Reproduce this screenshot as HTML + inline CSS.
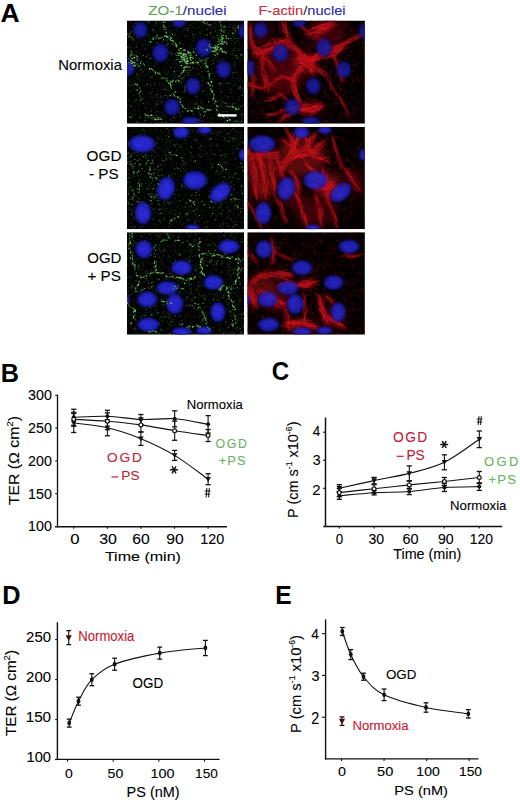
<!DOCTYPE html>
<html><head><meta charset="utf-8"><style>
html,body{margin:0;padding:0;background:#fff;}
svg{display:block;}
text{font-family:"Liberation Sans", sans-serif;}
</style></head><body>
<svg width="520" height="802" viewBox="0 0 520 802">
<rect width="520" height="802" fill="#fff"/>
<defs><radialGradient id="nucg0" cx="50%" cy="50%" r="50%"><stop offset="0" stop-color="#1c1ca8"/><stop offset="0.5" stop-color="#1a1a9e"/><stop offset="0.8" stop-color="#10107a"/><stop offset="1" stop-color="#0a0a50" stop-opacity="0"/></radialGradient><radialGradient id="nucg1" cx="50%" cy="50%" r="50%"><stop offset="0" stop-color="#2c2cdc"/><stop offset="0.5" stop-color="#2828d0"/><stop offset="0.8" stop-color="#1c1ca8"/><stop offset="1" stop-color="#0a0a50" stop-opacity="0"/></radialGradient><radialGradient id="nucg2" cx="50%" cy="50%" r="50%"><stop offset="0" stop-color="#2a2ad8"/><stop offset="0.5" stop-color="#2626cc"/><stop offset="0.8" stop-color="#1a1aa4"/><stop offset="1" stop-color="#0a0a50" stop-opacity="0"/></radialGradient><filter id="bl1" x="-20%" y="-20%" width="140%" height="140%"><feGaussianBlur stdDeviation="0.55"/></filter><filter id="bl2" x="-20%" y="-20%" width="140%" height="140%"><feGaussianBlur stdDeviation="0.9"/></filter><filter id="bl3" x="-50%" y="-50%" width="200%" height="200%"><feGaussianBlur stdDeviation="5"/></filter>
<clipPath id="cp00"><rect x="127" y="20.5" width="117.1" height="103.2"/></clipPath>
<clipPath id="cp01"><rect x="127" y="126.9" width="117.1" height="102.29999999999998"/></clipPath>
<clipPath id="cp02"><rect x="127" y="232.2" width="117.1" height="102.5"/></clipPath>
<clipPath id="cp10"><rect x="247.3" y="20.5" width="117.59999999999997" height="103.2"/></clipPath>
<clipPath id="cp11"><rect x="247.3" y="126.9" width="117.59999999999997" height="102.29999999999998"/></clipPath>
<clipPath id="cp12"><rect x="247.3" y="232.2" width="117.59999999999997" height="102.5"/></clipPath>
</defs>
<g clip-path="url(#cp00)">
<rect x="127" y="20.5" width="117.1" height="103.2" fill="#020402"/>
<g filter="url(#bl1)"><path d="M180.0 78.3h.2M136.7 46.7h.2M152.0 47.2h.2M225.2 29.1h.2M201.3 103.4h.2M237.9 72.1h.2M194.8 91.6h.2M230.0 92.2h.2M214.6 23.3h.2M211.2 46.4h.2M195.2 63.8h.2M221.8 84.9h.2M155.7 43.3h.2M212.7 82.2h.2M165.0 35.3h.2M193.6 37.5h.2M238.4 38.4h.2M154.6 66.0h.2M133.7 95.6h.2M230.3 54.1h.2M140.2 67.1h.2M165.3 55.0h.2M172.9 84.3h.2M133.0 27.1h.2M134.5 58.1h.2M221.0 105.9h.2M238.3 107.2h.2M211.0 110.3h.2M139.0 111.3h.2" fill="none" stroke="rgb(42,52,42)" stroke-width="1.2" stroke-opacity="1" stroke-linecap="round"/><path d="M181.5 72.9h.2M228.2 121.1h.2M135.6 29.8h.2M170.5 67.3h.2M188.1 118.2h.2M200.2 60.0h.2M185.4 72.1h.2M233.4 117.5h.2M209.1 99.1h.2M136.2 29.1h.2M129.8 90.4h.2M172.4 40.6h.2M150.1 57.6h.2M210.1 45.0h.2M198.7 73.5h.2M241.0 34.5h.2M213.4 59.9h.2M232.0 114.7h.2M153.0 97.6h.2M204.5 111.8h.2M233.3 21.2h.2M135.5 114.1h.2M152.6 37.1h.2M193.4 114.6h.2M167.6 112.5h.2M238.8 57.9h.2M148.6 21.9h.2M164.9 22.5h.2M156.2 103.6h.2M134.8 81.3h.2M210.7 64.3h.2M153.9 82.5h.2M200.5 66.6h.2M209.4 44.8h.2" fill="none" stroke="rgb(36,45,36)" stroke-width="1.2" stroke-opacity="1" stroke-linecap="round"/><path d="M149.2 103.5h.2M241.4 33.5h.2M147.9 21.6h.2M207.7 118.1h.2M235.1 48.3h.2M224.5 103.4h.2M198.8 113.9h.2M215.2 22.3h.2M219.2 62.1h.2M215.8 98.1h.2M137.7 77.9h.2M226.3 97.6h.2M220.6 32.9h.2M145.6 62.0h.2M233.3 103.5h.2M145.7 84.7h.2M159.1 44.0h.2M150.7 110.0h.2M221.0 99.8h.2M228.6 33.6h.2" fill="none" stroke="rgb(33,41,33)" stroke-width="1.2" stroke-opacity="1" stroke-linecap="round"/><path d="M200.8 102.3h.2M192.9 31.6h.2M128.8 62.8h.2M165.2 121.9h.2M152.5 123.5h.2M235.0 82.9h.2M221.2 47.2h.2M169.4 21.5h.2M233.5 24.3h.2M158.6 94.4h.2M169.1 91.4h.2M137.8 35.0h.2M181.2 93.1h.2M153.5 36.7h.2M167.1 87.7h.2M207.8 105.7h.2M198.7 51.0h.2M233.0 53.7h.2M219.5 35.2h.2M196.2 76.8h.2" fill="none" stroke="rgb(21,26,21)" stroke-width="1.2" stroke-opacity="1" stroke-linecap="round"/><path d="M179.3 35.1h.2M188.2 107.6h.2M207.9 27.3h.2M139.4 24.4h.2M200.0 31.1h.2M205.7 71.4h.2M200.4 117.7h.2M234.1 55.8h.2M243.3 48.0h.2M238.7 98.4h.2M210.5 46.7h.2M190.6 78.4h.2M219.8 33.3h.2M147.1 111.3h.2M167.7 39.4h.2M195.2 92.9h.2M160.5 97.8h.2M150.5 77.4h.2M130.8 56.8h.2M173.4 26.4h.2M227.4 118.0h.2M151.7 97.2h.2M177.7 44.2h.2" fill="none" stroke="rgb(35,43,35)" stroke-width="1.2" stroke-opacity="1" stroke-linecap="round"/><path d="M221.8 92.1h.2M228.6 64.8h.2M171.2 76.1h.2M235.5 30.3h.2M243.0 113.7h.2M185.0 83.6h.2M174.9 91.1h.2M232.1 97.7h.2M155.7 93.4h.2M229.9 24.6h.2M217.9 39.0h.2M218.5 65.9h.2M155.6 116.7h.2M232.9 53.6h.2M185.9 61.4h.2M164.6 70.4h.2M224.3 101.7h.2M152.3 120.7h.2M176.7 28.4h.2M190.3 63.8h.2M173.1 45.1h.2M167.4 42.8h.2M230.8 28.0h.2M228.4 110.3h.2M181.9 77.4h.2M135.4 71.8h.2" fill="none" stroke="rgb(19,23,19)" stroke-width="1.2" stroke-opacity="1" stroke-linecap="round"/><path d="M196.7 61.4h.2M137.8 34.8h.2M208.3 67.7h.2M132.5 85.4h.2M220.3 117.9h.2M167.8 29.0h.2M216.5 54.2h.2M228.8 103.3h.2M193.5 104.6h.2M233.3 55.4h.2M221.4 106.6h.2M158.2 111.6h.2M147.1 66.0h.2M242.7 24.0h.2M185.1 65.4h.2M242.5 35.4h.2M191.6 45.4h.2M224.7 75.7h.2M154.9 31.6h.2M130.6 90.9h.2" fill="none" stroke="rgb(32,40,32)" stroke-width="1.2" stroke-opacity="1" stroke-linecap="round"/><path d="M203.6 84.0h.2M134.0 102.8h.2M179.2 26.7h.2M238.2 49.1h.2M224.3 78.5h.2M200.5 56.4h.2M215.9 25.2h.2M155.7 24.9h.2M224.9 78.6h.2M198.0 36.7h.2M133.2 79.5h.2M190.6 74.7h.2M142.4 85.6h.2M215.8 58.0h.2M202.0 99.3h.2M191.0 78.7h.2M187.4 121.3h.2M235.8 72.1h.2M133.1 66.8h.2M161.8 104.6h.2M145.3 40.3h.2M224.5 108.8h.2M163.2 28.6h.2M224.6 95.3h.2M158.0 42.5h.2M185.5 101.0h.2M238.0 53.8h.2M145.2 28.0h.2" fill="none" stroke="rgb(23,28,23)" stroke-width="1.2" stroke-opacity="1" stroke-linecap="round"/><path d="M200.0 106.3h.2M153.9 50.3h.2M241.8 61.5h.2M197.1 28.2h.2M212.5 53.4h.2M168.2 91.2h.2M128.5 28.0h.2M187.3 52.5h.2M231.9 24.7h.2M242.9 33.1h.2M142.7 90.8h.2M187.0 22.1h.2M162.0 100.5h.2M219.3 29.2h.2M231.2 92.1h.2M175.8 115.1h.2M243.8 89.3h.2M148.7 77.0h.2M219.5 111.6h.2M205.2 68.3h.2M154.5 85.8h.2M209.8 42.8h.2M198.8 27.1h.2M213.4 111.1h.2M129.8 77.8h.2M179.7 52.7h.2M217.3 77.2h.2" fill="none" stroke="rgb(20,25,20)" stroke-width="1.2" stroke-opacity="1" stroke-linecap="round"/><path d="M134.0 40.1h.2M233.4 104.9h.2M204.3 66.1h.2M189.6 24.2h.2M235.2 33.2h.2M238.6 96.3h.2M159.6 45.2h.2M243.2 67.8h.2M243.0 88.4h.2M150.2 29.1h.2M160.8 113.1h.2M155.6 107.6h.2M182.7 31.4h.2M190.8 88.3h.2M154.6 71.0h.2M160.3 93.1h.2M144.5 40.4h.2M228.9 87.5h.2M242.6 64.9h.2M219.2 71.1h.2M150.3 63.2h.2M203.3 26.8h.2" fill="none" stroke="rgb(25,31,25)" stroke-width="1.2" stroke-opacity="1" stroke-linecap="round"/><path d="M197.2 100.8h.2M158.6 29.5h.2M209.4 102.4h.2M150.7 38.0h.2M225.6 85.0h.2M189.9 102.1h.2M197.2 72.5h.2M236.3 34.2h.2M211.6 27.8h.2M195.1 95.1h.2M183.7 57.0h.2M170.2 30.5h.2M152.6 88.3h.2M159.0 31.4h.2M173.2 55.4h.2M237.8 120.0h.2M177.8 100.1h.2M223.2 60.3h.2M192.2 41.6h.2M183.0 63.6h.2M155.6 51.4h.2M139.4 95.4h.2M203.1 26.5h.2M225.3 32.8h.2M134.0 60.1h.2M155.1 30.1h.2M195.6 68.9h.2M202.2 60.2h.2M185.9 62.1h.2M151.0 111.4h.2M132.4 26.1h.2M156.5 63.9h.2" fill="none" stroke="rgb(28,35,28)" stroke-width="1.2" stroke-opacity="1" stroke-linecap="round"/><path d="M178.6 107.4h.2M206.9 39.9h.2M132.6 31.8h.2M224.3 60.0h.2M191.4 87.9h.2M234.3 69.1h.2M226.6 120.4h.2M236.6 115.4h.2M240.4 32.4h.2M154.8 66.3h.2M233.1 77.3h.2M173.8 117.0h.2M160.0 22.8h.2M239.2 86.6h.2M220.8 60.2h.2M234.8 64.6h.2M210.5 122.3h.2M193.3 113.9h.2M141.4 27.9h.2M178.6 75.0h.2M183.0 92.1h.2M157.2 43.2h.2M165.1 38.8h.2M181.7 106.8h.2M132.0 115.4h.2M174.9 67.6h.2M141.5 30.3h.2" fill="none" stroke="rgb(34,42,34)" stroke-width="1.2" stroke-opacity="1" stroke-linecap="round"/><path d="M154.4 50.9h.2M226.1 60.4h.2M142.8 93.5h.2M209.1 119.9h.2M130.5 72.1h.2M234.8 46.9h.2M157.7 94.6h.2M128.1 47.3h.2M242.4 56.5h.2M144.1 116.9h.2M227.6 113.3h.2M234.3 80.9h.2M211.7 108.9h.2M188.1 122.2h.2M185.0 69.3h.2M141.1 54.6h.2M232.3 84.9h.2M218.1 74.7h.2M199.9 52.2h.2M128.5 83.5h.2" fill="none" stroke="rgb(18,22,18)" stroke-width="1.2" stroke-opacity="1" stroke-linecap="round"/><path d="M204.6 67.7h.2M176.3 42.5h.2M198.1 90.5h.2M150.2 105.5h.2M167.1 64.0h.2M141.4 73.2h.2M128.3 47.2h.2M189.1 70.4h.2M172.6 75.1h.2M186.6 66.1h.2M147.3 74.1h.2M141.1 91.8h.2M226.8 82.8h.2M199.7 74.7h.2M223.1 38.2h.2M208.0 57.9h.2M141.7 96.9h.2M158.4 48.5h.2M139.5 116.8h.2M199.2 105.9h.2M174.1 93.3h.2M211.8 72.7h.2M144.8 68.9h.2M220.4 73.3h.2M163.9 85.5h.2M195.0 24.8h.2" fill="none" stroke="rgb(26,32,26)" stroke-width="1.2" stroke-opacity="1" stroke-linecap="round"/><path d="M174.6 77.4h.2M142.9 71.7h.2M184.8 53.0h.2M180.3 23.1h.2M184.7 55.6h.2M129.7 85.8h.2M193.7 57.4h.2M214.2 100.8h.2M211.6 68.8h.2M167.2 97.4h.2M234.1 62.9h.2M148.1 62.0h.2M232.0 40.7h.2M176.8 92.3h.2M228.5 66.1h.2M196.1 92.5h.2" fill="none" stroke="rgb(44,55,44)" stroke-width="1.2" stroke-opacity="1" stroke-linecap="round"/><path d="M226.2 20.6h.2M162.6 111.8h.2M135.7 42.4h.2M165.3 89.2h.2M152.7 115.5h.2M140.2 69.1h.2M172.4 67.0h.2M218.3 22.9h.2M189.0 37.0h.2M228.2 75.6h.2M164.0 53.0h.2M207.2 22.3h.2M144.2 39.5h.2M176.9 57.1h.2M177.5 39.2h.2M187.3 71.9h.2M200.1 67.5h.2M185.8 87.9h.2M171.0 37.8h.2M186.2 22.5h.2M243.1 103.0h.2M205.1 47.0h.2M189.1 47.4h.2M243.9 93.4h.2M241.4 69.3h.2M150.7 85.8h.2M206.5 109.5h.2M179.9 59.4h.2M243.8 110.4h.2M187.2 21.6h.2M204.1 42.0h.2" fill="none" stroke="rgb(24,30,24)" stroke-width="1.2" stroke-opacity="1" stroke-linecap="round"/><path d="M235.6 25.9h.2M176.1 60.1h.2M198.5 106.2h.2M237.1 40.8h.2M234.1 111.3h.2M193.0 86.6h.2M200.3 114.4h.2M180.2 96.8h.2M162.0 42.8h.2M193.7 75.5h.2M132.9 40.7h.2M183.1 47.4h.2M202.0 66.6h.2M188.8 32.7h.2M173.0 107.5h.2M221.2 70.1h.2M163.1 114.9h.2M141.1 114.4h.2M224.1 111.3h.2M127.1 76.6h.2M220.8 33.4h.2M193.6 48.8h.2M194.5 44.0h.2M148.4 22.8h.2M222.2 27.7h.2M144.3 86.0h.2M140.7 39.3h.2M180.3 116.9h.2M241.3 122.9h.2" fill="none" stroke="rgb(30,37,30)" stroke-width="1.2" stroke-opacity="1" stroke-linecap="round"/><path d="M193.3 41.0h.2M140.2 101.0h.2M221.5 119.4h.2M232.5 74.0h.2M201.3 55.9h.2M154.2 118.0h.2M202.5 77.2h.2M141.6 66.2h.2M159.6 98.5h.2M178.6 81.9h.2M193.4 23.3h.2M242.6 117.5h.2M202.1 24.4h.2M148.2 44.8h.2M156.1 71.8h.2M152.3 91.6h.2M210.8 92.3h.2M201.3 58.4h.2M200.9 61.4h.2M143.6 80.0h.2M207.8 67.3h.2M166.0 80.8h.2M181.4 53.1h.2" fill="none" stroke="rgb(39,48,39)" stroke-width="1.2" stroke-opacity="1" stroke-linecap="round"/><path d="M149.3 96.0h.2M202.2 30.9h.2M160.0 75.3h.2M227.8 57.3h.2M214.1 104.6h.2M216.5 54.3h.2M170.1 60.8h.2M136.9 85.9h.2M176.4 63.9h.2M212.6 51.8h.2M152.9 25.6h.2M143.3 41.7h.2M150.4 68.8h.2M191.2 39.7h.2M155.2 112.4h.2M149.0 73.5h.2M151.0 78.7h.2M208.2 102.1h.2M230.1 65.1h.2" fill="none" stroke="rgb(22,27,22)" stroke-width="1.2" stroke-opacity="1" stroke-linecap="round"/><path d="M148.9 123.3h.2M172.9 63.9h.2M192.5 108.5h.2M170.1 35.3h.2M189.8 72.4h.2M164.1 40.3h.2M164.7 57.2h.2M189.0 108.3h.2M145.0 106.8h.2M163.3 114.5h.2M221.2 28.0h.2M154.6 94.5h.2M219.5 88.6h.2M219.3 105.7h.2M243.2 104.9h.2M165.1 83.3h.2M142.0 98.5h.2M166.5 121.8h.2M203.1 77.1h.2M206.5 24.7h.2M233.7 26.2h.2M140.6 117.6h.2M158.1 59.2h.2" fill="none" stroke="rgb(37,46,37)" stroke-width="1.2" stroke-opacity="1" stroke-linecap="round"/><path d="M201.5 22.1h.2M131.1 22.3h.2M162.3 30.9h.2M188.7 82.2h.2M218.8 85.0h.2M145.8 44.7h.2M157.2 104.1h.2M156.1 57.8h.2M231.5 110.7h.2M144.5 33.8h.2M232.7 77.1h.2M165.5 116.4h.2M222.5 61.5h.2M134.5 100.7h.2M210.7 48.2h.2M168.6 31.1h.2M141.3 100.5h.2M240.4 54.9h.2M185.4 87.2h.2M140.9 28.2h.2M162.7 41.8h.2M139.4 35.3h.2M167.1 73.9h.2M220.3 36.2h.2M147.9 54.9h.2" fill="none" stroke="rgb(29,36,29)" stroke-width="1.2" stroke-opacity="1" stroke-linecap="round"/><path d="M183.6 79.8h.2M135.7 23.7h.2M157.0 89.8h.2M220.9 93.2h.2M175.7 74.2h.2M172.2 120.6h.2M137.5 67.4h.2M217.4 30.0h.2M217.4 35.4h.2M127.2 105.3h.2M238.9 81.0h.2M140.3 100.2h.2M143.2 98.5h.2M231.1 68.3h.2M240.2 89.2h.2M187.5 72.7h.2M235.2 38.8h.2M225.2 66.9h.2M174.5 60.4h.2M161.9 89.7h.2M158.9 59.4h.2M127.4 77.0h.2M159.4 117.4h.2M199.2 112.1h.2M180.2 75.8h.2M175.2 34.1h.2" fill="none" stroke="rgb(45,56,45)" stroke-width="1.2" stroke-opacity="1" stroke-linecap="round"/><path d="M172.2 85.2h.2M232.4 121.7h.2M152.9 74.9h.2M228.9 83.4h.2M145.2 21.7h.2M147.2 36.8h.2M177.3 71.5h.2M183.3 72.4h.2M133.8 36.9h.2M176.5 80.6h.2M240.6 26.6h.2M174.1 114.5h.2M163.4 28.3h.2M171.0 76.2h.2M171.1 31.8h.2M194.4 67.3h.2M208.1 44.3h.2M130.6 113.2h.2M136.2 43.5h.2M154.9 35.6h.2M137.1 44.0h.2M152.1 68.8h.2M229.9 89.6h.2M142.9 72.8h.2M222.8 111.9h.2M235.3 71.6h.2M238.9 43.2h.2M140.8 33.2h.2" fill="none" stroke="rgb(27,33,27)" stroke-width="1.2" stroke-opacity="1" stroke-linecap="round"/><path d="M211.9 36.9h.2M139.8 75.8h.2M211.5 105.0h.2M209.5 41.2h.2M175.8 82.5h.2M193.1 81.6h.2M223.7 39.5h.2M155.8 37.2h.2M240.2 106.1h.2M232.6 36.2h.2M238.2 121.3h.2M205.1 49.1h.2M216.6 71.9h.2M182.3 71.1h.2M157.7 61.1h.2M199.7 50.6h.2M221.9 58.1h.2M140.0 39.8h.2M177.0 71.0h.2M232.6 27.9h.2M174.8 35.6h.2M238.5 28.6h.2M238.2 22.9h.2" fill="none" stroke="rgb(38,47,38)" stroke-width="1.2" stroke-opacity="1" stroke-linecap="round"/><path d="M230.3 82.8h.2M214.7 27.6h.2M201.9 123.0h.2M159.0 71.9h.2M211.0 92.9h.2M137.3 60.5h.2M131.8 41.2h.2M135.6 114.0h.2M138.4 104.7h.2M179.7 45.9h.2M197.3 69.0h.2M165.7 74.2h.2M161.7 84.1h.2M239.6 48.8h.2M239.1 100.9h.2M217.3 32.1h.2M171.3 25.6h.2M130.7 52.7h.2M200.5 84.6h.2M221.3 50.8h.2M240.6 78.3h.2M179.5 27.1h.2" fill="none" stroke="rgb(31,38,31)" stroke-width="1.2" stroke-opacity="1" stroke-linecap="round"/><path d="M239.7 45.1h.2M241.8 88.3h.2M183.3 44.3h.2M158.9 56.2h.2M145.6 108.1h.2M130.4 47.4h.2M197.4 21.9h.2M192.7 49.8h.2M169.9 32.6h.2M179.1 109.6h.2M150.7 109.1h.2M210.5 34.4h.2M131.1 82.1h.2M164.0 68.7h.2M217.0 56.7h.2M223.4 111.7h.2M220.3 61.0h.2M193.5 63.9h.2M242.8 25.5h.2M134.6 110.3h.2M171.3 104.8h.2M148.2 33.7h.2M238.8 50.7h.2" fill="none" stroke="rgb(40,50,40)" stroke-width="1.2" stroke-opacity="1" stroke-linecap="round"/><path d="M184.5 74.2h.2M135.8 76.9h.2M132.2 117.1h.2M212.3 60.6h.2M233.1 29.5h.2M195.7 34.6h.2M142.7 45.2h.2M129.7 84.0h.2M159.2 83.4h.2M217.0 66.4h.2M165.1 77.1h.2M136.6 51.9h.2M221.9 34.0h.2M205.2 90.2h.2M237.7 78.6h.2M234.9 84.8h.2M234.2 37.9h.2M230.0 123.6h.2M149.2 39.0h.2M201.3 122.0h.2M157.0 94.4h.2M201.9 80.3h.2M206.6 94.5h.2M199.7 74.1h.2M169.1 99.5h.2M209.7 47.4h.2M193.3 104.0h.2M167.4 61.5h.2M235.3 33.0h.2M213.4 52.8h.2M151.2 85.4h.2M243.5 91.9h.2M169.6 59.1h.2" fill="none" stroke="rgb(41,51,41)" stroke-width="1.2" stroke-opacity="1" stroke-linecap="round"/><path d="M229.0 63.6h.2M193.8 52.4h.2M158.2 100.9h.2M184.1 23.4h.2M147.2 55.1h.2M187.4 61.8h.2M180.7 115.5h.2M224.4 64.0h.2M243.5 86.3h.2M155.5 74.5h.2M234.0 65.7h.2M240.2 87.7h.2M220.1 100.4h.2M173.9 92.7h.2M180.2 62.1h.2M161.6 48.7h.2M160.3 46.4h.2M240.2 60.2h.2M139.2 22.5h.2M160.5 96.0h.2M170.7 52.4h.2M208.3 76.8h.2M166.4 34.9h.2M188.7 104.1h.2M180.1 42.1h.2" fill="none" stroke="rgb(43,53,43)" stroke-width="1.2" stroke-opacity="1" stroke-linecap="round"/><path d="M209.1 123.5h.3M155.9 63.2h.3M145.3 75.3h.3M137.5 79.6h.3M214.0 51.7h.3M215.7 103.9h.3M131.0 46.1h.3M241.1 114.6h.3M185.4 59.8h.3M176.8 36.9h.3M159.0 117.4h.3M221.1 47.5h.3M136.5 43.5h.3M237.6 121.4h.3M174.0 105.4h.3M198.7 27.0h.3M201.8 85.9h.3M201.0 68.2h.3M164.4 86.5h.3M168.3 26.5h.3M155.6 115.4h.3M181.7 91.8h.3M139.1 54.4h.3M188.2 70.8h.3M138.3 93.3h.3" fill="none" stroke="rgb(27,50,22)" stroke-width="1.0" stroke-opacity="1" stroke-linecap="round"/><path d="M244.1 88.2h.3M187.4 30.4h.3M156.7 104.2h.3M181.9 22.1h.3M169.9 106.4h.3M192.7 121.1h.3M192.4 67.9h.3M147.3 84.3h.3M210.5 32.8h.3M128.3 36.4h.3M240.1 86.9h.3M152.8 29.2h.3M171.8 53.8h.3M187.9 74.9h.3M225.4 42.2h.3M137.0 122.1h.3M143.2 55.6h.3M129.6 116.9h.3M151.8 76.9h.3M200.2 114.8h.3M207.3 35.0h.3M179.1 113.1h.3M135.4 32.5h.3M168.7 106.3h.3M164.9 22.0h.3M217.3 35.8h.3M241.8 54.4h.3M185.6 36.0h.3M166.0 36.1h.3M207.7 58.1h.3M211.1 50.5h.3M135.9 23.5h.3M159.5 73.1h.3M220.7 37.3h.3M204.3 115.4h.3M236.7 57.9h.3M202.0 48.4h.3M206.6 29.4h.3M236.9 121.2h.3M220.0 83.3h.3M130.7 32.0h.3M130.7 106.1h.3M197.8 107.9h.3M132.6 58.7h.3M135.2 28.1h.3M172.3 34.5h.3M205.5 44.5h.3M209.2 45.0h.3M190.3 79.1h.3M180.8 82.7h.3M240.8 55.2h.3M160.8 38.1h.3M173.9 71.9h.3M220.7 44.7h.3M140.8 69.6h.3M173.8 117.5h.3M163.4 39.7h.3M217.7 47.5h.3M199.9 33.4h.3M217.0 101.5h.3M199.5 119.8h.3" fill="none" stroke="rgb(82,150,67)" stroke-width="1.0" stroke-opacity="1" stroke-linecap="round"/><path d="M203.8 43.0h.3M136.8 37.7h.3M129.8 56.7h.3M219.4 51.6h.3M142.2 29.6h.3M232.2 104.1h.3M145.1 120.6h.3M192.6 34.7h.3M235.6 30.5h.3M224.9 26.9h.3M196.0 53.0h.3M222.9 101.9h.3M132.6 85.0h.3M213.3 63.7h.3M150.5 93.0h.3M186.9 70.2h.3M213.9 37.7h.3M146.2 56.6h.3M141.1 99.4h.3M156.2 22.6h.3M172.6 105.3h.3M227.1 83.4h.3M190.5 70.1h.3M167.8 44.5h.3M139.9 117.6h.3M229.1 26.8h.3M193.9 121.9h.3M188.0 28.5h.3M196.2 91.3h.3M166.0 45.1h.3M198.5 82.0h.3M163.4 27.3h.3M165.6 95.5h.3M178.7 25.1h.3M151.2 114.1h.3M242.2 95.4h.3M195.2 48.8h.3M161.5 102.3h.3M178.4 80.8h.3M129.8 64.3h.3M168.8 111.7h.3M198.7 64.8h.3M184.6 90.4h.3M167.6 78.2h.3M214.3 103.1h.3M171.4 20.7h.3M164.0 89.2h.3M241.6 115.1h.3M127.3 47.8h.3M233.7 50.5h.3" fill="none" stroke="rgb(68,125,56)" stroke-width="1.0" stroke-opacity="1" stroke-linecap="round"/><path d="M151.5 58.7h.3M193.0 27.5h.3M163.1 56.9h.3M242.9 81.3h.3M136.2 47.4h.3M162.1 96.8h.3M130.8 57.6h.3M128.0 62.5h.3M127.8 81.7h.3M133.2 30.1h.3M156.3 23.9h.3M179.4 65.6h.3M207.9 87.9h.3M165.0 34.9h.3M212.5 79.8h.3M234.9 103.3h.3M233.3 27.2h.3M172.3 32.6h.3M168.8 51.7h.3M218.8 43.0h.3M224.3 121.8h.3M231.1 89.4h.3M138.9 78.9h.3M168.5 72.0h.3M230.0 31.0h.3M157.0 43.1h.3M232.2 53.1h.3M170.5 119.4h.3M128.8 100.0h.3M147.6 36.0h.3M156.9 111.0h.3M136.2 99.3h.3M151.1 111.1h.3M237.7 40.4h.3M132.8 52.2h.3M235.2 72.5h.3M240.0 86.4h.3M184.2 24.5h.3M133.1 37.3h.3M156.4 97.2h.3M226.9 111.5h.3M145.5 118.3h.3M202.1 120.6h.3M190.1 25.7h.3M173.7 24.8h.3M184.4 70.3h.3M167.1 40.8h.3M155.9 95.8h.3M221.8 103.2h.3M134.6 89.4h.3M145.9 102.6h.3M154.0 84.3h.3M133.6 31.8h.3M182.4 97.3h.3" fill="none" stroke="rgb(41,75,33)" stroke-width="1.0" stroke-opacity="1" stroke-linecap="round"/><path d="M208.5 101.6h.3M174.4 71.4h.3M204.0 63.8h.3M184.3 88.0h.3M196.0 103.9h.3M170.4 95.8h.3M241.1 121.1h.3M130.5 117.5h.3M235.4 109.1h.3M137.1 74.1h.3M179.9 43.3h.3M236.1 55.8h.3M170.0 95.5h.3M234.9 121.2h.3M180.9 54.8h.3M181.8 78.4h.3M219.7 83.5h.3M210.3 24.5h.3M202.9 91.3h.3" fill="none" stroke="rgb(96,175,78)" stroke-width="1.0" stroke-opacity="1" stroke-linecap="round"/><path d="M182.5 111.7h.3M139.8 96.6h.3M217.8 60.7h.3M182.8 57.5h.3M166.1 32.6h.3M153.1 30.7h.3M169.8 82.2h.3M140.8 98.8h.3M176.8 109.3h.3M160.1 123.7h.3M135.8 101.1h.3M140.3 32.7h.3M235.0 42.3h.3M145.2 48.8h.3M130.7 65.1h.3M184.8 91.7h.3M221.0 91.1h.3M194.2 107.4h.3M184.3 85.8h.3M171.2 94.4h.3M241.3 114.4h.3M215.2 31.1h.3M168.2 37.0h.3M227.8 96.6h.3M146.7 123.3h.3M156.6 34.1h.3M201.8 52.1h.3M149.9 58.4h.3M204.8 35.0h.3M183.9 28.6h.3M192.7 34.4h.3M162.2 122.4h.3M241.2 106.5h.3M168.1 43.1h.3M166.3 90.1h.3M203.3 116.6h.3M242.9 58.8h.3M196.5 97.0h.3M143.0 103.4h.3M212.1 118.5h.3M148.4 22.1h.3M199.5 58.6h.3M163.7 77.8h.3M232.7 72.5h.3M207.8 66.5h.3M239.0 88.4h.3M157.4 50.2h.3M205.4 65.5h.3M201.8 71.3h.3M208.3 73.7h.3M160.8 116.8h.3" fill="none" stroke="rgb(55,100,45)" stroke-width="1.0" stroke-opacity="1" stroke-linecap="round"/></g>
<g filter="url(#bl2)"><ellipse cx="140.5" cy="30.0" rx="7.8" ry="8.8" fill="url(#nucg0)"/><ellipse cx="179.0" cy="23.0" rx="7.3" ry="4.7" fill="url(#nucg0)"/><ellipse cx="160.3" cy="53.0" rx="9.2" ry="10.2" fill="url(#nucg0)"/><ellipse cx="203.8" cy="47.5" rx="9.0" ry="10.2" fill="url(#nucg0)"/><ellipse cx="129.5" cy="68.0" rx="5.7" ry="8.8" fill="url(#nucg0)"/><ellipse cx="223.6" cy="69.5" rx="8.3" ry="9.4" fill="url(#nucg0)"/><ellipse cx="193.0" cy="86.0" rx="8.3" ry="9.4" fill="url(#nucg0)"/><ellipse cx="172.0" cy="107.0" rx="8.8" ry="9.4" fill="url(#nucg0)"/><ellipse cx="190.7" cy="121.0" rx="10.4" ry="4.7" fill="url(#nucg0)"/><ellipse cx="242.0" cy="31.0" rx="3.6" ry="8.3" fill="url(#nucg0)"/><path d="M140.7 33.9h.01M141.9 23.7h.01M139.9 30.4h.01M180.8 25.9h.01M178.4 26.2h.01M166.7 50.9h.01M210.3 46.9h.01M127.9 71.7h.01M192.1 84.0h.01M191.7 86.7h.01M172.0 110.0h.01M176.6 103.9h.01M175.2 102.0h.01M190.4 120.2h.01M240.3 30.2h.01" stroke="#2424b8" stroke-width="1.8" stroke-linecap="round" stroke-opacity="0.6"/><path d="M137.4 35.6h.01M177.2 22.0h.01M180.0 20.3h.01M203.5 54.5h.01M200.6 44.0h.01M129.9 63.0h.01M228.9 68.7h.01M223.5 64.0h.01M220.1 75.4h.01M187.3 83.0h.01M191.3 91.7h.01M194.9 82.1h.01M176.9 108.9h.01M174.0 104.4h.01M171.1 112.0h.01M169.7 112.2h.01M184.6 121.5h.01" stroke="#1c1ca8" stroke-width="1.8" stroke-linecap="round" stroke-opacity="0.6"/><path d="M134.7 28.9h.01M140.8 24.9h.01M143.0 28.0h.01M155.6 56.6h.01M158.6 54.3h.01M203.3 48.5h.01M202.1 53.9h.01M130.1 71.6h.01M225.7 65.7h.01M223.7 64.0h.01M226.8 68.3h.01M195.9 90.4h.01M195.1 89.2h.01M166.3 109.3h.01M172.5 110.4h.01M242.2 25.8h.01M243.6 31.6h.01M240.3 36.1h.01" stroke="#0c0c70" stroke-width="1.8" stroke-linecap="round" stroke-opacity="0.6"/><path d="M137.2 32.2h.01M167.1 51.8h.01M158.7 48.1h.01M165.3 52.8h.01M159.6 46.9h.01M198.5 44.4h.01M205.1 52.5h.01M205.2 46.1h.01M228.1 71.5h.01M217.5 67.5h.01M170.8 103.0h.01M192.5 117.7h.01M194.3 118.0h.01M192.3 124.3h.01" stroke="#101088" stroke-width="1.8" stroke-linecap="round" stroke-opacity="0.6"/><path d="M143.3 33.1h.01M159.0 47.9h.01M160.0 52.9h.01M161.4 54.3h.01M156.7 55.8h.01M166.5 50.9h.01M199.8 49.0h.01M202.3 45.9h.01M200.2 43.4h.01M201.6 42.5h.01M127.5 63.4h.01M127.0 66.4h.01M127.9 65.9h.01M128.2 74.3h.01M223.4 75.4h.01M226.1 74.4h.01M191.2 82.7h.01M188.5 87.3h.01M196.9 86.7h.01M171.8 103.3h.01M188.8 121.1h.01" stroke="#2828c0" stroke-width="1.8" stroke-linecap="round" stroke-opacity="0.6"/></g>
<g filter="url(#bl1)"><path d="M161.7 20.2l0.3 1.0M165.9 27.1l0.1 0.6M166.7 32.7l0.2 0.3M172.2 43.5l0.7 0.9M180.0 48.1l0.2 0.6M188.2 63.9l0.4 0.0M206.1 59.9l0.2 1.1M205.1 61.9l0.2 1.1M207.5 66.9l0.2 0.8M209.7 78.3l0.1 0.7M217.2 47.4l0.5 0.5M220.7 25.0l0.3 0.4M221.4 26.7l0.3 0.4M224.0 30.4l0.2 0.4M148.7 117.4l0.5 0.1M198.3 106.0l0.6 0.2M201.6 108.6l1.1 0.4M203.3 111.7l0.5 0.2M233.6 107.1l0.8 0.4M161.7 37.3l0.9 -0.2M185.0 69.3l-0.4 1.1M195.5 62.6l1.3 -0.4M202.5 60.0l0.3 -0.2M131.4 37.6l0.2 0.3M132.6 38.7l0.5 0.7M159.9 74.0l0.3 0.2" fill="none" stroke="rgb(82,150,67)" stroke-width="1.0" stroke-opacity="1" stroke-linecap="round"/><path d="M163.3 22.1l0.1 0.6M166.1 32.0l0.2 0.8M180.6 55.9l0.3 0.8M189.9 63.2l0.5 0.0M171.2 88.0l0.2 0.5M181.3 104.6l0.9 0.9M220.9 48.4l0.7 0.7M224.3 51.5l0.6 0.6M223.6 35.3l0.1 0.4M226.3 36.6l0.1 0.6M132.9 54.6l0.5 0.5M137.1 89.5l0.2 1.1M161.0 119.4l0.6 0.2M226.5 106.2l0.4 0.2M235.4 108.0l1.1 0.6M238.4 108.7l0.8 0.4M164.4 36.3l1.1 0.5M153.0 38.3l0.7 -0.4M183.6 70.0l-0.4 1.0M179.3 76.1l-0.4 0.6M176.2 81.0l-0.9 0.3M171.1 82.2l-0.9 0.0M152.0 69.8l1.1 0.7M155.1 73.0l0.7 0.4M166.8 80.6l0.9 0.6" fill="none" stroke="rgb(110,200,90)" stroke-width="1.0" stroke-opacity="1" stroke-linecap="round"/><path d="M163.3 24.8l0.1 0.4M176.2 46.1l0.6 0.8M184.0 60.5l0.8 0.8M191.0 62.9l1.2 0.0M168.4 82.7l0.4 0.9M175.1 91.6l0.3 0.6M174.4 95.4l0.6 0.9M179.9 98.6l0.5 0.8M182.4 106.1l0.9 0.9M208.1 71.1l0.1 0.6M213.7 94.2l0.3 1.0M216.4 105.3l0.2 0.9M136.8 84.2l0.8 1.1M159.8 118.8l0.8 0.2M158.8 38.5l1.2 -0.3M202.2 20.4l1.2 0.6M203.7 22.1l0.5 0.3M237.9 28.0l0.7 -0.7M181.7 72.9l-0.3 0.4M173.3 80.2l-0.5 0.2M200.9 61.1l0.4 -0.2M222.0 114.5l0.8 0.8" fill="none" stroke="rgb(82,150,67)" stroke-width="1.3" stroke-opacity="1" stroke-linecap="round"/><path d="M163.9 26.0l0.3 1.0M165.0 29.2l0.1 0.6M170.7 39.6l0.7 0.9M178.7 55.3l0.1 0.3M184.6 108.0l0.9 0.9M209.2 76.1l0.1 0.4M210.7 88.9l0.4 1.2M217.7 106.3l0.1 0.4M216.2 108.9l0.1 0.5M218.8 47.6l0.3 0.3M220.7 49.5l0.9 0.9M224.0 26.3l0.4 0.7M223.8 31.9l0.1 0.3M137.6 56.4l0.3 0.3M140.4 63.3l0.5 0.6M143.9 64.6l0.7 0.4M135.1 83.7l0.8 1.0M206.9 109.9l1.3 -0.2M208.6 110.1l1.2 -0.2M228.4 106.2l0.3 0.2M170.0 39.8l1.1 0.6M175.7 44.0l0.7 1.0M176.0 45.5l0.7 0.9M153.0 39.5l0.9 -0.4M237.8 26.1l0.6 -0.6M183.7 71.5l-0.6 0.9M219.0 113.2l0.5 0.5M223.7 117.4l0.5 0.3M151.5 68.5l0.5 0.3M154.8 71.9l0.7 0.4" fill="none" stroke="rgb(123,225,101)" stroke-width="1.0" stroke-opacity="1" stroke-linecap="round"/><path d="M168.7 35.9l0.6 0.7M178.5 97.0l0.5 0.8M205.9 58.5l0.1 0.3M206.4 63.4l0.2 0.9M209.9 73.1l0.2 1.2M212.2 85.6l0.3 1.3M220.1 24.0l0.3 0.5M135.2 54.7l0.7 0.7M137.3 59.5l0.7 0.8M143.2 63.1l0.8 0.9M139.8 87.5l0.2 1.3M153.7 117.2l0.7 0.2M194.7 108.1l0.9 0.4M202.8 108.1l1.3 0.5M225.4 103.2l0.7 0.3M167.8 37.6l0.8 0.4M172.3 40.4l0.5 0.7M155.9 38.1l0.9 -0.2M193.5 61.4l0.3 -0.1M227.2 117.7l0.7 0.5M160.9 77.6l0.9 0.6" fill="none" stroke="rgb(68,125,56)" stroke-width="1.0" stroke-opacity="1" stroke-linecap="round"/><path d="M170.7 37.6l0.6 0.7M206.9 66.4l0.1 0.7M211.2 81.3l0.2 1.0M212.0 90.9l0.4 1.3M222.2 51.2l0.9 0.9M154.8 119.2l1.2 0.3M197.8 108.3l0.9 0.4M232.6 106.8l0.3 0.2M166.2 36.3l1.2 0.6M184.2 67.2l-0.3 0.8M197.7 62.9l0.8 -0.3M223.0 116.2l0.4 0.4M227.2 120.5l0.5 0.3M229.5 119.7l0.6 0.4M149.3 68.8l0.6 0.4" fill="none" stroke="rgb(123,225,101)" stroke-width="1.3" stroke-opacity="1" stroke-linecap="round"/><path d="M172.7 40.5l0.9 1.1M176.2 44.8l0.3 0.4M178.8 49.5l0.3 0.7M186.2 63.3l1.0 0.0M192.7 63.0l0.9 0.0M170.3 84.6l0.6 1.3M177.3 96.7l0.6 0.9M180.1 101.6l0.5 0.8M210.0 84.7l0.2 1.2M225.2 52.0l1.0 1.0M221.1 29.9l0.7 1.1M157.7 119.2l1.0 0.2M150.1 42.2l1.0 -0.5M232.6 33.5l0.3 -0.3M172.7 81.6l-1.0 0.0" fill="none" stroke="rgb(96,175,78)" stroke-width="1.3" stroke-opacity="1" stroke-linecap="round"/><path d="M177.6 52.1l0.2 0.6M173.4 94.1l0.4 0.9M206.0 65.1l0.2 1.3M209.1 74.1l0.2 1.1M215.4 100.6l0.3 1.4M215.9 45.4l0.8 0.8M140.8 61.0l0.9 1.0M140.4 90.7l0.2 1.1M204.8 111.9l1.3 -0.2M228.9 106.8l0.5 0.3M230.9 106.4l0.6 0.3M175.0 42.8l0.5 0.6M204.8 23.4l1.1 0.5M207.3 22.7l0.5 0.3M235.2 29.1l0.2 -0.2M187.6 63.1l-0.4 1.0M130.1 36.5l0.4 0.6" fill="none" stroke="rgb(96,175,78)" stroke-width="1.0" stroke-opacity="1" stroke-linecap="round"/><path d="M180.1 52.0l0.5 1.3M170.6 86.1l0.5 1.0M212.9 99.3l0.1 0.5M131.4 51.7l0.4 0.4M136.2 55.7l0.8 0.9M144.7 114.2l1.2 0.3M200.6 107.1l1.2 0.5M156.8 36.2l0.8 -0.2M216.7 110.0l0.8 0.8M126.7 33.5l0.7 0.5M129.2 34.3l0.6 0.4M159.1 74.0l0.3 0.2M162.7 78.1l0.7 0.4M165.8 78.5l0.8 0.5" fill="none" stroke="rgb(68,125,56)" stroke-width="1.3" stroke-opacity="1" stroke-linecap="round"/><path d="M181.3 58.8l0.6 0.6M185.0 62.2l0.4 0.4M219.8 21.6l0.5 0.8M139.5 92.6l0.2 1.3M145.8 115.6l1.2 0.3M151.5 118.3l1.0 0.3M157.1 117.3l0.9 0.2M210.1 110.0l1.3 -0.2M201.1 20.7l0.4 0.2M208.3 24.8l1.1 0.5M204.1 60.0l0.6 -0.3" fill="none" stroke="rgb(55,100,45)" stroke-width="1.3" stroke-opacity="1" stroke-linecap="round"/><path d="M183.3 59.8l0.3 0.3M169.8 80.3l0.3 0.5M181.1 103.9l0.5 0.7M213.8 96.4l0.2 0.5M129.8 51.0l0.5 0.5M131.8 53.3l0.6 0.6M173.9 41.9l0.3 0.4M161.1 37.7l0.3 -0.1M233.3 32.9l0.4 -0.4M234.8 31.9l0.7 -0.7M184.2 76.8l-0.5 0.8M177.7 79.9l-1.2 0.4M199.1 60.7l1.0 -0.3" fill="none" stroke="rgb(55,100,45)" stroke-width="1.0" stroke-opacity="1" stroke-linecap="round"/><path d="M170.2 83.8l0.4 0.8M187.3 110.8l0.9 0.3M190.9 110.7l1.3 0.4M208.1 82.6l0.3 1.3M213.4 97.9l0.2 0.7M147.5 115.3l0.7 0.2M150.6 115.3l1.3 0.3M236.7 109.7l0.3 0.2M186.9 66.3l-0.3 0.8M179.2 80.8l-0.6 0.2M157.5 73.0l0.5 0.3" fill="none" stroke="rgb(110,200,90)" stroke-width="1.3" stroke-opacity="1" stroke-linecap="round"/><path d="M189.4 55.4h.6M188.4 53.3h.6M181.7 61.4h.6M184.8 50.4h.6M191.1 55.1h.6M184.0 60.0h.6M184.8 59.6h.6M183.6 53.2h.6M181.2 54.2h.6M183.0 50.4h.6M190.3 53.2h.6M184.7 58.3h.6M216.5 49.3h.6M214.9 45.9h.6M219.8 49.6h.6M213.0 47.9h.6M220.7 49.2h.6M214.6 50.9h.6M221.3 43.0h.6M221.0 42.3h.6M221.7 37.7h.6M131.3 61.3h.6M130.8 63.6h.6M136.8 60.3h.6M129.0 62.5h.6M134.6 65.4h.6M132.9 61.9h.6M133.0 62.7h.6" fill="none" stroke="rgb(82,150,67)" stroke-width="1.1" stroke-opacity="1" stroke-linecap="round"/><path d="M188.2 52.8h.6M186.7 58.1h.6M189.8 52.5h.6M178.8 53.8h.6M184.1 59.5h.6M183.6 53.7h.6M177.2 59.2h.6M190.3 57.0h.6M179.5 61.8h.6M189.7 57.8h.6M186.2 56.2h.6M217.5 46.6h.6M208.9 46.3h.6M209.4 44.8h.6M215.2 48.9h.6M220.0 43.5h.6M218.1 38.7h.6M221.5 35.6h.6M222.7 38.3h.6M225.7 35.7h.6M138.4 66.1h.6M133.3 65.9h.6M138.5 65.7h.6M136.7 58.0h.6" fill="none" stroke="rgb(96,175,78)" stroke-width="1.1" stroke-opacity="1" stroke-linecap="round"/><path d="M182.3 55.5h.6M187.3 61.1h.6M192.0 57.3h.6M185.2 56.4h.6M183.2 59.6h.6M187.9 51.0h.6M176.6 55.5h.6M189.3 55.3h.6M181.1 57.8h.6M175.4 54.3h.6M181.9 57.2h.6M183.5 54.8h.6M186.0 59.3h.6M217.4 49.3h.6M216.0 52.3h.6M216.2 46.0h.6M214.9 51.2h.6M221.4 48.8h.6M217.1 48.7h.6M215.9 48.2h.6M226.0 41.7h.6M218.8 41.2h.6M220.6 43.2h.6M217.7 41.7h.6M230.7 38.2h.6M221.5 39.9h.6M131.2 69.2h.6M131.8 62.9h.6M126.3 59.4h.6M128.5 58.7h.6M136.6 64.1h.6M130.8 60.7h.6M134.2 64.2h.6" fill="none" stroke="rgb(68,125,56)" stroke-width="1.1" stroke-opacity="1" stroke-linecap="round"/><path d="M185.0 54.3h.6M186.0 54.9h.6M183.1 54.1h.6M181.9 59.7h.6M183.5 58.1h.6M182.5 59.8h.6M183.4 55.2h.6M184.5 60.6h.6M180.8 52.9h.6M192.7 58.3h.6M190.5 57.3h.6M181.6 57.5h.6M181.5 56.6h.6M196.0 55.3h.6M184.3 49.8h.6M183.8 56.9h.6M213.0 47.3h.6M214.7 55.1h.6M216.8 50.1h.6M213.4 51.0h.6M211.7 51.3h.6M220.7 48.4h.6M223.1 44.0h.6M225.9 38.8h.6M222.1 43.9h.6M221.9 41.4h.6M228.2 38.6h.6M130.4 60.5h.6M131.7 63.1h.6" fill="none" stroke="rgb(110,200,90)" stroke-width="1.1" stroke-opacity="1" stroke-linecap="round"/><path d="M190.1 57.9h.6M193.3 52.0h.6M185.5 62.8h.6M187.7 51.7h.6M180.6 48.6h.6M187.0 58.1h.6M188.8 67.1h.6M178.4 53.5h.6M192.4 62.2h.6M183.4 54.6h.6M179.8 61.8h.6M188.2 53.2h.6M190.4 59.9h.6M181.3 65.5h.6M187.1 61.6h.6M186.1 61.5h.6M184.9 67.3h.6M214.4 48.1h.6M213.5 51.5h.6M210.6 47.7h.6M206.8 49.9h.6M215.3 47.5h.6M217.2 53.9h.6M215.6 49.8h.6M219.9 40.0h.6M222.3 37.3h.6M218.2 44.5h.6M223.9 41.9h.6M131.8 58.2h.6M130.6 55.1h.6M134.7 65.8h.6" fill="none" stroke="rgb(123,225,101)" stroke-width="1.1" stroke-opacity="1" stroke-linecap="round"/><path d="M187.4 60.8h.6M221.9 39.0h.6M226.4 43.8h.6M134.5 62.7h.6M134.1 57.6h.6" fill="none" stroke="rgb(137,250,112)" stroke-width="1.1" stroke-opacity="1" stroke-linecap="round"/></g>
</g>
<g clip-path="url(#cp10)">
<rect x="247.3" y="20.5" width="117.59999999999997" height="103.2" fill="#050000"/>
<g filter="url(#bl3)"><ellipse cx="281.1" cy="70.0" rx="24.8" ry="24.8" fill="rgb(170,14,26)" fill-opacity="0.39"/><ellipse cx="326.1" cy="34.0" rx="20.3" ry="13.5" fill="rgb(170,14,26)" fill-opacity="0.35"/><ellipse cx="305.9" cy="63.3" rx="11.3" ry="11.3" fill="rgb(170,14,26)" fill-opacity="0.49"/><ellipse cx="310.4" cy="108.3" rx="13.5" ry="6.8" fill="rgb(170,14,26)" fill-opacity="0.42"/><ellipse cx="260.8" cy="34.0" rx="11.3" ry="11.3" fill="rgb(170,14,26)" fill-opacity="0.28"/></g>
<g filter="url(#bl2)"><path d="M256.31,54.28 C258.94,53.16 266.82,49.40 272.07,47.53 C277.33,45.65 285.21,43.77 287.84,43.02" fill="none" stroke="rgb(220,24,36)" stroke-width="2.88" stroke-opacity="0.55" stroke-linecap="round"/><path d="M287.84,43.02 C289.72,44.52 296.10,48.84 299.10,52.03 C302.10,55.22 304.73,60.48 305.86,62.17" fill="none" stroke="rgb(220,24,36)" stroke-width="1.60" stroke-opacity="0.50" stroke-linecap="round"/><path d="M305.86,62.17 C308.49,60.85 317.12,56.35 321.62,54.28 C326.13,52.22 329.51,51.28 332.89,49.78 C336.26,48.28 340.39,46.03 341.89,45.27" fill="none" stroke="rgb(220,24,36)" stroke-width="2.08" stroke-opacity="0.55" stroke-linecap="round"/><path d="M305.86,62.17 C304.36,63.86 299.10,69.49 296.85,72.30 C294.60,75.12 293.10,77.93 292.35,79.06" fill="none" stroke="rgb(220,24,36)" stroke-width="1.76" stroke-opacity="0.50" stroke-linecap="round"/><path d="M305.86,62.17 C307.36,63.11 311.86,66.11 314.87,67.80 C317.87,69.49 322.38,71.55 323.88,72.30" fill="none" stroke="rgb(220,24,36)" stroke-width="1.28" stroke-opacity="0.39" stroke-linecap="round"/><path d="M314.87,31.76 C316.37,31.01 320.87,28.57 323.88,27.26 C326.88,25.94 331.38,24.44 332.89,23.88" fill="none" stroke="rgb(220,24,36)" stroke-width="2.72" stroke-opacity="0.55" stroke-linecap="round"/><path d="M283.34,22.75 C283.90,24.63 285.59,30.82 286.71,34.01 C287.84,37.20 289.53,40.58 290.09,41.90" fill="none" stroke="rgb(220,24,36)" stroke-width="1.60" stroke-opacity="0.44" stroke-linecap="round"/><path d="M249.55,27.26 C249.93,29.88 250.68,38.52 251.80,43.02 C252.93,47.53 255.56,52.41 256.31,54.28" fill="none" stroke="rgb(220,24,36)" stroke-width="1.28" stroke-opacity="0.39" stroke-linecap="round"/><path d="M260.81,54.28 C261.19,57.29 261.94,66.67 263.07,72.30 C264.19,77.93 266.82,85.44 267.57,88.07" fill="none" stroke="rgb(220,24,36)" stroke-width="1.20" stroke-opacity="0.33" stroke-linecap="round"/><path d="M292.35,79.06 C292.91,81.31 294.22,88.07 295.72,92.57 C297.22,97.08 300.42,103.83 301.35,106.09" fill="none" stroke="rgb(220,24,36)" stroke-width="1.60" stroke-opacity="0.44" stroke-linecap="round"/><path d="M299.10,107.21 C300.98,107.59 306.61,109.65 310.36,109.46 C314.12,109.28 319.75,106.65 321.62,106.09" fill="none" stroke="rgb(220,24,36)" stroke-width="2.72" stroke-opacity="0.55" stroke-linecap="round"/><path d="M276.58,79.06 C277.71,78.68 280.71,76.81 283.34,76.81 C285.96,76.81 290.84,78.68 292.35,79.06" fill="none" stroke="rgb(220,24,36)" stroke-width="1.20" stroke-opacity="0.39" stroke-linecap="round"/><path d="M247.30,83.56 C249.55,84.31 255.93,88.44 260.81,88.07 C265.69,87.69 273.95,82.44 276.58,81.31" fill="none" stroke="rgb(220,24,36)" stroke-width="1.20" stroke-opacity="0.33" stroke-linecap="round"/><path d="M332.89,49.78 C333.64,52.41 335.89,60.67 337.39,65.55 C338.89,70.42 341.14,76.81 341.89,79.06" fill="none" stroke="rgb(220,24,36)" stroke-width="1.20" stroke-opacity="0.33" stroke-linecap="round"/><path d="M323.88,72.30 C325.38,74.93 329.88,83.19 332.89,88.07 C335.89,92.95 339.27,97.08 341.89,101.58 C344.52,106.09 347.53,112.84 348.65,115.09" fill="none" stroke="rgb(220,24,36)" stroke-width="0.64" stroke-opacity="0.17" stroke-linecap="round"/><path d="M269.82,99.33 C271.70,98.58 278.08,94.45 281.08,94.82 C284.09,95.20 286.71,100.45 287.84,101.58" fill="none" stroke="rgb(220,24,36)" stroke-width="0.96" stroke-opacity="0.33" stroke-linecap="round"/><path d="M341.89,45.27 C343.77,44.15 349.40,40.39 353.16,38.52 C356.91,36.64 362.54,34.76 364.42,34.01" fill="none" stroke="rgb(220,24,36)" stroke-width="1.20" stroke-opacity="0.33" stroke-linecap="round"/><path d="M301.35,25.00 C302.86,26.51 308.11,32.89 310.36,34.01 C312.62,35.14 314.12,32.14 314.87,31.76" fill="none" stroke="rgb(220,24,36)" stroke-width="1.20" stroke-opacity="0.39" stroke-linecap="round"/><path d="M249.55,65.55 C250.30,67.80 253.68,74.18 254.06,79.06 C254.43,83.94 252.18,92.20 251.80,94.82" fill="none" stroke="rgb(220,24,36)" stroke-width="1.04" stroke-opacity="0.28" stroke-linecap="round"/><path d="M269.82,115.09 C272.07,114.34 278.46,111.90 283.34,110.59 C288.22,109.28 296.47,107.77 299.10,107.21" fill="none" stroke="rgb(220,24,36)" stroke-width="1.04" stroke-opacity="0.33" stroke-linecap="round"/><path d="M303.61,54.28 C304.36,55.60 306.61,59.16 308.11,62.17 C309.61,65.17 311.86,70.61 312.62,72.30" fill="none" stroke="rgb(220,24,36)" stroke-width="2.00" stroke-opacity="0.50" stroke-linecap="round"/><path d="M299.10,58.79 C300.30,59.35 303.68,61.98 306.31,62.17 C308.94,62.35 313.44,60.29 314.87,59.91" fill="none" stroke="rgb(220,24,36)" stroke-width="2.80" stroke-opacity="0.55" stroke-linecap="round"/><path d="M328.38,56.54 C329.88,55.79 334.76,53.53 337.39,52.03 C340.02,50.53 343.02,48.28 344.15,47.53" fill="none" stroke="rgb(220,24,36)" stroke-width="1.60" stroke-opacity="0.44" stroke-linecap="round"/><path d="M254.06,47.53 C255.18,48.28 258.56,49.78 260.81,52.03 C263.07,54.28 265.32,57.66 267.57,61.04 C269.82,64.42 273.20,70.42 274.33,72.30" fill="none" stroke="rgb(220,24,36)" stroke-width="1.12" stroke-opacity="0.33" stroke-linecap="round"/><path d="M319.37,38.52 C320.50,39.27 323.88,41.15 326.13,43.02 C328.38,44.90 331.76,48.65 332.89,49.78" fill="none" stroke="rgb(220,24,36)" stroke-width="1.12" stroke-opacity="0.33" stroke-linecap="round"/><path d="M281.08,119.60 C282.96,118.47 289.34,114.91 292.35,112.84 C295.35,110.78 297.98,108.15 299.10,107.21" fill="none" stroke="rgb(220,24,36)" stroke-width="1.20" stroke-opacity="0.33" stroke-linecap="round"/></g>
<g filter="url(#bl1)"><path d="M268.0 46.8l7.0 -2.4M258.4 54.3l5.9 -2.3M271.6 46.7l9.7 -4.6M258.2 53.5l5.2 -3.1M279.7 43.4l13.6 -2.7M266.7 50.4l8.0 -1.9M268.6 43.3l11.4 -6.2M257.7 55.5l8.0 -3.1M263.1 52.0l8.7 -5.2M258.7 56.6l10.9 -8.9M274.4 42.6l8.5 -3.4M268.3 46.8l11.9 -5.9M281.8 46.6l8.7 -4.2M285.5 39.4l10.9 9.5M285.2 40.5l7.6 5.3M281.9 40.2l10.7 7.0M293.2 47.1l8.9 7.1M298.2 51.2l9.3 11.3M289.3 43.3l5.2 8.9M309.3 63.5l9.4 -7.0M311.9 55.2l8.8 -4.4M321.6 49.6l8.5 -2.2M300.9 64.7l11.5 -6.5M318.0 55.3l4.8 -2.4M305.5 63.3l8.3 -5.5M313.6 61.0l8.8 -4.7M307.6 57.5l4.8 -2.0M323.6 56.6l10.1 -2.2M317.1 55.9l5.3 -1.7M325.5 54.1l12.0 -4.5M314.4 58.2l5.1 -3.3M297.6 70.8l-4.5 5.9M306.0 66.5l-7.7 9.9M297.6 72.3l-6.3 6.7M301.5 66.4l-6.8 5.7M306.6 58.1l-3.2 6.7M312.8 66.4l11.3 6.4M317.2 67.2l2.7 4.5M311.5 33.6l10.4 -1.0M326.1 21.0l8.7 -1.3M327.0 24.6l6.2 -3.7M326.7 26.4l7.3 -0.3M320.8 33.0l10.1 -7.2M320.1 27.4l10.7 -4.0M319.7 25.7l10.2 -3.7M319.9 32.2l4.6 -3.2M285.6 37.3l3.4 6.8M286.3 30.6l2.8 10.7M281.9 25.3l1.8 13.1M286.9 32.6l-0.2 14.4M282.3 22.8l3.4 13.0M278.9 24.9l2.2 6.6M285.1 26.0l1.8 5.3M282.3 29.9l1.9 5.9M283.9 25.9l3.7 14.5M250.5 34.4l0.4 9.0M249.0 38.3l1.1 5.7M250.9 39.5l4.4 10.3M249.0 24.2l-0.2 12.7M249.1 22.1l3.1 9.9M250.3 37.2l5.6 12.9M266.6 78.2l2.5 8.9M266.9 76.2l2.4 8.5M264.2 75.3l5.3 11.1M259.7 72.7l9.4 11.1M296.5 89.4l2.0 7.2M289.6 90.2l8.5 8.6M299.5 98.8l1.2 13.4M295.8 87.1l2.5 9.8M291.7 86.7l4.9 10.3M304.7 107.0l7.1 4.1M293.9 102.9l11.4 3.7M299.3 106.8l8.0 1.3M297.5 110.9l7.5 3.1M308.7 108.5l7.1 -0.0M283.9 77.2l11.2 0.6M277.9 77.1l13.8 5.1M274.8 80.3l7.0 -4.9M278.1 78.0l9.4 1.6M243.7 81.3l12.8 7.2M244.1 83.2l10.2 2.4M260.4 88.0l10.6 -2.5M253.2 85.6l7.6 2.0M269.3 84.8l7.8 -2.4M256.2 87.2l7.2 1.3M245.5 80.3l5.0 2.2M260.2 91.9l6.7 -5.1M271.8 85.0l4.6 -3.6M337.6 70.6l3.5 10.0M334.2 47.5l1.2 12.0M332.8 51.2l3.0 9.2M335.6 44.8l-2.2 13.3M334.7 60.0l5.2 13.3M331.3 46.6l3.0 6.4M338.4 71.8l6.5 12.5M337.7 71.2l7.5 11.8M340.0 72.6l2.9 11.0M329.1 75.2l2.6 14.6M324.4 71.7l3.5 5.6M330.5 84.6l4.6 7.0M336.6 94.1l4.7 6.6M268.3 98.1l6.1 -1.0M270.7 97.7l9.1 -2.1M271.4 99.6l7.9 -5.8M272.6 98.9l11.2 -6.4M268.9 100.9l7.6 -4.9M337.4 48.5l12.0 -5.4M343.4 44.9l4.6 -2.5M353.1 38.0l7.4 -2.4M338.0 48.4l11.7 -7.6M344.0 41.0l13.6 -5.0M338.9 44.5l10.8 -2.0M351.2 38.5l12.9 -4.9M340.7 45.6l9.5 -4.4M347.4 40.8l8.3 -2.1M306.1 31.3l12.1 -0.8M301.2 25.0l5.5 6.8M307.6 35.0l11.7 -7.6M253.6 83.8l-3.9 13.5M252.1 71.9l5.2 9.6M256.5 76.2l-3.3 10.2M255.3 89.7l-3.8 8.5M247.8 61.0l5.5 12.8M253.9 85.1l0.8 5.1M250.1 80.6l4.9 11.5M257.6 75.2l-5.5 12.3M250.6 69.8l0.9 5.5M292.5 108.2l5.1 -1.2M278.4 112.2l8.5 -1.0M289.4 109.5l13.8 -2.4M283.7 109.5l6.9 -0.4M276.7 110.8l7.1 0.2M280.1 111.4l6.9 0.0M302.8 60.1l7.8 12.0M304.0 51.0l3.4 4.2M307.1 57.3l5.9 12.4M308.2 64.2l10.9 -0.2M298.8 61.1l4.7 2.8M302.2 63.1l10.2 -3.3M297.5 61.0l8.3 6.4M322.4 58.4l13.5 -4.9M335.7 52.4l7.2 -6.0M331.8 52.2l8.9 -3.6M331.1 54.2l12.2 -8.6M331.1 58.9l10.8 -8.5M255.6 50.6l10.1 5.7M256.9 47.9l6.4 9.2M250.9 46.0l9.1 2.6M258.7 48.0l5.6 7.0M257.1 48.0l5.9 6.8M253.0 44.3l8.2 4.9M264.0 56.5l9.2 10.2M313.7 39.3l9.5 1.2M319.5 39.1l8.9 3.2M325.4 43.4l7.7 11.0M320.8 37.2l6.8 9.9M279.6 121.2l4.8 -4.1M287.2 113.9l5.7 -1.9M280.7 120.2l8.7 -7.7M292.3 114.1l5.9 -5.9M287.5 118.1l8.6 -8.2" fill="none" stroke="rgb(125,11,17)" stroke-width="0.5" stroke-opacity="0.6" stroke-linecap="round"/><path d="M278.0 49.5l14.6 -1.0M281.0 48.1l9.5 -2.5M279.6 42.8l14.2 0.4M264.6 46.0l5.3 -4.0M267.1 48.9l13.7 -4.5M250.8 57.6l10.6 -7.5M269.4 49.8l13.2 -6.9M274.8 46.5l7.8 -3.8M265.4 43.9l5.5 -1.0M273.8 41.6l7.2 -2.8M254.3 58.1l6.4 -1.9M278.4 49.0l8.4 -3.5M265.3 43.8l6.3 -4.3M295.7 48.5l5.5 10.5M296.2 47.0l5.8 10.0M299.0 53.2l2.6 5.8M285.2 38.6l6.7 10.4M286.3 43.6l7.8 9.5M300.7 49.5l2.3 11.1M292.1 47.9l7.3 3.4M283.6 42.7l11.4 6.9M291.8 44.6l7.2 7.7M315.1 57.1l11.7 -3.8M317.4 56.8l10.4 -5.4M318.3 53.6l5.5 -1.3M317.0 56.4l13.7 -3.7M333.6 49.3l6.6 -1.2M319.6 58.4l13.3 -6.7M329.5 51.1l4.8 -2.1M313.7 60.6l13.4 -3.7M304.3 64.4l11.7 -5.9M298.8 70.4l-3.8 4.0M300.5 65.9l-3.1 5.5M299.3 76.6l-4.8 6.0M296.4 77.4l-3.7 3.7M299.2 66.2l-6.7 4.9M318.4 68.8l10.0 4.3M323.7 31.8l9.5 -9.2M312.9 38.3l7.5 -5.9M311.3 26.0l9.2 -6.9M325.6 25.6l7.6 -4.0M324.0 29.9l4.8 -3.9M280.7 20.7l6.0 10.6M280.6 20.4l5.4 11.3M281.5 22.6l7.2 10.3M246.3 23.2l4.3 8.4M250.5 36.0l4.6 11.6M251.1 26.0l-0.8 8.6M251.4 22.9l-0.5 12.5M263.7 71.7l2.5 6.6M263.0 54.2l0.7 11.7M266.1 75.0l2.8 13.4M265.9 80.9l2.3 6.1M258.5 58.8l4.8 7.3M264.0 78.3l6.4 13.3M260.2 58.2l1.5 12.5M266.8 74.2l-1.3 11.5M297.3 100.6l3.2 6.2M297.1 101.0l5.6 9.1M296.3 79.2l-0.8 13.3M296.4 90.7l2.0 13.6M291.4 73.0l1.6 12.2M306.0 108.9l10.0 -1.8M309.1 115.9l7.8 -2.7M305.6 113.1l12.4 -5.1M304.7 106.9l9.8 2.5M309.2 111.6l9.4 -3.1M303.7 107.4l11.6 1.8M308.7 114.6l6.1 -0.7M295.3 107.0l9.4 1.6M302.1 100.5l10.4 5.5M277.0 76.8l6.8 1.7M278.0 78.6l7.9 -5.6M288.1 77.5l6.1 4.1M277.4 80.3l5.0 -2.2M253.6 87.6l10.2 0.8M266.9 84.0l9.2 -3.5M248.7 82.8l9.4 3.7M269.0 84.2l8.7 -5.4M264.6 87.0l11.3 -4.9M240.9 81.8l13.4 2.1M250.5 85.1l7.0 1.6M248.7 85.7l14.3 2.5M249.9 85.9l14.1 2.0M340.0 71.6l6.3 9.7M339.5 68.8l4.4 9.9M337.7 67.5l0.9 6.3M333.1 46.4l4.6 7.5M342.3 71.2l-2.2 9.7M337.8 65.8l2.3 9.2M339.1 68.2l2.8 9.7M331.0 84.1l3.6 5.8M345.4 107.0l1.3 9.9M277.2 95.0l5.2 -1.2M274.2 99.2l12.5 -6.6M252.8 69.5l0.5 6.9M252.6 72.3l3.2 7.0M250.9 73.8l1.8 7.6M250.4 71.6l1.7 8.3M252.7 79.3l-1.9 7.4M264.6 118.1l10.7 -5.6M266.5 115.1l12.1 -3.0M287.5 109.3l12.9 -4.0M284.5 107.0l14.8 0.5M280.5 113.1l10.3 -3.0M280.8 111.0l4.8 -2.5M307.0 60.3l3.4 7.7M302.3 54.2l8.7 8.4M306.3 64.9l7.9 12.5M308.5 63.1l3.4 7.3M304.7 56.6l4.5 3.2M298.8 57.8l8.0 2.2M302.4 58.9l7.4 2.2M303.1 62.9l6.3 -1.9M305.7 65.4l12.5 -7.0M300.1 55.7l11.2 4.8M298.4 58.7l11.1 6.3M296.6 62.1l10.3 3.5M298.9 58.3l11.6 4.1M329.6 55.0l11.6 -4.9M324.3 55.7l14.0 -4.7M266.1 60.0l8.4 10.5M261.0 53.0l3.7 7.7M252.2 48.9l4.8 3.2M256.5 50.9l10.1 8.7M326.9 41.9l6.4 6.4M329.4 45.6l6.3 6.0M325.3 40.1l2.7 4.8M324.5 41.6l10.2 7.9M282.0 116.7l7.7 -2.0" fill="none" stroke="rgb(150,13,21)" stroke-width="0.8" stroke-opacity="0.6" stroke-linecap="round"/><path d="M252.0 52.8l6.5 -2.1M261.5 46.4l7.8 -3.4M257.8 54.9l9.4 -8.1M255.0 54.0l7.4 -3.6M267.7 48.0l14.8 -1.9M257.7 53.3l8.5 -2.5M265.1 49.3l8.5 -0.7M282.1 50.9l11.9 -6.4M254.9 49.1l13.9 -4.7M273.9 42.3l12.5 0.0M267.4 53.8l5.0 -2.1M301.9 54.8l1.8 11.4M305.5 56.6l1.1 6.0M318.5 52.6l11.4 -5.2M333.8 52.2l7.5 -4.2M331.8 50.6l9.4 -4.9M334.8 46.1l7.2 -2.3M310.6 59.9l5.6 -7.0M328.3 51.4l5.2 -2.3M314.6 60.0l4.9 -1.8M307.8 66.8l6.4 -12.0M310.0 62.7l5.9 -5.2M302.5 65.2l10.7 -7.4M336.5 49.3l7.8 -5.0M317.3 59.9l6.2 -2.4M316.4 54.6l4.7 -2.8M301.3 69.3l-4.2 4.5M300.3 66.4l-2.9 4.3M302.6 58.0l7.3 10.9M311.7 67.8l10.3 5.4M317.4 68.9l6.4 6.5M326.1 28.4l10.3 -5.4M284.7 19.1l0.6 8.5M260.4 56.1l2.3 6.4M261.5 65.2l6.8 13.1M294.6 84.6l3.9 13.2M290.8 81.9l3.7 14.1M296.7 90.7l2.9 6.3M294.7 83.3l-0.1 8.0M295.9 87.7l1.4 7.0M308.5 113.2l11.3 -4.4M299.6 105.4l9.4 4.6M300.9 109.7l6.2 -0.1M317.7 107.2l5.8 -1.4M311.7 112.8l5.1 -3.2M295.2 111.7l7.7 2.2M311.8 111.7l9.0 -1.9M310.3 114.9l9.0 -3.6M316.0 103.2l5.0 -0.3M304.6 109.3l8.9 3.1M282.4 76.2l12.3 1.6M332.8 58.9l7.3 9.6M340.4 45.1l9.9 -3.7M300.8 25.2l5.1 7.6M289.3 110.0l6.2 -0.4M304.8 61.6l5.6 10.4M307.3 56.0l3.9 13.6M304.2 59.4l5.8 8.6M303.9 58.9l4.3 6.6M309.2 66.0l7.3 10.1M298.1 56.5l7.7 3.1M301.3 64.1l13.6 0.9M292.8 62.3l13.2 2.4M339.0 51.3l5.8 -7.0M324.3 58.9l9.8 -6.1M334.9 55.6l5.3 -6.6M258.8 47.3l8.3 11.5M288.8 116.1l4.6 -2.8" fill="none" stroke="rgb(225,20,31)" stroke-width="0.8" stroke-opacity="0.6" stroke-linecap="round"/><path d="M270.9 48.3l12.8 -2.6M268.4 48.9l9.1 -4.1M276.1 49.8l5.8 -0.8M271.7 47.4l13.5 0.4M273.5 53.0l10.8 -0.7M278.1 42.0l13.7 -3.6M266.1 58.1l8.2 -9.2M261.3 50.8l7.8 -3.1M267.0 45.0l7.8 -3.2M263.4 52.8l12.9 -5.7M256.5 56.4l4.5 -3.1M270.3 48.2l11.7 -2.8M282.8 46.1l9.5 -0.7M280.4 40.8l9.2 -0.2M269.8 49.2l8.8 -3.6M296.9 51.0l3.1 5.3M293.3 41.8l5.2 8.5M294.8 49.8l4.5 2.9M294.7 47.7l7.4 7.2M293.5 44.9l5.6 4.8M286.7 45.2l11.9 6.7M288.1 44.4l12.2 4.3M326.0 53.3l10.6 -4.3M303.9 63.9l7.8 -5.0M311.9 60.6l5.6 -3.2M318.1 59.0l6.6 -1.0M313.9 62.1l12.2 -8.0M312.3 60.2l12.3 -5.8M337.6 50.4l5.6 -2.9M320.3 53.2l5.3 -2.3M335.8 48.5l6.9 -3.8M305.2 63.0l9.0 -4.8M310.9 56.9l12.7 -4.0M305.2 67.8l-8.2 11.0M296.0 69.3l-4.8 4.0M308.1 61.8l-8.8 10.9M304.6 63.9l-7.8 6.8M302.7 69.2l-6.3 8.4M302.3 65.9l-8.4 12.2M306.7 61.0l13.9 5.4M310.1 64.3l9.6 6.8M301.8 60.5l9.1 1.8M321.2 23.8l12.0 -5.8M324.8 29.8l13.9 -5.7M318.1 31.4l12.1 -6.4M320.6 26.2l5.5 -0.6M312.5 32.9l5.0 -1.4M318.0 28.8l5.1 -2.9M319.3 33.3l12.4 -3.5M318.3 29.3l7.6 -2.0M320.0 28.1l6.0 -0.9M285.4 38.6l2.3 7.3M279.6 23.5l0.4 9.6M286.3 35.4l9.7 7.4M250.9 26.1l-1.0 10.6M250.8 44.8l2.6 11.6M247.4 39.6l9.0 11.1M254.4 44.0l4.9 7.1M249.1 29.5l1.2 10.5M266.1 78.3l1.3 5.0M298.4 98.7l8.0 11.7M295.8 84.3l1.2 7.3M293.4 81.6l0.1 7.6M289.1 76.0l2.0 11.6M294.2 76.2l0.9 8.9M293.9 83.2l0.7 6.3M311.6 103.5l11.4 -1.0M296.7 107.9l14.7 2.4M305.5 111.7l11.0 -0.2M302.5 109.1l5.0 1.9M302.9 109.8l14.1 -3.3M315.4 109.8l11.3 -3.5M304.1 104.6l5.8 0.7M279.8 75.7l11.3 2.2M276.3 81.1l6.7 -5.1M285.8 77.9l10.4 5.0M285.9 76.5l6.7 4.2M246.7 83.1l13.8 2.1M264.7 87.3l7.8 -3.2M269.0 84.3l7.6 -3.3M260.8 89.2l8.3 -3.5M279.4 93.9l3.7 7.4M280.1 93.9l10.1 8.6M352.4 41.6l8.7 -4.4M353.3 38.6l9.0 -4.0M334.8 46.9l12.6 -5.7M299.2 26.6l3.1 3.9M308.6 34.5l5.0 -2.5M305.7 32.1l5.9 4.2M302.2 25.3l7.7 7.9M284.7 108.9l10.8 -1.0M302.9 57.4l2.5 9.5M310.4 60.1l0.1 10.8M307.6 59.7l4.0 10.3M306.3 63.8l7.5 10.4M300.5 51.7l5.1 8.1M308.2 62.5l1.7 5.1M303.9 53.9l7.6 10.0M298.1 63.4l5.1 0.2M293.2 55.8l10.8 8.2M300.4 63.1l5.6 0.7M308.1 57.4l5.1 -0.9M331.0 56.6l7.9 -5.3M332.9 56.6l9.1 -8.8M337.6 54.5l5.4 -3.4M329.8 57.6l5.6 -3.3M260.5 51.6l5.2 12.7M269.8 60.6l4.8 9.5M252.8 46.1l11.5 7.9" fill="none" stroke="rgb(225,20,31)" stroke-width="0.5" stroke-opacity="0.6" stroke-linecap="round"/><path d="M278.3 39.2l7.4 -3.0M284.1 49.5l3.4 -4.6M269.6 50.8l8.7 -8.6M258.9 43.9l4.5 -3.0M254.6 52.9l8.1 -1.8M273.3 46.5l7.0 -2.2M261.5 50.8l4.5 -4.5M275.2 50.4l14.0 -2.2M265.8 45.7l11.9 -6.4M260.9 54.3l12.3 -6.1M257.1 49.5l8.3 -3.3M257.3 54.2l7.5 -3.4M255.7 57.2l11.4 -2.9M260.7 47.2l12.3 -3.4M277.9 43.6l4.8 -1.4M275.6 44.4l7.2 -3.3M265.1 50.4l7.2 -6.0M303.4 54.2l4.0 9.2M293.4 43.0l8.8 4.9M289.8 43.5l7.6 11.1M290.1 44.5l6.0 3.6M287.9 41.6l8.7 5.1M305.3 66.1l12.8 -7.6M305.9 64.2l4.6 -4.2M315.0 56.1l10.6 -4.2M317.4 51.6l13.1 0.7M306.6 62.9l5.4 -6.3M312.2 60.6l4.1 -4.8M324.6 50.3l5.1 -2.6M307.8 57.3l8.4 -2.9M299.2 74.2l-7.4 6.6M296.9 71.2l-6.9 7.5M297.3 71.4l-5.7 8.5M308.7 58.0l-4.1 9.7M298.7 74.7l-3.9 7.3M301.2 67.4l-5.6 4.2M305.0 60.4l-5.5 8.2M308.9 64.7l10.2 0.9M306.2 65.8l9.6 4.2M308.4 64.9l7.9 5.9M315.7 72.8l12.5 2.3M315.9 67.1l10.1 4.3M324.9 28.6l9.6 -8.1M325.5 23.2l5.2 0.3M312.9 32.4l11.6 -3.7M314.8 33.9l14.3 -3.0M312.5 28.6l6.7 -3.5M315.8 29.5l10.2 -7.4M326.7 25.2l9.5 -4.3M318.8 35.1l9.3 -8.4M327.9 22.2l7.0 1.4M287.2 32.7l0.5 6.7M289.2 27.6l2.4 14.4M283.5 24.0l5.8 13.5M286.1 19.9l-0.7 6.5M286.2 28.7l2.1 8.0M285.4 36.9l3.6 7.8M287.4 24.6l0.6 13.8M284.3 20.3l-1.9 13.9M252.0 41.3l1.3 7.2M247.1 42.0l7.8 7.0M249.8 24.5l1.3 11.6M250.9 33.7l0.2 10.3M249.3 24.6l2.7 9.2M250.4 25.7l1.6 6.9M263.0 75.1l2.8 6.3M264.8 63.2l-3.2 12.0M261.2 56.2l2.0 5.9M264.7 71.1l2.1 7.3M264.8 69.6l2.1 14.5M262.0 75.4l2.8 6.5M260.5 72.5l3.8 8.4M296.9 88.9l-1.1 13.6M291.8 82.7l0.2 8.5M292.8 71.4l4.1 14.0M293.6 79.8l3.0 12.6M291.8 88.3l1.2 5.9M295.4 95.4l3.6 6.8M291.9 76.6l4.0 10.8M304.9 98.1l12.8 3.0M306.9 110.3l9.5 -0.6M294.0 105.9l14.4 2.7M314.5 105.1l6.8 -0.8M305.4 110.9l10.1 -2.4M301.5 106.8l13.7 3.8M307.1 105.7l8.6 -0.6M307.4 107.6l8.3 -3.0M312.3 103.0l5.4 -0.9M275.1 79.2l8.3 -3.7M286.7 79.0l6.8 1.1M275.4 77.6l9.5 -1.6M271.5 82.0l12.5 -5.2M257.5 90.3l8.6 -9.9M255.7 88.7l10.0 -1.7M243.8 86.2l13.3 1.6M242.4 83.6l11.8 6.8M245.9 83.0l9.3 0.8M251.9 87.5l10.9 2.7M335.2 56.6l1.4 6.0M334.8 57.8l1.9 5.7M334.4 57.9l3.7 7.5M335.0 55.5l3.8 11.8M335.7 57.1l1.2 13.3M326.4 73.4l0.9 8.3M344.4 101.8l1.8 5.1M274.1 99.6l6.7 -6.0M280.3 94.1l10.9 10.1M279.3 91.8l4.5 5.2M349.6 39.3l7.1 -1.3M340.5 45.3l11.5 -9.0M352.7 37.6l11.5 -4.2M298.8 24.6l11.7 6.4M305.6 35.5l8.9 -4.2M305.0 35.1l12.4 -3.4M250.5 64.7l2.4 4.4M250.4 64.7l2.8 11.0M280.5 110.2l5.3 -1.1M285.8 108.9l8.5 -0.7M290.6 109.2l10.6 -4.6M280.5 111.1l5.7 -0.4M272.1 116.5l9.8 -4.6M278.7 113.8l10.0 -2.8M271.1 115.5l14.4 -1.6M301.0 54.1l7.1 8.7M309.4 58.6l1.7 7.4M304.3 56.0l7.5 7.7M310.6 65.0l5.8 9.5M304.1 57.8l1.4 5.4M296.3 54.6l13.3 2.6M303.3 65.9l13.6 -4.7M297.9 58.5l12.5 5.7M294.0 58.6l10.4 5.2M296.1 57.9l10.8 2.4M294.2 59.8l7.6 2.9M336.5 54.1l10.0 -6.7M331.1 57.5l7.6 -11.9M333.3 55.3l7.2 -4.2M323.6 60.4l13.4 -4.6M328.5 55.5l4.9 -1.3M331.4 57.7l9.1 -3.4M270.8 60.7l3.0 9.2M258.6 48.8l6.3 7.6M256.4 47.8l10.9 6.9M257.2 48.7l4.3 3.9M269.9 69.1l4.0 4.6M328.6 44.1l3.7 4.2M327.9 43.8l8.7 10.2M286.7 116.6l7.8 -5.6M293.9 115.2l4.8 -5.7M280.7 120.9l7.6 -2.9M293.9 113.4l6.7 -6.7M280.6 122.4l9.9 -2.6M284.0 118.0l5.9 -4.9M291.4 111.6l6.8 -5.4" fill="none" stroke="rgb(150,13,21)" stroke-width="0.5" stroke-opacity="0.6" stroke-linecap="round"/><path d="M269.2 47.9l9.9 -0.9M260.6 49.6l11.0 -1.2M278.6 43.4l6.6 -5.1M262.9 50.3l10.3 -4.0M254.8 56.8l12.7 -7.9M275.8 51.1l10.5 -4.2M269.9 51.1l14.2 -2.5M251.4 59.0l13.8 -5.4M262.6 53.9l11.4 -4.9M278.8 43.9l6.8 -4.1M265.2 54.8l8.7 -10.9M264.3 46.3l4.8 -2.0M268.5 52.0l5.2 -3.5M276.9 50.9l8.8 -2.0M271.5 48.2l10.2 -0.1M299.8 54.8l7.9 12.6M284.5 42.8l10.5 9.0M304.7 57.2l3.1 7.0M285.9 38.8l7.3 10.7M291.1 43.9l4.9 7.1M300.0 51.7l2.6 5.1M296.7 47.3l6.1 4.6M301.6 56.9l3.5 9.0M303.0 61.8l10.4 -3.8M318.8 56.8l6.5 -3.0M336.2 49.6l7.4 -2.9M332.2 47.4l10.8 -3.5M308.8 59.2l13.9 -5.7M312.2 56.7l6.8 -1.1M310.9 59.3l12.7 -4.5M317.2 54.6l7.5 -3.7M327.9 51.7l6.0 -3.0M329.6 52.9l5.9 -2.6M310.4 58.4l11.5 -2.2M319.3 53.5l13.1 -4.3M330.1 51.5l9.5 -4.7M312.0 61.1l9.6 -0.7M330.3 51.4l12.9 -5.7M308.0 63.7l-11.8 7.0M309.7 59.2l-8.9 7.6M309.3 58.7l-10.7 9.1M305.5 63.8l-2.6 4.9M307.8 64.5l5.3 4.9M315.6 34.3l9.7 -5.2M320.0 28.3l6.3 -6.0M320.9 34.0l7.4 -1.8M318.0 36.5l8.8 -6.3M322.6 33.0l9.3 -5.9M311.0 32.9l11.6 -7.9M318.4 28.7l5.0 -5.6M282.8 25.1l3.0 8.2M285.2 31.3l1.8 6.0M290.1 32.4l0.2 12.0M253.3 40.9l1.9 13.1M246.2 41.8l8.5 7.9M253.9 49.5l3.3 5.8M249.9 36.5l0.8 9.3M245.0 27.1l8.8 11.0M250.2 39.3l2.3 5.5M248.4 46.5l5.6 6.7M252.2 40.4l5.4 11.4M265.1 81.2l3.8 7.6M260.3 49.5l0.9 11.7M260.1 54.0l1.5 6.7M260.4 56.6l-0.2 5.7M263.1 81.0l4.7 6.8M262.3 56.0l0.5 6.4M258.8 67.6l7.6 9.6M263.2 59.7l0.9 12.8M263.4 76.3l2.8 5.9M264.4 81.3l5.0 11.8M293.6 80.2l1.0 10.1M294.6 90.5l3.1 12.8M295.5 89.4l5.0 11.2M300.7 100.0l2.9 7.0M300.4 104.0l7.1 1.1M300.4 105.4l10.9 0.7M298.0 108.0l12.3 0.9M304.6 115.6l12.8 -7.6M298.5 107.2l13.1 4.2M301.5 114.8l10.7 3.1M302.3 104.2l5.3 1.1M299.4 112.1l5.9 0.1M313.5 107.4l4.9 -3.7M312.2 107.2l5.6 -1.3M278.6 75.4l12.7 6.8M274.0 79.6l9.0 -2.2M275.1 80.3l8.3 -5.4M272.6 82.1l5.4 -2.2M246.2 87.2l5.2 3.1M262.9 87.0l9.8 -0.8M337.6 63.5l2.3 5.3M336.7 61.3l1.2 6.5M336.9 73.5l3.8 8.9M337.8 72.4l2.2 4.6M334.3 63.2l4.5 7.3M334.1 93.7l10.8 9.3M345.7 108.0l1.7 7.3M339.5 99.0l8.1 12.4M344.6 109.6l5.4 7.7M328.8 87.7l12.5 7.6M321.0 68.0l6.5 12.8M341.1 99.0l4.3 8.3M335.0 91.1l3.6 8.3M352.3 37.2l7.4 0.6M339.8 46.3l10.2 -4.1M338.3 48.8l10.0 -6.2M355.6 38.1l5.0 -1.8M309.2 37.9l8.8 -8.1M303.6 26.5l7.7 8.9M298.6 21.7l5.8 6.4M302.3 27.2l4.4 4.4M251.6 69.9l2.5 6.2M254.9 88.8l-5.4 7.8M251.6 72.4l2.5 12.0M249.2 69.3l5.9 8.0M247.2 63.0l6.7 10.8M291.9 110.1l12.3 -6.2M279.1 110.3l5.6 -1.4M275.8 114.0l13.6 -5.0M267.1 118.5l8.1 -5.1M302.7 51.7l3.8 6.4M306.2 62.1l3.0 7.2M304.5 53.2l7.0 11.2M308.8 58.2l1.8 6.6M311.7 66.2l-1.1 9.0M306.4 61.2l7.4 11.2M306.3 66.9l3.8 10.4M307.5 57.1l1.7 5.1M303.5 53.4l3.5 6.9M309.8 68.0l2.7 7.7M294.9 58.6l7.2 2.8M310.1 62.2l5.5 -2.7M297.5 57.3l9.7 10.4M307.0 59.6l8.0 -2.5M323.9 58.2l10.6 -4.5M326.8 58.3l5.3 -3.9M265.5 59.2l8.4 6.0M250.5 45.1l11.7 5.1M255.5 48.6l5.7 7.1M269.9 64.0l2.5 6.3M259.9 50.1l4.8 4.1M268.7 65.5l4.6 10.4M270.1 62.8l6.0 8.6M316.8 35.8l6.8 6.5M327.4 43.9l6.0 7.7M330.1 44.2l3.8 3.8M314.8 36.2l11.2 5.2M324.5 41.9l5.7 8.7M287.6 115.4l12.2 -8.6M284.1 118.7l5.6 -2.4M290.4 115.7l4.9 -4.5M293.9 111.2l5.7 -3.3M279.4 118.1l6.3 -3.8" fill="none" stroke="rgb(175,15,24)" stroke-width="0.5" stroke-opacity="0.6" stroke-linecap="round"/><path d="M274.6 42.0l8.1 -2.3M279.9 40.4l12.8 1.7M256.6 53.3l14.4 -4.0M262.3 54.8l5.3 -1.6M271.5 39.8l11.2 -1.8M265.7 52.7l8.5 -5.2M250.9 53.8l10.5 -0.1M279.9 41.5l6.1 -1.7M297.9 52.8l3.9 7.3M303.8 51.9l6.9 11.4M328.8 53.8l3.3 -4.2M333.9 55.2l9.0 -6.9M305.7 56.1l8.8 -3.4M303.9 62.7l8.4 -1.4M314.5 57.4l6.0 -4.1M337.4 50.4l7.6 -4.1M301.1 66.9l-3.3 4.1M307.4 60.0l-6.2 12.8M301.5 67.1l-4.6 3.4M295.5 73.1l-1.1 7.9M314.5 35.2l11.8 -7.2M310.2 34.6l9.7 -4.9M318.6 36.6l11.1 -8.5M300.3 109.7l6.9 1.4M316.3 110.0l5.5 -2.4M313.6 106.7l7.4 -0.5M308.1 108.4l9.8 -2.2M309.0 111.8l14.2 -3.8M304.9 105.6l5.7 2.3M307.7 56.6l3.3 5.1M306.0 59.4l5.0 11.9M306.4 60.4l7.6 12.6M298.9 55.0l9.8 3.3M298.6 57.8l7.8 3.7M304.5 58.1l10.1 -1.6M298.7 58.2l11.8 4.4M297.2 57.7l7.4 5.2M299.9 56.5l14.7 1.9M299.9 61.2l7.7 2.0" fill="none" stroke="rgb(250,22,35)" stroke-width="0.5" stroke-opacity="0.6" stroke-linecap="round"/><path d="M271.4 50.3l11.0 -1.4M272.2 47.9l8.2 -0.9M267.0 52.3l13.4 -5.8M276.1 49.9l11.8 -2.2M250.0 52.4l13.7 -4.0M271.5 48.0l11.4 -2.1M267.7 44.9l13.1 -1.8M258.2 55.5l12.6 -5.2M267.1 42.2l11.6 -5.8M259.2 55.6l7.5 -2.1M295.2 51.2l8.1 8.7M299.1 48.4l3.7 12.1M315.4 54.7l13.2 -4.2M306.8 58.6l8.8 -3.9M329.8 52.5l10.6 -5.8M334.7 44.5l10.2 -2.2M307.2 58.6l-8.3 10.5M300.5 67.5l-6.8 7.3M301.5 70.0l-7.6 10.6M306.3 61.9l8.3 5.9M319.3 68.8l6.3 3.5M300.6 62.2l11.6 6.1M305.4 66.6l13.0 -0.2M302.6 61.2l14.2 1.8M313.6 33.4l7.6 -2.1M315.7 37.1l4.7 -2.4M310.1 30.9l10.2 -6.0M324.0 31.5l10.6 -4.1M317.6 24.9l12.9 -0.6M327.7 26.7l5.1 -1.4M314.8 30.6l11.8 -1.4M312.3 27.7l13.0 -3.0M326.6 28.2l10.2 -2.8M289.5 31.8l3.3 7.6M286.4 19.2l-0.5 14.3M286.1 22.5l0.1 12.3M285.0 25.8l4.8 13.9M250.2 28.9l0.3 13.7M251.0 43.1l2.7 12.4M252.5 48.8l9.3 8.3M249.7 44.3l7.1 9.3M252.0 39.6l6.8 12.7M250.1 28.4l4.6 14.1M267.2 83.5l1.8 6.8M262.8 75.5l3.5 7.7M267.4 79.6l0.7 6.1M300.9 99.5l2.3 5.8M295.5 92.9l4.8 8.8M292.4 89.2l3.5 10.3M291.3 85.8l2.9 10.5M291.4 77.3l4.0 14.0M316.3 104.4l5.5 0.9M299.8 111.5l11.8 0.2M298.6 108.0l6.9 0.8M304.5 109.8l4.8 2.5M307.1 105.7l5.7 1.6M295.3 107.9l9.1 1.2M315.4 107.9l5.6 -4.0M293.3 105.1l14.2 1.8M248.5 85.3l12.9 2.4M265.5 84.9l5.1 -1.1M334.7 64.3l6.7 12.7M341.0 66.5l0.1 10.7M338.6 69.3l3.7 7.6M335.5 58.2l2.0 11.0M329.3 81.5l6.1 9.1M342.5 102.3l2.9 5.5M329.8 83.7l4.7 7.1M332.1 88.2l9.6 11.3M359.9 36.1l7.6 -2.3M347.5 43.2l5.3 -3.6M342.2 42.4l11.9 -4.8M351.5 41.9l6.6 -4.3M345.5 43.8l6.5 -1.6M346.7 42.7l3.9 -3.7M348.8 40.0l11.8 -6.4M344.2 45.0l7.4 -6.9M305.1 29.2l8.8 8.2M298.7 24.6l6.6 5.4M307.1 29.2l2.9 4.2M255.7 81.7l-3.1 9.8M253.2 73.3l4.7 8.5M250.1 68.0l3.2 8.7M250.9 76.5l1.2 10.9M266.6 114.6l13.4 2.7M290.2 110.1l8.1 -2.9M267.6 117.7l7.9 -7.8M264.6 114.7l14.4 -0.3M310.3 57.2l5.0 10.2M307.9 60.0l5.5 6.6M307.4 62.6l3.2 5.0M308.0 62.5l2.6 7.1M299.2 54.0l3.5 5.9M301.0 62.9l12.6 -2.6M301.5 65.6l11.9 -7.0M294.9 59.6l7.2 1.2M305.7 63.8l11.4 0.2M304.9 62.4l13.9 -2.0M339.6 52.3l8.9 -6.0M336.3 52.7l5.7 -7.1M326.1 59.1l9.8 -8.1M333.4 51.9l10.6 -6.7M336.1 52.5l7.4 -4.7M333.4 56.6l9.1 -7.4M325.7 58.4l11.8 -4.4M329.2 56.4l9.2 -4.9M253.4 45.3l8.2 5.0M269.3 58.1l0.6 10.5M262.0 53.1l5.0 10.2M268.6 61.6l3.3 7.3M253.5 48.2l6.6 1.3M327.3 44.8l5.8 3.4M314.5 38.3l13.1 2.6M314.8 38.2l10.0 6.7M289.1 114.8l5.6 -4.9M287.7 120.3l6.9 -10.9M287.9 114.7l8.7 -7.3" fill="none" stroke="rgb(200,18,28)" stroke-width="0.5" stroke-opacity="0.6" stroke-linecap="round"/><path d="M275.9 45.4l5.1 -3.6M272.0 49.7l10.0 0.7M269.5 49.2l11.4 -4.2M256.8 54.4l6.7 -2.8M280.7 46.6l8.1 -6.1M278.1 46.1l11.2 -5.5M278.4 49.3l10.9 -2.8M303.9 56.2l6.1 8.1M293.0 48.7l9.5 6.6M295.7 47.1l5.2 8.4M292.4 46.9l11.6 6.0M311.1 61.3l8.7 -1.4M322.4 56.8l8.9 -6.2M315.9 59.9l5.8 -4.2M317.6 53.0l7.3 -5.1M331.8 53.0l6.3 -7.2M321.3 56.8l9.8 -4.1M322.7 51.3l11.3 -4.3M297.0 71.5l-3.3 4.5M298.4 69.9l-5.3 8.2M307.0 59.0l-2.7 6.0M305.0 64.3l-11.3 9.5M295.9 74.9l-5.2 7.1M315.3 70.0l9.4 6.6M317.4 66.5l9.0 6.2M310.9 65.0l10.0 6.2M303.1 62.1l8.5 3.4M308.8 30.8l11.7 -3.2M316.3 32.8l9.4 -4.4M312.2 39.5l10.5 -9.8M310.1 28.7l13.2 -4.4M325.1 24.1l5.8 -2.1M283.4 25.3l0.9 5.7M286.1 27.5l1.3 8.6M253.5 46.7l3.8 7.3M249.1 34.4l6.5 12.8M250.1 39.9l5.1 12.0M254.3 47.8l2.9 4.8M262.2 64.1l-0.4 6.6M263.7 78.9l1.4 13.7M263.9 75.5l2.1 5.2M294.7 85.4l3.0 13.9M298.7 102.3l2.2 6.5M291.2 89.8l7.0 8.6M297.9 97.6l3.4 4.8M292.8 79.1l5.2 11.5M297.9 94.3l0.9 14.8M312.5 106.0l13.5 -1.0M297.1 109.3l7.5 -0.0M305.2 103.9l6.1 0.3M271.1 78.8l10.8 0.2M285.7 77.5l7.1 2.3M280.3 76.3l11.6 4.1M265.2 85.9l5.9 -2.4M242.9 81.5l9.3 2.3M331.3 54.7l3.1 5.2M335.2 50.1l-0.4 8.8M337.3 65.1l3.3 6.4M329.8 75.4l0.6 14.6M263.3 100.5l13.8 -0.4M267.3 98.7l7.6 -3.2M265.5 102.2l9.4 -3.8M338.4 45.7l10.8 -6.3M335.6 46.0l11.1 -4.0M349.5 41.1l8.2 -2.8M299.7 24.3l4.2 3.5M305.3 34.6l11.7 -2.7M308.7 32.3l10.8 0.4M255.2 79.1l-3.0 8.4M246.6 64.6l5.4 12.9M252.8 88.2l1.5 11.6M267.0 115.1l5.5 -0.4M280.3 109.6l7.7 0.2M266.8 114.3l5.1 -1.0M304.7 55.2l4.8 5.8M306.4 63.0l3.6 9.3M309.3 61.1l3.0 10.9M305.4 65.6l11.2 -5.7M293.5 54.3l12.7 5.7M297.1 53.0l11.8 5.8M293.7 58.7l14.7 2.8M299.8 63.4l8.2 2.6M306.9 61.2l10.1 -7.1M297.7 56.0l8.9 3.1M296.4 58.7l5.0 1.3M338.1 50.9l9.0 -7.6M328.6 56.7l5.5 -2.0M258.6 50.8l6.0 3.8M267.7 58.5l8.2 11.8M254.8 47.9l7.6 3.8M260.2 54.5l4.9 5.2M260.2 53.3l5.8 6.9M265.6 58.2l5.2 5.0M321.0 38.5l8.1 8.7M321.2 39.2l3.8 5.6M286.3 114.8l6.4 -1.7M280.0 121.6l6.0 -9.5M283.2 115.7l13.9 -5.1M282.6 115.1l13.9 -2.1" fill="none" stroke="rgb(200,18,28)" stroke-width="0.8" stroke-opacity="0.6" stroke-linecap="round"/><path d="M255.3 59.6l12.5 -6.6M280.2 49.3l12.0 -1.9M271.8 50.4l8.2 -1.3M253.9 52.3l9.0 -1.5M262.7 48.6l11.8 -2.8M303.3 57.6l5.6 6.3M289.0 40.1l6.8 7.6M289.0 49.1l8.0 4.7M301.6 56.0l7.1 8.5M296.5 51.1l7.0 7.9M285.3 41.8l5.1 2.3M297.3 48.9l3.3 8.8M294.0 45.8l6.3 4.1M334.2 49.0l12.9 -3.6M326.6 55.9l12.0 -2.9M318.3 55.1l5.5 -4.3M314.0 58.5l12.7 -4.5M328.6 51.4l6.2 -3.8M308.1 54.7l9.5 1.2M303.4 66.5l6.3 -5.8M303.8 64.1l6.7 -3.4M307.0 66.3l-6.5 7.6M314.0 70.4l12.3 5.3M318.0 23.4l13.5 -5.8M325.6 24.4l9.0 -4.0M283.3 22.5l3.6 12.7M287.1 31.1l1.5 14.2M282.5 22.0l4.2 9.6M251.6 23.1l-0.1 10.0M260.0 50.7l1.8 11.2M262.2 61.4l0.2 9.8M261.3 68.6l3.0 9.7M260.9 68.4l4.1 9.9M261.1 54.9l-1.2 11.0M261.0 55.4l3.1 9.5M260.8 59.0l1.9 6.6M263.5 75.4l3.4 13.8M267.2 81.4l2.0 8.8M299.0 95.5l2.8 10.6M294.6 91.9l5.5 13.5M293.9 93.4l5.4 13.5M299.1 96.4l1.3 4.9M295.7 92.1l2.3 11.4M265.3 87.7l4.6 -3.5M252.7 86.1l10.6 1.6M250.3 85.2l5.2 2.0M260.4 88.2l6.7 -2.0M258.0 87.6l12.4 -3.6M252.5 84.1l7.5 2.9M336.3 59.8l1.0 5.4M340.9 70.6l1.6 12.7M331.6 48.2l6.1 8.6M334.5 52.9l1.4 7.3M333.6 51.8l7.0 10.6M333.2 90.0l9.3 11.4M327.0 80.0l4.6 6.2M345.8 106.3l2.7 5.5M325.6 75.0l5.6 8.0M342.6 101.5l3.8 11.1M282.6 95.9l4.6 8.2M279.6 92.8l5.8 4.4M281.7 91.6l3.4 7.9M273.9 98.7l5.6 -2.3M280.7 92.6l9.7 10.6M268.8 100.1l7.3 -4.7M339.2 46.6l7.9 -2.5M355.3 40.2l10.8 -3.7M350.5 34.9l11.1 -0.1M306.5 33.4l12.7 -2.2M307.2 31.5l5.8 -0.4M255.1 78.8l-1.9 7.0M251.0 91.1l0.3 5.2M253.1 85.2l-2.2 10.7M287.8 109.9l13.0 -2.4M283.1 112.3l10.7 -3.2M287.9 108.3l14.3 -1.4M303.2 61.9l5.8 9.0M301.1 59.3l5.5 5.9M309.8 57.1l6.4 -0.2M296.3 58.9l7.0 2.2M331.8 49.2l13.7 -5.3M324.4 57.2l8.5 -0.5M331.9 52.7l14.2 -3.9M252.4 48.0l13.9 5.2M267.5 61.4l3.9 6.4M325.5 39.1l3.8 11.3" fill="none" stroke="rgb(125,11,17)" stroke-width="0.8" stroke-opacity="0.6" stroke-linecap="round"/><path d="M274.1 47.6l8.2 -2.2M264.3 46.6l7.1 -2.6M261.8 54.0l14.5 -1.5M261.8 52.6l8.1 -3.4M277.1 52.7l8.7 -4.5M253.5 53.6l7.0 -5.6M287.2 40.5l10.7 6.5M332.5 48.4l10.0 -5.7M323.9 51.1l7.7 -1.4M329.1 47.9l11.3 -2.3M325.2 55.1l7.2 -4.2M331.7 49.7l7.2 -3.9M321.2 53.0l9.6 -2.6M306.7 61.2l-3.6 5.8M299.3 65.3l-3.9 9.2M302.3 64.2l-5.8 6.7M304.7 64.0l-9.4 11.0M298.2 70.0l-4.1 8.6M300.0 68.6l-3.6 9.0M316.8 68.9l3.9 4.5M315.0 67.1l12.2 8.2M302.4 60.3l8.4 5.5M305.3 60.7l5.3 4.3M302.9 61.4l7.9 6.3M306.7 59.5l5.6 5.7M305.4 62.7l9.1 5.8M312.1 27.9l7.5 -1.7M326.3 26.1l5.3 -1.1M325.1 22.9l7.9 0.0M321.2 28.4l9.3 -3.7M319.0 26.7l10.2 -4.0M313.0 32.9l12.1 -8.2M280.5 27.5l7.5 10.0M282.6 24.4l3.8 9.4M288.3 28.2l-0.5 6.4M263.5 78.8l2.6 7.4M268.2 79.7l-0.3 14.2M262.1 56.9l-0.2 10.7M292.3 75.8l8.2 11.1M299.0 93.8l-0.3 10.9M294.7 89.9l3.6 13.7M291.9 74.0l1.7 12.1M294.3 89.7l2.8 12.6M295.3 94.0l4.2 7.1M294.5 92.8l4.6 12.4M295.1 93.7l4.3 7.7M305.6 111.9l12.5 -2.6M299.0 105.8l9.5 -1.0M296.2 103.8l12.0 8.3M295.5 108.5l8.2 2.6M254.6 86.2l8.1 3.7M245.6 84.8l10.7 1.5M271.6 86.2l7.0 -1.5M254.7 82.6l7.3 6.7M335.1 44.5l-1.6 13.9M339.3 73.6l4.0 7.1M339.5 75.5l1.9 6.0M341.2 97.4l1.3 10.7M339.1 95.5l5.6 12.1M277.4 91.9l9.1 6.9M271.7 98.7l7.6 -3.0M267.3 101.2l9.9 -2.7M284.7 96.8l3.9 6.0M340.7 46.0l12.3 -4.5M307.4 38.1l9.2 -6.2M253.5 77.8l-2.1 12.8M251.4 68.8l2.0 13.1M290.8 109.9l7.2 -1.2M271.6 115.2l10.0 -4.8M289.7 107.8l8.5 -0.9M312.7 68.3l3.5 4.1M305.6 59.0l1.6 7.7M305.0 58.7l1.7 4.9M307.7 67.6l6.2 8.9M302.5 58.5l4.4 3.3M329.3 57.2l10.6 -8.1M328.6 54.7l8.6 -5.3M257.3 48.2l7.4 7.4M256.8 47.8l5.1 1.8M325.0 42.8l9.7 8.0M324.3 42.5l4.4 3.1M281.6 117.3l9.4 -1.7M276.9 121.7l12.1 -6.0M282.7 119.3l6.5 -3.0M279.0 126.7l7.4 -12.7M290.7 112.9l6.8 -9.6" fill="none" stroke="rgb(175,15,24)" stroke-width="0.8" stroke-opacity="0.6" stroke-linecap="round"/><path d="M272.7 44.5l12.8 -4.6M267.7 49.9l5.5 -2.3M261.3 51.9l4.5 -2.7M313.3 56.2l5.4 -2.9M311.8 61.3l9.5 -11.3M311.2 60.3l5.9 -4.7M328.4 53.0l10.8 -2.9M317.3 53.5l4.6 -2.0M318.2 57.4l7.5 -4.6M321.0 28.8l8.8 -1.4M317.0 26.4l7.0 -2.9M312.3 28.4l13.5 -3.7M291.8 107.5l13.5 5.0M311.7 107.8l5.0 -1.3M298.5 108.8l6.3 3.0M302.7 110.1l9.0 -1.5M310.3 108.0l7.3 -2.9M312.1 107.6l5.9 -2.0M301.8 57.2l6.2 6.6M299.1 62.0l5.9 2.4" fill="none" stroke="rgb(250,22,35)" stroke-width="0.8" stroke-opacity="0.6" stroke-linecap="round"/><path d="M302.7 60.1l10.9 8.9M254.7 25.7l-1.1 12.6M251.4 40.8l0.8 11.0M270.6 79.1l-5.7 13.5M269.1 83.6l6.9 -3.0M336.2 68.7l-0.5 7.6M329.9 80.9l2.0 7.3M337.8 96.4l8.5 10.2M344.4 105.1l4.4 8.6M330.5 80.7l2.9 11.1M331.7 82.2l4.9 12.4M321.3 68.4l6.7 6.9M322.5 68.4l3.5 7.4M328.5 84.4l7.7 10.4M339.9 99.3l2.2 5.5M325.4 74.8l2.8 5.6M346.0 46.3l11.7 -8.2M341.3 43.4l12.6 -4.6M310.6 32.2l5.9 -1.6M255.4 75.7l-3.0 8.8M264.9 60.7l3.3 4.4M265.5 55.6l2.2 4.6M269.9 63.0l7.7 12.2M281.8 119.6l12.2 -4.8" fill="none" stroke="rgb(100,9,14)" stroke-width="0.8" stroke-opacity="0.6" stroke-linecap="round"/><path d="M252.2 44.1l7.6 11.9M247.9 41.1l3.2 5.6M259.0 54.1l-0.2 8.9M263.9 67.6l1.3 8.5M270.9 78.4l13.0 -0.0M265.5 83.6l9.8 -2.5M244.5 84.9l9.5 4.9M338.1 65.9l1.7 6.8M332.5 47.0l1.6 5.3M332.1 56.2l6.5 13.4M336.5 87.7l1.0 14.8M324.8 73.0l5.9 12.7M269.0 98.1l12.1 -4.3M345.9 39.5l13.3 -5.0M357.6 39.5l5.3 -4.5M301.4 25.0l4.2 4.7M253.7 87.7l-2.6 12.3M247.3 65.3l6.9 12.6M248.2 66.3l4.5 12.9M252.2 70.3l3.1 13.5M256.3 78.1l-2.4 8.7M280.2 110.2l9.7 -2.6M273.4 113.9l6.6 -1.4M267.4 61.7l8.2 10.5M325.6 40.4l5.1 10.4" fill="none" stroke="rgb(100,9,14)" stroke-width="0.5" stroke-opacity="0.6" stroke-linecap="round"/><path d="M295.9 71.4l2.5 0.8M304.6 101.0l1.8 1.6M322.1 57.3l0.5 2.9M356.8 100.0l0.2 1.3M278.9 38.6l1.3 1.2M266.3 120.3l1.0 1.6M250.4 78.7l-1.7 1.9M262.0 68.1l-1.4 0.7M252.9 61.2l0.7 2.9M339.2 60.9l0.2 2.2M358.9 79.9l-1.7 0.1M313.7 30.8l2.0 1.1M344.0 94.2l-0.9 2.2M300.2 120.9l1.2 0.3M335.9 108.8l0.2 1.0M329.8 49.3l-1.5 1.7M282.4 31.1l1.0 1.9M348.2 55.4l2.5 0.8M298.7 66.4l2.1 0.6M362.0 51.5l0.5 0.8M254.0 121.0l-0.2 1.5M361.0 22.9l2.2 0.3M257.5 26.9l1.4 2.1M326.9 120.1l-1.0 1.4M253.0 33.1l-0.7 2.4M349.1 29.3l0.7 0.7M283.2 55.1l-0.6 1.2M277.9 87.4l-1.7 0.2M273.1 40.2l1.9 0.3M343.1 104.9l1.0 0.0M336.5 93.9l-1.7 0.8M253.1 67.6l2.0 1.3M315.0 99.2l2.1 1.1M262.7 110.2l0.6 2.3M266.2 83.4l1.1 2.7M273.2 30.0l1.0 0.8M340.5 36.3l-1.1 1.7M301.9 28.8l-1.6 1.7M261.0 73.4l0.5 2.6M338.0 85.5l-0.9 0.9M296.8 64.2l-2.5 1.4M319.2 47.0l-0.6 1.0M321.5 108.5l1.2 0.5M258.8 60.8l0.3 1.0M288.0 89.9l0.2 2.8M335.9 62.2l-0.9 0.0M267.1 89.2l-0.9 0.2M304.5 72.2l-0.7 2.9M352.0 122.1l1.1 0.4M362.7 31.2l1.5 0.7M274.3 25.7l1.5 0.6M346.0 25.6l1.5 1.2M352.5 122.1l-0.6 0.6M351.6 77.6l1.8 1.0M257.9 66.1l-2.5 1.1M358.8 62.4l-0.6 2.1M271.5 23.3l-1.2 1.8M321.1 103.0l0.8 0.7M324.5 66.3l-1.9 2.0M362.1 41.2l0.6 2.7M354.0 30.1l-3.0 0.3M317.0 82.9l-1.5 1.1M351.5 121.9l1.3 0.7M278.5 121.1l1.1 2.2M339.1 102.6l2.5 0.6M308.5 48.8l1.5 2.6M354.4 63.9l-1.3 2.3M341.9 115.6l-1.2 1.0M313.1 57.6l-0.4 0.8M297.4 75.9l1.0 0.2M277.1 54.1l0.8 0.5M326.2 95.9l-0.6 1.9M256.1 57.2l1.9 0.9M257.9 117.3l-1.3 1.7M280.2 63.6l0.5 2.4M329.7 27.1l-0.3 1.1M261.3 83.7l2.3 1.3M362.1 47.4l1.7 0.3M353.8 70.8l-2.3 0.1M301.4 99.6l1.2 0.2M338.9 61.0l2.1 1.1" fill="none" stroke="rgb(150,13,21)" stroke-width="0.7" stroke-opacity="0.7" stroke-linecap="round"/><path d="M250.1 120.8l-1.6 2.5M267.8 51.0l2.0 0.1M253.0 36.9l2.7 0.1M287.7 34.8l0.4 1.9M260.0 59.8l-0.7 0.7M358.1 120.4l-0.6 1.5M350.6 110.1l-0.5 1.5M304.9 92.5l-0.9 2.4M260.1 54.3l1.5 2.3M254.3 78.9l-1.4 1.0M341.2 88.1l2.3 0.3M281.8 65.9l0.1 2.7M291.5 76.2l-1.3 0.9M334.6 90.1l1.3 0.8M261.2 111.8l0.2 1.3M279.8 62.3l-1.6 0.0M351.0 121.5l1.0 2.2M324.3 55.8l-2.0 0.1M284.1 76.8l0.1 1.6M333.9 115.8l0.6 0.6M318.7 23.5l-1.1 1.0M325.9 89.6l-1.2 2.0M283.5 39.0l-0.7 0.8M296.1 46.1l2.9 0.4M333.8 82.9l0.6 0.9M361.4 77.3l0.9 0.2M303.0 30.0l0.9 2.2M292.4 24.7l1.8 0.4M304.3 51.3l1.1 0.9M359.0 101.4l0.1 2.4M250.4 46.6l-1.6 2.1M318.5 22.7l1.8 1.3M270.8 59.5l1.5 2.3M266.8 112.6l0.7 2.1M278.7 96.4l-1.4 0.8M262.2 22.2l2.6 0.6M276.7 72.5l0.8 0.5M270.8 108.4l-0.1 1.2M343.5 71.4l-0.8 2.4M299.4 33.1l1.4 0.3M354.1 40.5l-1.5 1.3M278.3 83.2l-1.8 1.0M284.6 42.3l2.4 0.2M262.4 71.6l-2.1 0.6M358.3 80.8l2.7 0.5M319.3 105.6l-1.8 0.3M303.4 95.1l0.8 1.1M329.4 74.8l-1.3 0.6M323.0 100.2l-0.2 1.2M251.4 111.7l1.1 0.6M262.7 95.7l-1.7 1.3M336.2 83.7l0.6 1.0M304.3 36.0l2.3 1.0M300.2 110.7l0.1 1.0M343.5 115.8l1.9 1.2M363.1 113.3l1.1 1.3M319.5 41.5l-0.9 0.2M361.5 54.5l0.9 2.4M314.8 33.5l-2.3 0.4M321.8 58.3l-2.3 0.0M259.6 21.0l1.3 0.1M293.1 120.2l0.7 0.4M305.7 45.5l-0.3 1.9M352.6 91.0l2.0 0.5M246.7 32.4l1.6 0.3M291.5 82.3l-0.1 2.4M286.8 25.3l2.2 1.3M346.8 115.8l-1.1 0.5M329.7 47.8l0.2 2.3M355.5 58.2l1.4 1.6M346.2 40.5l2.1 1.3M339.2 48.5l-1.2 1.2M302.4 22.9l0.4 1.2M248.6 88.2l-0.4 1.0M265.1 35.8l-0.3 1.8M282.7 111.4l-1.1 1.6M352.2 49.2l-2.0 1.8M249.2 56.1l0.4 0.8M350.8 100.7l-0.9 2.2M329.3 115.9l2.2 0.2M273.2 106.1l-2.3 0.5M331.5 88.3l0.9 0.5M269.1 104.5l-2.1 1.6M324.1 72.6l1.7 0.5M309.1 82.7l1.6 0.8M348.5 43.6l0.1 2.7M341.5 88.7l1.3 2.0M324.4 88.0l1.0 1.1M264.3 20.0l-0.9 1.1M267.0 96.5l-1.9 0.1M304.7 30.4l-0.3 1.0M289.4 43.9l0.5 2.6M293.7 41.5l0.8 0.1M296.4 75.2l0.2 1.0M255.4 48.3l-0.6 2.2M269.0 89.8l1.2 0.8M358.4 42.7l2.0 0.2M332.0 44.5l-0.5 0.9M260.0 92.9l-2.6 0.6M250.3 41.1l-0.9 1.0M268.0 43.8l-2.1 0.6M363.6 80.6l-1.6 0.4M352.4 38.4l2.0 2.1M341.8 81.3l2.8 0.4M250.6 24.7l-0.9 2.4M284.5 59.2l1.4 0.5M305.0 101.2l-2.3 0.0M345.2 77.2l0.4 2.3M267.6 38.5l1.5 0.9M330.7 90.4l1.5 1.1M350.9 52.0l-1.3 1.5M300.7 47.3l0.4 1.3M291.2 26.7l-1.6 0.1M274.0 26.7l-1.4 0.7M323.8 51.1l-0.0 1.2M330.2 46.5l1.9 0.6M269.0 57.5l0.9 1.8M355.9 88.9l-0.7 0.8M260.4 103.3l2.0 0.5M345.5 112.9l1.8 2.3M337.5 51.9l-0.8 0.7M348.6 92.6l-2.3 1.2M311.3 86.0l0.1 2.2M333.1 121.6l0.3 0.8M271.8 28.8l-0.3 1.4M328.6 48.3l-2.4 1.5M294.6 37.3l-0.1 1.2M274.1 32.3l0.8 0.5M288.0 35.0l1.1 0.9M318.9 71.2l-2.5 0.6M338.3 23.6l-1.2 1.2M277.7 61.2l0.8 1.5M292.3 25.1l-0.5 0.6M273.3 112.5l-0.5 2.7M306.6 28.0l0.8 1.1M345.8 44.3l1.1 0.2M250.9 77.1l2.6 0.7M311.4 34.9l0.9 1.8M275.7 107.1l0.9 1.4M250.5 56.2l1.5 1.9M281.6 68.0l-0.9 1.2M267.9 106.0l0.1 1.4M260.4 26.5l0.4 2.7M311.9 37.9l-0.3 1.0M250.9 95.1l-1.0 1.3M281.5 61.8l2.6 0.0M275.2 103.1l-1.3 0.6M285.6 81.1l1.6 0.6M345.5 109.2l-0.9 0.6M325.1 65.8l2.5 0.5M332.4 105.5l-1.7 0.9M306.9 113.1l0.4 2.7M264.6 108.1l-0.9 1.6M296.3 70.1l0.8 1.1M272.6 45.0l-2.1 1.5M330.7 114.7l-0.7 1.4M349.6 27.7l2.2 1.4M285.7 118.2l-1.6 2.2M310.3 67.8l-0.9 1.6M300.1 81.3l0.0 1.2M339.7 117.7l0.9 1.2M281.6 52.0l1.3 1.8M336.4 66.7l-1.0 0.1M251.0 24.7l-1.7 1.3M299.7 19.7l-1.3 2.1" fill="none" stroke="rgb(75,6,10)" stroke-width="0.7" stroke-opacity="0.7" stroke-linecap="round"/><path d="M299.1 28.1l0.9 0.3M299.7 63.5l1.1 2.6M321.3 56.9l0.5 2.0M303.4 92.9l0.3 2.0M289.8 64.1l0.8 2.3M345.2 37.2l0.9 0.7M334.4 101.9l0.6 1.0M351.0 33.4l-1.0 0.2M332.7 68.0l-0.6 1.0M270.6 34.8l0.9 0.8M255.8 63.3l-1.5 1.1M353.8 37.3l-0.5 0.6M310.4 20.5l1.1 0.0M356.4 64.7l-2.1 0.2M345.0 98.7l0.4 1.1M280.3 120.0l1.1 0.0M342.5 114.7l-1.2 1.7M262.1 85.5l-1.1 0.3M340.6 87.9l-0.1 1.7M323.9 92.6l2.2 1.3M350.3 36.9l-0.0 1.3M260.1 44.3l0.8 0.6M256.7 41.7l0.8 0.4M326.8 92.7l-0.5 2.5M362.2 94.4l1.3 2.1M281.3 118.7l1.3 0.5M334.4 44.2l-1.0 0.7M259.2 26.4l-2.0 1.2M342.9 101.0l1.4 1.5M315.8 23.8l-1.3 2.6M296.0 58.1l-2.3 1.0M328.2 20.4l-1.8 1.4M268.3 25.5l-0.9 0.1M302.7 106.1l0.9 1.5M294.5 45.3l-2.2 1.6M353.9 36.5l-2.0 0.6M344.4 34.4l0.7 0.4M262.6 115.3l1.3 0.8M278.2 117.2l0.8 2.7M328.1 42.5l-1.6 0.7M281.3 57.8l0.6 1.1M307.0 29.5l1.4 2.3M318.4 122.3l-1.8 1.6M296.0 55.7l2.3 1.3M253.5 115.1l-2.2 0.3M270.9 67.4l1.4 2.2M304.3 57.9l2.6 0.7M315.9 93.4l1.3 0.7M286.6 40.3l1.3 0.8M260.7 64.8l2.8 0.2M272.0 47.9l-1.5 1.2M257.1 111.5l0.3 2.9M268.6 47.5l1.5 0.1M338.3 60.3l-2.1 1.4M359.1 43.9l-1.8 0.8M330.3 65.0l-0.9 1.1M294.4 88.7l-0.9 2.4M289.1 91.6l-0.6 0.9M351.3 78.8l0.3 0.9M318.8 92.0l-2.1 0.6M351.1 84.2l-2.2 1.3M363.1 86.1l1.1 2.2M324.3 121.7l0.2 1.7M357.4 115.9l1.1 0.4M334.1 103.3l1.3 0.8M334.7 44.5l-0.1 1.6M310.7 52.6l0.7 1.5M347.4 103.9l-0.8 0.1M319.6 78.7l1.1 1.3M352.8 106.5l-0.6 2.8M315.2 40.8l1.1 1.6M278.4 25.3l1.2 2.0M343.1 103.7l-0.6 1.0M341.9 63.5l-1.3 0.8M284.6 42.9l1.8 1.0M365.4 82.4l-2.3 0.2M346.3 48.0l1.0 0.6M341.0 40.5l2.6 0.3M345.6 104.6l-0.5 2.7M279.0 112.8l-1.6 1.3M294.3 51.6l2.7 0.6M301.5 33.6l1.8 1.3M335.0 60.6l0.6 1.2M293.4 51.4l1.3 0.4M297.5 93.3l-1.3 0.6M332.7 62.1l-1.4 1.3M328.4 61.3l-1.5 0.7M270.1 105.5l3.0 0.2M273.7 62.6l-1.2 0.1M298.6 121.8l0.7 2.1M303.0 111.9l0.3 0.9M317.4 50.0l-1.3 2.5M305.2 29.3l0.1 1.2M290.1 116.1l0.6 0.9M274.0 47.8l-0.2 2.7M347.7 67.3l-1.9 2.3M276.7 98.3l-0.9 2.4M355.8 43.6l-0.9 2.0M286.8 98.2l2.2 0.1M321.6 38.6l2.3 0.2M291.5 55.3l0.0 1.5M293.9 84.1l1.2 2.3M332.2 112.2l-1.5 0.9M341.4 122.6l2.8 0.3M315.0 104.4l2.6 0.9M331.2 106.7l0.4 1.5M344.3 70.0l0.9 2.5M351.7 96.6l2.2 1.0M262.5 40.1l-0.1 1.3M342.6 113.6l2.2 0.4M352.6 31.4l1.1 1.5M289.1 21.5l0.5 2.0M259.3 100.3l-0.5 2.2M262.8 117.9l0.5 1.1M314.2 119.0l-1.1 1.4M344.3 51.6l-0.3 2.1M343.4 54.0l-2.5 1.4M339.7 113.6l0.7 1.6M284.1 102.4l-1.5 1.3M331.8 26.3l3.0 0.4M311.8 89.3l-1.8 1.8M284.3 27.4l0.4 1.9M277.1 121.8l0.4 0.7M303.3 40.5l-2.1 0.7M270.4 86.2l0.6 1.4M358.1 77.5l-2.1 0.2M271.6 120.2l0.1 2.4M290.8 70.3l-0.7 2.1M259.6 91.5l0.9 0.9M310.1 90.6l-1.2 0.0M318.0 89.1l0.7 1.9M256.9 101.9l2.6 0.3M257.9 65.6l-1.2 2.2M328.4 120.8l-1.1 1.6M291.8 96.0l1.2 2.3M268.4 120.0l0.8 0.2M317.7 77.2l1.0 0.2M338.8 24.4l-0.8 1.1M264.4 91.4l0.9 1.5M310.9 107.1l1.6 0.6M298.8 115.9l0.6 0.8M300.4 112.9l2.5 1.3M348.5 83.3l-1.5 0.2M308.5 70.8l1.7 1.6M355.5 59.9l-0.1 1.4M249.1 104.4l-0.6 1.0M264.8 47.4l-1.4 1.8M259.9 60.1l-1.0 1.7M264.5 51.0l-1.2 1.1M336.2 76.3l-0.5 2.8M271.7 120.2l-2.4 0.2M303.0 64.0l-2.0 1.0M324.8 57.1l0.3 1.9M354.7 120.5l-1.1 2.5M346.2 35.7l1.3 2.0M296.6 72.2l2.6 1.2M321.2 38.8l-0.3 0.8M296.2 94.5l0.7 0.9M337.7 36.3l0.5 0.6M353.2 27.0l-0.9 1.3M343.0 27.2l0.0 2.0M330.1 26.0l0.9 2.7" fill="none" stroke="rgb(100,9,14)" stroke-width="0.7" stroke-opacity="0.7" stroke-linecap="round"/><path d="M262.4 28.5l-0.4 2.0M358.1 74.7l-1.0 1.4M349.2 112.8l-0.2 3.0M249.2 20.8l-1.0 2.8M362.7 75.7l-1.6 0.9M348.1 116.2l2.7 0.1M318.9 24.8l2.6 0.7M284.3 52.8l-1.1 0.6M268.6 89.7l0.2 1.3M297.8 54.3l-0.8 1.1M251.2 113.2l1.8 1.1M310.5 44.0l-0.6 2.3M281.7 83.6l-2.0 0.1M261.8 86.1l0.9 2.2M261.8 113.7l1.0 0.2M322.7 70.8l-2.9 0.3M317.7 105.5l2.9 0.2M361.4 77.9l-0.6 0.8M349.4 20.7l-2.1 2.0M341.2 61.0l-2.6 0.6M261.9 108.5l1.4 0.3M313.0 85.7l-0.1 1.5M301.8 42.1l1.9 0.6M322.5 58.6l2.7 1.2M351.3 51.2l1.7 2.3M313.0 46.0l0.7 1.7M349.8 118.9l1.8 1.1M324.0 114.7l0.9 1.7M250.4 108.8l-0.5 0.8M341.5 69.9l1.9 1.8M320.2 50.6l1.4 0.7M310.0 110.0l-2.0 1.1M322.8 119.7l0.5 2.9M275.9 43.2l-1.0 0.4M256.7 49.3l-0.1 0.9M267.6 97.0l2.3 0.8M285.6 44.3l1.2 0.9M337.4 103.0l-0.7 0.5M319.7 38.7l0.5 2.0M355.8 31.0l1.4 0.7M325.0 54.2l2.0 0.8M352.2 112.8l0.7 2.0M335.5 103.1l1.9 0.3M274.0 38.2l1.8 0.2M327.1 65.4l-2.0 2.2M282.5 24.9l-1.8 1.9M326.7 72.4l0.2 1.0M346.0 23.8l2.5 1.3M258.1 23.0l1.3 2.4M252.4 119.0l1.0 0.8M293.1 123.2l1.4 0.7M365.6 37.3l-1.5 0.4M253.4 27.1l-2.1 0.3M302.4 42.5l-1.3 0.8M335.0 21.0l-1.5 2.4M274.8 23.0l1.6 1.5M360.2 108.7l-0.8 0.5M261.4 108.0l-0.1 1.0M343.3 66.3l-1.1 2.5M264.3 32.8l0.2 2.7M357.0 34.3l-1.9 0.7M258.5 84.3l-1.6 0.8M357.5 95.8l0.9 0.1M251.5 73.3l-1.7 0.1M322.7 73.7l-0.3 1.4M255.8 59.6l-0.7 1.0M360.4 35.7l-1.3 0.6M345.8 80.1l-1.1 0.3M345.8 59.5l1.0 1.1M360.2 43.0l-0.5 0.9M352.8 111.6l1.1 1.0M307.2 94.1l-1.2 1.9M345.1 25.7l0.2 1.9M329.2 52.5l1.4 1.4M356.5 107.7l-2.5 1.3M317.5 60.3l-2.6 1.4M255.9 40.1l-1.7 2.4M340.3 88.4l0.2 2.8M313.2 85.8l0.6 2.3M256.5 83.3l-1.2 0.4M341.3 101.7l1.1 0.3M251.0 27.4l0.3 2.0M263.2 58.3l-1.8 1.1M327.5 79.7l1.3 1.1M279.6 51.4l0.6 1.2M337.8 85.3l1.0 0.9M304.9 102.8l2.0 1.1M249.1 83.5l0.0 2.9M334.4 58.1l-1.4 2.4M264.9 45.2l0.4 2.4M341.1 25.1l0.7 0.6M320.5 117.7l-1.6 0.0M281.4 110.3l0.5 1.0M345.2 58.2l-1.0 0.0M248.4 48.4l-0.9 0.4M327.1 31.4l2.6 0.8M264.5 59.5l-0.8 1.5M260.9 53.1l0.0 2.3M291.9 87.9l0.3 2.4M281.7 77.2l0.7 1.8M278.5 21.8l2.0 0.5M261.1 40.9l-1.0 1.5M314.8 121.5l2.3 1.9M331.3 104.3l-1.2 0.6M310.0 119.1l1.2 2.5M347.4 67.0l1.2 0.5M332.5 70.4l-1.9 2.3M363.2 49.3l-2.2 1.2M288.0 84.6l-1.9 0.4M348.9 46.8l-1.1 1.7M310.2 63.5l-1.9 2.1M339.2 120.8l0.6 2.8M315.5 85.9l-0.7 2.3M333.4 97.3l-2.2 1.4M280.6 81.3l-0.8 1.8M352.9 80.7l-0.7 2.5M268.6 64.8l-1.0 0.0M347.0 40.6l0.4 2.4M275.3 113.2l-0.3 0.9M338.8 37.7l-1.3 0.8M281.3 60.1l2.5 0.4M305.5 83.3l-1.6 0.4M338.3 59.1l-0.7 1.4M286.0 93.6l-2.3 0.7M323.8 93.5l0.7 0.7M335.7 22.5l-1.3 1.7M309.7 117.0l-1.9 1.0M332.3 117.2l-0.0 0.8M358.8 119.7l0.8 0.6M318.6 38.7l-0.1 1.6M248.8 44.3l1.6 2.1M269.9 88.6l1.6 0.2M272.1 29.7l1.1 2.6M279.7 62.2l0.2 1.6M273.7 112.4l0.6 1.6M311.2 100.7l-1.1 0.9M285.2 72.5l2.2 1.2M313.3 118.5l0.9 0.6M273.3 107.6l1.5 0.7M274.7 42.6l0.0 2.1M344.3 91.2l2.8 0.2M274.5 115.0l1.1 0.9M311.3 29.2l1.8 2.0M276.5 51.5l-0.3 1.7M340.7 20.3l1.6 2.0M282.8 121.6l-1.7 0.7M344.2 35.1l-0.5 0.8M300.3 48.1l1.0 2.5M250.7 110.5l2.6 1.3M364.2 38.4l0.7 2.0M327.4 120.0l-0.6 2.0M344.3 23.3l0.8 2.2M269.8 64.0l1.8 0.4M260.4 102.4l-0.8 1.0M255.1 48.1l2.1 0.9M338.3 86.0l1.6 0.2M266.0 101.6l-0.3 1.3M303.6 65.3l0.0 2.3M326.6 26.4l1.4 2.2M285.3 50.4l-0.7 0.6M335.4 98.0l0.2 1.1M280.8 44.7l-2.0 0.4M259.5 114.4l-0.8 0.4M262.0 97.0l-0.6 1.8M253.4 110.9l1.3 1.9M349.2 57.8l1.5 1.5M343.5 98.1l-0.0 0.9M306.2 47.7l-0.2 1.2M257.6 107.6l1.9 1.1M293.8 44.5l0.6 1.9M355.4 112.0l1.2 0.4M308.0 93.7l-1.3 0.4M285.9 50.7l-0.3 0.8M252.1 103.2l-2.6 0.7M322.1 83.8l1.5 1.1" fill="none" stroke="rgb(125,11,17)" stroke-width="0.7" stroke-opacity="0.7" stroke-linecap="round"/><path d="M314.0 115.4l0.1 1.2M274.7 108.2l-2.5 1.6M339.8 39.5l0.9 2.0M333.3 37.5l-1.7 0.7M309.1 76.0l1.4 1.2M330.9 30.9l0.6 1.4M278.7 28.1l-2.9 0.1M261.2 40.5l0.4 1.4M364.6 49.9l-1.2 0.8M268.4 53.1l-0.8 1.7M330.1 117.6l2.3 1.7M355.9 27.8l-0.1 2.0M327.4 62.6l-2.1 0.4M301.3 103.6l0.1 2.1M315.5 24.5l2.9 0.7M353.1 80.7l-0.1 1.9M330.2 61.4l-0.6 1.9M271.2 115.3l1.2 0.3M351.0 71.2l1.1 0.1M348.2 119.7l0.9 2.8M274.5 54.1l-0.9 0.9M320.5 74.8l-1.6 1.3M339.2 111.4l-0.7 2.3M351.9 122.1l1.1 1.4M314.3 55.0l-1.4 0.5M330.2 43.7l-1.0 1.0M333.4 53.9l0.3 0.7M266.8 42.3l0.5 0.7M349.1 46.4l-1.0 0.1M314.0 22.1l-2.3 0.9M347.1 96.8l-2.3 1.2M254.7 72.9l-1.2 2.6M314.1 101.0l-0.6 1.3M347.4 100.1l0.1 2.4M290.0 121.6l0.4 1.1M271.7 105.6l-0.9 0.5M255.8 92.5l-1.8 0.8M344.8 52.7l-1.2 1.8M333.1 23.7l-1.8 1.8M360.3 115.7l2.5 1.0M297.3 26.0l-1.9 1.0M303.8 72.3l-2.0 0.3M282.7 111.7l0.4 0.9M306.0 80.3l0.2 0.9M291.5 61.6l1.7 1.1M287.1 113.0l-0.8 1.8M267.0 86.9l-0.3 1.0M342.4 79.3l2.4 0.1M359.3 49.4l1.6 0.4M313.2 29.9l1.8 1.6M267.1 36.7l-0.2 1.0M295.6 24.9l-1.1 0.1M356.1 54.9l1.4 0.6M330.5 44.5l-1.0 2.1M331.6 43.1l2.7 1.1M264.8 73.1l1.6 1.8M247.4 50.2l2.9 0.2M358.1 108.9l-1.2 0.4M267.4 32.2l-0.3 0.8M261.6 22.5l-0.4 1.5M249.5 105.1l-2.2 0.3M284.0 64.2l-2.0 0.2M361.0 110.5l0.5 1.9M302.9 20.9l-1.3 1.6M348.6 20.8l-1.8 1.4M348.8 33.1l0.0 1.4M254.7 71.5l-0.4 2.9" fill="none" stroke="rgb(50,4,7)" stroke-width="0.7" stroke-opacity="0.7" stroke-linecap="round"/></g>
<g filter="url(#bl2)" opacity="0.88"><ellipse cx="260.8" cy="30.0" rx="7.8" ry="8.8" fill="url(#nucg0)"/><ellipse cx="299.3" cy="23.0" rx="7.3" ry="4.7" fill="url(#nucg0)"/><ellipse cx="280.6" cy="53.0" rx="9.2" ry="10.2" fill="url(#nucg0)"/><ellipse cx="324.1" cy="47.5" rx="9.0" ry="10.2" fill="url(#nucg0)"/><ellipse cx="249.8" cy="68.0" rx="5.7" ry="8.8" fill="url(#nucg0)"/><ellipse cx="343.9" cy="69.5" rx="8.3" ry="9.4" fill="url(#nucg0)"/><ellipse cx="313.3" cy="86.0" rx="8.3" ry="9.4" fill="url(#nucg0)"/><ellipse cx="292.3" cy="107.0" rx="8.8" ry="9.4" fill="url(#nucg0)"/><ellipse cx="311.0" cy="121.0" rx="10.4" ry="4.7" fill="url(#nucg0)"/><ellipse cx="362.3" cy="31.0" rx="3.6" ry="8.3" fill="url(#nucg0)"/><path d="M260.2 30.8h.01M299.0 24.0h.01M276.9 50.7h.01M282.1 57.7h.01M324.7 42.7h.01M252.2 70.9h.01M345.2 67.1h.01M315.1 89.6h.01M312.0 85.5h.01M296.3 104.5h.01M316.9 120.6h.01M362.9 37.1h.01" stroke="#0c0c70" stroke-width="1.8" stroke-linecap="round" stroke-opacity="0.6"/><path d="M261.8 24.5h.01M256.5 33.7h.01M254.9 29.7h.01M264.5 27.9h.01M264.2 26.1h.01M265.3 33.6h.01M262.0 27.7h.01M302.3 21.9h.01M297.3 22.0h.01M282.6 51.4h.01M324.8 43.9h.01M323.5 41.8h.01M323.0 44.1h.01M251.6 67.7h.01M246.7 71.5h.01M348.5 65.6h.01M308.2 89.0h.01M312.8 92.2h.01M311.3 91.9h.01M315.0 88.3h.01M317.2 84.0h.01M290.6 111.1h.01M311.3 122.4h.01M314.1 120.9h.01M309.3 118.4h.01" stroke="#101088" stroke-width="1.8" stroke-linecap="round" stroke-opacity="0.6"/><path d="M263.0 30.2h.01M279.0 56.8h.01M287.0 50.2h.01M279.0 54.3h.01M275.2 50.8h.01M283.4 56.7h.01M278.5 60.5h.01M318.0 45.7h.01M323.4 50.3h.01M251.7 64.0h.01M347.8 73.8h.01M346.2 74.3h.01M317.9 87.1h.01M295.7 103.6h.01M290.4 110.5h.01M317.7 122.0h.01M362.8 33.2h.01M362.2 36.3h.01M364.3 33.6h.01" stroke="#2828c0" stroke-width="1.8" stroke-linecap="round" stroke-opacity="0.6"/><path d="M300.6 25.9h.01M276.7 51.8h.01M276.8 56.7h.01M324.1 44.3h.01M249.0 72.4h.01M340.2 66.2h.01M339.0 70.8h.01M349.4 66.0h.01M312.9 80.7h.01M288.8 105.9h.01M288.7 108.1h.01M286.5 110.3h.01" stroke="#1c1ca8" stroke-width="1.8" stroke-linecap="round" stroke-opacity="0.6"/><path d="M277.9 53.1h.01M321.8 46.9h.01M322.4 48.7h.01M317.8 49.6h.01M320.3 51.4h.01M329.6 52.1h.01M250.0 63.4h.01M252.1 62.7h.01M345.9 64.8h.01M343.8 70.9h.01M346.3 67.9h.01M315.6 84.9h.01M288.3 108.7h.01M293.9 108.9h.01M294.9 101.3h.01M289.0 104.0h.01M313.9 123.2h.01" stroke="#2424b8" stroke-width="1.8" stroke-linecap="round" stroke-opacity="0.6"/></g>
</g>
<g clip-path="url(#cp01)">
<rect x="127" y="126.9" width="117.1" height="102.29999999999998" fill="#020402"/>
<g filter="url(#bl1)"><path d="M180.5 170.9h.2M180.3 170.2h.2M152.5 188.9h.2M241.9 226.8h.2M200.5 180.0h.2M242.3 166.4h.2M241.0 162.9h.2M152.3 145.6h.2M179.4 195.8h.2M161.0 168.3h.2M158.5 209.2h.2M193.3 131.0h.2M139.5 187.0h.2M195.6 220.6h.2M233.7 146.0h.2M219.3 186.1h.2M187.5 221.8h.2M143.4 157.0h.2M168.5 131.2h.2M153.3 175.7h.2M189.9 219.5h.2M134.0 196.6h.2" fill="none" stroke="rgb(41,51,41)" stroke-width="1.2" stroke-opacity="1" stroke-linecap="round"/><path d="M162.8 227.7h.2M144.7 133.6h.2M222.1 136.5h.2M134.1 200.6h.2M127.3 138.6h.2M163.3 213.3h.2M238.9 199.6h.2M145.1 171.6h.2M206.5 178.5h.2M173.0 176.9h.2M137.3 160.6h.2M197.4 216.5h.2M202.9 210.3h.2M210.6 142.8h.2M209.6 191.4h.2M241.0 142.5h.2M128.8 207.3h.2M207.3 182.8h.2M188.5 184.5h.2M138.9 200.1h.2M161.5 165.4h.2M128.8 208.9h.2M152.9 208.8h.2M206.1 137.7h.2M227.2 226.0h.2M128.9 190.3h.2M198.6 189.9h.2M243.3 222.6h.2M205.3 227.3h.2M144.6 197.4h.2M183.8 171.7h.2M169.4 146.6h.2M184.3 162.0h.2" fill="none" stroke="rgb(37,46,37)" stroke-width="1.2" stroke-opacity="1" stroke-linecap="round"/><path d="M233.7 201.0h.2M166.6 159.7h.2M177.1 213.5h.2M177.6 206.8h.2M131.5 222.7h.2M160.1 195.3h.2M133.3 136.4h.2M151.7 148.9h.2M132.0 164.2h.2M231.7 202.2h.2M222.2 227.0h.2M140.3 134.8h.2M244.1 190.4h.2M206.9 153.4h.2M234.5 130.6h.2M223.0 170.9h.2M141.8 183.9h.2M231.2 186.8h.2M238.6 167.6h.2M206.4 227.2h.2M207.7 221.9h.2M230.5 219.2h.2M132.3 142.8h.2M129.1 210.1h.2" fill="none" stroke="rgb(43,53,43)" stroke-width="1.2" stroke-opacity="1" stroke-linecap="round"/><path d="M237.4 168.2h.2M153.4 142.3h.2M181.1 136.3h.2M138.5 198.8h.2M197.8 206.5h.2M238.8 144.1h.2M222.9 169.7h.2M182.7 207.8h.2M170.3 146.8h.2M220.0 131.4h.2M240.5 189.4h.2M187.5 186.9h.2M208.2 204.0h.2M230.5 190.2h.2M233.3 140.2h.2M151.4 159.9h.2M217.0 219.5h.2M161.1 170.0h.2" fill="none" stroke="rgb(24,30,24)" stroke-width="1.2" stroke-opacity="1" stroke-linecap="round"/><path d="M178.8 219.6h.2M153.3 151.3h.2M170.8 224.8h.2M229.8 137.8h.2M174.9 229.1h.2M159.4 147.7h.2M142.8 188.5h.2M233.4 214.4h.2M230.5 186.5h.2M158.7 176.1h.2M144.6 170.1h.2M138.1 141.4h.2M156.5 191.1h.2M192.7 202.0h.2M131.8 190.5h.2M174.5 168.7h.2M199.6 147.4h.2M137.0 145.0h.2M213.6 155.1h.2M208.6 129.3h.2M219.4 132.5h.2M233.6 177.5h.2M157.3 128.8h.2M231.3 182.7h.2M151.0 155.6h.2M234.6 152.9h.2M226.6 154.3h.2M216.0 204.1h.2M138.5 136.2h.2M235.9 157.6h.2M160.0 213.6h.2M193.3 156.4h.2M223.4 222.6h.2M239.7 199.0h.2M180.8 212.7h.2M184.5 207.4h.2M179.6 147.7h.2M243.9 189.4h.2M190.5 158.7h.2M152.5 174.1h.2" fill="none" stroke="rgb(32,40,32)" stroke-width="1.2" stroke-opacity="1" stroke-linecap="round"/><path d="M213.7 130.0h.2M229.3 201.2h.2M235.2 204.6h.2M140.3 206.8h.2M224.0 224.5h.2M198.7 186.8h.2M226.9 188.8h.2M235.9 135.4h.2M188.1 150.8h.2M221.1 142.0h.2M136.7 155.0h.2M156.6 128.7h.2M161.5 137.0h.2M216.1 198.4h.2M166.8 145.6h.2M206.3 206.7h.2M179.8 169.6h.2M152.0 205.3h.2M162.5 160.3h.2M225.9 172.0h.2M204.2 196.9h.2M201.4 164.4h.2" fill="none" stroke="rgb(20,25,20)" stroke-width="1.2" stroke-opacity="1" stroke-linecap="round"/><path d="M229.2 142.7h.2M155.6 145.9h.2M230.0 140.6h.2M201.7 211.4h.2M184.9 137.2h.2M151.3 151.8h.2M175.6 153.6h.2M154.9 129.4h.2M177.4 183.3h.2M225.5 161.9h.2M127.1 212.3h.2M214.5 143.3h.2M217.0 210.5h.2M214.7 166.5h.2M142.5 205.2h.2M211.3 148.9h.2M143.3 205.9h.2M170.9 202.0h.2M154.7 153.6h.2M154.7 171.0h.2M231.6 211.9h.2" fill="none" stroke="rgb(19,23,19)" stroke-width="1.2" stroke-opacity="1" stroke-linecap="round"/><path d="M158.3 204.8h.2M225.0 155.5h.2M129.3 205.2h.2M196.1 127.2h.2M215.2 154.7h.2M150.3 204.9h.2M188.4 132.0h.2M176.0 189.9h.2M190.4 180.5h.2M215.1 203.1h.2M233.3 221.9h.2M189.3 185.7h.2M162.0 158.0h.2M189.8 152.0h.2M164.4 219.9h.2M197.1 140.7h.2M218.2 208.2h.2M144.9 140.3h.2M152.5 194.7h.2M189.4 136.7h.2M207.6 183.6h.2M131.7 132.0h.2M175.9 135.1h.2M171.4 140.7h.2M216.5 215.8h.2M179.4 183.0h.2M161.8 169.7h.2M204.5 182.0h.2M141.0 212.1h.2M235.6 205.6h.2M210.0 216.3h.2M144.3 135.6h.2M127.8 218.2h.2M179.8 128.3h.2" fill="none" stroke="rgb(40,50,40)" stroke-width="1.2" stroke-opacity="1" stroke-linecap="round"/><path d="M135.5 129.9h.2M171.0 209.0h.2M185.2 207.2h.2M192.6 132.2h.2M198.5 211.8h.2M140.5 175.1h.2M134.4 145.1h.2M215.8 173.0h.2M219.7 150.7h.2M175.4 215.2h.2M228.5 226.2h.2M146.1 153.3h.2M200.4 214.3h.2M178.9 180.8h.2M225.7 165.5h.2M222.5 158.6h.2M164.2 203.9h.2M135.4 218.5h.2M170.5 161.5h.2M172.8 173.4h.2M147.6 160.2h.2M158.4 149.0h.2M237.6 138.7h.2M163.1 218.2h.2M240.7 212.8h.2M197.5 203.1h.2M140.8 146.8h.2" fill="none" stroke="rgb(26,32,26)" stroke-width="1.2" stroke-opacity="1" stroke-linecap="round"/><path d="M132.9 210.3h.2M197.9 201.4h.2M202.0 169.1h.2M170.3 157.4h.2M197.5 156.8h.2M141.6 131.5h.2M186.2 148.3h.2M190.2 211.2h.2M177.7 216.1h.2M214.6 202.9h.2M177.0 179.4h.2M156.5 146.9h.2M191.4 189.5h.2M173.1 129.3h.2M166.9 148.7h.2M151.4 156.5h.2M160.0 187.6h.2M168.3 181.3h.2M165.0 153.1h.2M220.5 202.7h.2M228.7 225.5h.2M234.6 136.1h.2M184.3 163.5h.2M229.9 137.1h.2M161.0 180.1h.2M137.4 214.5h.2M237.6 203.4h.2M160.4 164.0h.2" fill="none" stroke="rgb(34,42,34)" stroke-width="1.2" stroke-opacity="1" stroke-linecap="round"/><path d="M198.8 221.2h.2M220.8 164.7h.2M176.7 222.0h.2M162.4 160.9h.2M181.4 132.2h.2M168.6 202.5h.2M154.8 224.2h.2M130.7 228.9h.2M203.7 154.9h.2M178.8 136.4h.2M237.1 179.0h.2M221.2 204.9h.2M153.5 208.9h.2M218.2 213.2h.2M163.8 201.3h.2M148.6 194.6h.2M186.7 163.4h.2M219.0 193.6h.2M213.9 145.5h.2M207.5 221.0h.2M234.8 206.9h.2M176.8 167.4h.2M170.4 182.0h.2M195.1 214.8h.2M158.9 203.5h.2M236.9 148.4h.2M223.6 182.0h.2M200.0 148.7h.2" fill="none" stroke="rgb(38,47,38)" stroke-width="1.2" stroke-opacity="1" stroke-linecap="round"/><path d="M240.2 137.6h.2M185.4 206.3h.2M173.3 188.6h.2M222.6 170.0h.2M230.9 131.5h.2M164.9 160.9h.2M163.2 212.9h.2M171.4 201.0h.2M168.8 226.9h.2M204.3 222.2h.2M164.4 150.8h.2M137.6 155.1h.2M184.4 165.6h.2M182.1 185.4h.2M176.7 149.9h.2M242.9 208.3h.2M187.0 136.4h.2M219.7 162.4h.2M217.0 198.5h.2M229.9 228.7h.2M164.5 203.6h.2M210.1 145.9h.2M158.6 209.0h.2M150.5 187.2h.2M228.2 217.3h.2M227.8 140.5h.2M232.7 153.7h.2M176.8 143.8h.2M194.4 223.6h.2M219.8 189.8h.2M160.3 221.2h.2M137.5 152.7h.2M195.6 177.6h.2M223.0 176.8h.2" fill="none" stroke="rgb(45,56,45)" stroke-width="1.2" stroke-opacity="1" stroke-linecap="round"/><path d="M153.8 218.1h.2M229.5 214.1h.2M168.6 141.3h.2M225.4 179.1h.2M169.4 142.8h.2M226.8 206.4h.2M240.8 135.5h.2M172.4 166.3h.2M166.9 155.4h.2M203.8 183.6h.2M185.0 170.7h.2M203.6 182.1h.2M219.3 174.4h.2M218.9 199.6h.2M162.2 205.6h.2M172.3 202.8h.2M228.7 226.0h.2M210.8 150.7h.2M203.0 174.1h.2M240.0 141.6h.2M166.0 135.7h.2M162.2 190.5h.2M154.9 130.1h.2M193.5 182.8h.2M187.2 215.4h.2M133.2 217.9h.2M186.9 130.1h.2" fill="none" stroke="rgb(35,43,35)" stroke-width="1.2" stroke-opacity="1" stroke-linecap="round"/><path d="M162.4 140.5h.2M227.3 138.1h.2M196.9 217.1h.2M148.1 216.5h.2M169.2 133.8h.2M189.6 210.1h.2M140.0 187.3h.2M241.1 132.9h.2M150.8 207.7h.2M201.1 218.4h.2M165.0 145.5h.2M132.2 209.4h.2M158.7 178.8h.2M235.5 148.8h.2M156.1 152.5h.2M197.8 173.3h.2M165.5 155.8h.2M164.2 164.3h.2M197.8 187.6h.2M135.5 146.1h.2M150.1 131.7h.2M131.5 189.1h.2" fill="none" stroke="rgb(29,36,29)" stroke-width="1.2" stroke-opacity="1" stroke-linecap="round"/><path d="M129.5 197.8h.2M143.1 148.7h.2M168.2 150.3h.2M178.8 144.4h.2M173.2 183.4h.2M158.1 155.4h.2M203.7 149.9h.2M158.9 222.2h.2M161.6 149.9h.2M160.8 223.1h.2M216.1 187.4h.2M233.7 189.8h.2M227.6 163.7h.2M169.3 189.6h.2M154.7 209.5h.2M163.4 188.4h.2M158.9 175.7h.2M239.5 155.1h.2M152.7 219.0h.2M228.8 173.9h.2M238.8 214.9h.2M215.9 139.5h.2M227.9 163.3h.2M228.3 210.9h.2M179.8 222.6h.2M198.4 184.7h.2" fill="none" stroke="rgb(36,45,36)" stroke-width="1.2" stroke-opacity="1" stroke-linecap="round"/><path d="M220.2 174.8h.2M140.7 138.6h.2M130.5 154.8h.2M240.8 229.0h.2M157.3 147.9h.2M160.7 130.3h.2M212.5 164.3h.2M171.5 178.3h.2M149.4 182.1h.2M137.7 128.3h.2M135.0 211.6h.2M236.4 225.0h.2M197.0 178.0h.2M206.9 135.7h.2M227.5 213.0h.2M153.0 140.9h.2M188.7 178.2h.2M235.3 200.8h.2M132.1 227.0h.2M200.3 227.8h.2M183.1 199.6h.2M231.9 175.8h.2" fill="none" stroke="rgb(30,37,30)" stroke-width="1.2" stroke-opacity="1" stroke-linecap="round"/><path d="M161.5 160.1h.2M203.5 135.5h.2M138.6 167.0h.2M212.0 153.4h.2M230.6 181.3h.2M237.9 179.3h.2M220.8 172.4h.2M211.3 133.2h.2M149.5 194.8h.2M241.7 151.5h.2M143.9 130.5h.2M210.7 159.2h.2M128.1 155.1h.2M186.4 169.1h.2M148.5 146.1h.2M132.6 190.2h.2M154.1 184.8h.2M184.0 222.8h.2M142.0 210.4h.2M170.2 219.5h.2M171.7 211.2h.2" fill="none" stroke="rgb(44,55,44)" stroke-width="1.2" stroke-opacity="1" stroke-linecap="round"/><path d="M220.7 203.5h.2M212.6 133.6h.2M243.2 149.3h.2M199.0 183.9h.2M149.3 203.0h.2M170.6 144.0h.2M220.4 214.4h.2M213.4 210.4h.2M225.1 201.4h.2M218.3 127.4h.2M199.7 148.7h.2M163.1 207.7h.2M197.1 143.5h.2M190.7 183.8h.2M189.1 207.2h.2M136.3 196.7h.2M171.5 175.0h.2M221.7 213.2h.2M159.9 165.0h.2M131.0 226.9h.2M157.6 166.5h.2M224.2 140.4h.2" fill="none" stroke="rgb(33,41,33)" stroke-width="1.2" stroke-opacity="1" stroke-linecap="round"/><path d="M147.3 137.8h.2M150.5 185.7h.2M159.7 137.5h.2M131.7 211.9h.2M191.5 160.4h.2M224.1 137.0h.2M146.3 180.2h.2M240.6 222.5h.2M149.5 147.7h.2M244.0 135.0h.2M150.2 207.1h.2M223.2 224.9h.2M227.5 207.3h.2M164.1 218.7h.2M241.5 185.6h.2M182.3 190.4h.2M159.5 211.3h.2M233.5 224.9h.2M209.7 201.5h.2M173.4 214.2h.2M150.6 128.7h.2M186.2 209.6h.2M202.5 228.5h.2M215.0 186.6h.2M164.4 126.9h.2M215.2 180.9h.2M167.0 198.4h.2M145.4 176.7h.2M188.6 202.5h.2M237.8 192.9h.2M141.8 147.7h.2M235.7 131.4h.2M182.0 178.7h.2" fill="none" stroke="rgb(25,31,25)" stroke-width="1.2" stroke-opacity="1" stroke-linecap="round"/><path d="M156.8 210.5h.2M190.8 180.9h.2M243.0 204.8h.2M199.6 205.4h.2M173.3 203.0h.2M219.8 135.8h.2M179.5 136.0h.2M192.9 225.9h.2M144.0 221.0h.2M205.2 146.9h.2M183.5 132.0h.2M183.4 161.4h.2M132.5 134.9h.2M196.1 190.0h.2M191.3 130.8h.2M197.2 201.7h.2M206.9 172.1h.2M190.9 153.7h.2M199.5 184.3h.2M200.7 153.6h.2" fill="none" stroke="rgb(21,26,21)" stroke-width="1.2" stroke-opacity="1" stroke-linecap="round"/><path d="M131.1 164.0h.2M138.6 143.0h.2M223.1 209.5h.2M231.6 200.5h.2M187.8 199.0h.2M227.9 202.1h.2M220.9 150.4h.2M151.8 204.9h.2M231.4 195.2h.2M161.5 173.8h.2M183.9 197.5h.2M162.2 196.6h.2M160.2 131.8h.2M198.2 202.2h.2M180.1 176.7h.2M181.3 132.3h.2M193.6 138.9h.2M148.7 155.4h.2M159.5 138.8h.2M171.8 151.2h.2M220.8 131.7h.2M156.9 225.0h.2" fill="none" stroke="rgb(27,33,27)" stroke-width="1.2" stroke-opacity="1" stroke-linecap="round"/><path d="M153.7 183.1h.2M165.9 147.6h.2M177.3 213.6h.2M210.6 208.4h.2M189.9 206.7h.2M168.1 172.9h.2M217.2 174.9h.2M242.1 190.1h.2M142.9 179.4h.2M157.7 133.4h.2M222.3 201.4h.2M171.0 194.2h.2M176.6 163.1h.2M216.0 225.7h.2M136.4 162.0h.2M208.1 137.8h.2M137.5 185.4h.2M239.0 152.4h.2M161.6 168.8h.2M219.2 202.5h.2M238.3 182.6h.2M238.5 215.3h.2M152.2 226.3h.2M137.8 142.1h.2M145.1 136.8h.2M240.1 157.8h.2" fill="none" stroke="rgb(23,28,23)" stroke-width="1.2" stroke-opacity="1" stroke-linecap="round"/><path d="M209.0 207.8h.2M211.2 168.6h.2M182.4 161.2h.2M195.8 214.1h.2M177.3 139.2h.2M175.2 146.7h.2M134.6 141.1h.2M181.3 166.8h.2M215.1 173.8h.2M238.7 208.9h.2M150.3 174.2h.2M226.3 207.9h.2M233.3 221.5h.2M175.7 211.3h.2M145.4 183.7h.2M131.4 214.5h.2M216.5 135.6h.2M186.2 162.5h.2M128.3 174.3h.2M211.6 187.9h.2M229.6 141.6h.2M163.0 133.0h.2M219.8 207.0h.2M145.2 158.6h.2" fill="none" stroke="rgb(31,38,31)" stroke-width="1.2" stroke-opacity="1" stroke-linecap="round"/><path d="M129.9 163.4h.2M138.8 192.4h.2M181.3 133.7h.2M238.5 132.1h.2M165.7 210.8h.2M201.1 201.9h.2M210.7 195.5h.2M175.4 198.4h.2M179.2 130.9h.2M175.4 137.1h.2M129.5 156.5h.2M239.0 178.7h.2M188.4 220.1h.2M184.3 187.4h.2M185.1 154.2h.2M242.5 193.9h.2M186.5 215.8h.2M218.9 186.8h.2M186.8 219.9h.2M198.0 163.5h.2M219.2 182.9h.2M192.2 172.7h.2M187.4 132.7h.2" fill="none" stroke="rgb(42,52,42)" stroke-width="1.2" stroke-opacity="1" stroke-linecap="round"/><path d="M209.5 199.6h.2M165.5 219.1h.2M164.4 173.7h.2M169.8 182.1h.2M201.4 141.2h.2M227.7 159.3h.2M231.6 202.9h.2M191.4 189.0h.2M157.8 139.7h.2M196.4 213.8h.2M185.7 212.1h.2M216.7 189.0h.2M191.2 163.2h.2M197.7 197.7h.2M191.0 194.7h.2M159.6 203.0h.2M192.1 168.5h.2M132.3 189.5h.2M193.4 198.4h.2M183.0 153.8h.2M143.0 162.0h.2M140.7 160.7h.2M150.7 138.0h.2" fill="none" stroke="rgb(18,22,18)" stroke-width="1.2" stroke-opacity="1" stroke-linecap="round"/><path d="M229.0 178.0h.2M241.0 158.0h.2M185.8 143.3h.2M176.2 201.7h.2M229.5 176.4h.2M167.1 139.2h.2M227.8 218.0h.2M218.6 144.0h.2M229.6 189.3h.2M139.7 227.6h.2M232.1 150.1h.2M176.2 163.5h.2M146.2 208.6h.2M153.5 185.1h.2M216.7 145.3h.2M169.0 157.9h.2" fill="none" stroke="rgb(39,48,39)" stroke-width="1.2" stroke-opacity="1" stroke-linecap="round"/><path d="M192.4 178.8h.2M193.6 161.9h.2M187.5 175.1h.2M211.3 215.2h.2M201.3 133.5h.2M183.9 132.0h.2M214.9 153.3h.2M135.3 176.1h.2M222.0 165.6h.2M181.7 150.0h.2M165.7 159.8h.2M148.8 163.2h.2M224.8 164.1h.2M227.6 208.0h.2M207.8 139.6h.2M214.8 184.0h.2M238.8 152.3h.2M161.4 193.6h.2M219.4 177.8h.2M220.7 205.7h.2M188.2 215.1h.2" fill="none" stroke="rgb(28,35,28)" stroke-width="1.2" stroke-opacity="1" stroke-linecap="round"/><path d="M155.6 142.5h.2M148.0 155.7h.2M190.8 188.7h.2M156.7 200.2h.2M209.2 167.3h.2M188.9 210.3h.2M176.0 141.0h.2M206.4 186.2h.2M188.2 204.8h.2M204.8 211.4h.2M182.3 209.4h.2M202.6 173.3h.2M185.4 139.1h.2M210.2 161.9h.2M178.7 204.6h.2M233.5 141.5h.2M142.3 186.4h.2M204.7 223.4h.2M228.4 189.9h.2M226.1 218.2h.2M152.5 213.9h.2" fill="none" stroke="rgb(22,27,22)" stroke-width="1.2" stroke-opacity="1" stroke-linecap="round"/><path d="M229.6 210.4h.3M166.8 128.4h.3M221.2 213.4h.3M182.5 160.9h.3M133.5 189.5h.3M168.8 175.3h.3M206.5 227.0h.3M172.4 155.2h.3M219.2 200.9h.3M195.5 195.0h.3M202.1 201.4h.3M127.8 158.2h.3M233.1 128.8h.3M191.8 195.6h.3M136.2 218.1h.3M140.1 208.2h.3M216.1 171.3h.3M209.3 127.0h.3M174.7 145.4h.3M199.1 195.0h.3M131.1 214.9h.3M243.1 170.3h.3M179.9 200.7h.3M161.0 209.2h.3M180.5 146.9h.3M147.0 188.5h.3M230.6 199.6h.3M196.5 209.3h.3M179.3 136.4h.3M159.0 220.2h.3M241.6 167.4h.3M150.0 140.3h.3M168.7 136.7h.3M153.6 150.5h.3M192.5 188.3h.3M237.6 148.5h.3M179.5 213.9h.3M173.5 130.5h.3M209.0 196.4h.3M132.1 197.0h.5M138.6 202.7h.5M133.8 194.5h.5M152.1 161.8h.5M150.3 200.4h.5M131.1 154.7h.5M150.8 163.5h.5M127.5 163.2h.5M128.4 203.9h.5M157.7 200.7h.5M140.9 164.1h.5M155.1 169.0h.5M156.4 194.8h.5M146.5 162.3h.5M133.8 172.3h.5M157.7 166.9h.5M154.5 177.7h.5M127.6 201.8h.5M132.3 197.8h.5" fill="none" stroke="rgb(68,125,56)" stroke-width="1.0" stroke-opacity="1" stroke-linecap="round"/><path d="M193.0 217.3h.3M229.0 176.8h.3M151.6 145.2h.3M138.8 164.3h.3M133.1 139.5h.3M211.4 228.5h.3M164.3 208.4h.3M201.9 175.7h.3M226.2 223.0h.3M221.3 182.9h.3M156.1 212.9h.3M199.6 167.5h.3M191.9 210.9h.3M192.3 170.7h.3M203.7 132.7h.3M152.1 188.8h.3M128.5 191.9h.3M207.8 178.8h.3M227.6 154.4h.3M236.6 145.5h.3M133.2 128.1h.3M243.4 136.0h.3M139.8 179.4h.5M138.9 180.5h.5" fill="none" stroke="rgb(27,50,22)" stroke-width="1.0" stroke-opacity="1" stroke-linecap="round"/><path d="M240.5 211.6h.3M133.0 176.1h.3M157.0 138.0h.3M181.7 224.4h.3M233.5 185.0h.3M233.7 189.3h.3M213.6 207.6h.3M163.4 160.8h.3M198.8 155.1h.3M194.9 221.9h.3M242.9 200.1h.3M174.4 194.5h.3M222.9 181.8h.3M175.0 214.0h.3M200.5 156.7h.3M132.2 213.4h.3M169.3 223.4h.3M235.7 197.9h.3M168.5 137.2h.3M228.0 141.3h.3M139.0 198.1h.3M221.5 166.5h.3M241.5 187.0h.3M174.4 168.7h.3M142.5 129.7h.3M133.7 227.8h.3M157.0 143.1h.3M145.7 164.7h.3M157.3 189.8h.3M243.0 171.3h.3M159.4 209.7h.3M185.1 140.0h.3M197.5 132.8h.3M131.1 161.1h.3M241.1 208.5h.3M173.7 144.4h.3M198.3 190.4h.3M183.1 164.6h.3M191.5 156.1h.3M161.8 175.5h.3M191.3 206.1h.3M164.5 200.9h.3M225.2 157.0h.3M224.2 176.6h.3M159.7 180.2h.3M139.7 208.2h.3M141.5 185.2h.3M139.9 135.6h.3M231.1 186.6h.3M171.0 158.9h.3M169.5 213.0h.3M201.5 178.6h.3M141.8 226.5h.3M134.9 226.5h.3M174.8 174.1h.3M224.5 138.7h.3M158.3 200.7h.5M152.7 196.9h.5M134.4 195.7h.5M131.8 190.0h.5M145.9 157.7h.5M127.9 189.0h.5M156.7 197.5h.5M153.5 198.5h.5M153.0 163.4h.5M152.3 180.3h.5M146.1 163.5h.5M133.4 193.2h.5M153.2 173.3h.5M148.4 174.1h.5M158.0 166.0h.5M138.1 202.1h.5M128.5 178.0h.5M156.4 178.9h.5M139.2 165.2h.5M129.8 186.9h.5M158.7 204.2h.5M158.2 175.6h.5M139.5 159.2h.5" fill="none" stroke="rgb(55,100,45)" stroke-width="1.0" stroke-opacity="1" stroke-linecap="round"/><path d="M220.2 165.7h.3M146.7 216.5h.3M199.1 215.6h.3M137.6 160.7h.3M196.1 192.4h.3M141.8 201.9h.3M242.8 142.8h.3M241.0 163.6h.3M212.6 202.5h.3M168.7 176.7h.3M127.6 161.9h.3M182.0 186.0h.3M233.0 226.8h.3M227.8 133.7h.3M177.3 131.6h.3M234.7 138.9h.3M241.4 185.8h.3M132.6 168.1h.3M171.6 219.7h.3M217.5 132.9h.3M150.1 200.8h.3M178.0 168.5h.3M221.0 190.7h.3M186.2 203.1h.3M166.4 158.2h.3M191.0 146.9h.3M231.1 199.7h.3M194.3 181.0h.3M137.8 211.2h.3M151.5 193.9h.3M235.9 224.9h.3M212.1 167.2h.3M156.0 195.1h.3M214.9 219.9h.3M237.0 199.6h.3M195.1 161.2h.3M167.6 202.2h.3M160.1 213.5h.3M128.3 145.2h.3M169.3 203.3h.3M242.1 193.3h.3M225.5 162.2h.3M225.3 198.7h.3M194.0 183.0h.3M150.6 170.0h.3M149.2 173.8h.3M232.3 138.3h.3M195.2 139.8h.3M152.3 160.1h.5M136.8 201.5h.5M141.9 168.7h.5M153.0 188.7h.5M130.5 164.5h.5M155.7 177.6h.5M130.6 156.7h.5M142.9 156.6h.5M127.3 182.4h.5M150.5 196.3h.5M137.3 188.5h.5M134.7 159.3h.5M127.7 153.1h.5M132.0 204.4h.5M139.5 164.1h.5M151.3 200.8h.5M146.1 204.5h.5M154.4 196.9h.5M156.4 179.1h.5" fill="none" stroke="rgb(82,150,67)" stroke-width="1.0" stroke-opacity="1" stroke-linecap="round"/><path d="M164.8 155.0h.3M169.0 184.5h.3M221.9 209.9h.3M214.0 132.9h.3M151.4 183.2h.3M133.3 219.8h.3M235.2 159.1h.3M170.0 220.3h.3M148.2 185.6h.3M183.1 168.4h.3M243.5 217.3h.3M181.3 184.9h.3M153.4 169.7h.3M223.3 223.9h.3M226.0 195.2h.3M148.6 126.9h.3M129.2 156.5h.3M176.3 130.7h.3M217.3 170.5h.3M230.1 196.8h.3M137.8 175.9h.3M197.0 199.2h.3M219.9 226.4h.3M224.4 153.8h.3M220.2 207.1h.3M235.3 221.6h.3M171.0 192.5h.3M222.1 228.4h.3M216.7 145.8h.3M218.5 207.6h.3M132.1 146.6h.3M219.8 225.5h.3M178.6 194.5h.3M138.0 155.7h.3M190.9 152.6h.3M187.7 176.7h.3M153.1 219.5h.3M214.5 200.0h.3M157.0 172.7h.3M237.6 208.3h.3M130.4 209.5h.3M231.1 219.7h.3M232.4 177.4h.3M161.4 193.2h.3M141.5 133.5h.3M165.9 142.4h.3M210.6 164.1h.3M240.0 155.2h.3M208.8 197.5h.3M234.5 209.0h.3M243.6 204.1h.3M190.0 130.0h.3M161.6 139.4h.3M151.7 196.3h.3M166.8 208.3h.3M179.2 217.9h.3M187.0 182.3h.3M149.2 194.1h.3M128.7 169.7h.3M148.3 189.3h.3M176.5 135.3h.3M222.7 154.5h.3M196.8 131.1h.3M151.8 203.3h.5M131.5 187.2h.5M159.1 198.4h.5M132.5 153.1h.5M147.9 194.2h.5M129.0 177.9h.5M158.2 170.1h.5M146.2 155.1h.5M139.4 184.7h.5M141.1 154.6h.5M134.1 166.2h.5M129.9 199.6h.5M138.6 201.3h.5M156.2 189.3h.5M128.7 202.7h.5M132.5 191.6h.5M154.1 173.3h.5M128.4 152.8h.5M154.3 156.4h.5M140.9 202.7h.5M131.1 199.1h.5M159.8 187.3h.5M129.5 182.5h.5M141.6 183.4h.5M148.1 160.6h.5M134.7 152.8h.5M133.2 164.3h.5M158.3 191.9h.5" fill="none" stroke="rgb(41,75,33)" stroke-width="1.0" stroke-opacity="1" stroke-linecap="round"/><path d="M201.0 145.8h.3M159.0 187.0h.3M221.0 155.7h.3M194.1 201.4h.3M235.1 173.6h.3M209.7 207.3h.3M212.5 213.4h.3M160.7 194.8h.3M128.7 142.9h.3M187.0 173.1h.3M136.6 211.7h.3M195.3 160.9h.3M132.1 166.0h.5M133.5 173.2h.5M151.1 174.5h.5M148.2 160.3h.5M151.0 197.3h.5M148.3 172.8h.5M128.2 193.9h.5M133.2 171.7h.5M143.3 204.8h.5" fill="none" stroke="rgb(96,175,78)" stroke-width="1.0" stroke-opacity="1" stroke-linecap="round"/></g>
<g filter="url(#bl2)"><ellipse cx="141.9" cy="143.9" rx="14.9" ry="9.7" fill="url(#nucg1)"/><ellipse cx="181.2" cy="132.4" rx="8.8" ry="6.6" fill="url(#nucg1)"/><ellipse cx="204.7" cy="129.8" rx="7.7" ry="4.4" fill="url(#nucg1)"/><ellipse cx="165.9" cy="188.5" rx="9.7" ry="13.2" fill="url(#nucg1)" transform="rotate(15 165.9 188.5)"/><ellipse cx="195.0" cy="180.3" rx="13.4" ry="10.3" fill="url(#nucg1)"/><ellipse cx="220.3" cy="192.5" rx="13.2" ry="8.8" fill="url(#nucg1)" transform="rotate(-40 220.3 192.5)"/><ellipse cx="143.1" cy="213.0" rx="9.0" ry="12.5" fill="url(#nucg1)"/><ellipse cx="242.3" cy="154.8" rx="3.3" ry="6.6" fill="url(#nucg1)"/><ellipse cx="192.6" cy="227.5" rx="7.7" ry="3.3" fill="url(#nucg1)"/><path d="M138.9 149.4h.01M152.4 142.7h.01M131.6 144.0h.01M161.2 182.2h.01M161.2 187.6h.01M163.1 184.4h.01M186.4 182.6h.01M196.7 176.3h.01M220.3 189.2h.01M211.1 191.7h.01M211.9 192.7h.01M214.8 196.3h.01M224.4 188.1h.01M145.5 219.9h.01M194.2 225.7h.01" stroke="#101088" stroke-width="1.8" stroke-linecap="round" stroke-opacity="0.6"/><path d="M139.1 140.5h.01M132.0 144.5h.01M144.5 142.3h.01M143.2 147.0h.01M134.1 147.4h.01M145.6 145.6h.01M132.4 145.9h.01M182.2 135.5h.01M202.1 128.1h.01M171.5 183.2h.01M166.5 190.8h.01M167.0 179.9h.01M196.9 185.0h.01M199.0 173.6h.01M192.8 174.2h.01M192.8 175.4h.01M201.1 181.2h.01M196.4 175.0h.01M200.2 181.1h.01M196.5 186.5h.01M216.7 188.2h.01M146.9 209.9h.01M148.2 207.5h.01M143.2 211.2h.01M144.0 207.6h.01M241.7 158.6h.01M192.1 228.4h.01" stroke="#0c0c70" stroke-width="1.8" stroke-linecap="round" stroke-opacity="0.6"/><path d="M142.4 147.8h.01M149.5 147.5h.01M180.3 131.2h.01M179.0 133.9h.01M186.1 131.9h.01M202.0 131.5h.01M161.8 195.4h.01M163.3 188.9h.01M190.5 179.3h.01M195.8 182.1h.01M223.0 197.4h.01M221.1 192.4h.01M142.1 217.6h.01M145.3 207.1h.01M138.4 218.4h.01" stroke="#1c1ca8" stroke-width="1.8" stroke-linecap="round" stroke-opacity="0.6"/><path d="M145.4 139.9h.01M146.2 140.6h.01M180.9 135.5h.01M205.3 127.8h.01M162.1 181.0h.01M171.8 183.7h.01M196.9 178.7h.01M200.2 179.6h.01M221.5 191.7h.01M223.6 194.8h.01M214.4 190.1h.01M141.9 216.6h.01M144.1 221.4h.01M139.1 214.6h.01M141.3 212.2h.01M195.5 229.3h.01" stroke="#2424b8" stroke-width="1.8" stroke-linecap="round" stroke-opacity="0.6"/><path d="M138.5 143.5h.01M145.1 139.0h.01M136.5 140.9h.01M180.4 129.2h.01M179.5 129.4h.01M203.0 132.0h.01M162.6 180.2h.01M160.9 193.5h.01M167.9 197.5h.01M167.5 179.4h.01M172.5 190.3h.01M194.4 180.1h.01M189.9 185.3h.01M194.4 182.6h.01M212.4 194.5h.01M228.9 191.1h.01M221.0 191.6h.01M143.0 207.0h.01M138.5 215.4h.01M242.0 159.0h.01" stroke="#2828c0" stroke-width="1.8" stroke-linecap="round" stroke-opacity="0.6"/></g>
<g filter="url(#bl1)"><path d="M170.8 221.1l0.3 -0.1M139.2 189.3l-0.1 0.3M189.8 200.1l1.0 1.0" fill="none" stroke="rgb(123,225,101)" stroke-width="1.3" stroke-opacity="1" stroke-linecap="round"/><path d="M171.3 220.4l1.0 -0.4M133.3 198.5l-0.4 0.9M151.9 177.5l0.4 1.3M170.0 154.3l0.4 0.1" fill="none" stroke="rgb(68,125,56)" stroke-width="1.0" stroke-opacity="1" stroke-linecap="round"/><path d="M174.1 218.7l1.0 -0.4M139.5 185.3l-0.2 1.4M221.5 166.9l0.7 0.6M222.7 168.1l0.4 0.3M194.5 204.1l0.3 0.9" fill="none" stroke="rgb(110,200,90)" stroke-width="1.0" stroke-opacity="1" stroke-linecap="round"/><path d="M177.5 217.0l1.0 -0.4M210.7 201.6l0.9 -0.4M138.7 170.9l0.3 0.8M218.1 164.4l0.9 0.2M176.1 155.4l1.1 0.4" fill="none" stroke="rgb(123,225,101)" stroke-width="1.0" stroke-opacity="1" stroke-linecap="round"/><path d="M185.6 214.0l0.5 -0.3M186.0 214.0l0.9 -0.5M139.8 184.0l-0.1 0.6" fill="none" stroke="rgb(55,100,45)" stroke-width="1.3" stroke-opacity="1" stroke-linecap="round"/><path d="M188.0 213.4l0.5 -0.3M134.8 163.0l0.7 0.7M138.5 182.9l-0.1 0.6M139.2 191.7l-0.6 1.1M150.1 166.5l0.1 0.4M150.0 167.9l0.2 0.8M181.1 157.8l1.1 0.4M233.3 198.2l0.1 0.3" fill="none" stroke="rgb(82,150,67)" stroke-width="1.0" stroke-opacity="1" stroke-linecap="round"/><path d="M193.7 210.9l0.4 -0.2M158.0 183.5l0.4 0.9M130.1 161.6l0.3 0.3M137.0 172.4l0.3 0.8M149.6 169.4l0.2 1.0M150.2 176.3l0.4 1.2M231.7 194.4l0.2 0.4" fill="none" stroke="rgb(96,175,78)" stroke-width="1.0" stroke-opacity="1" stroke-linecap="round"/><path d="M204.1 204.8l0.6 -0.2M210.1 139.0l0.9 -0.3M193.2 202.0l0.4 1.3M237.5 206.0l0.5 1.3" fill="none" stroke="rgb(82,150,67)" stroke-width="1.3" stroke-opacity="1" stroke-linecap="round"/><path d="M145.0 155.1l0.6 1.1M174.5 154.5l0.7 0.3M235.0 204.5l0.3 0.7" fill="none" stroke="rgb(55,100,45)" stroke-width="1.0" stroke-opacity="1" stroke-linecap="round"/><path d="M225.9 169.3l0.4 0.3" fill="none" stroke="rgb(110,200,90)" stroke-width="1.3" stroke-opacity="1" stroke-linecap="round"/><path d="M169.3 152.4l0.8 0.2M234.9 198.8l0.2 0.5" fill="none" stroke="rgb(96,175,78)" stroke-width="1.3" stroke-opacity="1" stroke-linecap="round"/></g>
</g>
<g clip-path="url(#cp11)">
<rect x="247.3" y="126.9" width="117.59999999999997" height="102.29999999999998" fill="#050000"/>
<g filter="url(#bl3)"><ellipse cx="263.1" cy="174.2" rx="15.8" ry="27.0" fill="rgb(170,14,26)" fill-opacity="0.52"/><ellipse cx="301.4" cy="156.2" rx="24.8" ry="20.3" fill="rgb(170,14,26)" fill-opacity="0.52"/><ellipse cx="328.4" cy="185.5" rx="13.5" ry="13.5" fill="rgb(170,14,26)" fill-opacity="0.59"/><ellipse cx="314.9" cy="212.5" rx="20.3" ry="13.5" fill="rgb(170,14,26)" fill-opacity="0.35"/><ellipse cx="353.2" cy="181.0" rx="9.0" ry="13.5" fill="rgb(170,14,26)" fill-opacity="0.35"/><ellipse cx="292.3" cy="194.5" rx="11.3" ry="13.5" fill="rgb(170,14,26)" fill-opacity="0.35"/></g>
<g filter="url(#bl2)"><path d="M281.08,171.95 C282.96,168.19 289.34,155.43 292.35,149.42 C295.35,143.42 297.98,138.16 299.10,135.91" fill="none" stroke="rgb(220,24,36)" stroke-width="1.60" stroke-opacity="0.50" stroke-linecap="round"/><path d="M287.84,160.68 C290.84,158.43 301.35,151.67 305.86,147.17 C310.36,142.67 313.37,135.91 314.87,133.66" fill="none" stroke="rgb(220,24,36)" stroke-width="1.44" stroke-opacity="0.50" stroke-linecap="round"/><path d="M296.85,156.18 C299.85,155.43 310.36,154.30 314.87,151.67 C319.37,149.05 322.38,142.29 323.88,140.41" fill="none" stroke="rgb(220,24,36)" stroke-width="1.60" stroke-opacity="0.50" stroke-linecap="round"/><path d="M303.61,149.42 C305.48,150.55 311.11,154.30 314.87,156.18 C318.62,158.06 324.25,159.93 326.13,160.68" fill="none" stroke="rgb(220,24,36)" stroke-width="1.28" stroke-opacity="0.44" stroke-linecap="round"/><path d="M283.34,140.41 C284.84,141.54 289.34,144.54 292.35,147.17 C295.35,149.80 299.85,154.68 301.35,156.18" fill="none" stroke="rgb(220,24,36)" stroke-width="1.20" stroke-opacity="0.44" stroke-linecap="round"/><path d="M276.58,153.93 C277.33,156.93 279.58,167.44 281.08,171.95 C282.59,176.45 284.84,179.45 285.59,180.95" fill="none" stroke="rgb(220,24,36)" stroke-width="1.20" stroke-opacity="0.39" stroke-linecap="round"/><path d="M249.55,151.67 C250.30,155.05 252.93,164.81 254.06,171.95 C255.18,179.08 255.93,190.71 256.31,194.47" fill="none" stroke="rgb(220,24,36)" stroke-width="1.60" stroke-opacity="0.44" stroke-linecap="round"/><path d="M258.56,151.67 C259.31,155.05 261.94,164.81 263.07,171.95 C264.19,179.08 264.94,190.71 265.32,194.47" fill="none" stroke="rgb(220,24,36)" stroke-width="1.44" stroke-opacity="0.44" stroke-linecap="round"/><path d="M269.82,156.18 C270.20,158.81 271.32,166.31 272.07,171.95 C272.83,177.58 273.95,186.96 274.33,189.96" fill="none" stroke="rgb(220,24,36)" stroke-width="1.20" stroke-opacity="0.39" stroke-linecap="round"/><path d="M251.80,156.18 C254.06,155.80 261.56,153.93 265.32,153.93 C269.07,153.93 272.83,155.80 274.33,156.18" fill="none" stroke="rgb(220,24,36)" stroke-width="2.00" stroke-opacity="0.50" stroke-linecap="round"/><path d="M321.62,178.70 C323.13,179.83 328.01,182.83 330.63,185.46 C333.26,188.09 336.26,192.97 337.39,194.47" fill="none" stroke="rgb(220,24,36)" stroke-width="2.40" stroke-opacity="0.55" stroke-linecap="round"/><path d="M314.87,185.46 C316.37,185.83 320.87,187.34 323.88,187.71 C326.88,188.09 331.38,187.71 332.89,187.71" fill="none" stroke="rgb(220,24,36)" stroke-width="2.00" stroke-opacity="0.55" stroke-linecap="round"/><path d="M323.88,171.95 C324.25,173.82 325.38,178.70 326.13,183.21 C326.88,187.71 328.01,196.34 328.38,198.97" fill="none" stroke="rgb(220,24,36)" stroke-width="1.60" stroke-opacity="0.50" stroke-linecap="round"/><path d="M346.40,171.95 C347.53,173.45 350.90,177.95 353.16,180.95 C355.41,183.96 358.79,188.46 359.91,189.96" fill="none" stroke="rgb(220,24,36)" stroke-width="1.28" stroke-opacity="0.44" stroke-linecap="round"/><path d="M296.85,194.47 C297.60,196.72 299.85,202.73 301.35,207.98 C302.86,213.24 305.11,223.00 305.86,226.00" fill="none" stroke="rgb(220,24,36)" stroke-width="1.20" stroke-opacity="0.39" stroke-linecap="round"/><path d="M314.87,194.47 C315.62,196.72 318.25,202.73 319.37,207.98 C320.50,213.24 321.25,223.00 321.62,226.00" fill="none" stroke="rgb(220,24,36)" stroke-width="1.20" stroke-opacity="0.39" stroke-linecap="round"/><path d="M328.38,201.22 C329.13,203.10 331.38,208.36 332.89,212.49 C334.39,216.61 336.64,223.75 337.39,226.00" fill="none" stroke="rgb(220,24,36)" stroke-width="1.04" stroke-opacity="0.33" stroke-linecap="round"/><path d="M292.35,171.95 C293.10,173.82 295.72,179.45 296.85,183.21 C297.98,186.96 298.73,192.59 299.10,194.47" fill="none" stroke="rgb(220,24,36)" stroke-width="1.20" stroke-opacity="0.39" stroke-linecap="round"/><path d="M332.89,140.41 C333.64,142.67 335.89,149.42 337.39,153.93 C338.89,158.43 341.14,165.19 341.89,167.44" fill="none" stroke="rgb(220,24,36)" stroke-width="0.96" stroke-opacity="0.28" stroke-linecap="round"/><path d="M308.11,165.19 C309.24,166.31 312.62,169.69 314.87,171.95 C317.12,174.20 320.50,177.58 321.62,178.70" fill="none" stroke="rgb(220,24,36)" stroke-width="1.44" stroke-opacity="0.44" stroke-linecap="round"/><path d="M247.30,201.22 C248.43,203.10 251.80,208.36 254.06,212.49 C256.31,216.61 259.69,223.75 260.81,226.00" fill="none" stroke="rgb(220,24,36)" stroke-width="0.96" stroke-opacity="0.28" stroke-linecap="round"/><path d="M274.33,194.47 C275.45,196.34 279.21,201.22 281.08,205.73 C282.96,210.23 284.84,218.87 285.59,221.49" fill="none" stroke="rgb(220,24,36)" stroke-width="1.04" stroke-opacity="0.33" stroke-linecap="round"/><path d="M287.84,131.40 C288.59,132.91 291.22,137.41 292.35,140.41 C293.47,143.42 294.22,147.92 294.60,149.42" fill="none" stroke="rgb(220,24,36)" stroke-width="1.20" stroke-opacity="0.39" stroke-linecap="round"/><path d="M303.61,133.66 C304.36,135.16 306.98,139.66 308.11,142.67 C309.24,145.67 309.99,150.17 310.36,151.67" fill="none" stroke="rgb(220,24,36)" stroke-width="1.20" stroke-opacity="0.39" stroke-linecap="round"/></g>
<g filter="url(#bl1)"><path d="M293.7 151.8l1.4 -4.9M297.5 140.8l3.9 -5.0M277.9 174.2l7.3 -13.0M280.1 173.8l2.9 -14.6M280.6 168.0l6.8 -7.1M281.7 167.6l8.5 -11.1M283.3 163.1l4.9 -7.0M281.4 169.0l6.0 -6.5M297.1 142.9l4.3 -9.3M296.9 143.9l6.7 -12.7M306.2 146.3l4.0 -9.7M288.4 158.5l5.7 -3.6M292.0 156.2l7.0 -4.7M298.7 153.2l12.8 -7.3M311.2 142.6l2.0 -6.9M290.0 162.7l6.0 -10.6M300.2 153.0l5.9 -5.2M306.6 145.4l5.9 -8.5M307.1 144.8l7.7 -8.0M310.0 142.7l8.7 -11.6M315.5 153.7l3.9 -5.2M300.1 156.7l13.9 -4.7M308.4 152.3l6.7 6.3M311.7 153.3l8.0 7.0M319.5 157.7l6.9 0.0M301.6 150.9l8.4 1.7M311.9 158.0l12.9 6.2M294.3 150.6l3.7 3.6M284.7 144.9l8.2 3.7M293.8 147.6l3.9 4.4M285.8 142.2l5.9 5.9M283.5 138.3l4.9 4.1M291.8 148.5l4.3 3.3M294.7 149.1l4.0 5.5M276.9 158.4l-0.2 12.3M280.0 172.4l3.2 5.3M282.7 174.1l6.2 9.0M280.5 169.6l2.2 6.4M278.3 163.2l2.3 9.8M277.7 152.5l2.3 12.5M278.9 170.0l5.8 5.5M278.0 152.4l2.2 12.4M282.9 175.3l4.8 4.8M256.0 182.0l1.6 14.4M257.8 185.3l1.0 5.5M250.9 164.6l4.9 8.7M254.3 186.0l2.1 8.8M252.1 178.5l1.3 5.8M248.3 167.7l6.2 13.1M254.1 183.6l4.6 9.3M248.4 146.4l4.4 12.3M248.8 150.0l0.9 14.2M256.0 188.4l-0.3 6.0M254.5 179.2l3.4 9.8M254.7 181.1l-1.0 10.7M251.7 165.5l9.3 9.9M252.5 177.1l3.6 14.4M260.8 158.5l2.2 6.2M264.6 179.0l1.2 8.2M265.1 183.0l-0.1 10.6M263.2 186.1l2.9 6.5M274.1 181.2l-2.0 13.7M269.9 170.6l3.1 7.0M271.2 164.1l-1.2 7.6M274.9 182.5l-0.5 8.8M252.2 155.6l5.1 -1.9M264.9 156.5l9.6 2.5M270.6 152.8l6.4 2.4M265.4 155.7l7.1 1.1M262.2 151.0l8.8 3.9M245.6 160.2l12.9 -4.9M249.5 157.0l10.9 -2.6M316.1 175.8l11.4 8.6M322.4 178.8l5.0 4.6M329.4 184.1l6.1 12.8M317.8 175.0l12.2 1.4M321.9 182.9l6.8 2.1M326.5 177.4l9.8 7.2M327.6 186.2l10.5 10.7M320.4 177.8l10.7 7.7M322.1 176.6l7.9 9.4M326.4 181.5l9.1 10.0M329.7 175.1l7.0 6.8M309.9 182.4l11.0 1.9M327.1 184.6l7.5 -0.1M320.6 189.8l14.6 -2.0M309.9 181.0l13.8 1.6M312.4 184.8l5.1 0.7M316.6 184.5l12.9 4.9M326.2 193.5l4.2 6.6M321.3 169.1l2.7 10.5M324.2 177.8l1.6 7.0M326.2 189.6l2.1 6.2M325.9 188.3l1.0 9.1M322.5 167.2l3.9 13.4M325.1 180.9l1.9 11.0M328.0 188.6l-2.1 12.7M349.2 182.5l10.1 10.5M347.5 175.5l8.9 10.1M355.6 184.1l7.4 10.0M352.5 177.5l5.1 6.6M300.6 206.6l1.2 7.1M304.9 218.1l-0.1 10.0M301.9 212.8l2.5 8.5M297.7 199.1l3.6 12.5M304.7 217.4l5.1 12.3M298.7 204.4l2.4 7.9M321.9 217.8l0.3 8.3M318.7 207.3l-0.4 9.6M317.1 194.6l1.2 12.9M316.6 196.6l1.4 7.0M323.2 218.9l-2.1 12.1M334.9 215.7l2.8 6.3M332.7 213.3l2.7 10.4M333.8 213.8l2.7 4.5M331.6 209.0l1.5 7.3M335.7 221.3l1.6 5.6M329.3 202.4l3.3 10.8M290.7 169.5l7.1 12.2M294.9 175.3l-0.0 10.8M292.3 170.1l2.4 9.2M295.6 177.5l0.6 7.9M333.3 146.5l4.7 11.7M338.6 154.8l2.9 7.2M339.4 159.2l3.7 10.5M338.8 156.9l1.2 10.0M335.2 145.1l1.6 5.7M308.1 159.1l4.9 13.2M310.6 168.3l5.7 4.3M306.6 163.4l8.9 6.9M315.3 173.4l8.3 9.0M305.5 161.6l5.9 9.6M309.7 168.1l8.8 9.2M312.1 164.4l2.6 6.1M315.1 174.9l11.5 6.2M249.4 205.4l6.1 9.0M249.0 202.0l3.9 5.8M248.3 204.3l9.1 10.6M256.8 218.8l4.5 13.9M255.0 218.1l4.7 5.7M259.8 222.3l2.8 4.9M273.0 200.6l9.3 7.3M274.8 198.3l2.7 4.3M281.7 206.1l0.4 7.4M280.3 208.3l5.8 12.8M284.7 212.5l1.9 7.3M272.6 193.4l3.4 4.4M275.9 200.5l4.6 11.4M289.1 134.9l3.4 8.1M286.9 133.9l10.5 8.7M291.6 139.2l2.3 8.7M289.7 132.5l5.5 9.0M288.1 130.7l2.5 4.4M293.8 135.1l-0.7 12.1M309.6 145.6l0.6 8.2M304.6 134.2l5.7 10.9M309.2 138.3l1.5 9.9" fill="none" stroke="rgb(150,13,21)" stroke-width="0.5" stroke-opacity="0.6" stroke-linecap="round"/><path d="M279.7 166.0l6.1 -6.7M291.5 151.3l9.3 -11.1M296.2 142.0l5.4 -8.0M282.0 169.4l5.8 -6.9M288.2 160.7l3.1 -7.1M287.8 155.3l5.7 -11.1M287.8 154.0l4.1 -9.4M288.7 151.3l5.2 -11.5M284.9 163.4l11.1 -5.2M305.2 147.8l4.4 -6.4M306.4 141.9l8.6 -9.9M304.2 146.1l8.5 -9.0M292.5 155.4l8.3 -0.4M313.5 148.4l10.4 -8.4M319.9 146.0l7.5 -8.9M293.4 158.0l7.2 -2.4M317.9 158.6l6.8 1.5M304.7 155.1l10.0 3.7M307.6 152.9l12.2 6.5M286.5 142.6l8.0 7.2M294.9 146.6l4.0 7.1M285.2 139.4l8.7 9.4M280.5 169.8l3.2 7.8M277.9 164.5l3.0 5.0M278.9 169.2l4.4 7.7M276.6 162.0l4.6 8.1M248.0 150.6l3.7 10.5M255.2 167.5l-1.7 10.8M255.2 170.1l1.6 13.6M253.1 157.2l4.2 12.0M252.4 160.6l2.4 10.2M254.3 164.9l-4.5 10.8M256.1 168.9l-0.8 5.7M251.9 167.3l3.5 5.1M254.4 177.8l2.5 10.7M258.1 154.6l1.8 8.8M265.7 187.0l-0.3 12.9M274.4 167.4l-2.5 8.7M270.5 172.2l4.7 11.4M272.6 173.1l1.0 9.6M268.5 165.5l3.6 11.3M268.0 157.0l9.9 0.7M252.6 157.2l4.7 -2.9M261.2 151.5l5.2 -0.6M258.0 154.0l12.0 -3.4M246.4 160.3l12.1 -0.9M333.9 188.0l4.9 4.3M325.9 176.4l10.2 10.3M323.4 178.8l6.1 4.0M320.3 178.1l10.9 7.3M326.5 184.0l5.4 5.0M322.7 188.7l6.3 0.6M309.3 185.7l12.3 3.3M327.1 191.0l1.6 9.7M321.5 170.8l5.0 10.9M322.1 169.6l3.0 9.0M327.7 170.2l-3.6 13.3M326.3 181.8l0.6 7.0M322.0 166.9l2.1 10.4M324.8 173.9l4.4 9.8M325.2 177.9l0.2 13.0M353.2 186.6l4.7 5.6M349.7 178.2l5.7 6.6M355.9 180.4l4.2 4.1M296.3 201.3l5.2 8.6M314.5 194.2l4.0 8.0M320.9 213.0l0.7 7.7M332.8 219.9l4.1 7.4M327.9 200.7l4.1 6.2M290.9 171.6l2.5 5.1M291.6 172.1l8.5 12.1M294.6 181.8l1.1 5.7M293.9 179.2l6.6 10.0M337.6 153.0l1.9 5.3M332.3 139.0l5.1 10.1M305.2 165.5l10.4 9.6M304.3 162.1l5.4 8.4M308.9 167.6l8.4 6.1M312.9 176.4l9.7 6.3M307.1 167.6l13.3 4.9M251.4 210.2l8.1 12.1M253.6 210.1l2.3 10.9M277.3 200.2l2.6 4.6M290.5 132.9l-0.3 10.2M284.6 127.3l7.8 12.1M284.6 127.9l5.7 11.9M286.7 127.2l2.6 8.2M309.7 142.6l1.9 13.8M307.7 140.3l2.2 6.6M305.3 138.6l3.9 10.8M305.3 138.0l3.4 8.2" fill="none" stroke="rgb(175,15,24)" stroke-width="0.8" stroke-opacity="0.6" stroke-linecap="round"/><path d="M285.8 158.3l5.3 -8.1M291.4 152.4l5.8 -12.9M307.4 150.9l3.5 -12.8M306.8 149.7l4.0 -13.3M310.3 154.4l5.8 -1.7M302.9 158.2l5.2 -2.8M293.9 157.4l13.9 -4.0M256.9 156.4l8.8 -2.3M267.2 155.0l6.1 0.4M336.4 186.6l4.2 3.8M314.8 184.8l12.0 4.8M311.8 186.2l11.9 1.0M319.5 186.0l4.7 2.1M309.6 185.8l14.1 1.8" fill="none" stroke="rgb(250,22,35)" stroke-width="0.8" stroke-opacity="0.6" stroke-linecap="round"/><path d="M280.5 167.5l4.3 -9.9M291.7 157.0l2.5 -10.1M290.3 146.0l10.8 -10.1M294.6 142.4l3.2 -9.2M282.6 170.8l6.0 -11.2M281.0 169.2l5.0 -10.1M290.3 157.5l3.4 -5.3M278.0 175.3l5.3 -9.5M287.8 159.0l8.6 -5.6M284.3 162.9l8.9 -5.6M286.0 163.3l9.8 -7.3M307.2 155.7l11.9 -5.1M291.7 155.3l11.6 -1.0M303.6 155.8l13.3 -3.0M301.3 154.3l8.8 -1.9M306.9 152.0l14.6 2.0M310.0 154.1l6.2 -2.5M315.2 147.8l3.6 -4.6M312.3 155.5l6.1 -12.0M297.0 155.1l9.7 -0.4M310.5 149.2l6.4 10.0M318.8 158.1l12.1 6.1M307.8 152.9l7.7 5.7M319.1 157.4l10.4 5.1M320.9 157.3l8.2 1.3M317.4 156.9l6.5 2.6M294.7 150.8l8.3 6.9M292.8 153.1l11.6 5.7M277.2 158.6l3.0 12.9M253.7 185.6l3.1 13.9M248.4 150.1l3.9 13.4M253.0 160.8l3.7 11.3M247.4 146.0l6.3 13.0M267.9 182.7l-3.0 12.9M257.6 157.6l8.8 12.2M264.1 169.8l4.4 14.0M257.1 148.5l2.5 10.8M258.6 157.4l3.2 13.4M259.8 154.0l5.2 12.8M273.1 174.8l0.3 8.3M273.6 182.0l0.9 5.8M272.6 173.3l3.1 8.9M261.5 147.0l10.4 3.0M269.2 155.6l5.5 3.5M265.4 155.7l11.8 -0.0M329.0 189.7l4.9 5.7M319.5 179.0l14.3 3.1M331.6 188.3l8.0 4.9M333.0 185.3l7.3 11.8M326.2 185.6l5.5 12.5M322.1 174.3l7.4 7.8M329.5 183.5l8.4 9.5M317.3 188.6l13.2 3.0M314.0 187.5l6.6 2.0M321.8 191.2l7.4 12.0M327.9 182.3l-2.4 12.4M325.5 194.4l4.0 7.2M327.8 174.1l-0.4 11.2M350.3 175.4l5.4 8.6M342.9 166.8l9.1 11.3M352.2 181.2l8.0 10.2M346.2 172.7l6.2 6.9M345.6 172.9l5.1 3.3M295.4 194.5l6.3 7.4M306.2 213.9l-0.2 7.1M300.8 207.7l2.6 6.5M305.0 216.1l2.9 13.2M320.1 210.1l0.9 9.6M320.0 208.6l-1.9 8.9M295.3 177.1l5.2 11.9M289.3 170.2l1.1 5.4M306.6 161.9l4.4 8.2M285.1 216.3l2.5 5.6M291.4 142.7l4.1 7.6M294.2 140.8l1.2 10.8M290.7 134.6l3.1 7.1M309.4 147.0l-1.2 5.9" fill="none" stroke="rgb(225,20,31)" stroke-width="0.8" stroke-opacity="0.6" stroke-linecap="round"/><path d="M276.9 175.4l9.3 -11.0M291.3 145.4l9.1 -8.6M291.2 149.7l4.3 -6.4M282.5 162.5l6.1 -5.9M304.4 151.9l3.1 -9.4M312.0 141.4l3.6 -4.8M292.2 155.2l9.0 -10.0M289.6 163.5l4.8 -8.3M312.2 154.6l7.6 -11.9M315.7 153.6l7.2 -7.5M298.9 156.2l10.0 -3.0M319.4 146.8l3.5 -6.6M321.1 147.6l3.4 -5.5M315.4 150.2l5.9 -7.2M300.2 157.0l8.4 -1.2M301.5 148.6l8.1 2.9M306.2 154.2l12.3 4.6M284.2 142.7l7.8 3.2M294.0 147.0l7.1 8.0M298.8 151.7l3.3 4.7M295.2 151.9l7.2 4.7M279.4 165.4l3.6 8.7M276.1 150.1l6.0 12.9M278.7 159.7l1.0 6.2M277.7 151.1l0.5 7.1M274.4 154.8l3.7 7.0M278.7 168.9l2.2 9.6M254.9 172.7l1.9 10.5M251.8 167.1l2.4 14.1M255.2 186.2l2.9 12.4M254.3 175.1l-0.8 6.2M256.8 185.9l-0.2 10.8M257.7 166.3l-0.6 10.6M258.8 152.4l1.6 13.1M263.5 183.2l4.1 14.2M260.8 158.2l1.3 4.9M261.8 185.6l4.8 13.9M263.0 187.8l0.7 5.4M261.7 174.2l1.3 8.1M263.8 167.2l-1.9 11.6M262.9 164.7l1.7 7.9M271.3 160.6l-0.1 12.1M271.3 158.0l1.3 6.5M273.9 166.5l-1.3 8.5M248.4 160.0l12.3 -0.5M264.8 154.8l10.0 4.8M248.4 157.8l6.9 -2.7M337.6 184.5l6.3 12.4M329.1 186.6l6.1 5.7M330.3 182.8l10.3 10.8M316.9 175.4l12.6 5.8M328.5 186.6l4.6 5.1M330.3 188.4l5.0 6.2M312.9 183.8l8.2 3.7M312.3 185.5l6.9 1.8M314.8 188.0l9.3 1.4M326.7 188.0l1.1 7.3M320.7 173.3l1.9 8.9M327.7 187.8l1.3 5.2M347.1 172.3l6.5 6.1M297.8 190.2l2.5 13.6M299.2 201.9l2.9 6.2M292.7 188.6l8.0 11.8M302.7 211.0l4.8 13.3M297.8 203.6l3.9 9.5M304.8 217.0l2.0 7.4M320.7 208.1l1.1 5.5M316.8 205.5l1.3 9.5M318.2 217.0l2.6 4.4M322.4 218.8l-3.7 6.5M330.1 211.0l7.5 10.8M296.6 181.9l-2.3 13.8M290.7 168.5l7.2 9.6M298.9 185.4l1.4 7.3M336.6 149.8l0.9 6.4M333.3 146.5l3.8 7.7M310.5 166.5l9.7 9.9M258.5 217.9l2.9 12.6M284.0 215.0l1.3 9.2M281.9 202.9l-0.2 5.2M274.7 198.6l6.2 4.1" fill="none" stroke="rgb(150,13,21)" stroke-width="0.8" stroke-opacity="0.6" stroke-linecap="round"/><path d="M283.8 173.0l4.8 -12.7M294.5 146.2l7.4 -10.3M292.6 152.0l6.7 -8.4M294.1 149.7l1.7 -6.9M292.3 149.9l3.1 -4.0M303.0 150.3l7.8 -4.9M289.1 158.8l5.4 -6.3M312.1 141.2l3.3 -6.8M296.9 154.5l6.9 -5.4M293.2 157.8l9.3 -3.8M295.4 156.5l13.0 -3.1M306.9 153.1l6.2 0.4M294.2 158.7l5.9 -2.8M311.8 150.8l4.7 -4.8M310.1 155.1l8.5 4.5M297.8 149.9l13.7 3.4M310.8 150.7l4.6 5.1M287.3 143.9l10.4 9.1M292.5 146.1l9.9 6.9M274.8 152.4l4.1 7.2M279.9 157.3l-3.4 11.5M280.8 167.3l3.7 6.4M251.1 157.2l2.4 6.9M254.5 183.8l1.1 7.1M248.4 149.8l4.4 13.9M252.5 176.2l2.7 12.2M248.9 149.7l2.6 7.8M256.0 169.7l2.1 12.1M263.2 154.8l-1.6 9.1M257.0 161.0l7.3 12.3M263.1 182.1l6.4 12.1M263.9 181.2l-2.4 12.6M265.8 181.0l-1.0 14.5M269.2 162.5l0.7 6.7M272.7 183.9l2.7 8.1M273.8 173.0l0.2 11.6M273.0 180.1l2.1 9.6M275.1 180.1l-1.3 9.5M255.0 153.9l11.7 -2.7M269.1 152.6l10.3 -0.7M255.2 152.8l7.5 3.0M268.2 152.5l5.9 -1.0M248.6 153.5l12.1 1.0M326.8 180.8l8.7 8.6M328.5 187.7l4.1 3.2M334.6 181.9l4.5 10.6M312.1 179.2l10.6 9.2M318.5 184.9l6.7 4.6M322.4 184.8l12.9 2.8M313.4 188.7l11.7 1.5M326.7 190.8l0.7 6.0M327.1 184.1l-0.5 8.7M328.0 189.4l0.1 6.3M327.5 176.1l-1.7 14.2M346.6 168.0l10.0 10.3M300.4 207.2l5.7 11.3M303.2 216.2l3.8 9.4M295.6 191.5l5.1 11.6M292.4 190.6l6.4 10.8M302.5 205.6l-1.4 13.1M320.3 207.1l-0.1 11.7M319.8 214.0l0.8 6.1M322.7 210.2l-2.0 13.3M328.6 201.0l2.3 5.9M325.0 200.5l7.9 9.7M334.5 211.7l2.2 8.3M294.2 175.5l6.1 8.6M297.3 183.1l0.5 6.3M294.0 179.7l4.3 9.4M332.4 138.1l4.1 7.8M310.2 169.7l9.3 7.6M304.9 163.6l10.7 7.9M314.4 171.0l6.5 5.2M317.2 172.7l4.6 7.2M248.5 202.1l1.9 5.1M244.5 199.4l4.6 6.6M250.5 207.6l5.9 12.6M251.2 210.1l8.6 10.2M280.8 203.5l2.6 8.2M281.1 200.9l2.2 6.1M280.1 211.7l8.9 9.6M293.6 134.5l-1.3 13.6M292.7 141.9l0.9 5.2M292.2 140.9l2.5 7.1M291.9 136.4l0.3 10.2M303.7 136.4l2.4 4.5M309.7 145.1l-1.5 9.6" fill="none" stroke="rgb(200,18,28)" stroke-width="0.8" stroke-opacity="0.6" stroke-linecap="round"/><path d="M284.6 171.7l-1.6 -14.8M284.6 164.8l4.9 -6.7M296.0 141.6l1.7 -11.4M285.5 162.7l2.4 -5.2M287.6 166.3l5.0 -9.0M286.0 164.3l3.2 -5.3M295.9 140.6l3.4 -4.1M288.4 156.7l5.9 -6.6M291.2 148.3l6.7 -9.1M284.4 166.8l4.7 -11.0M287.7 166.4l1.9 -8.4M291.4 150.5l5.3 -7.1M278.9 175.1l4.2 -6.4M290.7 156.6l7.7 -4.7M295.0 152.1l10.5 -7.6M310.9 139.2l3.4 -4.3M292.2 156.2l9.8 -7.4M292.7 155.9l12.9 -4.7M304.8 150.8l2.6 -11.9M296.3 152.2l7.5 -5.2M293.7 157.0l11.1 -10.0M311.8 140.7l5.0 -9.8M304.4 154.7l9.3 -1.4M305.8 154.3l14.1 -4.8M316.1 154.1l6.3 -5.7M311.7 155.3l6.5 -9.8M319.7 156.2l7.0 1.9M300.3 147.1l6.6 4.6M303.3 151.5l14.0 4.9M315.7 156.5l7.1 4.8M314.3 153.9l11.9 5.0M316.2 156.7l4.5 2.9M302.1 147.1l8.6 7.2M280.2 161.5l2.7 14.2M274.6 148.6l0.4 11.5M275.8 150.6l3.1 10.5M281.4 169.0l3.2 3.9M279.7 173.6l8.0 12.0M276.2 160.6l4.3 11.2M278.2 166.1l2.6 6.0M256.4 172.4l0.6 8.9M252.3 186.0l2.1 5.1M252.6 181.6l1.1 14.0M253.9 158.1l0.0 6.5M253.1 168.5l3.4 12.9M250.8 155.2l0.1 5.2M255.3 161.8l-0.9 11.4M258.9 151.4l-1.3 5.0M259.5 169.5l4.0 11.5M264.6 185.3l2.6 5.8M263.3 174.9l2.5 12.4M265.0 190.4l0.2 6.2M265.3 187.7l1.7 9.2M259.5 152.7l1.2 7.9M260.3 158.9l2.1 7.8M256.3 145.0l7.8 12.6M262.9 175.8l0.5 10.9M259.7 164.2l2.6 7.9M271.6 184.1l0.1 6.3M271.5 177.9l-1.2 8.6M268.8 161.5l2.6 8.6M271.1 162.1l-0.2 9.2M274.2 168.0l-0.6 9.5M268.1 151.9l3.0 8.7M273.3 180.0l0.9 7.8M271.3 174.9l2.2 14.3M271.8 156.6l-0.5 11.6M271.3 151.9l-2.9 8.6M247.1 155.3l8.8 -1.1M250.5 153.4l6.1 0.6M248.3 159.9l12.1 -2.8M334.4 189.6l8.9 5.0M324.5 180.9l3.4 3.8M323.4 191.6l7.0 0.5M319.4 188.0l14.9 0.9M322.8 165.9l5.3 13.5M327.3 191.0l0.0 5.5M327.0 192.4l0.8 9.1M325.6 188.7l4.9 12.1M324.0 166.7l-1.8 10.9M325.0 174.6l3.9 10.5M323.4 169.6l2.0 10.9M325.9 193.4l1.8 5.1M346.5 172.9l4.9 9.6M354.3 182.7l3.7 7.5M342.4 170.2l8.9 10.5M353.9 183.4l10.1 7.0M345.8 168.5l4.8 6.7M347.3 167.8l7.4 11.6M344.5 169.2l8.3 9.7M306.1 214.1l1.2 14.9M297.7 200.1l2.1 6.7M320.2 213.9l2.6 8.0M321.7 209.0l-0.8 7.7M318.8 207.7l1.2 6.7M316.8 209.1l4.6 14.1M316.5 211.5l1.4 9.8M315.0 192.1l-0.2 11.2M320.0 202.0l-0.1 11.9M320.9 219.4l-1.0 9.4M321.4 216.8l3.5 13.9M320.7 204.9l-0.8 14.1M312.6 189.8l6.7 12.8M337.1 214.0l-1.4 13.9M328.3 200.2l2.8 11.8M326.5 199.5l-0.4 5.2M335.2 216.4l0.9 11.9M332.3 208.0l4.2 5.5M330.5 198.2l0.1 10.9M297.0 180.3l2.1 13.8M296.3 175.9l-0.2 6.3M300.8 180.4l-1.8 8.8M295.5 182.7l4.0 11.5M338.5 159.2l3.3 13.4M340.9 157.5l3.0 8.9M335.7 147.9l0.8 6.5M340.3 161.8l2.6 5.0M307.9 166.6l7.9 7.9M307.8 162.6l4.6 4.3M313.4 171.9l5.4 3.8M254.4 215.9l4.7 8.5M256.3 214.1l3.6 12.9M247.0 199.2l7.5 7.0M254.5 213.5l2.2 5.4M280.3 199.6l1.0 14.5M281.7 204.0l-0.5 9.6M283.7 214.8l0.6 5.8M272.2 189.4l5.8 11.5M290.9 142.0l2.0 11.9M306.0 143.2l2.4 14.3M304.8 137.9l8.0 11.2M305.5 137.1l6.3 8.3" fill="none" stroke="rgb(125,11,17)" stroke-width="0.5" stroke-opacity="0.6" stroke-linecap="round"/><path d="M287.2 159.8l5.7 -9.5M285.3 158.8l5.3 -9.7M293.7 146.7l3.2 -5.1M295.4 144.8l3.0 -8.9M297.1 143.1l2.9 -8.1M284.4 167.5l8.1 -6.3M278.7 169.2l4.3 -8.3M293.6 143.1l5.6 -8.1M305.7 147.8l1.9 -5.0M293.0 159.2l6.3 -5.6M293.7 155.1l12.0 -5.0M311.8 142.5l1.5 -6.2M304.0 151.1l6.6 -10.7M289.0 159.2l9.2 -5.7M302.4 151.4l7.9 -10.2M294.2 159.9l6.4 -10.6M305.8 149.7l2.4 -8.4M311.5 151.8l3.7 -5.2M294.2 158.1l12.3 -1.4M299.3 152.1l5.4 -1.6M293.6 154.6l9.8 -0.5M311.9 154.1l7.8 -8.8M315.9 151.6l7.7 -5.2M293.5 159.1l7.7 -2.1M302.3 149.5l6.9 4.4M309.5 150.0l9.3 10.9M300.5 151.3l11.7 2.7M296.5 152.5l5.8 5.2M285.2 141.1l8.1 6.7M279.0 172.5l3.8 8.2M280.9 169.8l1.4 6.0M280.3 160.0l1.1 7.0M255.8 172.8l0.2 12.5M250.9 156.1l2.8 6.9M250.7 157.0l2.9 7.3M248.4 152.6l-1.6 13.9M248.2 157.2l4.0 12.1M254.1 180.7l5.7 6.7M250.0 153.1l1.7 5.0M261.1 172.6l5.3 8.9M262.4 189.8l1.0 5.8M260.3 158.9l2.9 11.9M260.9 158.5l1.5 8.3M256.9 154.7l3.3 10.9M260.4 166.3l1.5 13.7M259.0 149.7l-1.5 12.6M264.4 172.4l-1.7 9.3M258.9 153.2l2.3 13.4M261.5 166.8l1.4 8.6M258.3 156.4l4.2 11.0M265.0 180.5l0.7 5.1M265.0 174.5l-0.9 5.0M260.6 172.8l4.7 10.7M257.5 155.2l0.3 6.2M269.7 169.6l-0.2 7.3M271.4 173.5l3.0 10.9M267.9 156.0l0.1 5.3M257.4 156.3l11.6 -4.0M267.8 151.5l10.2 3.7M256.6 158.9l11.8 -4.9M250.9 162.7l9.7 -4.0M249.3 156.7l7.2 -0.3M268.3 152.6l9.5 0.6M257.0 154.2l9.9 -2.2M267.7 154.6l11.3 2.3M324.0 181.4l5.7 4.5M331.0 188.1l11.9 8.2M319.7 178.8l6.8 6.0M322.2 181.0l5.3 3.8M330.8 183.5l5.4 12.4M319.1 177.4l8.1 5.5M328.9 190.4l11.1 9.9M314.6 185.7l9.9 5.0M320.5 185.6l12.7 3.7M308.7 189.0l12.0 3.2M315.2 182.1l10.5 4.7M326.4 188.9l11.0 -2.1M320.6 186.6l10.6 3.9M325.5 183.0l8.8 4.9M317.5 185.4l14.8 1.3M326.0 172.0l1.6 5.2M324.4 184.0l5.7 13.0M326.0 178.0l-0.3 12.6M324.2 169.2l-2.1 5.7M324.7 172.5l0.8 11.1M349.5 168.7l2.2 5.3M351.8 178.3l3.8 4.5M355.4 183.6l9.6 9.7M295.0 194.3l5.0 12.8M303.1 216.4l3.8 11.0M297.1 191.3l1.2 10.0M301.5 203.6l-0.2 8.7M294.6 192.4l4.6 8.4M293.8 190.1l7.5 12.5M303.5 218.9l3.3 8.1M301.6 208.7l-0.1 9.0M317.3 208.2l2.8 12.0M316.0 198.5l3.2 5.1M319.3 213.9l0.5 12.4M314.2 195.2l3.8 8.5M319.2 210.2l0.7 11.8M319.1 214.0l3.6 11.9M326.2 194.5l9.7 11.2M335.8 216.0l-0.0 8.2M323.9 197.1l8.4 10.6M293.6 174.3l5.6 11.6M297.9 176.8l1.9 9.0M295.7 174.8l2.4 12.4M332.4 136.2l4.0 9.5M338.1 150.4l-0.6 8.9M339.3 162.6l1.3 6.8M333.0 134.7l-0.2 13.6M333.7 144.2l4.8 9.6M336.2 149.2l2.8 9.4M337.6 159.5l3.7 4.6M335.8 147.8l5.3 9.4M332.3 139.0l2.0 11.1M308.3 168.6l8.1 2.7M314.8 175.0l11.5 6.5M317.2 174.6l4.7 3.4M313.7 169.1l7.3 6.6M308.0 163.7l3.9 5.4M255.0 211.6l3.5 5.9M244.6 197.1l3.3 9.4M252.2 210.3l5.0 10.4M249.1 204.0l6.6 9.6M259.5 222.1l3.0 5.4M282.1 202.9l0.7 7.1M284.1 217.2l3.2 6.4M282.6 206.3l0.7 10.7M272.6 192.3l6.1 12.2M279.0 199.4l4.4 5.4M279.9 207.7l3.4 6.3M286.9 129.4l7.1 10.5M293.0 141.0l2.9 10.6M292.4 137.2l2.6 5.7M288.2 138.5l5.5 11.0M284.5 128.9l6.5 9.6M303.8 138.2l4.3 6.5M304.5 137.4l4.8 13.3M303.8 132.6l2.6 5.1M307.9 145.4l5.9 8.0M302.0 138.8l8.2 5.2M302.2 131.0l2.7 7.7M307.5 146.8l0.6 6.8M301.0 132.0l3.6 6.3" fill="none" stroke="rgb(175,15,24)" stroke-width="0.5" stroke-opacity="0.6" stroke-linecap="round"/><path d="M285.2 169.2l4.7 -12.9M281.5 170.3l8.1 -12.6M293.7 148.6l1.8 -7.4M280.1 169.2l5.5 -10.8M286.9 163.9l2.4 -6.1M291.2 151.0l5.6 -12.8M282.6 171.4l5.3 -12.7M293.8 147.2l5.0 -14.1M289.2 158.3l6.6 -10.8M291.9 145.8l7.4 -7.6M290.5 154.0l2.8 -11.7M309.0 143.1l5.1 -3.7M312.1 139.9l2.9 -4.5M303.8 153.1l6.0 -13.1M311.4 137.8l4.4 -5.2M294.2 153.5l8.1 -5.8M312.1 143.8l3.4 -7.0M298.6 149.9l7.4 -4.8M292.8 159.0l9.5 -11.6M295.2 153.7l4.7 -4.6M310.1 153.0l5.1 -3.1M299.9 156.0l6.4 -0.9M309.9 152.0l10.9 -7.8M313.0 151.8l5.4 -4.1M321.5 148.0l4.6 -4.7M295.2 158.8l5.6 -4.2M309.9 155.3l4.9 -1.3M296.8 154.5l8.9 -4.0M314.5 148.6l7.8 -6.7M309.4 157.0l8.3 -4.7M291.5 157.0l11.3 0.9M307.8 154.8l7.2 0.1M301.1 148.4l10.9 7.8M318.0 159.5l14.3 1.7M319.1 158.6l10.2 3.0M315.2 155.4l5.2 2.9M291.6 151.1l6.3 5.3M282.2 140.4l9.0 4.8M286.7 144.4l8.8 2.1M282.3 140.8l10.9 8.2M293.1 146.4l4.8 4.1M282.7 173.4l1.7 10.4M254.6 168.1l-3.4 6.0M258.5 179.5l1.0 12.9M251.4 160.2l4.7 12.9M251.9 158.1l1.2 13.4M249.8 161.3l1.9 5.8M251.2 165.5l2.9 9.4M247.8 146.6l3.0 10.2M253.6 183.9l2.6 9.1M255.9 176.1l5.0 11.5M258.8 153.5l0.3 9.0M263.3 173.7l1.6 6.7M256.7 147.2l2.5 13.4M261.8 169.2l2.0 5.5M259.8 160.2l1.1 7.8M259.3 166.1l4.4 10.3M270.4 174.2l5.1 13.6M271.2 176.3l-0.1 9.9M274.2 167.4l-1.2 12.7M271.5 166.7l0.8 8.4M271.9 170.6l-0.0 6.8M269.1 156.3l0.9 12.8M271.8 171.2l-0.1 9.6M267.6 154.0l4.1 13.1M272.8 178.4l2.0 4.9M268.7 171.9l5.2 8.5M272.4 159.0l2.1 12.7M252.1 159.3l12.0 -7.7M266.0 150.7l6.2 2.0M259.1 154.4l11.4 3.1M248.5 159.8l7.4 -2.3M260.2 156.9l10.2 2.8M252.2 154.6l7.0 -1.6M262.4 152.8l12.1 2.7M256.0 158.6l9.3 -1.3M255.6 151.8l8.4 2.6M324.7 182.1l5.5 4.9M328.7 185.6l4.4 9.6M327.8 179.9l9.3 10.8M322.1 175.6l4.2 2.9M321.7 175.1l5.4 6.6M323.3 182.4l8.2 4.6M332.7 186.4l4.2 4.6M315.0 179.9l9.3 6.3M323.4 179.3l4.9 4.6M327.2 182.6l6.8 8.4M325.5 183.9l12.8 1.9M316.6 184.8l13.2 3.2M308.8 181.0l12.3 8.5M325.5 186.1l10.8 -0.1M310.5 179.7l12.6 4.5M328.4 188.5l-0.2 5.9M327.8 189.9l-0.1 9.7M323.7 181.6l2.2 14.4M327.6 181.2l-2.3 10.4M326.2 190.7l3.1 8.2M325.8 182.5l0.8 5.7M326.7 191.6l2.2 6.4M321.6 167.7l3.0 12.9M330.8 188.1l-3.0 8.6M356.9 183.7l4.6 11.0M345.2 169.9l4.4 2.5M343.2 167.9l9.5 10.8M344.6 171.5l4.7 2.6M348.3 174.0l4.4 7.8M298.9 199.3l1.3 5.7M298.6 197.2l-0.2 8.6M294.4 190.6l2.6 8.6M296.3 194.5l3.2 5.7M304.0 212.3l-0.2 9.2M298.9 198.4l0.7 9.7M293.3 194.0l10.0 10.6M296.8 197.3l5.4 11.8M316.4 204.0l3.1 6.7M317.0 191.8l1.1 12.1M319.5 209.3l5.1 8.8M320.0 217.9l1.0 12.4M321.8 203.2l0.8 12.8M316.9 197.6l1.3 4.9M319.8 206.7l-0.3 12.7M335.8 215.7l1.9 12.4M334.4 219.3l2.3 8.1M331.5 207.7l4.6 8.9M329.1 202.8l5.3 11.6M297.3 186.3l2.0 14.6M292.0 172.1l5.3 6.6M294.4 179.8l1.7 5.9M335.1 156.1l6.9 12.1M332.5 139.4l3.2 12.0M340.5 163.4l1.5 6.2M333.2 138.4l2.4 11.7M335.3 151.1l3.3 10.4M310.9 168.6l4.1 4.6M304.2 161.6l9.6 8.5M304.1 159.9l7.9 10.7M257.0 210.4l1.9 11.5M256.2 218.5l6.7 11.9M247.7 202.4l3.2 4.7M245.5 198.9l3.0 7.5M252.2 207.0l5.1 5.6M251.8 206.0l3.3 4.3M258.7 221.4l4.0 7.0M276.1 198.2l5.8 8.1M279.5 211.3l4.1 9.8M277.8 201.0l2.3 4.9M283.4 210.0l2.5 12.9M291.7 141.8l3.3 9.4M292.5 145.1l2.6 4.7M286.5 133.8l6.7 11.1M310.8 142.8l-0.7 9.2M307.5 138.4l3.1 12.3M307.5 135.8l0.8 13.8" fill="none" stroke="rgb(200,18,28)" stroke-width="0.5" stroke-opacity="0.6" stroke-linecap="round"/><path d="M292.1 151.8l1.7 -8.6M303.0 149.3l7.3 -8.2M298.2 152.4l4.4 -4.6M298.3 150.8l6.7 -4.8M303.7 150.5l5.7 -10.7M292.5 161.2l6.8 -10.3M306.6 141.0l7.5 -8.6M292.8 157.5l14.6 -2.2M261.7 154.8l6.1 2.5M252.0 153.8l9.6 0.2M256.3 155.5l12.0 -0.2M320.5 173.9l6.0 4.4M320.7 179.3l7.0 5.7M331.0 181.1l3.3 5.7M320.1 175.6l10.0 7.2M325.7 182.0l10.1 9.3M331.1 193.1l6.6 4.6M311.8 185.8l6.4 -1.9M314.0 190.2l5.4 1.2M321.6 189.7l10.5 -2.1M309.8 183.5l10.4 2.6M311.2 183.9l14.0 1.9M328.1 177.5l-2.2 11.1M326.2 185.6l0.5 8.0" fill="none" stroke="rgb(250,22,35)" stroke-width="0.5" stroke-opacity="0.6" stroke-linecap="round"/><path d="M292.5 148.7l7.7 -12.5M275.2 171.2l8.2 -11.5M285.8 165.6l0.6 -7.1M285.9 150.6l2.1 -5.4M286.3 161.3l2.9 -5.9M290.4 153.8l1.1 -7.9M280.1 169.0l6.3 -7.8M296.3 144.7l0.3 -13.5M286.5 158.4l9.2 -10.1M311.0 142.0l8.3 -11.5M286.8 159.1l7.6 -6.5M292.8 160.0l8.4 -5.0M300.6 151.5l8.4 -4.5M286.8 164.4l10.8 -9.5M303.2 146.9l10.1 -10.9M293.3 156.4l7.1 -0.5M310.1 156.4l9.8 -9.3M298.8 152.2l8.8 -0.9M295.5 156.1l10.7 -2.2M316.2 153.9l7.5 -9.6M310.6 153.2l9.0 -10.6M307.2 151.8l6.4 -1.6M307.7 150.8l4.7 -2.6M319.7 158.7l5.1 1.8M315.3 154.5l7.1 5.1M317.9 154.3l11.3 4.1M282.0 138.1l6.8 6.0M288.9 145.0l5.9 5.4M293.1 144.2l7.4 12.1M279.7 137.1l8.9 7.8M298.9 153.4l3.1 4.3M293.4 144.3l5.8 12.9M280.0 163.5l2.2 14.7M275.9 154.1l1.1 10.4M284.0 175.1l3.0 5.0M279.4 172.5l8.0 10.0M254.5 163.3l2.8 12.3M249.9 145.9l-2.2 14.0M250.9 155.5l3.0 12.3M251.6 151.0l2.7 14.6M257.0 189.2l0.3 8.3M252.6 187.7l-2.2 12.3M249.8 146.7l3.7 11.0M248.3 161.0l3.4 13.1M249.6 162.7l0.2 7.7M254.7 186.2l-0.5 6.6M249.5 156.1l2.2 5.6M253.7 167.6l0.9 10.8M255.4 187.0l0.4 10.9M253.9 173.8l0.5 6.5M261.8 176.5l5.6 11.3M258.9 160.6l2.3 4.9M259.9 146.7l-0.2 13.6M263.1 173.3l-2.5 14.0M264.6 175.5l-0.8 13.3M262.1 162.1l3.1 8.8M264.8 186.7l-1.2 5.3M258.5 161.1l4.2 12.2M260.9 161.8l2.8 12.1M257.3 153.6l5.1 10.4M267.9 184.3l-2.5 13.9M260.7 162.6l-1.1 7.2M262.7 176.2l0.4 6.1M272.6 180.8l-1.0 6.6M269.2 163.4l1.0 11.3M273.1 178.6l2.6 8.4M269.7 154.7l-0.8 5.2M273.9 182.1l1.3 13.6M269.6 158.2l6.2 0.4M265.2 151.3l7.5 2.1M268.6 153.9l10.9 -1.5M245.2 158.3l13.8 -0.5M263.2 151.9l13.2 2.4M253.1 154.6l14.0 -0.2M322.6 177.8l3.7 4.3M329.7 178.9l9.5 9.8M327.8 188.4l5.1 7.3M336.2 188.7l5.7 6.6M325.3 180.4l8.7 9.4M321.4 176.6l4.9 5.0M330.3 183.0l7.1 7.7M317.6 180.1l4.8 4.9M317.6 186.2l6.5 1.5M314.7 188.0l14.3 -1.5M326.7 186.9l6.3 -1.1M323.7 170.8l4.2 7.8M324.1 175.1l0.3 6.3M322.6 170.7l3.2 13.0M353.9 184.4l4.4 4.0M346.6 167.8l2.5 6.2M350.8 180.4l4.3 4.0M343.9 166.6l5.9 10.0M307.9 215.7l0.2 6.8M306.0 218.2l3.0 10.6M304.5 215.3l0.4 7.1M304.6 213.9l1.3 5.3M301.9 203.7l1.3 5.6M313.8 195.9l4.4 9.2M331.2 205.8l3.0 13.5M290.3 169.4l4.4 9.4M293.0 178.9l4.4 7.7M297.1 183.2l0.3 12.7M294.7 177.7l2.5 5.2M308.4 166.8l5.3 2.8M276.5 201.3l7.3 11.6M291.3 141.5l3.7 10.2M304.9 142.1l7.2 7.4M304.0 133.4l3.5 7.5" fill="none" stroke="rgb(225,20,31)" stroke-width="0.5" stroke-opacity="0.6" stroke-linecap="round"/><path d="M278.3 174.1l5.6 -8.8M284.2 167.7l3.1 -9.4M285.0 167.7l6.3 -9.1M285.7 164.5l2.5 -6.3M305.1 147.8l8.4 -8.9M300.5 150.5l8.0 -3.3M289.7 160.4l3.1 -4.0M297.2 153.4l8.7 -7.0M296.0 155.2l7.1 -9.1M320.2 146.9l9.8 -8.2M292.5 155.8l12.1 -2.9M308.7 147.6l11.4 -5.8M314.2 154.7l6.8 -7.1M311.8 157.2l10.3 4.1M301.7 149.9l9.8 4.7M296.5 147.9l13.2 4.8M304.1 152.3l12.5 3.1M316.3 151.2l10.4 9.8M290.8 147.3l8.6 6.2M277.3 139.5l12.1 5.1M280.5 138.0l8.3 8.2M285.5 142.0l4.7 1.9M275.9 152.3l3.1 7.0M281.1 173.8l5.6 11.5M276.7 153.0l3.9 11.5M253.9 185.3l1.4 12.5M252.9 182.9l7.4 12.8M248.0 155.8l3.6 10.7M251.9 149.9l-0.2 6.9M248.5 163.8l3.4 11.6M247.5 153.9l7.7 11.8M250.7 154.8l1.7 7.8M254.5 169.3l0.9 13.3M253.2 167.5l0.1 9.0M248.6 155.3l3.8 9.4M266.2 183.0l1.1 14.3M259.8 148.4l-0.9 6.1M262.2 178.0l1.1 6.6M255.3 147.8l-0.3 9.2M263.3 168.0l1.0 5.3M265.6 174.8l1.3 12.3M263.2 167.3l3.9 13.1M262.7 163.7l2.3 14.1M272.0 171.6l0.2 15.0M270.2 169.4l6.3 12.9M264.1 155.0l11.9 2.8M269.6 155.8l7.2 1.0M258.9 155.4l12.0 0.2M326.2 181.2l7.3 7.3M322.4 176.3l4.2 4.0M308.9 186.3l13.3 1.4M320.2 192.2l9.3 -1.5M354.1 187.4l2.7 4.2M344.0 169.1l5.6 5.1M302.6 216.8l4.2 6.3M303.0 215.3l0.3 10.0M316.7 199.8l1.2 4.9M316.7 193.5l2.4 6.3M311.8 196.2l5.4 5.3M315.4 200.0l8.4 11.4M333.1 212.7l2.6 7.0M333.5 211.3l-0.5 8.5M327.6 199.5l2.5 7.4M291.7 170.2l1.5 7.7M296.1 187.6l6.3 9.3M291.6 165.3l3.4 12.6M292.9 172.0l3.8 13.1M340.3 156.9l2.2 8.6M340.7 159.5l0.4 5.8M333.0 133.8l0.1 13.0M314.2 168.5l10.0 10.3M249.5 205.6l3.6 5.4M247.9 203.4l2.3 7.8M281.4 202.0l-0.4 7.4M279.4 212.1l7.8 11.5M284.2 207.4l1.4 11.5M285.1 128.9l5.9 9.2M293.0 141.4l1.1 8.0M307.6 142.1l1.6 5.2M302.8 136.2l4.1 9.4M305.4 134.5l4.5 12.4" fill="none" stroke="rgb(125,11,17)" stroke-width="0.8" stroke-opacity="0.6" stroke-linecap="round"/><path d="M278.8 171.6l6.3 6.5M249.2 150.7l3.9 7.5M271.7 166.9l0.2 5.9M298.6 191.9l-0.2 10.4M300.9 206.3l4.8 10.8M315.4 201.7l1.8 6.1M318.7 207.8l3.4 10.2M328.4 204.8l4.2 13.0M329.5 203.4l4.4 8.3M332.6 219.1l9.2 11.8M334.2 207.1l-1.3 14.7M292.3 176.2l7.5 12.5M339.2 159.3l4.5 8.0M334.1 138.9l4.5 13.6M282.6 211.2l4.5 10.4M283.6 211.7l2.3 9.5M273.9 194.2l3.4 6.0" fill="none" stroke="rgb(100,9,14)" stroke-width="0.5" stroke-opacity="0.6" stroke-linecap="round"/><path d="M278.6 156.7l2.6 7.7M348.4 176.7l7.1 5.0M313.6 187.8l5.6 12.3M318.3 201.1l4.2 11.0M331.5 205.3l3.2 12.1M328.6 202.0l2.8 8.0M336.2 151.2l2.7 7.4M303.1 160.7l11.2 7.8M252.9 208.5l7.7 12.0M258.6 219.4l2.9 4.9M252.3 207.1l4.1 12.7M270.7 189.1l7.8 12.8M281.4 205.9l3.1 13.5M280.4 203.0l2.0 5.2" fill="none" stroke="rgb(100,9,14)" stroke-width="0.8" stroke-opacity="0.6" stroke-linecap="round"/><path d="M299.7 144.2l1.0 0.1M264.2 155.7l-1.2 1.3M276.6 138.9l-1.2 1.6M303.3 200.7l-1.2 0.0M267.2 155.9l0.2 2.7M341.5 137.6l1.5 1.5M321.1 128.6l2.2 0.7M302.5 200.0l-0.7 0.5M334.6 194.2l-1.1 2.0M288.3 166.7l0.0 0.9M278.7 193.3l-0.1 1.1M253.9 158.9l1.9 0.7M338.7 181.0l0.9 1.8M307.1 184.6l-1.7 0.1M269.6 219.7l-1.0 0.8M282.7 164.5l1.4 1.4M295.6 171.8l1.7 1.4M364.2 193.3l-2.2 1.1M335.9 200.6l0.8 0.8M295.7 220.5l-0.1 2.2M320.2 191.4l-0.8 1.5M300.0 208.0l-0.5 2.2M247.6 176.0l1.2 1.5M337.7 161.0l-0.6 0.6M343.0 140.0l-2.8 0.7M269.9 215.8l-0.4 0.7M290.0 192.8l-2.0 0.9M323.9 139.1l-0.9 2.0M355.0 210.1l1.8 0.6M348.8 215.0l1.8 0.0M326.3 159.9l-1.3 0.6M296.9 193.7l1.6 0.5M346.9 218.4l-1.5 0.1M249.1 133.3l-0.5 1.2M320.5 175.5l-0.0 1.0M300.8 205.1l-0.4 1.3M340.8 212.6l-1.0 0.7M321.7 140.0l-1.1 0.6M337.2 209.5l0.8 0.1M321.2 195.0l1.2 0.3M343.4 180.9l-1.7 0.2M347.2 221.0l-0.8 0.3M353.0 171.6l0.1 0.9M315.3 157.9l1.0 1.4M348.9 142.2l0.4 2.5M345.1 195.5l1.1 1.0M280.2 214.9l0.3 2.4M300.8 224.1l0.6 1.7M272.5 193.8l1.5 0.0M347.3 150.8l-0.1 1.7M305.1 169.0l-0.3 2.0M343.2 195.1l-0.4 2.0M261.2 206.4l-1.1 2.1M347.3 211.4l1.2 1.1M259.4 209.0l1.5 1.8M282.8 210.8l1.6 1.1M329.9 147.1l2.7 0.2M361.8 198.5l1.3 1.8M265.2 192.7l-0.9 0.2M354.7 218.4l1.2 0.4M273.5 223.0l-2.2 0.1M304.7 159.6l1.0 0.5M293.6 202.6l-1.1 1.1M306.7 132.9l-1.0 2.1M358.9 159.5l0.8 2.5M316.7 138.2l-1.0 1.8M307.6 206.7l-0.4 2.8M251.2 162.2l0.1 0.9M326.7 218.1l0.3 0.9M306.7 204.3l-1.8 0.1M305.9 179.6l1.9 2.3M334.8 224.1l0.3 1.9M271.3 151.7l-1.0 0.5M268.2 134.2l-1.6 0.5M361.4 151.1l0.3 0.8M349.8 147.5l0.9 0.5M350.7 211.5l2.3 1.4M337.1 219.1l2.0 1.4M290.4 212.5l-0.3 2.6M362.6 166.4l1.8 0.4M252.9 163.6l-1.2 1.0M304.7 181.4l0.6 0.8M295.7 207.0l0.7 2.2M247.9 134.9l2.4 1.1M266.8 222.3l1.7 0.0M294.9 209.1l-0.9 0.2M273.3 184.3l-0.8 2.7M265.4 226.3l2.1 0.2M266.5 226.2l-0.2 2.8M297.9 193.3l-0.9 2.7M295.2 210.6l1.5 0.3M299.8 203.0l-0.2 2.9M296.9 126.5l0.4 2.7M270.9 195.7l-0.5 1.0M357.7 200.9l0.0 0.8M326.7 164.2l-0.5 1.0M250.5 129.3l1.7 2.1M284.6 175.7l0.9 1.6M269.8 223.1l0.1 2.1M282.0 171.3l-0.2 1.0M263.2 169.8l2.0 0.1M251.4 149.9l-0.7 1.4M330.2 140.9l1.4 2.2M260.2 177.1l0.7 1.6M352.1 190.7l-0.9 1.3M252.0 200.5l-1.9 1.1M279.4 182.5l2.5 1.0M291.9 226.1l-0.2 0.9M269.4 210.0l-0.3 0.8M289.3 180.4l0.6 0.9M254.8 179.1l-1.1 1.9M321.9 160.5l2.8 0.5M278.1 205.0l0.6 1.9M346.0 217.2l0.6 1.3M356.1 183.7l-2.3 0.4M302.5 220.2l-0.8 1.7M328.4 163.3l-0.0 1.1M295.7 195.9l-0.8 2.1M337.0 154.4l-0.7 2.8M317.1 169.2l2.4 0.7M294.6 160.9l0.9 0.6M309.7 185.5l-2.0 1.4M308.6 197.9l0.4 2.5M351.6 211.6l-0.8 2.6M319.2 218.0l1.1 1.0M259.1 203.8l2.7 0.4M297.2 202.8l1.9 1.4M328.7 126.5l0.8 2.4M324.8 166.4l0.7 1.3M303.0 152.4l-1.4 0.7M262.4 197.7l0.8 1.7M286.8 189.8l-0.5 1.2M254.3 174.9l-1.2 1.1M319.7 217.5l-1.4 1.3M357.2 154.3l-1.9 0.6M320.3 225.9l-1.3 1.5M272.4 222.0l-0.6 1.2M326.7 192.2l-0.3 1.7M335.2 200.7l2.4 0.2M253.6 181.2l-1.3 0.1M355.5 153.5l1.3 0.4M272.6 194.8l-0.5 1.5M310.4 156.0l-0.3 2.6M257.1 204.5l1.7 2.1M253.8 161.5l1.9 0.4" fill="none" stroke="rgb(75,6,10)" stroke-width="0.7" stroke-opacity="0.7" stroke-linecap="round"/><path d="M302.0 208.8l-1.7 0.4M311.4 147.5l-2.2 0.8M304.4 201.8l1.5 0.9M264.6 217.9l0.8 0.3M305.4 146.8l-2.6 0.9M254.9 202.0l2.4 0.1M335.8 214.1l-1.6 1.3M291.1 202.8l-1.0 0.1M354.0 155.6l1.8 0.2M352.8 153.0l-0.8 0.3M307.4 197.5l-0.3 2.1M356.3 186.7l-0.6 1.8M324.6 155.2l0.2 0.9M269.4 161.0l-0.5 0.8M262.9 151.1l-0.5 1.1M347.4 177.5l1.2 2.5M342.9 192.4l-0.7 1.1M282.1 158.4l-0.4 2.5M295.2 136.4l0.1 2.8M313.3 196.6l1.3 1.6M263.5 159.9l1.0 1.6M303.7 155.8l0.1 1.7M264.3 194.7l-0.4 1.8M364.4 131.1l-0.9 0.4M276.6 140.7l2.1 1.1M363.4 160.0l1.1 2.0M280.6 224.9l1.6 0.0M312.9 216.4l-1.2 1.1M316.4 150.5l1.8 1.4M358.8 156.0l0.8 1.6M253.8 154.5l-1.7 2.3M282.6 186.5l-1.2 0.7M300.1 159.3l0.2 2.1M283.0 171.6l2.9 0.1M345.6 214.1l-0.9 2.0M290.2 148.6l-1.8 0.8M271.0 171.1l1.1 0.2M308.8 133.3l1.4 2.0M314.5 146.9l-1.4 1.9M351.1 130.8l-1.5 2.2M277.4 126.9l-0.2 2.1M288.0 188.0l1.7 2.1M356.6 202.6l1.3 1.3M269.0 227.6l2.2 1.0M357.4 184.5l0.6 1.0M345.9 141.8l1.3 1.2M286.3 151.9l1.4 1.6M311.2 144.3l-1.1 0.3M356.4 127.0l-0.5 0.9M330.2 211.9l0.5 2.1M308.9 182.9l1.3 0.1M328.1 203.9l-0.7 2.0M265.2 217.5l-0.0 2.7M248.7 173.8l-2.4 0.4M281.4 202.9l0.7 0.4M267.5 199.2l0.9 1.8M272.1 169.6l0.9 1.6M345.1 188.4l-0.0 1.1M269.9 203.2l-0.6 0.7M255.1 180.8l0.8 0.9M343.6 141.1l-0.8 1.4M344.9 206.4l1.9 2.2M291.4 182.4l0.1 2.0M333.9 170.7l1.3 0.2M253.1 183.1l-2.2 0.5M294.1 195.5l-0.4 2.0M349.6 210.7l1.8 1.2M303.3 199.8l2.8 0.6M257.9 142.6l-1.6 1.3M356.2 206.9l-1.4 2.0M299.7 197.9l-0.8 1.2M320.2 171.2l-0.3 2.4M253.5 177.5l-1.2 1.9M341.5 158.7l-0.8 0.8M319.5 159.4l2.1 0.9M352.5 226.7l2.6 0.4M322.8 200.3l2.8 0.6M268.9 142.3l-0.0 0.9M281.2 140.9l-1.3 2.1M326.5 150.8l2.5 1.2M270.7 155.3l1.6 0.3M341.3 211.0l-2.4 1.7M363.0 194.4l-0.4 2.6M265.8 186.4l-1.8 0.8M273.3 166.2l-1.8 1.3M355.0 154.1l0.1 2.5M359.7 188.0l-2.2 1.4M358.6 134.6l1.8 2.4M295.8 203.4l-0.7 0.7M345.0 208.6l-2.9 0.6M346.4 130.5l0.9 0.1M284.7 150.5l-0.9 1.3M326.2 143.0l0.4 2.9M327.2 204.9l-0.1 1.2M351.2 205.5l1.4 0.0M359.4 147.7l2.2 0.1M322.8 175.2l-1.9 0.9M345.3 222.0l-2.4 1.3M317.8 147.6l0.3 1.4M258.5 184.9l-1.1 1.8M249.4 164.2l-0.4 2.4M267.3 204.1l-1.0 2.0M319.5 136.6l-2.5 0.7M321.5 139.4l-1.3 0.1M276.3 199.3l0.2 1.6M338.4 203.4l2.6 1.3M346.9 149.4l-1.8 1.1M277.1 163.5l0.5 2.5M361.1 187.0l-1.6 2.5M345.6 174.1l0.9 0.7M332.3 149.5l2.3 1.4M349.7 228.4l0.9 0.2M306.5 155.1l-1.5 1.8M339.1 159.7l1.4 1.7M285.2 178.3l-1.1 0.9M295.6 137.4l2.3 0.1M286.4 187.9l0.1 0.8M280.8 201.3l-0.6 2.2M254.0 170.9l1.2 0.2M310.1 176.2l-2.7 0.3M319.0 200.6l-0.7 0.4M314.3 212.7l0.3 1.0M350.1 199.1l-1.5 0.8M285.0 130.1l0.9 0.7M326.1 174.1l-2.6 0.5M310.6 138.2l2.0 1.0M258.7 169.6l-2.6 0.3" fill="none" stroke="rgb(100,9,14)" stroke-width="0.7" stroke-opacity="0.7" stroke-linecap="round"/><path d="M288.5 133.2l2.5 0.7M312.5 139.0l-1.7 1.3M250.5 212.0l-1.8 1.3M326.6 126.0l-0.3 1.9M285.0 219.6l1.0 2.1M301.3 200.6l1.9 0.8M331.7 159.1l0.8 2.6M289.0 194.2l0.1 1.6M266.9 168.2l1.1 1.3M262.8 182.1l-0.5 1.0M268.6 132.0l1.2 1.2M315.1 167.5l-2.1 0.8M344.2 202.3l1.8 1.1M339.9 224.2l-0.2 1.6M309.6 158.2l-0.4 1.1M319.6 170.9l-1.8 0.8M316.2 191.2l0.5 2.3M263.2 223.7l2.0 1.4M320.0 135.4l1.5 2.5M346.8 146.7l0.9 2.4M351.0 171.7l1.2 1.4M265.4 192.9l-1.1 1.4M248.3 199.0l0.1 1.9M276.2 128.2l1.7 1.5M275.6 228.9l-0.8 0.4M298.1 142.7l2.9 0.2M269.0 147.8l-2.0 0.1M333.0 189.3l-1.9 2.1M277.1 133.4l2.5 0.3M325.1 160.2l-2.2 1.2M309.6 174.8l-0.9 1.0M262.0 141.7l0.8 0.7M307.3 141.4l0.2 1.6M350.8 215.1l0.7 1.4M348.8 130.8l2.1 0.6M336.5 181.8l-1.1 1.3M345.1 206.3l0.5 2.5M319.9 183.7l0.7 0.9M268.1 143.7l-0.7 0.5M319.8 213.3l-1.1 2.4M249.7 210.5l-0.6 0.7M347.2 174.5l2.6 0.8M251.7 160.9l-1.4 1.9M304.6 222.1l1.6 0.6M342.0 160.9l1.2 0.1M290.3 155.6l-1.2 1.3M253.3 134.2l-0.8 0.2M359.3 171.9l0.7 0.4M290.0 212.1l1.1 1.7M266.4 130.6l-0.3 2.0M321.9 220.5l-2.1 0.2M331.3 191.7l1.2 1.2M325.2 205.8l1.3 0.5M327.7 148.6l0.9 2.3M288.1 140.6l-1.2 2.4M310.9 155.0l-0.7 1.2M273.6 128.6l0.9 1.4M362.6 175.7l-0.0 2.1M339.1 205.1l0.1 2.0M250.2 218.3l-2.5 1.2M250.5 212.8l-2.1 1.2M252.1 190.6l0.8 2.5M333.9 151.1l-0.3 1.9M363.6 181.6l2.4 1.7M291.8 216.6l1.4 1.8M280.0 129.3l1.1 2.1M332.1 223.5l-1.2 1.3M259.7 208.3l1.9 1.3M280.1 205.5l-1.2 0.5M285.8 197.1l-1.1 2.0M322.0 181.8l0.7 0.5M353.3 152.0l-1.2 0.6M274.3 200.1l0.6 0.9M298.1 227.8l-2.0 1.7M264.4 184.3l-0.3 1.9M294.0 161.4l-0.4 1.0M323.5 212.7l1.5 2.0M315.3 193.9l1.9 2.1M291.3 195.6l1.7 2.4M350.4 168.0l1.4 1.0M351.3 190.5l-1.5 0.9M291.8 181.8l-0.6 1.0M256.7 212.1l-1.4 0.6M279.0 159.5l1.4 0.4" fill="none" stroke="rgb(50,4,7)" stroke-width="0.7" stroke-opacity="0.7" stroke-linecap="round"/><path d="M320.7 181.2l1.3 0.6M335.9 148.6l2.1 1.5M342.6 137.8l1.0 0.5M334.4 137.0l2.0 2.2M328.0 201.7l0.1 1.4M321.8 132.0l2.0 1.0M335.5 161.9l0.5 2.5M301.2 144.8l-1.0 0.3M350.6 207.4l0.8 0.7M328.5 134.5l2.2 2.0M255.3 159.0l1.5 2.5M341.9 195.5l-0.9 1.9M258.9 197.8l1.2 0.5M326.5 134.0l0.8 1.3M346.2 159.8l2.0 0.6M327.2 205.1l2.4 0.2M277.1 184.9l1.9 1.1M307.3 143.4l-0.3 1.9M351.6 162.6l1.6 2.2M306.0 142.0l2.3 0.7M285.7 157.7l-0.3 2.5M343.1 162.8l0.9 2.8M336.5 176.5l-0.2 1.6M325.1 149.5l-0.9 0.8M363.1 181.1l-1.2 0.6M330.0 194.3l-0.8 2.9M272.0 201.7l-0.8 2.3M309.7 182.8l-0.2 1.8M331.2 136.2l0.5 1.0M325.3 134.2l0.4 1.3M283.9 182.3l-0.9 1.7M358.7 130.1l-1.5 0.9M274.7 218.2l-1.4 2.5M334.4 197.8l0.1 1.6M290.9 171.5l-2.7 0.7M361.2 142.2l0.4 1.7M262.3 155.0l-0.0 0.8M284.2 151.0l-1.7 0.6M328.3 137.7l-1.6 1.6M358.2 147.6l1.4 2.5M358.6 183.3l2.0 1.2M285.0 221.8l-0.3 1.5M309.3 175.0l-0.5 1.4M345.2 159.7l0.8 1.9M299.5 146.7l-0.1 1.0M321.5 194.4l-1.3 1.0M297.0 130.8l0.9 0.2M346.0 158.5l2.2 1.4M308.3 141.0l-0.4 1.3M330.6 132.2l1.5 1.9M305.9 220.4l-1.6 0.1M342.4 183.5l1.5 0.4M307.1 192.9l-0.1 1.3M306.5 177.6l1.9 0.5M365.2 201.7l-1.9 1.4M326.0 185.3l1.5 1.3M268.7 184.7l-2.1 2.1M267.7 213.5l-0.6 2.2M306.9 179.4l-0.8 2.0M263.6 208.9l2.1 0.3M300.9 186.1l1.3 1.7M272.7 131.8l-1.2 0.8M279.6 176.0l-0.2 2.9M329.7 155.6l-2.4 0.4M341.7 127.1l0.4 1.6M256.9 225.6l1.7 0.8" fill="none" stroke="rgb(150,13,21)" stroke-width="0.7" stroke-opacity="0.7" stroke-linecap="round"/><path d="M267.3 170.3l1.9 0.8M333.1 226.8l-1.1 0.3M331.2 197.2l-1.1 2.3M266.5 166.0l0.6 2.0M318.9 188.9l0.4 1.3M317.9 199.5l-1.0 1.8M345.3 137.0l-0.8 0.5M280.5 228.0l1.4 0.3M364.1 168.9l-0.7 0.7M279.7 205.1l1.5 1.8M336.5 158.9l0.4 2.2M354.2 176.0l0.2 0.9M331.7 171.4l1.0 1.2M328.9 156.4l1.7 2.3M311.6 139.1l-1.3 0.3M260.9 151.0l0.9 1.5M342.4 202.1l-1.1 0.6M261.3 148.4l-1.7 1.6M265.8 186.7l0.6 1.3M296.0 216.0l1.6 1.3M261.8 199.4l-0.7 1.9M332.1 151.9l0.7 2.2M296.2 200.4l0.7 0.7M308.1 126.7l-2.1 0.8M253.5 154.6l-0.4 1.9M252.4 204.0l2.1 0.3M344.5 172.7l0.9 1.3M322.9 220.6l-1.5 0.9M307.2 152.6l0.7 1.0M261.9 146.5l-2.3 1.2M305.9 167.9l-0.4 1.3M321.8 211.4l-2.1 0.6M250.4 181.7l1.5 0.5M255.2 179.9l-0.9 2.3M350.3 184.3l-0.6 1.7M362.0 143.6l-1.8 1.2M292.3 132.4l1.0 1.4M362.4 205.5l-0.3 2.0M277.7 175.8l-2.7 0.2M336.2 171.1l0.4 2.3M284.2 127.1l1.6 0.1M294.0 155.2l-0.8 1.4M364.9 202.5l-0.2 1.8M296.4 223.3l-1.6 1.1M361.2 215.5l-0.9 0.6M357.4 171.5l-1.8 2.3M302.0 177.8l-1.6 1.0M329.6 205.6l2.5 0.0M296.8 158.0l-2.4 1.6M285.8 158.6l1.3 0.6M305.5 223.3l0.4 0.8M323.7 225.2l-2.1 1.5M280.8 192.0l0.4 1.1M285.3 163.2l-0.5 2.2M265.6 209.9l0.6 2.5M344.3 166.9l1.9 2.4M259.4 134.6l-0.1 1.0M266.2 158.2l2.4 1.0M318.4 160.2l2.8 0.9M291.8 156.3l-0.8 1.5M353.0 196.4l2.1 0.7M286.9 138.7l-2.8 0.4M358.8 146.1l0.0 1.8M273.2 149.4l0.4 0.8M353.9 141.7l-1.5 1.5M301.7 219.5l1.1 2.1M305.0 128.2l-1.5 0.3M263.8 157.8l-0.9 0.2M292.6 170.6l-0.4 1.0M290.3 205.9l0.0 0.9M352.5 199.3l-2.4 1.1M273.5 157.4l-1.5 1.3M364.1 185.1l-2.2 1.4M334.4 189.2l-1.7 0.7M274.8 192.2l-0.8 1.9M364.3 218.0l-0.7 1.2M338.6 206.3l-1.8 0.0M345.1 191.2l-0.6 1.7M285.0 208.4l-1.1 1.3M255.7 162.6l1.7 1.4M352.0 202.6l-1.0 1.1M334.5 204.1l0.4 1.6M265.0 182.0l0.9 0.8M329.7 221.9l0.4 1.4M307.7 197.1l0.8 1.0M342.2 167.4l1.8 0.4M268.4 194.4l-0.5 0.7M330.5 168.5l-1.9 0.0M335.5 136.1l1.4 0.9M253.4 167.3l-1.0 1.6M343.2 184.3l-0.5 0.7M309.3 183.4l2.0 2.1M272.2 136.3l-0.2 1.0M313.9 187.0l-1.4 0.2M254.9 211.4l1.8 1.4M273.4 212.4l-0.7 0.8M353.4 228.5l-2.3 0.8M335.7 136.8l3.0 0.1M251.2 126.9l-1.4 1.3M321.6 214.4l-0.8 0.4M323.3 214.6l0.6 2.7M319.2 143.7l-1.4 0.9M286.3 196.3l2.0 1.7M247.4 157.9l0.9 0.5M277.1 168.2l2.6 0.2M311.9 219.0l0.5 3.0M310.9 217.2l-2.7 1.0M253.4 167.7l0.2 0.8M271.1 153.2l0.5 1.1M275.1 170.9l-1.2 1.1M259.0 198.3l-2.0 1.1M261.0 188.6l1.3 2.3M318.7 226.4l-2.8 0.9M265.4 178.5l0.6 0.9M354.4 179.3l2.5 1.2M291.6 143.2l1.3 1.7M341.0 208.8l-2.8 0.9M346.7 184.2l-2.6 1.5M266.7 204.8l0.1 2.1M343.5 184.1l-1.6 0.8M313.7 169.1l0.6 1.7M331.2 218.6l0.2 2.5M352.5 166.2l0.4 1.4M315.5 207.0l-0.5 1.4M281.2 219.8l2.6 0.2M347.8 214.6l-0.4 2.7M290.0 206.0l1.3 0.4M328.3 194.6l0.5 0.7" fill="none" stroke="rgb(125,11,17)" stroke-width="0.7" stroke-opacity="0.7" stroke-linecap="round"/></g>
<g filter="url(#bl2)" opacity="0.88"><ellipse cx="262.2" cy="143.9" rx="14.9" ry="9.7" fill="url(#nucg1)"/><ellipse cx="301.5" cy="132.4" rx="8.8" ry="6.6" fill="url(#nucg1)"/><ellipse cx="325.0" cy="129.8" rx="7.7" ry="4.4" fill="url(#nucg1)"/><ellipse cx="286.2" cy="188.5" rx="9.7" ry="13.2" fill="url(#nucg1)" transform="rotate(15 286.2 188.5)"/><ellipse cx="315.3" cy="180.3" rx="13.4" ry="10.3" fill="url(#nucg1)"/><ellipse cx="340.6" cy="192.5" rx="13.2" ry="8.8" fill="url(#nucg1)" transform="rotate(-40 340.6 192.5)"/><ellipse cx="263.4" cy="213.0" rx="9.0" ry="12.5" fill="url(#nucg1)"/><ellipse cx="362.6" cy="154.8" rx="3.3" ry="6.6" fill="url(#nucg1)"/><ellipse cx="312.9" cy="227.5" rx="7.7" ry="3.3" fill="url(#nucg1)"/><path d="M256.8 144.9h.01M265.2 138.1h.01M256.4 143.1h.01M261.3 140.3h.01M323.3 131.5h.01M309.5 185.5h.01M321.0 182.0h.01M340.6 192.1h.01M341.6 188.8h.01M269.7 212.5h.01M268.0 210.9h.01M265.2 220.1h.01M264.6 208.3h.01M316.0 226.3h.01M315.9 227.5h.01" stroke="#2424b8" stroke-width="1.8" stroke-linecap="round" stroke-opacity="0.6"/><path d="M265.5 142.6h.01M258.8 146.1h.01M259.2 146.3h.01M327.7 128.4h.01M288.0 195.7h.01M318.6 183.1h.01M321.4 185.1h.01M309.5 182.0h.01M315.8 180.0h.01M307.3 181.2h.01M315.0 181.4h.01M349.1 195.3h.01M265.0 208.4h.01M266.4 215.5h.01M259.8 215.5h.01" stroke="#101088" stroke-width="1.8" stroke-linecap="round" stroke-opacity="0.6"/><path d="M265.1 143.7h.01M295.8 130.9h.01M320.5 130.3h.01M286.6 190.8h.01M284.5 182.4h.01M281.6 187.4h.01M287.4 196.9h.01M285.9 188.2h.01M281.0 183.3h.01M283.2 197.2h.01M344.4 195.9h.01M336.6 190.2h.01M262.7 216.3h.01M268.5 213.7h.01M260.9 215.6h.01M360.4 153.8h.01" stroke="#2828c0" stroke-width="1.8" stroke-linecap="round" stroke-opacity="0.6"/><path d="M261.6 148.0h.01M261.9 140.6h.01M268.5 147.2h.01M263.5 147.2h.01M255.8 146.8h.01M304.0 128.7h.01M295.3 131.3h.01M304.2 131.6h.01M287.6 196.4h.01M307.8 183.0h.01M319.1 186.3h.01M323.7 176.8h.01M318.2 183.6h.01M336.0 191.5h.01M335.2 197.7h.01M339.2 186.5h.01M344.8 192.5h.01M331.7 193.7h.01M265.5 218.3h.01M266.8 217.8h.01M262.4 209.0h.01M310.1 226.1h.01" stroke="#1c1ca8" stroke-width="1.8" stroke-linecap="round" stroke-opacity="0.6"/><path d="M260.4 150.5h.01M263.6 143.0h.01M257.2 145.5h.01M255.3 143.4h.01M295.6 132.9h.01M298.4 131.3h.01M305.6 132.0h.01M325.9 127.2h.01M289.4 192.7h.01M280.9 189.2h.01M291.5 188.7h.01M283.5 186.3h.01M282.9 185.7h.01M290.2 185.9h.01M312.9 180.4h.01M306.1 181.1h.01M321.9 180.6h.01M318.4 173.3h.01M319.1 184.4h.01M336.5 193.5h.01M340.7 186.2h.01M337.2 191.8h.01M340.3 188.7h.01M261.4 209.1h.01M364.4 153.2h.01" stroke="#0c0c70" stroke-width="1.8" stroke-linecap="round" stroke-opacity="0.6"/></g>
</g>
<g clip-path="url(#cp02)">
<rect x="127" y="232.2" width="117.1" height="102.5" fill="#020402"/>
<g filter="url(#bl1)"><path d="M173.6 272.6h.2M229.4 254.4h.2M172.0 238.2h.2M228.7 266.2h.2M180.4 288.8h.2M187.6 247.0h.2M156.6 286.5h.2M226.4 329.4h.2M230.5 315.8h.2M199.2 314.3h.2M239.6 300.2h.2M216.3 247.1h.2M208.3 294.1h.2M164.7 303.0h.2M161.9 316.5h.2M238.5 315.7h.2M154.3 244.8h.2M166.8 238.4h.2M151.2 307.4h.2M137.0 314.9h.2M129.8 276.5h.2M142.2 318.9h.2M214.9 332.9h.2M224.8 240.0h.2M127.1 308.1h.2M171.6 332.1h.2M151.6 269.7h.2M130.3 294.4h.2" fill="none" stroke="rgb(18,22,18)" stroke-width="1.2" stroke-opacity="1" stroke-linecap="round"/><path d="M146.1 242.7h.2M146.2 250.9h.2M233.5 303.2h.2M233.7 302.7h.2M141.8 269.7h.2M197.1 279.1h.2M203.7 264.0h.2M233.0 328.2h.2M211.2 331.4h.2M136.2 322.9h.2M130.1 247.4h.2M170.4 251.1h.2M225.6 324.7h.2M143.2 295.7h.2M149.0 257.6h.2M157.9 315.5h.2M170.0 326.3h.2M127.8 265.2h.2M155.1 233.8h.2M191.4 287.9h.2M228.3 279.1h.2M212.5 261.5h.2M145.0 318.1h.2M215.7 287.5h.2M236.3 282.2h.2M165.9 275.6h.2" fill="none" stroke="rgb(29,36,29)" stroke-width="1.2" stroke-opacity="1" stroke-linecap="round"/><path d="M146.6 326.9h.2M168.4 278.0h.2M204.4 323.8h.2M139.5 283.5h.2M192.9 279.3h.2M175.9 311.9h.2M231.1 319.4h.2M221.3 308.3h.2M241.9 239.4h.2M220.2 326.4h.2M225.8 251.7h.2M168.1 268.9h.2M212.1 332.1h.2M212.3 306.2h.2M180.4 245.3h.2M196.3 289.3h.2M160.3 252.2h.2M198.6 275.2h.2M168.6 305.6h.2M166.4 312.7h.2M211.3 260.5h.2M162.4 305.1h.2M237.2 271.0h.2" fill="none" stroke="rgb(35,43,35)" stroke-width="1.2" stroke-opacity="1" stroke-linecap="round"/><path d="M239.8 246.0h.2M197.5 327.0h.2M175.1 331.9h.2M144.4 253.2h.2M240.5 331.5h.2M201.9 315.3h.2M235.8 265.9h.2M172.9 302.1h.2M164.1 304.2h.2M147.4 256.8h.2M203.2 326.9h.2M182.5 326.3h.2M196.4 309.5h.2M137.8 288.9h.2M159.9 243.6h.2M157.6 237.4h.2M129.3 295.3h.2M229.5 299.2h.2M144.3 282.3h.2M221.0 275.9h.2M206.5 249.6h.2M205.7 312.4h.2M205.8 297.7h.2M223.1 235.6h.2" fill="none" stroke="rgb(32,40,32)" stroke-width="1.2" stroke-opacity="1" stroke-linecap="round"/><path d="M221.9 280.5h.2M242.9 287.4h.2M148.2 294.4h.2M152.6 273.8h.2M174.0 281.8h.2M158.7 280.9h.2M210.3 280.0h.2M192.3 237.0h.2M140.9 235.7h.2M227.1 266.9h.2M182.5 236.1h.2M217.9 236.1h.2M163.8 279.4h.2M162.2 257.5h.2M139.9 255.5h.2M159.4 257.4h.2M195.8 273.6h.2M203.0 266.5h.2M147.5 330.2h.2M210.0 299.5h.2M155.9 286.1h.2M221.5 324.3h.2M241.2 234.8h.2M189.1 299.7h.2M200.2 282.3h.2M153.9 249.8h.2" fill="none" stroke="rgb(23,28,23)" stroke-width="1.2" stroke-opacity="1" stroke-linecap="round"/><path d="M138.6 280.6h.2M133.6 328.4h.2M242.9 280.0h.2M223.4 232.4h.2M167.8 258.8h.2M150.2 306.9h.2M177.9 296.1h.2M197.8 255.7h.2M193.5 294.4h.2M223.9 262.3h.2M238.2 328.7h.2M205.9 333.0h.2M136.1 309.0h.2M195.2 251.0h.2M177.6 282.3h.2M222.2 332.0h.2M172.1 300.3h.2M209.9 321.5h.2M220.1 295.0h.2M220.3 319.4h.2M132.1 288.2h.2M230.1 285.5h.2M217.9 239.2h.2M131.8 319.0h.2M243.5 271.4h.2M228.6 268.1h.2M229.4 256.7h.2M134.1 331.8h.2" fill="none" stroke="rgb(20,25,20)" stroke-width="1.2" stroke-opacity="1" stroke-linecap="round"/><path d="M212.5 312.2h.2M145.2 257.5h.2M190.8 305.4h.2M173.2 279.1h.2M188.6 246.4h.2M187.2 306.1h.2M175.7 252.3h.2M159.5 234.0h.2M206.4 317.2h.2M147.1 287.1h.2M144.3 298.2h.2M159.6 318.3h.2M142.2 321.0h.2M159.7 256.5h.2M189.8 236.4h.2M211.4 237.2h.2M195.8 257.4h.2M141.3 275.2h.2M148.0 325.8h.2M175.7 241.9h.2M138.3 239.7h.2M164.8 295.2h.2M188.8 245.9h.2" fill="none" stroke="rgb(21,26,21)" stroke-width="1.2" stroke-opacity="1" stroke-linecap="round"/><path d="M175.5 250.9h.2M128.8 321.7h.2M193.8 265.0h.2M138.0 292.4h.2M155.0 305.5h.2M158.9 236.6h.2M127.3 259.3h.2M149.6 233.2h.2M162.9 259.0h.2M136.2 320.3h.2M219.8 320.7h.2M127.0 296.1h.2M189.3 293.8h.2M206.5 264.9h.2M234.7 238.3h.2M131.1 312.0h.2M157.9 268.9h.2M213.8 281.6h.2M152.7 282.3h.2M206.2 306.9h.2M186.0 299.3h.2M149.9 304.6h.2M213.5 264.4h.2M191.4 283.8h.2M144.6 297.7h.2M151.0 311.9h.2" fill="none" stroke="rgb(39,48,39)" stroke-width="1.2" stroke-opacity="1" stroke-linecap="round"/><path d="M163.4 282.1h.2M204.5 260.4h.2M129.8 260.5h.2M157.8 278.9h.2M242.7 333.0h.2M202.9 285.1h.2M178.2 236.7h.2M178.8 237.4h.2M179.1 244.0h.2M194.6 242.8h.2M182.3 324.9h.2M147.6 270.9h.2M151.2 332.0h.2M242.6 318.0h.2M151.5 270.7h.2M140.2 258.3h.2M235.1 288.4h.2M157.7 235.3h.2M242.8 324.7h.2M168.8 304.1h.2M215.7 294.3h.2M127.0 277.2h.2M169.3 312.7h.2M151.8 282.9h.2M227.3 238.6h.2M200.8 232.4h.2M165.8 316.9h.2M199.4 317.2h.2M190.9 306.2h.2" fill="none" stroke="rgb(38,47,38)" stroke-width="1.2" stroke-opacity="1" stroke-linecap="round"/><path d="M180.9 320.1h.2M161.9 274.9h.2M174.5 243.5h.2M229.5 254.7h.2M144.1 234.7h.2M172.2 243.4h.2M222.9 251.4h.2M210.2 252.1h.2M226.7 243.8h.2M168.7 310.2h.2M155.1 330.0h.2M215.6 321.8h.2M219.7 256.0h.2M174.8 245.9h.2M186.7 314.6h.2M177.6 309.2h.2M196.9 269.0h.2M146.2 237.6h.2M228.4 260.9h.2M204.3 307.6h.2M202.4 316.3h.2M204.6 265.3h.2M174.8 322.7h.2M173.3 309.9h.2M184.4 280.2h.2M212.1 274.9h.2M200.2 264.0h.2M237.5 266.8h.2M205.3 274.9h.2M160.0 306.4h.2" fill="none" stroke="rgb(25,31,25)" stroke-width="1.2" stroke-opacity="1" stroke-linecap="round"/><path d="M184.9 317.6h.2M190.8 292.2h.2M151.0 239.1h.2M237.6 241.7h.2M138.9 269.7h.2M170.3 257.1h.2M155.7 309.8h.2M242.1 288.0h.2M233.3 314.4h.2M235.3 236.8h.2M135.2 280.8h.2M129.8 277.2h.2M168.6 324.4h.2M147.8 326.3h.2M200.7 233.1h.2M238.2 297.0h.2M154.6 306.0h.2M158.4 257.4h.2M147.0 259.6h.2M182.0 242.5h.2M141.7 296.2h.2M165.2 289.0h.2M209.8 277.1h.2M237.4 327.6h.2M168.6 288.8h.2M215.9 269.8h.2" fill="none" stroke="rgb(40,50,40)" stroke-width="1.2" stroke-opacity="1" stroke-linecap="round"/><path d="M180.4 290.3h.2M183.8 250.5h.2M140.2 254.1h.2M145.3 275.1h.2M139.5 275.7h.2M160.0 237.9h.2M136.0 332.4h.2M142.9 250.7h.2M186.4 316.3h.2M149.0 298.9h.2M215.0 262.7h.2M240.9 284.5h.2M154.4 326.5h.2M133.4 261.6h.2M193.1 274.7h.2M203.2 260.9h.2M208.2 245.3h.2M146.9 275.1h.2M229.0 302.9h.2M227.1 287.8h.2" fill="none" stroke="rgb(30,37,30)" stroke-width="1.2" stroke-opacity="1" stroke-linecap="round"/><path d="M231.4 315.7h.2M218.6 304.4h.2M144.8 255.1h.2M156.2 268.2h.2M175.6 273.6h.2M182.2 312.0h.2M198.5 297.3h.2M140.5 308.5h.2M209.9 294.4h.2M189.0 317.0h.2M169.7 303.4h.2M238.0 288.0h.2M230.3 270.4h.2M217.0 295.2h.2M205.9 293.8h.2M168.5 295.4h.2M177.5 236.7h.2M239.1 284.4h.2M198.8 329.0h.2M143.7 305.1h.2M158.0 238.0h.2M241.2 322.1h.2M142.5 327.8h.2M235.6 273.6h.2M194.5 274.7h.2" fill="none" stroke="rgb(24,30,24)" stroke-width="1.2" stroke-opacity="1" stroke-linecap="round"/><path d="M155.8 294.8h.2M231.0 277.8h.2M134.8 310.0h.2M191.4 293.1h.2M197.9 328.1h.2M216.8 333.9h.2M168.1 314.0h.2M173.6 235.9h.2M243.7 332.0h.2M167.1 321.8h.2M132.3 251.6h.2M178.4 280.6h.2M221.6 264.1h.2M208.6 244.3h.2M199.2 241.5h.2M139.9 301.3h.2M243.0 288.1h.2M234.1 314.0h.2M195.0 240.6h.2M198.1 304.0h.2M182.6 300.0h.2M214.9 318.8h.2M171.2 311.3h.2M163.8 305.1h.2M226.6 303.1h.2M139.4 281.8h.2M189.1 283.6h.2M137.6 243.5h.2M227.9 273.3h.2M128.9 307.0h.2M204.5 299.6h.2M136.4 302.8h.2M217.0 246.3h.2M239.5 281.6h.2M220.5 258.0h.2M145.6 271.3h.2" fill="none" stroke="rgb(44,55,44)" stroke-width="1.2" stroke-opacity="1" stroke-linecap="round"/><path d="M131.5 314.3h.2M136.7 280.3h.2M230.3 252.2h.2M236.4 260.3h.2M174.2 319.6h.2M163.4 251.0h.2M206.4 239.7h.2M180.5 315.6h.2M210.4 291.8h.2M219.4 329.1h.2M194.7 268.9h.2M170.5 238.3h.2M194.9 234.0h.2M212.2 313.4h.2M129.4 283.1h.2M228.4 308.2h.2M227.6 258.2h.2M199.8 277.5h.2M236.8 295.3h.2M217.3 292.7h.2M152.2 263.5h.2M136.0 289.1h.2M162.1 240.0h.2M211.9 273.5h.2" fill="none" stroke="rgb(34,42,34)" stroke-width="1.2" stroke-opacity="1" stroke-linecap="round"/><path d="M142.2 306.8h.2M134.3 256.0h.2M164.6 316.4h.2M134.3 248.9h.2M196.6 309.3h.2M165.3 292.5h.2M195.9 326.1h.2M195.2 270.9h.2M235.3 281.6h.2M149.8 299.1h.2M211.1 312.1h.2M220.8 313.3h.2M194.3 317.2h.2M214.7 305.9h.2M128.2 290.9h.2M158.1 249.0h.2M170.6 322.6h.2M133.5 269.2h.2M153.1 281.8h.2M201.3 281.5h.2M169.7 234.8h.2M175.5 270.7h.2M200.1 285.2h.2" fill="none" stroke="rgb(36,45,36)" stroke-width="1.2" stroke-opacity="1" stroke-linecap="round"/><path d="M130.0 248.2h.2M189.1 258.4h.2M159.3 333.2h.2M193.7 332.0h.2M169.9 321.6h.2M198.1 281.7h.2M225.6 333.1h.2M135.2 315.0h.2M230.0 267.2h.2M194.0 308.4h.2M133.5 291.8h.2M230.4 332.0h.2M160.3 316.6h.2M180.0 287.0h.2M138.5 324.2h.2M173.4 254.8h.2M189.3 285.1h.2M212.5 327.3h.2M203.8 297.9h.2M204.9 252.1h.2M141.5 236.7h.2M219.5 297.5h.2M172.0 318.9h.2M239.6 284.3h.2M180.1 276.6h.2M192.4 256.5h.2M231.5 249.2h.2M202.7 261.5h.2M133.4 245.9h.2M162.6 313.3h.2M230.4 314.8h.2" fill="none" stroke="rgb(45,56,45)" stroke-width="1.2" stroke-opacity="1" stroke-linecap="round"/><path d="M130.8 250.1h.2M161.6 232.7h.2M219.3 309.8h.2M197.6 332.0h.2M190.0 256.3h.2M179.5 316.3h.2M240.4 262.8h.2M224.0 251.5h.2M233.1 306.9h.2M161.5 269.6h.2M237.2 291.2h.2M188.0 271.3h.2M186.9 327.3h.2M162.4 264.1h.2M145.6 312.7h.2M169.1 294.9h.2M236.3 329.0h.2M150.8 296.3h.2M222.4 322.0h.2M230.1 312.4h.2M207.4 252.0h.2M160.3 261.1h.2M198.8 307.3h.2" fill="none" stroke="rgb(42,52,42)" stroke-width="1.2" stroke-opacity="1" stroke-linecap="round"/><path d="M208.1 282.9h.2M241.8 263.2h.2M129.9 265.1h.2M159.7 274.4h.2M193.2 239.7h.2M243.6 258.1h.2M151.5 244.7h.2M181.3 334.6h.2M178.8 303.6h.2M237.8 315.6h.2M210.2 328.4h.2M150.1 320.8h.2M240.7 307.7h.2M165.3 290.6h.2M131.2 323.9h.2M211.9 299.2h.2M157.2 301.9h.2M202.9 309.8h.2M220.3 291.0h.2M132.0 275.3h.2M200.1 267.2h.2M146.1 322.3h.2" fill="none" stroke="rgb(19,23,19)" stroke-width="1.2" stroke-opacity="1" stroke-linecap="round"/><path d="M215.6 294.8h.2M190.0 330.5h.2M219.4 287.5h.2M145.1 308.4h.2M180.1 254.3h.2M170.1 246.8h.2M127.9 292.5h.2M143.4 265.0h.2M190.8 290.3h.2M132.8 240.7h.2M218.0 323.9h.2M240.2 242.0h.2M242.5 295.0h.2M165.7 302.4h.2M143.1 264.1h.2M210.0 235.1h.2M242.8 267.3h.2M222.2 263.7h.2M158.8 244.8h.2M219.4 305.6h.2M132.3 319.2h.2M160.4 234.4h.2M149.3 317.3h.2M179.6 264.5h.2" fill="none" stroke="rgb(37,46,37)" stroke-width="1.2" stroke-opacity="1" stroke-linecap="round"/><path d="M131.8 238.1h.2M209.1 329.1h.2M219.3 237.4h.2M130.6 248.3h.2M233.0 303.4h.2M169.0 273.5h.2M142.6 332.8h.2M233.3 270.1h.2M233.3 312.5h.2M191.9 302.7h.2M223.7 329.5h.2M150.1 316.0h.2M167.5 246.3h.2M149.8 234.1h.2M200.1 263.5h.2M130.1 242.3h.2M193.2 294.4h.2M133.5 298.0h.2M128.1 294.1h.2M156.8 254.9h.2M128.9 256.0h.2M177.3 292.7h.2M235.1 301.3h.2M169.4 265.5h.2M219.6 281.0h.2M177.3 237.0h.2M199.9 315.9h.2" fill="none" stroke="rgb(26,32,26)" stroke-width="1.2" stroke-opacity="1" stroke-linecap="round"/><path d="M233.9 320.0h.2M236.7 233.8h.2M187.7 323.4h.2M211.0 331.2h.2M240.0 247.6h.2M190.4 309.8h.2M236.2 317.2h.2M137.2 328.4h.2M214.2 310.2h.2M218.3 309.4h.2M234.6 289.6h.2M228.2 328.5h.2M154.9 235.3h.2M142.9 259.9h.2M233.0 263.7h.2M215.4 316.5h.2M173.4 251.9h.2M140.2 261.3h.2M233.1 260.5h.2M127.4 329.0h.2M183.9 271.1h.2M170.1 316.3h.2M205.4 286.6h.2M159.0 250.5h.2M164.8 321.6h.2" fill="none" stroke="rgb(22,27,22)" stroke-width="1.2" stroke-opacity="1" stroke-linecap="round"/><path d="M222.2 284.7h.2M142.1 250.5h.2M147.5 263.3h.2M155.0 333.4h.2M194.4 275.3h.2M136.4 279.1h.2M156.9 246.9h.2M207.2 257.5h.2M168.7 271.6h.2M205.9 281.7h.2M210.5 279.8h.2M137.3 295.9h.2M196.5 262.6h.2M165.4 278.8h.2M169.6 309.9h.2M190.2 272.9h.2M169.8 297.5h.2M190.0 331.0h.2M163.9 233.4h.2M181.6 334.6h.2M232.9 250.9h.2M234.2 320.3h.2M225.5 282.6h.2M207.6 285.8h.2" fill="none" stroke="rgb(28,35,28)" stroke-width="1.2" stroke-opacity="1" stroke-linecap="round"/><path d="M136.4 273.1h.2M160.6 330.4h.2M157.6 290.8h.2M172.1 236.2h.2M220.0 331.1h.2M144.3 330.6h.2M210.4 307.6h.2M201.9 286.3h.2M181.8 310.9h.2M222.5 317.9h.2M187.6 268.5h.2M136.1 289.7h.2M157.8 322.5h.2M158.2 313.2h.2M171.4 286.0h.2M160.3 284.5h.2M176.1 299.2h.2M142.2 262.7h.2M182.1 275.4h.2M156.0 245.2h.2M238.9 289.0h.2M220.7 318.8h.2" fill="none" stroke="rgb(41,51,41)" stroke-width="1.2" stroke-opacity="1" stroke-linecap="round"/><path d="M145.8 310.6h.2M151.1 288.5h.2M218.2 259.9h.2M188.4 261.8h.2M149.6 255.8h.2M150.1 233.0h.2M213.0 306.0h.2M158.1 301.9h.2M139.8 308.6h.2M234.9 334.3h.2M169.9 300.7h.2M159.3 245.6h.2M180.5 329.4h.2M166.1 294.2h.2M187.2 272.5h.2M136.1 328.3h.2M154.7 313.5h.2M148.2 245.6h.2M196.5 297.4h.2M136.7 243.4h.2M234.9 309.1h.2M230.8 333.2h.2M127.5 264.2h.2M134.6 327.8h.2M134.0 261.7h.2M159.2 247.8h.2M196.5 265.7h.2" fill="none" stroke="rgb(31,38,31)" stroke-width="1.2" stroke-opacity="1" stroke-linecap="round"/><path d="M212.5 294.1h.2M194.6 235.5h.2M188.2 247.0h.2M233.7 239.3h.2M179.7 235.6h.2M131.7 295.0h.2M213.9 326.5h.2M237.8 318.6h.2M186.0 291.8h.2M156.0 239.5h.2M169.0 300.2h.2M189.2 235.7h.2M159.2 268.2h.2M242.4 268.6h.2M164.8 251.7h.2M171.6 325.5h.2M215.7 265.3h.2M149.2 242.3h.2M217.7 306.1h.2" fill="none" stroke="rgb(33,41,33)" stroke-width="1.2" stroke-opacity="1" stroke-linecap="round"/><path d="M210.5 274.1h.2M204.9 295.9h.2M162.3 250.8h.2M146.5 295.8h.2M202.2 296.4h.2M190.3 254.6h.2M240.5 283.2h.2M216.5 264.6h.2M179.2 292.5h.2M240.2 264.8h.2M191.5 331.7h.2M162.4 262.5h.2" fill="none" stroke="rgb(43,53,43)" stroke-width="1.2" stroke-opacity="1" stroke-linecap="round"/><path d="M157.5 296.7h.2M176.6 240.8h.2M152.2 272.4h.2M136.1 259.2h.2M205.8 295.5h.2M137.6 332.5h.2M197.2 232.3h.2M202.0 332.8h.2M196.8 291.1h.2M147.0 309.6h.2M199.3 333.7h.2M168.8 268.9h.2M151.9 305.3h.2M201.1 242.7h.2M220.6 330.3h.2M167.7 333.1h.2M142.9 307.9h.2M222.4 260.9h.2M157.1 309.8h.2M236.7 304.1h.2M169.9 325.8h.2M221.6 248.0h.2M167.7 305.9h.2M167.6 280.1h.2M241.4 259.6h.2M133.7 257.4h.2M137.8 260.1h.2" fill="none" stroke="rgb(27,33,27)" stroke-width="1.2" stroke-opacity="1" stroke-linecap="round"/><path d="M164.4 249.7h.3M147.9 324.9h.3M173.9 287.0h.3M146.8 298.2h.3M233.5 273.1h.3M159.0 279.3h.3M220.0 246.5h.3M186.3 232.8h.3M220.5 248.0h.3M132.8 253.3h.3M192.3 327.3h.3M230.2 311.7h.3M196.7 334.3h.3M174.9 316.0h.3M213.5 299.9h.3M161.0 291.8h.3M184.4 272.2h.3M243.6 313.1h.3M190.0 305.0h.3M179.0 253.9h.3M171.2 290.7h.3M154.2 266.9h.3M217.1 261.0h.3M151.9 314.9h.3M240.0 328.4h.3M194.6 297.3h.3M172.2 321.3h.3M231.2 324.2h.3M231.4 286.2h.3M165.4 334.4h.3M142.1 243.2h.3M241.6 314.4h.3M192.3 305.7h.3M201.5 330.4h.3M228.2 327.0h.3M154.8 334.5h.3M241.2 270.3h.3M187.2 297.2h.3M188.9 260.9h.3M127.8 232.6h.3M167.9 235.5h.3M189.6 261.2h.3M134.6 329.1h.3M140.7 316.8h.3M237.1 287.4h.3M191.9 300.2h.3M234.7 316.7h.3M151.2 315.0h.3M161.8 291.8h.3M169.6 333.6h.3M215.2 250.6h.3M148.8 283.7h.3M209.7 261.4h.3M198.3 286.2h.3M206.0 318.9h.3M146.3 278.6h.3M197.7 308.7h.3M211.0 260.2h.3M197.5 326.2h.3M201.1 271.9h.3M131.0 233.9h.3" fill="none" stroke="rgb(82,150,67)" stroke-width="1.0" stroke-opacity="1" stroke-linecap="round"/><path d="M210.2 245.4h.3M228.4 265.0h.3M174.2 241.4h.3M224.2 235.9h.3M153.4 272.2h.3M150.0 234.0h.3M155.1 298.6h.3M163.4 317.6h.3M145.6 315.3h.3M131.5 285.5h.3M130.5 287.8h.3M186.1 258.7h.3M140.5 301.9h.3M195.2 255.8h.3M182.4 274.6h.3M202.5 295.4h.3M229.1 243.0h.3M178.2 330.1h.3M196.6 233.7h.3M188.0 305.7h.3M228.7 251.2h.3M154.0 256.9h.3M186.4 305.3h.3M238.4 254.9h.3M228.9 270.4h.3M203.6 315.6h.3M172.6 296.8h.3M145.3 296.2h.3M171.9 271.1h.3M227.8 304.6h.3M205.1 299.9h.3M155.0 298.3h.3M232.5 326.4h.3M160.8 329.1h.3M131.3 277.1h.3M141.4 236.6h.3M156.9 323.8h.3M147.6 281.0h.3M221.5 272.3h.3M237.2 320.8h.3M235.1 307.9h.3M133.1 243.1h.3M230.1 275.1h.3M182.2 281.2h.3M231.8 233.7h.3M152.1 248.9h.3M185.1 332.5h.3M198.8 239.3h.3M220.7 290.5h.3M129.7 302.2h.3M210.9 232.9h.3M179.9 292.8h.3M206.6 253.6h.3M190.4 249.9h.3M199.1 294.4h.3M178.2 301.3h.3M213.3 283.8h.3M227.8 286.0h.3M223.6 295.6h.3M174.5 288.5h.3M128.4 244.4h.3" fill="none" stroke="rgb(55,100,45)" stroke-width="1.0" stroke-opacity="1" stroke-linecap="round"/><path d="M208.5 251.3h.3M174.7 266.4h.3M183.5 288.9h.3M173.1 263.6h.3M181.5 278.9h.3M207.0 265.7h.3M233.8 333.8h.3M132.4 257.8h.3M170.3 290.5h.3M188.3 328.7h.3M203.0 303.4h.3M242.7 259.8h.3M133.7 262.8h.3M138.7 265.6h.3M241.1 269.0h.3M159.8 292.9h.3" fill="none" stroke="rgb(96,175,78)" stroke-width="1.0" stroke-opacity="1" stroke-linecap="round"/><path d="M138.2 267.7h.3M158.9 322.8h.3M232.2 309.6h.3M195.5 270.3h.3M187.2 241.0h.3M218.6 288.9h.3M201.3 321.9h.3M182.1 288.6h.3M157.6 312.5h.3M170.7 303.1h.3M227.7 292.7h.3M234.0 269.6h.3M216.4 263.1h.3M199.7 238.5h.3M170.0 273.6h.3M193.8 307.2h.3M209.5 262.3h.3M215.5 245.3h.3M143.9 315.5h.3M144.9 240.7h.3M234.2 293.1h.3M174.8 261.5h.3M161.5 321.0h.3M172.6 275.0h.3M207.3 282.7h.3M155.3 306.2h.3M144.2 326.2h.3M151.2 255.5h.3M179.9 255.4h.3M243.9 318.7h.3M165.9 286.0h.3M223.5 333.2h.3M150.4 308.1h.3M187.4 272.0h.3M176.7 269.1h.3M186.3 270.2h.3M223.0 311.7h.3M240.0 299.7h.3M202.9 263.8h.3M243.2 326.6h.3M227.0 286.9h.3M161.5 299.3h.3M241.8 241.6h.3M213.1 243.9h.3M174.2 300.9h.3M169.1 318.0h.3M224.3 285.2h.3M132.5 287.1h.3M147.4 244.4h.3M222.8 297.4h.3M225.8 321.6h.3M241.1 332.9h.3M170.3 315.0h.3M156.4 291.1h.3M218.1 300.0h.3M134.2 265.8h.3M224.9 241.8h.3M151.5 282.8h.3M165.6 289.0h.3" fill="none" stroke="rgb(68,125,56)" stroke-width="1.0" stroke-opacity="1" stroke-linecap="round"/><path d="M134.1 281.8h.3M208.1 313.2h.3M166.7 316.7h.3M188.8 234.7h.3M215.9 296.3h.3M152.3 331.8h.3M191.4 277.6h.3M240.3 333.5h.3M195.8 239.0h.3M138.2 254.6h.3M178.1 266.6h.3M218.4 315.3h.3M151.1 300.6h.3M237.9 247.7h.3M226.6 252.6h.3M166.2 278.3h.3M220.7 304.9h.3M200.2 328.0h.3M134.8 261.6h.3M209.7 321.7h.3M235.8 327.3h.3M194.8 333.7h.3M212.8 297.5h.3M234.0 300.3h.3M147.3 295.5h.3M135.5 328.0h.3M200.1 305.2h.3M158.6 287.1h.3M214.4 302.7h.3M166.2 305.3h.3M198.7 308.3h.3M174.6 302.9h.3M141.7 313.3h.3M185.1 328.3h.3M198.7 268.5h.3M137.4 325.1h.3M170.4 300.8h.3M202.2 333.8h.3M180.7 322.9h.3M179.8 334.4h.3M234.8 305.7h.3" fill="none" stroke="rgb(27,50,22)" stroke-width="1.0" stroke-opacity="1" stroke-linecap="round"/><path d="M214.1 299.1h.3M206.8 245.1h.3M218.1 313.0h.3M208.0 234.3h.3M130.1 327.8h.3M240.3 271.8h.3M189.8 243.3h.3M201.4 334.0h.3M231.7 243.0h.3M202.9 329.1h.3M157.7 234.3h.3M163.3 330.6h.3M190.4 324.0h.3M203.4 329.3h.3M196.2 289.3h.3M170.0 308.8h.3M210.6 302.7h.3M225.2 334.3h.3M156.5 254.6h.3M220.2 251.6h.3M229.6 310.6h.3M206.1 315.8h.3M147.7 244.4h.3M168.4 256.0h.3M191.3 251.7h.3M155.3 272.8h.3M238.2 246.3h.3M181.2 320.6h.3M179.0 284.1h.3M202.0 312.8h.3M235.9 269.5h.3M167.7 328.3h.3M148.9 329.6h.3M168.2 317.0h.3M221.3 289.0h.3M220.8 245.6h.3M190.3 288.7h.3M139.4 275.4h.3M145.2 328.4h.3M173.5 290.1h.3M172.6 297.9h.3M146.6 309.4h.3M175.2 259.8h.3M229.6 298.7h.3M230.7 235.8h.3M155.0 289.0h.3M135.0 242.3h.3M164.1 311.8h.3M226.2 310.1h.3M133.5 240.4h.3M152.0 294.7h.3M130.4 315.4h.3M162.9 254.8h.3M140.8 299.2h.3M196.0 267.0h.3M159.6 249.8h.3M238.8 301.9h.3M169.2 273.2h.3M141.1 319.7h.3M152.5 290.1h.3M239.2 278.8h.3M164.1 267.0h.3" fill="none" stroke="rgb(41,75,33)" stroke-width="1.0" stroke-opacity="1" stroke-linecap="round"/></g>
<g filter="url(#bl2)"><ellipse cx="143.9" cy="249.3" rx="9.4" ry="9.9" fill="url(#nucg2)"/><ellipse cx="181.7" cy="267.8" rx="11.6" ry="8.2" fill="url(#nucg2)"/><ellipse cx="228.8" cy="246.6" rx="11.6" ry="7.7" fill="url(#nucg2)"/><ellipse cx="213.3" cy="282.5" rx="11.0" ry="8.2" fill="url(#nucg2)"/><ellipse cx="167.4" cy="288.0" rx="12.1" ry="7.5" fill="url(#nucg2)"/><ellipse cx="147.3" cy="299.4" rx="11.0" ry="8.8" fill="url(#nucg2)"/><ellipse cx="174.8" cy="304.0" rx="9.4" ry="11.3" fill="url(#nucg2)"/><ellipse cx="217.9" cy="312.1" rx="8.2" ry="11.0" fill="url(#nucg2)"/><ellipse cx="148.4" cy="324.7" rx="12.1" ry="7.7" fill="url(#nucg2)"/><ellipse cx="181.7" cy="331.5" rx="11.0" ry="4.4" fill="url(#nucg2)"/><ellipse cx="204.1" cy="330.5" rx="8.8" ry="4.4" fill="url(#nucg2)"/><ellipse cx="127.5" cy="299.4" rx="2.2" ry="5.5" fill="url(#nucg2)"/><path d="M138.1 249.1h.01M148.3 248.1h.01M141.7 245.6h.01M148.3 244.1h.01M175.8 266.0h.01M224.1 243.7h.01M213.4 279.0h.01M213.6 279.5h.01M164.4 289.3h.01M167.1 287.4h.01M170.6 283.8h.01M165.2 285.5h.01M146.6 294.5h.01M140.4 298.1h.01M149.1 300.9h.01M146.8 301.0h.01M142.9 296.5h.01M175.7 302.8h.01M178.8 307.2h.01M216.0 316.2h.01M218.0 318.4h.01M221.3 315.1h.01M216.9 316.6h.01M219.8 308.4h.01M221.9 317.0h.01M148.5 326.3h.01" stroke="#1c1ca8" stroke-width="1.8" stroke-linecap="round" stroke-opacity="0.6"/><path d="M144.4 252.3h.01M146.3 252.7h.01M177.7 270.2h.01M231.8 249.0h.01M231.9 251.4h.01M209.4 283.2h.01M210.8 287.4h.01M168.0 291.8h.01M141.7 296.9h.01M179.4 304.7h.01M178.7 310.3h.01M216.3 312.0h.01M221.2 314.7h.01M150.5 321.5h.01M188.3 331.4h.01M176.7 332.7h.01M201.7 332.0h.01M207.2 328.7h.01M203.7 332.4h.01" stroke="#101088" stroke-width="1.8" stroke-linecap="round" stroke-opacity="0.6"/><path d="M143.4 246.5h.01M147.9 246.1h.01M140.6 254.1h.01M175.0 271.0h.01M182.1 265.7h.01M180.9 269.5h.01M230.0 241.6h.01M216.6 286.7h.01M213.7 283.7h.01M206.0 281.1h.01M169.2 290.3h.01M169.9 283.4h.01M167.5 285.7h.01M153.1 297.0h.01M154.1 298.5h.01M178.8 298.9h.01M177.0 306.9h.01M176.9 303.3h.01M174.5 298.4h.01M218.4 304.9h.01M146.8 327.6h.01M153.7 326.1h.01M143.6 326.2h.01M185.6 330.5h.01M128.6 297.9h.01" stroke="#0c0c70" stroke-width="1.8" stroke-linecap="round" stroke-opacity="0.6"/><path d="M141.9 244.0h.01M147.6 254.5h.01M176.8 271.3h.01M179.1 268.9h.01M228.0 250.0h.01M235.0 243.0h.01M232.6 244.1h.01M220.9 247.4h.01M208.8 287.0h.01M216.7 284.0h.01M220.4 281.0h.01M154.5 301.3h.01M144.3 299.5h.01M173.3 309.4h.01M178.4 300.6h.01M219.4 319.4h.01M220.6 311.0h.01M153.7 327.5h.01M146.3 322.8h.01M145.2 323.6h.01M184.3 328.6h.01" stroke="#2424b8" stroke-width="1.8" stroke-linecap="round" stroke-opacity="0.6"/><path d="M181.5 266.7h.01M181.2 269.9h.01M186.9 267.6h.01M182.4 262.0h.01M225.7 248.3h.01M223.7 247.5h.01M236.2 244.5h.01M218.0 286.7h.01M168.7 288.6h.01M164.6 287.9h.01M171.5 289.9h.01M145.4 304.5h.01M147.2 298.9h.01M179.0 299.7h.01M175.5 304.5h.01M178.3 305.2h.01M144.7 329.4h.01M151.3 320.7h.01M145.4 323.0h.01M180.2 331.8h.01M181.4 334.5h.01M207.1 329.2h.01" stroke="#2828c0" stroke-width="1.8" stroke-linecap="round" stroke-opacity="0.6"/></g>
<g filter="url(#bl1)"><path d="M131.1 231.8l-0.1 0.7M129.9 235.1l-0.1 0.7M135.8 287.4l-0.1 0.6M135.3 288.5l-0.1 0.8M198.9 243.8l0.7 -0.4M166.9 233.4l0.2 0.6M168.6 236.8l0.4 1.3M201.0 261.3l0.2 1.2M210.0 253.6l0.8 0.0M225.0 254.2l0.8 0.1M238.6 266.7l-0.1 0.4M239.0 272.1l-0.1 0.9M194.1 278.6l-0.7 0.5M177.6 288.1l-1.3 0.3M174.4 288.9l-1.3 0.3M172.8 277.0l0.7 0.1M185.7 280.2l1.1 0.1M199.9 307.5l0.7 0.5M235.2 315.5l-0.2 1.2M235.7 318.3l-0.2 1.1M232.9 323.3l-0.1 0.6M186.7 327.0l1.0 0.4M129.2 305.8l0.6 0.5M135.5 291.5l1.2 -0.2M144.1 288.6l0.8 -0.2" fill="none" stroke="rgb(82,150,67)" stroke-width="1.0" stroke-opacity="1" stroke-linecap="round"/><path d="M132.3 233.3l-0.1 0.6M130.5 257.7l0.3 0.9M134.7 266.3l0.2 0.7M139.2 281.5l-0.1 0.4M161.3 241.4l0.7 -0.1M163.5 240.1l1.1 -0.2M199.3 256.3l0.1 0.7M203.6 253.6l1.3 0.0M213.2 253.9l0.4 0.0M182.6 278.9l1.2 0.1M194.7 303.2l0.8 0.6M198.2 304.1l0.3 0.2M202.9 312.5l0.3 1.0M235.7 322.3l-0.1 0.7M182.3 323.9l0.3 0.1M199.2 327.0l1.3 -0.3M134.5 309.6l0.4 0.3M144.2 276.9l-1.2 0.4M155.0 331.3l1.0 0.2" fill="none" stroke="rgb(82,150,67)" stroke-width="1.3" stroke-opacity="1" stroke-linecap="round"/><path d="M132.2 236.0l-0.1 1.2M192.0 246.4l1.0 0.3M201.4 271.0l0.2 1.3M204.2 274.5l0.2 1.2M217.0 254.5l1.3 0.2M221.3 257.2l0.5 0.1M239.1 258.7l-0.2 1.2M240.3 260.9l-0.1 0.4M238.2 262.6l-0.1 1.2M175.5 286.4l-0.8 0.2M166.8 276.7l0.4 0.1M226.4 287.7l0.5 1.3M231.5 300.7l0.4 1.0M151.3 286.9l0.3 -0.1M227.2 288.2l-0.8 -0.2M223.4 285.7l-0.5 0.3M141.1 277.2l-0.6 0.0" fill="none" stroke="rgb(123,225,101)" stroke-width="1.0" stroke-opacity="1" stroke-linecap="round"/><path d="M129.6 238.0l-0.1 0.7M132.1 262.8l0.3 0.8M154.2 247.1l0.1 0.8M154.8 260.9l-0.1 0.7M156.1 264.8l-0.2 1.1M175.3 240.3l0.9 0.3M200.9 266.0l0.1 0.9M200.2 272.7l0.1 0.4M211.7 256.0l1.1 0.0M231.6 256.8l1.1 0.2M237.4 257.8l1.0 0.2M238.0 273.4l-0.2 1.3M236.1 280.0l-0.1 0.4M190.3 278.0l-0.8 0.7M171.6 276.7l1.0 0.1M161.2 301.2l1.1 0.4M166.6 301.5l0.5 0.2M166.9 303.6l1.1 0.4M202.1 311.3l0.2 0.6M231.1 299.4l0.3 0.6M188.6 326.4l1.3 0.5M132.9 308.2l0.7 0.6M141.8 290.0l1.2 -0.2M152.3 272.9l-0.4 0.1" fill="none" stroke="rgb(68,125,56)" stroke-width="1.3" stroke-opacity="1" stroke-linecap="round"/><path d="M129.9 240.1l-0.2 1.2M129.2 243.4l-0.2 1.3M134.9 268.5l0.3 1.0M137.1 285.6l-0.1 0.7M154.2 253.3l0.1 0.6M168.3 238.0l1.0 -0.2M193.6 245.5l0.9 -0.6M167.6 231.4l0.4 1.1M199.6 247.1l0.1 0.4M223.0 257.1l1.2 0.2M237.3 278.4l-0.3 0.7M159.4 272.3l0.8 0.2M228.5 298.6l0.2 0.6M181.1 324.4l1.0 0.4M196.2 325.2l0.8 -0.2M152.1 286.3l0.8 -0.2M229.9 287.5l-0.9 -0.2M218.8 289.3l-0.7 0.5M154.1 272.4l-0.6 0.2M206.7 321.7l0.4 0.5" fill="none" stroke="rgb(68,125,56)" stroke-width="1.0" stroke-opacity="1" stroke-linecap="round"/><path d="M130.5 242.1l-0.2 1.2M156.1 269.6l-0.2 1.2M201.9 267.2l0.1 0.7M213.8 255.5l1.2 0.2M229.3 258.3l1.2 0.2M235.5 259.2l1.2 0.2M239.0 268.0l-0.1 0.8M195.3 276.9l-0.7 0.6M157.4 272.7l1.2 0.4M176.6 277.2l0.6 0.1M170.6 303.0l0.8 0.3M228.2 291.6l0.4 1.1M233.8 306.7l0.3 0.6M234.9 309.4l0.2 0.4M192.7 326.6l0.6 -0.1M135.5 310.2l-0.4 1.3M231.2 289.2l-0.4 -0.1M221.3 287.7l-1.1 0.8M146.6 275.9l-0.3 0.1" fill="none" stroke="rgb(110,200,90)" stroke-width="1.3" stroke-opacity="1" stroke-linecap="round"/><path d="M128.9 246.4l-0.1 0.6M136.2 272.3l0.2 0.6M155.3 244.8l0.1 1.0M155.5 256.3l0.0 0.4M156.5 261.9l-0.1 0.9M196.8 244.1l1.0 -0.7M207.1 255.0l1.2 0.0M189.7 280.4l-1.0 0.8M188.4 281.5l-0.3 0.3M188.9 278.2l0.5 0.1M203.0 309.8l0.1 0.4M234.3 307.1l0.3 0.9M140.3 291.2l0.9 -0.2M232.9 288.2l-1.0 -0.2M150.4 274.9l-1.1 0.4M147.9 273.5l-0.7 0.2M150.4 331.8l1.3 0.3" fill="none" stroke="rgb(55,100,45)" stroke-width="1.0" stroke-opacity="1" stroke-linecap="round"/><path d="M129.1 248.7l-0.0 0.3M135.0 264.7l0.1 0.4M137.2 275.4l0.3 0.9M199.2 254.7l0.2 1.1M202.3 268.7l0.1 0.6M201.6 254.0l1.1 0.0M222.1 255.9l0.3 0.1M237.9 269.5l-0.1 1.0M185.1 283.1l-0.6 0.4M165.9 275.8l0.7 0.2M204.6 317.3l0.4 1.3M127.1 303.0l0.5 0.4M131.4 322.5l-0.4 1.3M222.3 286.2l-0.4 0.3M220.7 289.5l-1.0 0.7M150.8 273.1l-0.5 0.2M209.3 328.9l0.4 0.6" fill="none" stroke="rgb(96,175,78)" stroke-width="1.3" stroke-opacity="1" stroke-linecap="round"/><path d="M130.6 251.2l0.3 0.8M132.4 259.2l0.3 1.0M141.2 277.3l-0.1 0.9M198.3 245.7l0.1 1.0M198.8 249.4l0.2 1.1M219.0 255.2l1.4 0.2M191.9 277.9l-0.7 0.6M182.4 288.6l-1.1 0.2M178.3 286.0l-0.5 0.1M156.1 272.7l1.0 0.3M160.7 273.3l1.3 0.4M162.3 272.6l1.3 0.4M169.5 276.7l0.8 0.2M177.9 277.6l0.8 0.1M180.8 277.4l0.6 0.1M204.1 314.5l0.2 0.7M205.5 319.6l0.4 1.2M229.9 293.3l0.2 0.4M189.0 326.4l0.9 -0.2M207.3 326.7l0.8 1.0M152.0 330.7l1.2 0.2" fill="none" stroke="rgb(96,175,78)" stroke-width="1.0" stroke-opacity="1" stroke-linecap="round"/><path d="M130.4 252.6l0.2 0.6M132.1 255.4l0.2 0.6M132.8 263.9l0.3 1.0M136.2 275.0l0.2 0.6M155.5 250.0l0.1 0.4M154.7 262.4l-0.2 1.2M155.4 266.0l-0.2 1.3M178.7 240.4l0.5 0.2M189.6 244.4l1.3 0.3M202.3 257.9l0.2 1.1M226.3 257.6l0.7 0.1M237.6 275.1l-0.1 0.4M236.0 283.3l-0.4 0.9M198.3 307.1l0.6 0.5M229.0 296.8l0.2 0.4M232.8 301.7l0.3 0.7M232.6 320.6l-0.0 0.3M197.6 325.9l0.9 -0.2M130.8 307.3l0.2 0.2M134.1 315.1l-0.2 0.8M205.8 323.2l0.8 1.1M148.5 331.8l1.2 0.2M155.7 331.9l0.7 0.1" fill="none" stroke="rgb(110,200,90)" stroke-width="1.0" stroke-opacity="1" stroke-linecap="round"/><path d="M138.4 284.2l-0.2 1.2M178.0 240.1l0.7 0.2M199.9 242.1l0.4 -0.3M201.0 259.4l0.1 0.6M200.5 261.8l0.1 0.5M200.3 264.4l0.1 0.5M202.7 273.1l0.2 1.3M227.8 257.4l0.4 0.1M239.1 277.2l-0.3 0.8M235.9 280.8l-0.5 1.3M179.3 278.0l0.8 0.1M190.3 278.8l1.4 0.2M163.3 301.3l0.8 0.3M228.4 295.3l0.3 0.8M232.5 305.3l0.2 0.5M233.1 324.9l-0.1 0.6M134.1 311.1l-0.2 0.9M133.7 316.8l-0.2 0.9" fill="none" stroke="rgb(123,225,101)" stroke-width="1.3" stroke-opacity="1" stroke-linecap="round"/><path d="M162.4 240.6l0.4 -0.1M166.1 240.4l1.2 -0.2M182.5 242.3l0.7 0.2M190.3 244.8l1.2 0.3M233.7 283.7l-0.2 0.4M175.0 278.1l0.6 0.1M187.3 279.1l0.5 0.1M202.7 319.3l0.3 1.0M226.0 289.6l0.3 0.8M179.4 324.5l0.3 0.1M128.5 304.7l0.3 0.2M135.3 319.0l-0.3 0.9M148.6 288.0l0.3 -0.1" fill="none" stroke="rgb(55,100,45)" stroke-width="1.3" stroke-opacity="1" stroke-linecap="round"/></g>
</g>
<g clip-path="url(#cp12)">
<rect x="247.3" y="232.2" width="117.59999999999997" height="102.5" fill="#050000"/>
<g filter="url(#bl3)"><ellipse cx="260.8" cy="290.8" rx="15.8" ry="13.5" fill="rgb(170,14,26)" fill-opacity="0.49"/><ellipse cx="278.8" cy="299.8" rx="13.5" ry="11.3" fill="rgb(170,14,26)" fill-opacity="0.42"/><ellipse cx="305.9" cy="284.0" rx="9.0" ry="5.6" fill="rgb(170,14,26)" fill-opacity="0.42"/><ellipse cx="301.4" cy="326.8" rx="15.8" ry="7.9" fill="rgb(170,14,26)" fill-opacity="0.49"/><ellipse cx="332.9" cy="317.8" rx="11.3" ry="11.3" fill="rgb(170,14,26)" fill-opacity="0.42"/><ellipse cx="276.6" cy="275.0" rx="18.0" ry="5.6" fill="rgb(170,14,26)" fill-opacity="0.28"/></g>
<g filter="url(#bl2)"><path d="M251.80,284.00 C253.31,282.69 256.68,277.81 260.81,276.12 C264.94,274.43 271.32,273.87 276.58,273.87 C281.83,273.87 289.72,275.74 292.35,276.12" fill="none" stroke="rgb(220,24,36)" stroke-width="1.76" stroke-opacity="0.50" stroke-linecap="round"/><path d="M272.07,241.21 C272.45,243.09 274.33,248.72 274.33,252.47 C274.33,256.22 272.45,261.85 272.07,263.73" fill="none" stroke="rgb(220,24,36)" stroke-width="1.20" stroke-opacity="0.39" stroke-linecap="round"/><path d="M247.30,250.22 C248.05,251.34 250.30,255.10 251.80,256.97 C253.31,258.85 255.56,260.73 256.31,261.48" fill="none" stroke="rgb(220,24,36)" stroke-width="0.96" stroke-opacity="0.33" stroke-linecap="round"/><path d="M299.10,285.13 C300.60,284.94 305.48,284.56 308.11,284.00 C310.74,283.44 313.74,282.12 314.87,281.75" fill="none" stroke="rgb(220,24,36)" stroke-width="2.00" stroke-opacity="0.55" stroke-linecap="round"/><path d="M319.37,297.52 C319.75,299.39 320.50,304.65 321.62,308.78 C322.75,312.91 325.38,320.04 326.13,322.29" fill="none" stroke="rgb(220,24,36)" stroke-width="1.60" stroke-opacity="0.50" stroke-linecap="round"/><path d="M323.88,299.77 C324.63,299.39 326.88,297.14 328.38,297.52 C329.88,297.89 332.13,301.27 332.89,302.02" fill="none" stroke="rgb(220,24,36)" stroke-width="1.20" stroke-opacity="0.39" stroke-linecap="round"/><path d="M287.84,324.54 C290.09,324.17 296.85,321.91 301.35,322.29 C305.86,322.67 312.62,326.04 314.87,326.79" fill="none" stroke="rgb(220,24,36)" stroke-width="2.00" stroke-opacity="0.55" stroke-linecap="round"/><path d="M265.32,295.26 C266.82,296.01 271.32,298.27 274.33,299.77 C277.33,301.27 281.83,303.52 283.34,304.27" fill="none" stroke="rgb(220,24,36)" stroke-width="2.00" stroke-opacity="0.55" stroke-linecap="round"/><path d="M260.81,290.76 C262.32,291.88 267.19,294.89 269.82,297.52 C272.45,300.14 275.45,305.02 276.58,306.52" fill="none" stroke="rgb(220,24,36)" stroke-width="1.60" stroke-opacity="0.50" stroke-linecap="round"/><path d="M281.08,284.00 C282.59,283.63 287.09,281.56 290.09,281.75 C293.10,281.94 297.60,284.56 299.10,285.13" fill="none" stroke="rgb(220,24,36)" stroke-width="1.20" stroke-opacity="0.39" stroke-linecap="round"/><path d="M328.38,317.79 C329.88,318.54 334.76,320.79 337.39,322.29 C340.02,323.79 343.02,326.04 344.15,326.79" fill="none" stroke="rgb(220,24,36)" stroke-width="1.60" stroke-opacity="0.50" stroke-linecap="round"/><path d="M278.83,254.72 C280.33,255.10 285.59,255.85 287.84,256.97 C290.09,258.10 291.59,260.73 292.35,261.48" fill="none" stroke="rgb(220,24,36)" stroke-width="0.80" stroke-opacity="0.22" stroke-linecap="round"/><path d="M346.40,254.72 C347.53,255.10 350.90,256.97 353.16,256.97 C355.41,256.97 358.79,255.10 359.91,254.72" fill="none" stroke="rgb(220,24,36)" stroke-width="1.04" stroke-opacity="0.28" stroke-linecap="round"/><path d="M247.30,288.51 C248.05,289.63 250.68,292.64 251.80,295.26 C252.93,297.89 253.68,302.77 254.06,304.27" fill="none" stroke="rgb(220,24,36)" stroke-width="2.00" stroke-opacity="0.50" stroke-linecap="round"/><path d="M285.59,306.52 C285.96,308.40 287.47,314.41 287.84,317.79 C288.22,321.16 287.84,325.29 287.84,326.79" fill="none" stroke="rgb(220,24,36)" stroke-width="1.12" stroke-opacity="0.33" stroke-linecap="round"/><path d="M303.61,297.52 C303.98,299.39 305.86,305.02 305.86,308.78 C305.86,312.53 303.98,318.16 303.61,320.04" fill="none" stroke="rgb(220,24,36)" stroke-width="0.96" stroke-opacity="0.28" stroke-linecap="round"/></g>
<g filter="url(#bl1)"><path d="M252.6 283.1l6.5 -5.5M276.6 271.3l13.3 1.2M269.6 275.7l9.8 -2.2M260.5 275.3l11.4 1.3M256.2 277.3l13.8 -1.1M274.0 271.5l11.9 2.5M253.5 280.0l9.3 -7.2M269.6 277.3l5.9 -2.9M275.5 269.9l13.5 3.9M257.8 277.0l10.7 0.8M268.0 271.3l5.6 -0.5M279.0 275.9l5.2 1.0M251.5 287.6l5.4 -5.0M253.7 280.3l6.9 -6.7M286.8 274.9l6.9 1.5M277.1 250.1l-3.5 9.4M277.4 247.1l-5.0 11.1M274.1 238.2l-3.0 12.3M250.7 253.5l8.5 9.6M245.1 248.5l4.8 8.0M251.9 258.0l4.1 5.6M297.0 285.9l14.7 1.5M307.6 286.5l7.4 -5.2M301.1 281.0l14.0 -0.3M298.3 283.4l5.5 1.7M306.8 281.8l11.7 -7.0M323.5 312.3l3.9 9.8M321.4 294.9l-0.6 13.0M322.5 303.9l-0.4 11.4M322.4 302.3l-0.4 10.7M321.8 301.7l0.9 9.5M327.9 297.1l4.4 6.5M326.6 292.3l7.0 6.9M329.1 298.0l3.8 5.7M301.6 324.9l14.4 1.8M303.0 322.4l12.0 5.3M305.7 325.1l10.9 6.5M303.0 323.9l14.0 3.0M287.8 329.9l11.7 -4.8M309.4 321.9l10.0 6.4M264.3 290.4l9.1 9.4M277.2 299.6l7.6 5.2M276.5 302.1l7.9 2.4M267.0 297.5l11.7 6.0M268.0 302.9l5.8 2.8M268.7 297.9l9.2 3.6M262.2 294.2l9.0 5.4M273.9 305.7l5.6 1.0M270.7 298.7l3.6 3.8M266.7 296.2l8.8 5.8M264.7 292.2l7.4 4.2M277.6 286.7l12.8 -7.3M287.8 281.4l8.3 3.0M293.8 284.3l7.0 -1.1M329.1 315.3l4.9 1.3M334.7 322.1l12.8 7.6M279.1 252.2l7.9 5.4M275.6 254.2l10.1 3.2M276.0 252.5l9.5 5.9M287.9 258.0l4.3 2.5M344.7 253.4l11.8 3.1M348.5 257.5l11.3 -1.3M340.7 255.4l14.9 1.0M244.7 286.5l11.2 7.4M248.2 297.6l7.5 10.1M247.2 282.9l5.1 12.8M243.9 285.6l8.3 4.8M250.5 295.9l2.5 5.0M284.1 312.9l0.8 8.9M288.3 314.9l-2.5 11.8M288.7 320.4l-1.5 10.7M285.8 321.7l3.5 6.1M289.3 313.1l-1.3 13.3" fill="none" stroke="rgb(200,18,28)" stroke-width="0.5" stroke-opacity="0.6" stroke-linecap="round"/><path d="M257.3 276.4l12.9 -4.1M248.1 286.1l6.9 -4.8M251.5 281.8l9.6 -8.4M246.7 286.7l11.2 -7.7M281.6 273.0l9.5 -0.3M301.7 287.9l9.6 -1.3M322.3 302.7l1.2 5.2M281.7 324.8l12.0 -2.5M287.7 323.6l6.3 -0.5M263.8 296.6l9.8 2.0M269.8 299.8l12.9 5.8M269.2 296.7l9.7 10.7M257.5 286.7l8.6 8.7M332.7 319.0l4.7 2.3" fill="none" stroke="rgb(250,22,35)" stroke-width="0.5" stroke-opacity="0.6" stroke-linecap="round"/><path d="M283.2 274.1l5.9 1.3M261.8 273.8l5.8 -1.0M264.7 277.3l7.2 -3.3M247.1 283.1l6.0 -5.4M280.9 276.1l12.1 1.2M257.3 276.3l11.2 -0.7M279.8 271.6l10.7 4.9M274.6 277.0l9.5 0.4M272.7 254.0l0.8 7.1M273.9 251.0l-2.0 13.0M249.6 256.3l6.6 5.2M248.7 254.3l4.4 7.2M250.7 255.5l8.3 5.7M246.7 245.2l7.0 11.1M251.1 254.1l4.1 3.2M303.2 281.0l7.2 0.9M298.0 283.0l11.6 -2.0M296.7 285.5l6.8 -2.0M293.6 283.8l14.5 -2.0M320.6 306.8l7.7 12.9M318.8 294.4l3.9 14.1M322.0 315.0l4.5 13.7M318.2 302.2l2.5 7.6M320.2 307.4l-0.4 5.9M318.6 295.0l-0.4 5.4M320.4 300.9l10.9 -3.3M322.0 294.1l11.4 8.1M325.1 292.3l5.7 11.4M292.3 325.1l12.0 -3.7M297.5 323.6l12.3 3.0M303.6 325.6l11.3 4.1M307.4 322.6l12.0 4.6M293.8 325.1l11.6 -1.2M285.3 322.6l10.4 -2.2M272.6 301.7l13.3 3.6M263.6 294.5l11.5 3.4M267.9 297.9l11.0 3.3M264.0 289.9l9.5 11.4M256.0 287.8l10.2 8.3M263.2 294.4l6.9 1.0M284.8 278.6l10.4 6.6M290.2 281.8l12.0 4.1M328.2 316.5l4.8 2.6M325.9 315.5l6.8 5.5M325.7 317.1l10.8 3.9M329.3 319.8l13.2 6.1M353.1 257.9l11.9 -5.4M345.0 252.8l11.7 2.8M348.6 257.4l10.7 -2.1M253.9 294.9l1.9 7.7M252.9 298.2l1.6 10.3M244.5 288.6l6.6 8.9M305.5 314.0l-0.5 6.3M305.5 294.9l-2.1 13.4M305.3 311.9l-1.7 8.2M303.4 314.8l2.8 6.6" fill="none" stroke="rgb(175,15,24)" stroke-width="0.8" stroke-opacity="0.6" stroke-linecap="round"/><path d="M266.7 277.4l11.3 -5.7M277.6 272.6l6.4 3.5M248.3 288.9l8.4 -8.1M260.8 274.2l14.5 0.7M265.3 274.9l13.7 -3.2M248.2 287.6l5.4 -9.3M275.9 274.4l5.3 0.9M257.2 282.0l6.5 -6.1M273.3 239.0l-1.0 12.7M274.1 248.7l3.0 5.0M269.6 237.4l3.7 10.0M251.3 255.6l7.5 11.3M247.7 251.3l1.8 5.9M297.7 287.6l13.2 -3.9M305.1 288.1l12.3 -2.3M300.2 283.3l9.5 -0.6M302.9 285.6l8.7 0.2M323.3 315.0l0.4 5.7M323.0 298.5l1.5 9.1M326.4 296.0l8.0 11.0M326.6 295.5l9.6 10.1M300.1 323.8l13.1 4.0M286.0 324.3l9.6 -1.7M303.4 322.9l9.1 4.4M264.9 292.5l4.1 3.5M271.9 298.4l8.7 9.0M265.1 294.3l6.0 4.2M260.9 291.3l8.5 7.9M261.2 290.3l9.7 4.1M273.1 296.1l5.3 6.8M271.8 300.3l9.3 10.1M269.9 294.7l5.8 6.3M269.7 300.5l6.3 4.8M291.9 283.9l12.9 0.4M331.8 317.8l5.0 3.2M327.2 314.8l7.9 4.0M338.8 321.3l6.7 6.1M344.0 254.3l4.1 2.9M341.0 257.0l12.0 -1.5M344.9 254.4l6.5 2.8M249.4 287.6l3.1 4.3M251.9 290.9l0.3 12.8M242.0 290.9l11.6 6.8M292.0 319.3l-1.7 11.1M283.8 308.7l7.0 9.9M287.0 320.1l1.5 7.3M284.8 305.9l2.1 14.0M305.3 298.0l-1.5 13.5M307.5 309.8l-3.1 12.9M303.2 299.0l2.2 9.4" fill="none" stroke="rgb(150,13,21)" stroke-width="0.8" stroke-opacity="0.6" stroke-linecap="round"/><path d="M275.4 274.2l11.4 -4.3M254.3 282.7l7.3 -9.7M249.7 282.2l4.1 -3.0M271.6 272.2l12.1 3.9M277.8 273.4l14.7 0.8M284.9 273.3l6.5 3.6M254.7 274.6l13.4 -4.1M263.1 273.8l14.6 3.3M276.4 274.0l6.6 0.7M278.7 272.5l10.9 2.2M256.9 275.9l10.3 3.0M282.5 275.6l7.0 -0.4M306.2 280.9l6.9 -3.5M292.1 286.5l14.4 1.0M295.4 286.8l11.6 -2.3M319.1 302.1l3.8 11.5M320.7 297.4l-0.2 6.2M323.3 306.9l3.6 7.9M319.7 309.3l6.4 11.1M325.7 296.6l9.3 3.9M292.7 325.1l7.6 -0.3M295.6 318.7l13.3 1.9M292.7 320.4l12.7 2.5M308.7 324.9l8.2 3.5M291.0 322.3l11.8 -2.3M292.1 325.6l8.0 -5.5M302.4 321.6l8.1 2.7M293.2 324.7l8.4 -1.7M272.4 295.1l7.8 6.0M268.8 295.3l5.5 2.2M264.8 292.1l6.5 4.4M257.7 290.9l11.7 6.1M263.9 293.2l5.8 2.9M262.2 293.5l5.5 4.0M289.2 282.4l13.6 3.5M292.8 280.4l5.3 4.6M278.6 284.3l10.4 -4.1M279.1 284.2l6.2 -0.2M277.0 285.9l10.5 -3.0M327.7 318.7l13.7 5.0M337.9 321.4l9.7 7.7M282.5 253.8l10.9 9.2M243.8 286.3l7.2 9.1M244.1 298.5l6.9 6.2M249.1 289.8l3.5 4.9M251.9 292.6l2.8 13.0M289.1 320.5l-0.8 8.5M303.5 301.3l0.7 5.1M303.7 293.3l1.6 8.0M303.8 312.0l2.2 14.4M306.6 308.8l-3.0 14.5M304.1 299.7l-1.5 6.4M301.6 303.1l2.8 10.4M304.1 295.8l1.3 9.5" fill="none" stroke="rgb(200,18,28)" stroke-width="0.8" stroke-opacity="0.6" stroke-linecap="round"/><path d="M254.4 282.5l9.8 -6.4M280.9 271.8l8.9 2.1M250.6 286.3l3.9 -9.5M259.3 279.5l14.3 -3.3M277.6 246.5l-7.8 11.7M272.6 246.7l1.3 9.8M272.5 241.6l-1.3 7.8M272.1 257.4l-2.5 7.9M305.3 284.0l5.2 -1.1M295.7 285.8l13.0 -0.2M306.4 283.6l12.8 -3.0M311.9 284.4l5.4 -0.4M320.2 294.2l0.6 6.2M318.6 308.4l6.8 11.2M324.2 313.9l5.7 11.9M316.1 298.1l3.2 10.2M285.8 324.1l14.4 -1.1M283.8 328.5l10.9 -4.4M288.1 329.8l11.5 -2.9M292.8 323.3l8.7 -0.7M310.5 325.3l4.9 1.3M282.1 326.6l12.4 0.7M284.3 322.7l8.0 -3.4M307.4 323.0l10.2 2.8M300.1 320.9l9.1 2.4M309.1 325.9l5.5 0.6M268.1 293.5l13.5 5.9M274.1 297.3l8.8 6.4M264.7 292.7l6.9 2.7M277.9 301.9l10.1 1.9M278.3 303.0l6.2 1.1M264.1 293.3l7.4 2.8M262.4 297.3l6.1 0.1M279.0 301.0l7.4 4.5M264.7 294.2l11.6 8.5M270.6 304.1l4.7 5.1M257.3 291.0l7.1 6.2M265.8 297.8l7.9 7.1M267.4 297.4l8.5 7.8M269.7 301.6l8.9 8.3M262.0 298.1l4.5 3.5M257.3 293.5l10.5 3.5M289.5 284.2l7.9 1.6M277.2 285.9l8.3 -1.3M278.2 284.5l10.0 -0.7M325.1 317.5l10.0 7.3M337.1 317.5l6.3 8.5M337.7 323.6l7.5 7.2M327.3 317.8l10.8 9.7M251.7 294.4l3.3 9.4M251.2 287.6l3.7 8.9M244.2 288.9l7.3 8.2M243.3 287.4l9.8 10.8M249.1 286.7l7.0 3.8M251.1 297.8l1.3 5.6M249.1 293.4l3.5 12.8" fill="none" stroke="rgb(225,20,31)" stroke-width="0.5" stroke-opacity="0.6" stroke-linecap="round"/><path d="M276.2 273.9l11.4 0.9M276.9 271.3l8.5 1.9M258.0 275.4l5.0 -2.3M255.2 283.3l6.5 -6.5M284.4 276.0l7.6 -1.5M279.2 277.0l8.3 3.3M259.3 276.1l11.4 -1.4M251.3 285.2l7.3 -8.4M284.4 272.7l7.8 3.2M281.9 271.7l13.2 2.1M251.1 287.4l6.6 -10.8M257.9 276.0l14.2 -1.4M253.9 283.8l5.6 -4.8M250.1 285.3l5.4 -6.9M266.4 272.5l13.7 1.5M272.9 273.3l11.3 3.1M271.3 276.2l12.0 0.2M249.1 285.8l10.2 -8.1M273.2 254.7l-4.6 13.4M272.0 237.7l0.1 7.0M270.2 239.7l2.0 7.6M273.5 246.1l-1.4 9.1M272.5 246.0l2.4 4.7M272.3 250.8l3.3 13.8M275.8 251.1l-2.7 9.2M270.7 237.3l1.7 14.4M246.9 248.6l3.0 4.2M300.0 280.6l11.4 0.1M301.1 281.5l5.1 -1.1M303.1 289.2l5.3 0.4M302.0 282.7l12.6 -3.1M298.6 284.6l12.4 -4.9M302.3 286.9l11.9 -4.7M306.3 284.4l13.6 -3.2M322.5 301.2l-0.3 6.3M319.9 304.4l6.7 7.6M321.9 296.8l2.7 6.2M320.0 309.0l3.8 10.1M324.0 315.7l3.1 9.2M318.7 297.4l4.0 10.3M318.5 294.1l1.9 6.9M326.5 302.0l4.8 -2.3M286.3 324.2l11.3 -1.5M297.1 322.9l6.6 -0.3M304.2 322.6l3.8 3.3M288.4 325.3l5.3 -1.0M278.3 297.9l9.9 4.2M276.2 304.4l6.3 2.3M275.3 301.6l6.1 2.7M264.1 294.1l11.4 6.9M269.4 300.2l5.2 4.0M264.3 298.5l7.7 4.6M259.7 289.1l8.5 5.1M264.6 295.3l5.1 8.3M259.6 288.4l8.6 6.7M291.5 279.8l8.1 5.5M290.1 281.1l10.8 3.0M286.9 281.7l11.4 5.0M288.9 282.5l8.1 1.2M286.5 278.5l7.8 4.9M325.6 313.6l13.3 6.2M340.6 324.8l3.7 5.5M322.6 314.6l11.8 6.0M329.8 319.8l8.8 8.9M276.0 252.6l6.2 1.7M279.6 257.6l13.8 0.5M274.2 253.4l9.4 2.1M344.6 251.4l9.8 7.5M347.3 256.4l5.1 1.5M253.0 294.2l1.1 13.9M249.8 291.0l1.8 5.1M246.2 288.0l10.9 9.8M247.1 291.5l4.7 5.9M248.0 286.0l3.8 11.3M288.8 315.8l0.9 12.0M286.9 307.3l-0.6 10.8M284.1 300.7l2.9 13.7M288.1 321.2l2.7 9.3M285.0 310.2l0.9 11.9M281.7 305.8l6.0 12.4M282.7 304.0l3.0 14.2M305.5 302.1l1.9 8.9M302.6 296.6l4.8 11.9" fill="none" stroke="rgb(150,13,21)" stroke-width="0.5" stroke-opacity="0.6" stroke-linecap="round"/><path d="M258.2 277.0l7.5 -0.6M260.4 274.8l9.2 0.9M284.2 272.2l6.4 2.2M253.9 280.8l4.9 -3.1M246.8 286.5l11.6 -6.4M248.9 286.1l10.7 -8.6M273.7 271.5l6.4 1.1M262.3 274.2l11.3 -0.9M270.0 277.5l7.4 -2.8M275.0 246.5l-6.2 13.1M274.6 248.2l0.1 6.4M270.9 241.7l4.1 7.2M306.0 287.1l13.0 -5.4M304.4 284.2l8.7 -3.0M297.1 284.3l10.1 1.1M307.4 283.7l7.0 -1.7M295.6 286.0l11.0 -2.7M309.8 283.9l9.7 0.7M321.8 317.8l3.2 4.3M322.2 308.2l6.5 11.4M323.5 306.2l5.0 10.9M327.0 314.8l1.7 9.6M321.4 313.6l2.7 11.2M325.6 293.6l5.8 7.7M324.6 302.9l4.1 -4.2M306.4 324.0l6.6 4.2M299.4 323.8l6.8 1.0M306.4 322.9l8.9 6.1M297.4 322.4l11.8 1.0M291.1 322.9l5.9 0.6M292.7 323.0l6.6 -1.7M302.6 322.3l7.7 1.3M306.9 325.2l12.3 1.2M305.9 323.1l12.4 5.1M292.0 324.1l6.6 0.1M297.9 321.4l6.2 4.1M286.1 327.4l8.6 -0.4M297.0 321.8l10.6 1.9M275.3 301.0l6.9 2.5M272.8 300.3l12.8 6.4M278.0 300.1l7.9 4.7M264.9 294.4l8.0 1.1M263.5 293.2l9.0 6.7M268.8 292.0l8.8 8.6M266.0 296.3l6.4 5.9M263.5 292.2l8.7 9.1M285.1 281.7l8.9 2.8M279.3 283.0l5.2 0.2M282.0 285.2l8.5 -3.8M328.6 317.4l4.5 4.3M328.6 318.5l8.1 4.0M279.4 256.1l6.5 0.4M350.8 256.6l10.3 -1.8M253.6 295.2l2.5 11.5M243.4 287.8l7.5 11.4M252.0 295.4l3.0 13.7M251.6 298.6l2.3 9.8M287.2 311.9l-0.8 11.8M286.1 306.9l1.0 9.5M287.8 311.5l1.3 10.2M285.6 308.3l4.1 10.5M288.6 316.4l0.8 10.8M302.4 291.7l1.2 14.1" fill="none" stroke="rgb(175,15,24)" stroke-width="0.5" stroke-opacity="0.6" stroke-linecap="round"/><path d="M263.4 274.1l9.0 -1.6M250.9 283.2l6.9 -5.7M268.0 276.0l6.8 -2.4M264.4 273.3l9.3 0.9M249.8 285.4l6.6 -3.1M256.5 283.6l6.0 -8.2M268.7 242.3l5.4 6.5M272.9 260.0l-2.0 5.3M248.5 250.9l4.4 6.4M303.9 283.6l11.0 -4.7M321.3 303.6l2.2 12.0M325.3 296.4l9.4 5.1M319.5 300.3l9.7 -3.7M327.6 296.9l8.9 8.8M305.5 323.5l8.9 3.5M306.8 322.5l12.3 7.3M299.9 319.7l12.8 7.4M293.7 322.5l6.9 -0.1M289.2 325.6l11.9 -4.1M265.0 295.8l10.8 5.7M273.1 298.4l10.3 5.2M266.6 297.0l11.9 3.7M264.7 293.2l6.4 7.1M266.8 297.2l8.1 5.4M274.1 299.6l8.0 9.0M264.4 291.3l6.1 5.1M274.3 299.5l3.7 7.1M264.3 299.2l6.1 5.6M285.7 278.7l9.3 4.7M282.3 285.3l7.3 -5.9M335.9 320.0l7.5 4.9M334.1 316.1l7.3 6.4M328.9 317.1l7.7 1.9M329.1 320.5l14.0 4.4M283.2 254.3l11.2 6.5M355.0 258.0l8.7 -3.8M253.4 289.7l2.6 11.8M254.0 299.3l1.7 5.4M251.3 298.0l1.8 9.3M250.1 293.1l-0.2 7.3M287.7 308.4l0.4 8.1M285.2 300.6l2.9 13.6M304.0 296.1l2.7 12.9M302.1 293.9l0.6 14.1M303.7 295.8l2.3 13.5" fill="none" stroke="rgb(125,11,17)" stroke-width="0.5" stroke-opacity="0.6" stroke-linecap="round"/><path d="M252.5 279.5l6.0 -5.7M276.2 276.5l12.3 3.8M307.0 284.7l10.2 -3.3M321.1 308.7l4.7 7.5M320.9 311.3l7.0 12.4M315.3 292.5l6.2 12.5M289.5 324.0l4.9 -1.2M306.8 323.1l12.2 6.6M287.0 323.1l5.1 -1.7M298.3 323.4l12.9 3.1M297.0 326.1l5.7 1.3M266.0 296.8l6.6 3.7M263.3 293.9l8.9 2.0M270.4 295.6l13.2 6.8M323.3 314.6l10.8 5.0M333.6 319.3l7.7 5.8M252.4 287.9l3.8 13.5M246.9 290.6l2.6 6.8" fill="none" stroke="rgb(250,22,35)" stroke-width="0.8" stroke-opacity="0.6" stroke-linecap="round"/><path d="M269.1 272.8l6.1 0.2M245.4 285.9l10.3 -6.6M283.6 277.1l6.3 0.8M272.5 272.6l12.1 5.2M264.6 275.4l11.3 -1.3M283.8 274.3l8.8 1.7M271.5 236.0l1.3 12.5M272.8 255.4l0.3 8.5M275.2 241.2l2.4 11.0M271.1 242.5l1.7 8.2M249.0 256.3l7.0 6.0M251.8 257.0l6.5 8.5M298.1 281.9l9.2 -1.4M319.3 304.3l3.5 9.3M318.6 301.0l2.8 5.7M322.5 304.1l-0.7 7.0M316.9 294.0l4.0 7.2M320.0 307.3l2.9 5.3M318.3 297.6l5.2 11.9M318.8 304.6l4.4 6.5M318.8 294.3l0.9 10.8M322.6 317.0l4.7 7.1M330.0 299.6l4.4 3.2M298.5 319.9l9.7 5.5M285.8 323.7l5.6 -1.7M270.5 298.3l7.6 3.4M273.9 300.8l10.3 5.8M278.0 301.4l8.2 1.7M270.1 300.6l11.7 -3.7M261.8 289.6l7.6 10.0M262.3 294.0l7.9 6.3M255.6 293.0l12.6 6.2M262.5 293.8l12.5 6.8M285.9 277.4l10.6 8.5M336.1 319.9l6.2 6.6M335.4 325.5l9.1 4.2M328.0 318.6l7.9 2.1M333.4 318.8l6.3 9.6M337.4 323.6l3.7 6.5M280.2 255.6l13.1 2.8M275.5 251.6l10.6 7.4M350.3 258.6l7.9 -2.8M344.3 254.9l5.3 2.7M347.7 256.5l9.5 -3.1M245.3 287.5l6.6 7.6M285.1 305.3l-0.3 11.3M285.7 301.4l-0.8 10.3M287.1 320.5l2.6 10.5M307.2 308.2l-2.2 7.6M305.6 305.5l0.6 6.5M306.1 312.3l-2.9 7.4M304.4 307.8l1.2 10.1" fill="none" stroke="rgb(125,11,17)" stroke-width="0.8" stroke-opacity="0.6" stroke-linecap="round"/><path d="M275.8 258.4l-2.1 5.3M273.1 245.6l-1.0 13.0M272.5 245.0l2.3 8.9M297.4 284.1l13.1 -1.4M298.5 285.2l9.5 1.5M303.2 285.8l5.9 -2.6M302.0 286.1l8.6 -1.0M320.1 299.9l2.7 9.4M321.4 302.7l4.8 10.8M320.5 297.8l-1.6 14.3M322.0 306.4l3.7 7.6M320.6 305.2l2.1 7.1M289.6 323.2l10.8 -0.7M308.2 324.1l4.8 5.1M283.5 323.1l10.1 -1.8M307.0 318.2l8.4 6.8M281.0 326.6l13.8 -3.9M301.8 322.6l4.9 1.4M274.4 302.3l8.0 5.7M272.8 300.2l12.1 3.4M270.6 296.8l10.5 4.6M263.1 296.7l13.9 5.3M272.8 297.1l2.2 4.8M264.7 290.3l8.3 10.4M262.6 291.0l3.7 3.6M260.7 290.7l4.2 4.8M275.3 286.5l11.6 -4.9M291.8 285.8l12.3 -1.1M328.6 317.9l8.3 4.9M323.6 318.1l7.1 4.2M336.9 321.7l6.5 3.9M332.8 321.8l7.3 3.7M247.7 294.4l7.8 10.3M251.5 296.1l7.4 11.5M243.9 287.6l6.7 9.1M256.3 295.9l1.1 13.2M249.2 290.9l2.1 11.6M247.0 290.8l1.4 7.0" fill="none" stroke="rgb(225,20,31)" stroke-width="0.8" stroke-opacity="0.6" stroke-linecap="round"/><path d="M275.4 246.5l-0.1 7.3M249.8 254.7l7.5 10.0M324.3 295.6l12.2 5.9M284.9 253.4l5.4 7.6M283.8 304.8l2.7 7.9M285.7 313.4l2.5 8.7M306.0 301.3l-4.2 14.1" fill="none" stroke="rgb(100,9,14)" stroke-width="0.5" stroke-opacity="0.6" stroke-linecap="round"/><path d="M274.4 251.8l-0.3 7.7M248.0 254.9l8.8 8.9M253.1 256.1l3.8 7.5M289.1 281.7l5.9 1.5M279.5 253.1l8.6 5.9M275.0 253.5l11.4 4.6M349.7 259.8l11.1 -6.1M345.4 256.0l5.7 -1.2M300.9 298.4l2.8 7.2M306.2 312.2l-3.9 5.3" fill="none" stroke="rgb(100,9,14)" stroke-width="0.8" stroke-opacity="0.6" stroke-linecap="round"/><path d="M248.5 329.2l-1.6 0.3M278.8 253.4l-1.2 0.8M261.0 257.3l0.3 1.5M336.2 281.6l1.5 2.2M347.0 256.4l0.2 1.6M311.8 239.1l-0.8 0.7M313.1 303.6l-1.1 0.1M254.6 289.1l-2.0 1.1M285.1 332.9l0.0 1.2M269.2 320.3l2.7 0.3M323.7 293.5l-0.6 1.6M298.3 248.4l-1.0 0.3M326.2 324.4l0.6 2.4M284.1 311.8l-0.7 2.3M289.4 267.0l-1.9 1.4M348.0 332.9l0.5 2.0M302.7 264.8l-0.5 1.8M317.9 254.1l1.8 1.4M325.4 275.8l-0.4 2.3M336.2 257.0l-1.4 0.8M361.8 320.0l0.8 0.6M318.1 288.8l1.1 1.7M294.6 262.0l0.0 1.0M299.4 258.8l1.4 0.3M274.0 317.9l1.5 0.9M259.0 277.4l0.6 1.6M277.1 299.7l0.9 0.1M350.7 296.4l-0.9 2.1M246.2 302.1l2.4 0.7M351.3 298.8l-1.0 0.4M331.2 330.7l-1.2 0.9M305.2 288.6l-1.8 1.3M312.3 246.9l2.5 1.4M328.7 306.8l-2.8 0.5M319.9 305.1l-0.6 2.9M290.3 264.0l-1.9 1.5M306.0 305.5l-1.4 0.6M352.0 268.4l1.4 0.9M326.1 265.1l-1.6 0.4M274.7 269.6l-0.3 2.3M337.8 312.6l-2.6 1.5M314.0 327.6l-1.3 0.2M329.0 307.9l-0.6 2.0M266.6 310.8l1.3 1.2M316.8 261.5l-1.2 0.6M321.7 319.9l0.8 1.9M286.1 251.8l2.0 1.9M328.8 287.3l-0.9 0.6M329.6 233.9l-0.7 1.1M356.1 232.8l-0.8 1.9M335.2 308.7l1.1 0.8M343.1 315.6l1.5 1.2M253.0 243.7l0.3 2.7M258.6 241.2l-1.1 0.2M256.4 259.1l0.8 0.4M307.3 275.7l0.0 2.4M351.6 261.5l0.4 2.8M254.1 235.8l2.0 0.3M287.5 285.6l1.2 1.8M334.6 243.4l1.2 2.6M278.0 280.5l-1.4 1.4M247.0 293.2l1.1 1.6M361.3 330.2l2.6 1.1M284.9 239.2l-0.5 0.9M340.5 277.2l-0.9 0.9M279.2 272.6l0.8 0.6M274.0 270.6l1.2 0.8M305.4 298.5l0.5 2.4M316.8 302.6l-1.8 0.6M259.8 316.2l0.7 1.7M297.5 233.9l0.1 0.9M359.9 322.5l2.3 0.9M247.6 330.3l1.2 1.0M257.8 311.0l-1.2 2.5M342.9 322.9l-0.9 0.8M359.8 297.8l0.3 1.4M254.8 304.9l-2.5 0.2M278.9 302.8l0.4 2.7M315.8 297.7l-0.9 1.1M258.4 265.3l0.1 1.4M258.0 265.7l2.8 0.2M345.3 280.0l1.6 1.7M345.3 317.6l1.6 0.5M317.3 318.8l-1.1 1.7M342.7 259.8l0.3 2.1M346.0 323.0l-1.5 1.7M346.5 250.2l1.5 0.2M272.5 254.1l-1.5 0.9M315.0 301.1l2.5 0.9M291.1 324.3l-1.5 1.3M345.5 232.8l1.4 1.2M292.7 288.9l-0.6 0.7M265.3 301.6l-2.6 0.5M286.2 313.4l-2.1 0.7M290.0 283.7l-1.7 1.5M249.3 323.2l-1.1 1.8M328.0 311.5l0.1 2.2M247.8 278.1l-0.1 1.3M296.7 328.9l0.1 0.9M305.8 333.3l-2.2 0.6M340.9 242.1l-0.9 1.2M248.7 294.5l-2.6 0.3M331.8 313.9l-0.7 1.6M284.0 314.7l-0.8 1.5M294.5 294.9l0.1 2.9M263.0 249.8l-0.3 1.1M260.9 286.6l-0.1 2.2" fill="none" stroke="rgb(50,4,7)" stroke-width="0.7" stroke-opacity="0.7" stroke-linecap="round"/><path d="M364.1 293.8l-1.4 2.3M362.4 286.1l-1.4 0.3M316.5 315.6l-2.1 0.4M291.2 297.6l1.6 0.3M263.9 286.2l0.4 1.4M261.1 247.2l-1.6 0.5M286.8 322.2l-2.1 0.6M362.6 324.4l-0.4 2.0M301.6 310.9l0.5 2.7M325.5 319.1l-0.6 2.6M352.4 309.8l-1.2 2.0M296.0 249.3l1.1 0.8M253.7 289.2l-1.0 0.9M306.5 279.1l1.3 0.1M335.1 248.9l2.1 0.0M352.2 249.7l0.3 1.9M325.5 270.7l-1.7 0.3M280.1 242.9l1.2 0.3M359.7 315.3l0.9 0.2M248.7 285.1l-0.4 1.2M350.7 266.9l-0.4 1.3M284.0 321.3l-0.1 1.0M273.6 310.8l-1.3 1.0M280.1 297.1l0.5 2.9M343.3 306.9l-0.7 0.9M352.8 250.4l-1.3 0.2M342.4 316.5l2.6 1.1M273.9 239.3l-1.0 2.0M325.5 299.6l2.3 0.1M256.5 246.1l-1.2 1.3M352.0 257.7l1.7 1.2M297.7 329.7l2.4 0.7M267.3 262.2l2.9 0.1M283.7 291.5l2.1 0.7M292.5 263.9l1.0 0.4M350.8 250.0l1.4 0.5M263.7 274.9l1.2 1.3M306.9 249.9l0.0 1.2M270.6 238.4l0.6 2.7M338.3 283.3l1.4 0.6M270.7 261.6l-1.5 0.2M338.5 302.7l1.2 1.8M255.1 259.9l0.3 0.9M292.1 247.4l-1.8 1.9M247.9 317.0l2.1 1.2M248.6 263.7l1.8 1.3M247.5 244.6l0.2 0.9M344.1 241.3l0.8 1.6M264.7 265.1l1.6 1.0M289.2 264.7l-2.7 1.0M268.3 291.6l-1.6 2.4M274.0 263.4l-0.1 1.0M254.5 261.5l-0.2 1.2M307.6 270.2l-2.5 0.9M282.1 244.9l-0.7 2.8M358.0 321.2l-1.2 2.2M278.2 301.0l-0.0 0.9M339.0 240.0l-1.8 1.1M311.8 298.2l0.5 1.5M261.8 318.7l0.8 0.9M312.0 301.4l-0.1 1.1M340.5 283.6l0.3 1.9M355.3 246.8l-1.3 1.8M249.7 249.9l-1.4 1.8M285.0 258.4l-2.4 1.5M349.7 304.0l-0.5 1.3M353.8 239.0l0.9 2.3M260.2 299.5l-0.5 2.7M249.8 235.3l1.4 0.5M260.6 281.7l-2.9 0.3M351.7 260.7l-0.4 1.6M252.6 283.5l-1.0 0.5M261.5 262.1l-0.5 1.0M252.9 241.6l1.3 1.9M325.9 254.1l2.7 1.0M348.0 326.9l-0.8 1.3M348.7 284.9l1.4 0.6M279.4 268.3l-1.7 0.8M247.8 285.1l1.8 0.9M327.8 245.2l2.6 0.6M273.5 279.3l1.6 0.1M336.0 285.1l-1.5 0.2M281.6 242.3l-2.9 0.1M256.2 310.3l-0.9 1.9M278.9 309.3l1.0 0.3M351.0 252.1l-0.6 2.9M306.7 274.9l1.9 0.0M352.8 232.9l2.3 0.0M277.2 317.5l0.2 2.6M349.1 242.7l1.4 1.0M362.5 300.0l1.2 0.5M301.7 273.4l0.2 2.4M326.7 282.4l-0.9 0.8M289.4 301.5l-0.8 0.9M348.2 321.3l2.4 1.4M354.4 331.3l-0.6 1.7M284.9 330.1l0.5 2.5M297.4 267.1l-0.9 0.6M256.8 286.8l1.1 0.1M287.2 311.6l-1.7 0.3M324.5 240.6l-0.9 2.0M334.9 281.1l-1.3 0.7M351.3 256.0l0.5 0.8M257.4 242.3l-0.1 2.9M257.2 272.3l-0.5 2.7M261.5 254.9l0.1 1.0M364.1 283.7l-1.1 1.0M296.7 245.8l-2.0 1.1M258.7 287.2l1.9 1.3M248.4 249.6l-0.7 2.3M297.5 283.1l-2.8 1.1M289.0 306.2l-2.7 0.4M279.2 332.7l2.6 1.4M280.5 323.9l1.1 0.4M268.8 253.0l-2.3 1.8M255.6 251.7l1.0 0.7M273.0 301.9l1.9 0.8M347.4 282.0l0.6 2.3M271.1 295.0l1.3 0.2M255.8 242.4l0.9 1.1M306.5 274.7l1.9 1.1M365.8 233.4l-1.9 0.7M352.3 330.0l-1.9 1.8M313.4 317.9l1.9 2.0M325.4 254.0l0.2 1.0M273.5 244.4l-2.5 1.4M259.5 302.9l2.3 1.9M328.9 247.2l1.7 1.5M308.0 322.7l1.3 1.2M301.1 283.6l1.1 0.8M310.7 332.7l-0.0 1.1M345.8 233.4l0.5 0.8M305.9 240.2l2.6 1.1M272.4 318.3l-2.1 1.0M360.7 297.7l-1.0 0.3M284.8 312.2l2.2 1.5M328.9 331.9l0.6 2.4M331.1 331.5l-2.1 1.5M247.5 305.6l0.1 1.2M340.1 274.0l2.5 0.4M272.1 311.4l0.3 1.1M298.9 305.5l0.1 1.9M260.6 246.5l0.9 0.3M272.6 305.7l-0.9 0.4M320.9 278.6l-2.1 0.3M330.3 255.8l-1.8 2.3M343.0 273.7l1.3 0.1M309.9 250.4l2.1 0.3M251.9 287.2l1.9 0.9M267.8 326.8l-1.3 0.2M250.7 282.6l0.8 0.7M306.6 282.9l-0.7 0.5M348.2 233.8l1.9 1.2M252.9 317.7l0.5 1.6M312.2 254.6l1.3 0.6M336.7 333.1l-1.0 2.2M347.5 314.9l2.5 0.9M352.1 233.8l0.1 2.1M322.0 329.9l0.8 1.8M253.9 276.8l-1.1 1.0M300.9 255.1l-0.9 1.1M313.4 237.0l1.8 2.2M313.5 233.2l-0.6 2.9M252.7 249.3l1.0 0.2M334.3 264.9l2.9 0.3M331.0 247.6l-1.1 2.6M268.3 274.0l-1.7 2.0M261.7 245.2l0.9 1.6M332.3 244.0l-2.6 1.2M248.2 313.0l-1.6 0.0M331.9 312.0l-0.1 0.9M332.9 248.5l1.5 1.3M319.4 265.0l-1.2 1.4M359.4 306.6l-0.5 1.4M290.5 250.5l-1.7 0.3M292.7 279.0l1.0 1.6M276.9 323.5l1.0 1.4M304.0 267.8l-1.8 1.0M313.7 333.3l-1.0 0.6M302.2 274.5l0.8 1.1M347.8 246.8l-0.9 0.9M314.7 305.0l1.6 2.3M267.5 273.8l-1.6 0.6M314.2 259.5l-0.9 1.9M290.1 296.1l1.1 0.7M297.2 282.1l-1.2 1.8M348.4 236.6l-0.1 0.9M273.1 235.7l1.0 2.4M329.4 307.1l-1.1 1.8M294.0 297.2l0.9 0.1M278.9 285.8l-0.8 1.9M327.3 259.0l1.8 0.1M301.2 254.5l1.9 0.6M269.8 258.8l-0.8 0.6M344.7 318.5l-0.2 2.4" fill="none" stroke="rgb(75,6,10)" stroke-width="0.7" stroke-opacity="0.7" stroke-linecap="round"/><path d="M331.4 266.3l-0.5 2.1M299.9 267.7l2.9 0.6M286.8 234.8l-0.6 0.7M259.9 250.3l1.3 0.3M356.3 290.2l-1.1 0.9M264.9 293.1l-1.9 0.3M339.9 308.8l0.6 0.6M295.4 232.0l0.9 0.5M315.6 244.0l1.5 0.2M279.8 236.4l0.6 0.9M306.9 302.0l1.1 0.7M290.6 281.1l2.5 0.9M271.6 318.7l2.6 0.4M360.4 308.2l-0.9 1.7M253.3 306.0l-1.9 1.7M259.0 286.2l2.2 1.2M349.9 326.8l-0.3 2.2M312.4 281.2l0.3 2.9M354.3 331.5l-0.9 0.6M285.6 309.4l-0.1 0.9M341.9 332.1l-0.8 2.8M271.7 291.8l0.4 0.8M346.9 307.3l-2.1 0.7M325.7 304.2l-0.0 2.5M339.6 313.7l1.6 0.4M262.5 322.4l-1.9 0.2M319.6 258.5l-1.5 1.6M300.4 308.6l0.9 0.5M298.7 307.2l1.4 1.0M252.1 271.1l2.6 0.3M278.8 271.8l-2.5 1.5M347.3 323.2l-0.6 1.2M354.0 331.7l1.3 1.5M289.2 291.6l1.8 1.8M346.6 283.4l-1.5 0.6M259.1 315.3l-2.7 0.7M343.8 297.7l1.6 1.7M255.7 295.0l0.4 0.8M327.5 253.3l2.2 0.9M309.3 305.4l1.6 0.2M316.9 323.1l0.9 1.9M309.9 313.4l0.8 2.1M285.2 319.2l-2.6 0.1M277.1 276.3l2.4 1.4M290.4 246.0l-1.4 0.8M361.6 308.9l0.6 0.9M251.6 274.7l0.5 0.6M302.2 236.5l2.5 0.2M329.7 287.2l-0.3 2.0M355.4 282.0l-1.8 0.8M285.6 321.8l-2.0 1.5M358.6 272.9l3.0 0.1M352.0 263.7l0.6 2.8M364.4 324.1l-1.3 0.6M285.7 265.5l1.1 0.7M302.0 268.6l-1.2 0.7M285.3 320.6l1.3 1.2M250.3 243.1l-1.1 1.9M306.5 272.1l-0.8 0.9M324.5 284.2l1.1 1.9M281.5 243.2l-1.1 0.9M255.8 241.2l-1.9 0.7M323.7 265.6l0.7 1.9M301.0 302.9l1.1 1.2M338.1 331.1l-1.3 1.3M351.6 278.4l0.1 0.9M273.9 276.9l-2.4 1.5M306.4 246.1l-0.9 2.7M265.1 285.0l-0.5 2.0M282.8 332.5l0.6 1.0M276.0 279.6l2.7 0.5M283.4 321.9l-2.2 1.2M272.3 289.0l-0.8 2.3M339.2 264.5l1.7 0.9M272.4 233.8l-0.4 2.6M278.4 322.8l-1.1 0.4M311.5 244.3l-1.3 1.6M325.9 331.8l-0.3 1.7M291.0 282.8l1.3 2.1M339.1 280.2l-2.1 1.3M337.9 274.8l1.5 1.2M340.0 258.8l-0.5 0.6M357.4 318.5l-0.9 0.9M314.0 251.3l0.4 1.2M317.2 239.5l2.1 0.9M314.0 262.8l-1.8 1.7M351.8 317.7l1.8 0.6M250.6 272.9l1.6 1.8M257.2 332.3l-0.2 1.3M260.1 248.0l2.7 0.9M345.6 243.1l-1.4 0.6M292.2 276.7l-1.9 0.5M359.0 263.8l-0.9 0.1M264.9 241.7l0.6 1.9M324.8 326.9l1.7 1.6M313.7 325.0l-0.9 2.6M298.9 256.6l-1.4 1.9M272.1 316.0l-0.7 1.4M269.1 292.2l-1.8 0.8M282.8 314.5l1.8 0.4M332.4 247.4l-0.1 2.7M315.7 249.4l0.7 2.3M295.7 269.5l-2.6 0.6M309.1 319.7l1.7 1.2M352.4 306.6l-0.9 0.4M311.6 307.2l-0.8 2.4M315.2 243.0l-0.9 1.9M362.6 244.3l0.6 1.3M291.6 271.3l-1.0 0.3M252.2 310.0l-0.3 2.7M318.5 253.4l1.1 0.5M307.5 330.2l0.9 1.2M325.4 327.0l-1.0 1.7M310.8 253.6l-0.9 1.1M314.0 233.2l-1.3 1.1M291.5 315.1l-1.5 0.3M282.7 329.9l-1.4 1.3M316.9 266.2l2.4 1.6M300.5 296.9l0.3 1.7M255.7 288.6l-2.5 1.4M302.8 324.0l1.4 2.5M254.6 274.7l-1.5 0.7M363.3 288.7l0.6 0.9M266.8 252.7l0.6 2.1M303.0 278.0l2.5 0.7M301.1 323.1l-0.8 2.5M262.6 287.6l-0.8 0.9M345.3 310.0l-0.8 1.4M351.3 234.0l1.0 1.2M323.2 266.1l0.5 0.8M321.5 264.0l-2.3 0.9M250.2 332.4l-0.2 1.2M268.8 322.8l1.2 0.0M349.9 296.9l-1.3 0.7M273.9 257.6l-2.0 0.2M316.7 281.1l-0.5 1.0M321.3 302.0l-1.3 1.4M264.5 272.7l-1.3 0.9M313.0 268.3l1.7 0.4M258.6 268.0l-1.1 0.0M349.4 241.7l-1.6 1.7M359.7 232.1l-1.3 0.4M294.3 286.2l-0.4 2.7M284.9 298.9l-1.6 1.4M352.8 284.5l1.0 0.7M299.3 254.4l1.7 1.5M294.5 259.2l-2.5 0.3M311.7 333.0l-0.3 2.3M299.0 241.4l-1.2 0.3M299.3 306.6l-0.5 1.0M264.9 269.2l2.6 0.1M340.9 317.0l0.4 1.0M337.5 256.9l0.7 2.7M266.0 333.1l0.7 2.9M324.3 233.3l1.4 0.5M256.8 305.9l-0.3 1.4M267.7 313.5l0.3 2.0M331.4 326.7l-1.5 2.5M343.4 325.7l1.5 0.5M283.5 268.3l1.5 1.6M309.5 272.4l1.9 0.5M328.4 325.2l-1.7 0.4M294.2 325.5l-1.0 2.7M334.3 272.0l2.3 1.3M259.9 251.5l-0.1 1.2M327.4 315.5l-2.2 2.0M364.2 300.7l0.7 1.6M305.2 301.0l-0.1 2.5M282.6 306.9l-1.8 0.0M293.4 299.0l1.0 2.6M266.8 247.3l-1.0 0.6" fill="none" stroke="rgb(125,11,17)" stroke-width="0.7" stroke-opacity="0.7" stroke-linecap="round"/><path d="M351.8 309.5l2.6 0.4M309.2 294.9l0.8 0.4M307.9 252.5l-0.6 0.7M306.7 264.1l-0.5 1.4M328.3 295.1l-1.2 1.5M299.8 251.6l-0.9 2.6M320.4 239.7l0.9 2.8M325.7 283.0l1.0 0.1M365.1 322.3l-1.2 0.9M304.7 305.0l-0.2 1.1M299.8 308.9l-0.7 1.0M260.0 298.3l0.4 1.2M314.2 312.7l-2.7 0.1M287.6 300.9l2.8 0.3M317.1 268.4l-1.0 1.8M304.6 244.8l-1.4 0.3M254.0 328.4l0.3 0.8M310.1 311.7l1.6 0.4M251.9 254.5l0.7 0.5M344.2 247.4l1.5 2.5M348.8 255.0l-1.1 1.4M276.0 232.2l1.3 1.6M250.0 262.2l-0.6 2.8M317.6 301.6l1.9 1.9M296.3 299.1l-0.4 1.3M284.9 243.0l1.2 0.2M270.6 272.2l-0.5 2.9M341.1 272.6l1.7 2.0M267.6 332.9l1.0 1.4M314.4 250.3l0.2 1.3M256.6 284.2l-1.2 0.4M313.0 269.0l-0.3 2.2M276.2 246.7l2.7 0.5M338.8 333.3l-0.5 1.0M295.0 254.0l-0.6 1.0M265.5 286.1l0.8 0.2M263.3 315.2l0.2 2.4M262.4 304.3l-0.6 0.9M329.9 264.1l-1.2 0.6M280.0 265.7l-0.3 1.6M347.8 293.5l1.9 0.2M263.4 323.6l-2.3 0.3M261.8 291.6l1.9 0.6M361.9 290.2l1.7 1.5M251.0 261.9l1.6 0.8M293.5 254.0l2.4 0.3M358.3 294.9l-2.0 1.3M257.3 294.8l0.9 0.3M274.3 294.6l0.3 1.6M331.1 235.5l-0.3 0.9M357.8 279.4l-1.3 0.5M276.3 316.2l2.0 1.9M251.8 283.5l-1.0 0.4M287.3 259.2l-1.9 0.3M317.6 271.4l-1.3 1.6M322.1 302.7l-1.1 0.7M297.8 309.6l0.1 1.6M317.8 305.6l-1.6 0.5M292.7 300.1l-1.5 0.7M347.9 249.7l0.6 2.5M311.5 272.2l-2.6 0.2M324.9 233.1l-0.8 1.5M259.9 255.3l-2.8 0.7M280.6 281.5l1.2 1.7M305.8 300.8l-1.0 2.0M295.1 295.3l0.2 0.9M330.5 235.2l1.3 1.0M301.9 322.8l-1.2 1.2M279.3 247.2l0.2 2.4M248.5 313.8l-1.6 0.4M276.0 292.9l2.7 0.8M320.6 242.8l1.4 0.2M287.6 244.1l1.1 1.4M271.1 281.9l1.5 1.7M265.0 240.1l1.7 0.3M289.4 314.8l-0.4 2.3M250.2 259.7l-1.9 0.4M310.9 295.0l-0.9 0.5M268.4 308.0l2.0 1.5M315.0 288.9l1.2 0.2M324.0 276.2l-0.9 1.5M291.5 304.2l-1.2 0.1M361.8 288.9l0.0 2.0M294.1 257.8l2.4 1.5M294.2 250.5l-1.0 2.7M358.1 328.3l1.1 0.6M315.3 328.7l2.0 0.4M345.4 299.8l1.0 2.6M282.9 315.3l-0.8 0.5M276.2 295.7l0.1 2.5M254.7 283.7l2.2 1.4M267.3 241.4l1.0 0.8M268.5 275.9l0.4 1.0M265.5 321.5l-0.3 0.8M288.3 257.2l-0.4 1.7M301.9 322.0l2.1 0.2M295.5 332.8l1.1 1.4M336.1 240.1l2.5 0.5M310.6 290.9l0.9 0.2M292.8 267.0l0.2 1.3M293.3 332.1l-0.8 0.8M293.6 312.4l-2.0 1.4M360.2 329.4l0.3 2.9" fill="none" stroke="rgb(150,13,21)" stroke-width="0.7" stroke-opacity="0.7" stroke-linecap="round"/><path d="M274.7 237.7l0.7 1.0M251.9 309.4l-0.6 1.6M335.0 248.2l0.0 1.8M345.3 258.7l-2.0 1.5M351.4 287.2l0.8 0.9M341.5 291.3l-1.3 0.8M307.6 294.2l-1.7 2.0M285.2 264.5l1.3 0.1M331.3 295.3l-0.5 0.9M269.2 316.3l-1.4 0.1M345.3 297.3l0.6 1.8M254.4 311.7l-2.6 0.7M353.3 242.8l-0.7 1.1M346.0 284.0l1.2 0.4M319.4 311.0l0.3 0.8M263.0 249.9l-1.6 0.9M343.4 256.5l-2.8 0.4M259.9 250.9l-2.6 0.9M274.6 255.2l-1.6 0.8M261.5 317.4l2.8 0.1M291.4 286.9l1.1 1.5M323.3 260.6l1.1 1.6M361.5 238.6l1.2 0.9M314.1 280.6l1.3 1.5M338.9 320.1l-0.6 1.2M288.1 238.7l-2.3 0.6M316.6 252.9l-1.5 0.3M286.7 236.6l1.6 0.3M252.4 233.9l-1.3 2.3M266.1 323.0l1.4 2.1M322.8 289.1l1.1 1.8M324.0 311.3l-1.0 2.1M285.6 244.7l-1.2 1.6M261.9 296.1l2.4 1.5M351.0 332.2l-1.3 1.7M249.6 233.8l0.7 1.5M357.3 303.6l0.7 1.2M363.9 249.6l-0.8 0.6M315.6 305.9l0.6 0.9M264.8 260.9l-1.3 2.0M344.5 308.1l-0.6 0.6M306.2 324.7l-0.8 0.8M287.4 231.8l-0.1 1.5M334.7 274.2l0.9 2.7M262.6 299.5l0.4 0.7M354.4 261.1l0.4 1.3M333.8 282.5l-1.2 2.7M304.8 301.3l2.0 1.1M330.7 273.5l0.2 0.8M324.8 269.3l0.9 0.8M339.5 293.6l-0.1 0.8M304.3 283.9l0.3 1.2M341.0 289.0l1.7 0.3M301.4 285.6l0.4 1.5M255.9 260.5l1.3 0.4M309.7 300.0l-2.2 1.3M319.4 245.7l-0.8 1.1M334.7 252.6l-2.5 1.1M258.3 262.4l-1.0 0.9M260.6 318.5l-1.7 0.4M350.7 284.2l1.6 0.7M364.1 234.3l0.4 2.3M253.1 280.9l1.3 0.9M335.7 325.0l-0.8 2.5M310.5 245.5l1.4 2.6M303.5 313.7l0.9 2.3M262.7 294.8l-1.0 0.7M271.5 275.8l-0.8 0.3M261.2 314.4l1.3 2.1M275.7 242.3l0.3 1.3M343.6 299.2l1.9 1.9M267.6 278.6l-0.1 1.0M316.7 293.5l1.6 2.6M299.6 282.1l-0.8 1.3M263.0 285.7l0.5 1.3M364.1 260.4l0.7 1.0M320.2 240.9l-1.9 0.8M326.2 300.8l-2.1 1.2M323.0 313.3l-0.2 2.1M362.2 272.3l-1.5 0.9M311.3 258.5l-1.6 2.1M279.6 248.7l-0.8 0.2M266.9 279.1l2.9 0.5M252.0 292.4l1.6 0.4M282.3 239.1l2.9 0.5M268.0 267.7l-0.6 1.6M340.1 247.2l-1.0 0.4M310.5 290.3l1.6 0.9M292.3 232.4l-2.3 1.0M343.6 281.6l2.8 0.1M336.2 286.4l-2.5 1.7M295.1 278.1l0.9 0.2M343.6 243.5l-1.6 1.1M253.0 308.7l0.8 1.3M279.4 279.3l-2.1 0.2M247.9 238.6l-0.9 2.7M311.8 317.0l0.5 0.7M319.0 299.2l2.1 0.5M351.9 294.4l0.2 2.7M257.6 307.1l-2.5 0.6M342.5 299.6l-0.8 1.2M303.7 305.9l1.9 1.7M259.4 241.3l1.8 0.7M357.9 279.9l-0.4 2.2M247.6 306.3l2.4 0.6M332.2 332.4l1.8 0.3M332.4 270.0l1.4 1.0M339.5 275.9l2.4 1.5M325.3 275.7l1.1 0.2M321.7 268.1l1.8 1.6M333.9 299.3l2.4 0.8M323.0 262.1l2.0 0.7M310.8 242.3l-1.8 0.2M311.6 279.5l0.1 1.3M254.4 259.3l-1.3 0.3M262.4 311.6l1.8 0.0M327.4 263.0l0.3 3.0M315.7 276.0l-1.8 0.2M323.4 294.3l-1.8 0.0M294.3 333.0l0.4 2.3M247.9 303.2l0.6 1.1M334.3 300.4l-0.9 0.0M280.8 275.5l-0.1 3.0M349.5 310.5l-2.2 0.8M307.7 243.7l0.3 2.6M335.9 275.0l0.7 2.2M275.8 252.1l-1.8 0.1M283.2 254.8l-0.4 2.9M328.5 297.6l1.2 1.2M346.5 265.3l-1.6 1.4M303.5 285.8l-1.5 0.6M294.7 258.3l0.9 0.6M362.3 240.5l-0.7 2.7M247.8 330.4l2.9 0.6M334.0 324.6l-2.0 0.6M316.2 269.9l-2.4 1.0M323.3 289.3l2.0 0.6M282.9 330.0l0.4 1.7M346.3 321.3l-1.9 0.3M317.1 329.2l-2.5 0.4M349.7 246.8l0.9 0.4M355.9 258.9l1.2 0.9M275.0 322.1l-0.7 0.8M269.3 280.5l0.6 1.1M314.5 253.8l0.7 1.7M259.1 324.0l1.1 0.7M248.7 235.8l0.2 0.8M353.7 302.7l-0.8 2.2M302.7 242.2l0.2 2.1M284.8 283.9l0.2 2.6M329.6 298.0l-1.2 1.2M362.3 261.5l0.6 0.7M273.5 320.7l-2.0 0.6M352.7 291.4l2.2 1.0M342.9 289.3l1.6 2.4M335.6 250.9l1.2 1.5M257.1 323.4l-1.1 1.6M261.2 286.3l1.3 0.6M316.2 238.1l-0.6 0.7M355.7 288.5l-1.6 1.0M359.0 274.6l-0.8 0.0M304.6 250.9l-1.6 0.7M321.1 301.1l1.5 0.2M297.0 324.8l1.1 0.3M288.0 277.3l-0.5 1.6M339.5 245.8l1.4 0.6M270.9 286.5l1.6 0.2M338.7 325.1l-1.2 1.1M277.3 243.3l-0.6 0.6M312.5 323.2l2.4 1.2M309.6 312.5l-1.5 1.1M269.8 294.8l-1.6 0.6M361.0 242.0l-1.7 0.7M299.8 262.9l1.2 1.2" fill="none" stroke="rgb(100,9,14)" stroke-width="0.7" stroke-opacity="0.7" stroke-linecap="round"/></g>
<g filter="url(#bl2)" opacity="0.88"><ellipse cx="264.2" cy="249.3" rx="9.4" ry="9.9" fill="url(#nucg2)"/><ellipse cx="302.0" cy="267.8" rx="11.6" ry="8.2" fill="url(#nucg2)"/><ellipse cx="349.1" cy="246.6" rx="11.6" ry="7.7" fill="url(#nucg2)"/><ellipse cx="333.6" cy="282.5" rx="11.0" ry="8.2" fill="url(#nucg2)"/><ellipse cx="287.7" cy="288.0" rx="12.1" ry="7.5" fill="url(#nucg2)"/><ellipse cx="267.6" cy="299.4" rx="11.0" ry="8.8" fill="url(#nucg2)"/><ellipse cx="295.1" cy="304.0" rx="9.4" ry="11.3" fill="url(#nucg2)"/><ellipse cx="338.2" cy="312.1" rx="8.2" ry="11.0" fill="url(#nucg2)"/><ellipse cx="268.7" cy="324.7" rx="12.1" ry="7.7" fill="url(#nucg2)"/><ellipse cx="302.0" cy="331.5" rx="11.0" ry="4.4" fill="url(#nucg2)"/><ellipse cx="324.4" cy="330.5" rx="8.8" ry="4.4" fill="url(#nucg2)"/><ellipse cx="247.8" cy="299.4" rx="2.2" ry="5.5" fill="url(#nucg2)"/><path d="M263.2 250.2h.01M267.5 248.4h.01M301.2 268.9h.01M303.2 266.0h.01M303.6 262.8h.01M298.1 265.3h.01M342.2 247.2h.01M346.3 244.6h.01M288.3 288.1h.01M287.6 289.4h.01M286.6 292.5h.01M281.8 287.7h.01M284.1 286.3h.01M265.8 304.6h.01M265.9 293.9h.01M265.6 297.5h.01M296.9 307.9h.01M300.4 308.7h.01M294.8 297.3h.01M340.2 309.5h.01M261.4 327.7h.01M270.4 327.3h.01" stroke="#101088" stroke-width="1.8" stroke-linecap="round" stroke-opacity="0.6"/><path d="M267.6 251.9h.01M301.6 270.4h.01M296.4 265.8h.01M301.4 271.5h.01M326.3 283.2h.01M337.1 281.3h.01M336.0 281.4h.01M333.5 281.1h.01M266.2 305.7h.01M273.2 303.9h.01M294.4 296.6h.01M297.4 303.6h.01M288.8 300.9h.01M338.1 316.5h.01M343.5 310.1h.01M264.4 323.2h.01M326.3 332.3h.01" stroke="#2828c0" stroke-width="1.8" stroke-linecap="round" stroke-opacity="0.6"/><path d="M267.5 252.0h.01M263.5 250.3h.01M261.5 249.9h.01M264.4 254.0h.01M264.7 252.3h.01M299.1 270.1h.01M350.8 246.3h.01M345.0 246.3h.01M354.8 244.1h.01M353.3 247.2h.01M355.1 243.4h.01M331.5 279.8h.01M263.9 302.5h.01M265.4 301.3h.01M275.5 300.1h.01M301.8 303.7h.01M293.3 296.6h.01M299.8 300.2h.01M337.6 313.4h.01M339.4 306.4h.01M340.0 317.0h.01M340.0 319.5h.01M267.3 324.1h.01M268.0 324.5h.01M298.0 333.0h.01" stroke="#2424b8" stroke-width="1.8" stroke-linecap="round" stroke-opacity="0.6"/><path d="M267.8 252.8h.01M296.8 270.6h.01M354.2 243.0h.01M349.7 242.3h.01M350.5 245.4h.01M327.1 281.4h.01M328.7 279.2h.01M337.8 284.7h.01M331.3 283.4h.01M290.0 292.7h.01M285.5 291.6h.01M282.5 290.6h.01M272.8 302.5h.01M273.6 300.6h.01M292.8 306.6h.01M299.9 305.4h.01M296.2 304.3h.01M333.6 309.7h.01M332.5 312.3h.01M265.9 327.5h.01M268.9 325.2h.01M264.0 320.1h.01M295.4 333.0h.01M300.1 332.8h.01M304.9 330.6h.01M298.6 330.7h.01M296.6 333.1h.01M327.7 328.5h.01M329.8 330.1h.01" stroke="#1c1ca8" stroke-width="1.8" stroke-linecap="round" stroke-opacity="0.6"/><path d="M262.5 248.0h.01M265.9 252.1h.01M298.6 267.3h.01M308.3 264.6h.01M349.2 241.0h.01M329.8 283.1h.01M328.2 280.4h.01M286.9 287.9h.01M290.7 290.7h.01M280.0 286.2h.01M271.4 302.5h.01M264.4 300.5h.01M299.7 300.4h.01M334.7 310.8h.01M336.0 312.0h.01M261.4 326.4h.01M273.5 328.8h.01M274.0 328.0h.01M327.0 332.8h.01M248.1 298.4h.01" stroke="#0c0c70" stroke-width="1.8" stroke-linecap="round" stroke-opacity="0.6"/></g>
</g>
<rect x="217.7" y="114.2" width="18.8" height="2.4" fill="#fff"/>
<text transform="translate(0.59,21.90) scale(1.0072,1)" font-size="26.30" fill="#000" stroke="#000" stroke-width="0" font-weight="bold">A</text>
<text transform="translate(148.35,14.70) scale(1.1093,1)" font-size="13.66" fill="#000" stroke="#000" stroke-width="0.1"><tspan fill="#5c9e58" stroke="#5c9e58">ZO-1</tspan><tspan fill="#23235e" stroke="#23235e">/</tspan><tspan fill="#2a2aac" stroke="#2a2aac">nuclei</tspan></text>
<text transform="translate(258.43,14.60) scale(1.1068,1)" font-size="13.24" fill="#000" stroke="#000" stroke-width="0.1"><tspan fill="#c42a3c" stroke="#c42a3c">F-actin</tspan><tspan fill="#262630" stroke="#262630">/</tspan><tspan fill="#2a2aac" stroke="#2a2aac">nuclei</tspan></text>
<text transform="translate(58.31,70.40) scale(1.0789,1)" font-size="13.79" fill="#000" stroke="#000" stroke-width="0.1">Normoxia</text>
<text transform="translate(86.61,161.15) scale(1.0553,1)" font-size="14.51" fill="#000" stroke="#000" stroke-width="0.1">OGD</text>
<text transform="translate(89.12,179.20) scale(1.0820,1)" font-size="14.00" fill="#000" stroke="#000" stroke-width="0.1">- PS</text>
<text transform="translate(87.22,262.96) scale(1.0569,1)" font-size="14.23" fill="#000" stroke="#000" stroke-width="0.1">OGD</text>
<text transform="translate(87.44,281.00) scale(1.0774,1)" font-size="14.14" fill="#000" stroke="#000" stroke-width="0.1">+ PS</text>
<text transform="translate(0.66,382.30) scale(0.9842,1)" font-size="25.65" fill="#000" stroke="#000" stroke-width="0" font-weight="bold">B</text>
<line x1="57.50" y1="394.80" x2="57.50" y2="527.30" stroke="#111" stroke-width="1.3"/>
<line x1="55.00" y1="526.75" x2="227.00" y2="526.75" stroke="#111" stroke-width="1.5"/>
<line x1="55.20" y1="395.30" x2="57.50" y2="395.30" stroke="#111" stroke-width="1.1"/>
<text transform="translate(28.01,400.16) scale(1.0143,1)" font-size="14.08" fill="#000" stroke="#000" stroke-width="0.1">300</text>
<line x1="55.20" y1="428.10" x2="57.50" y2="428.10" stroke="#111" stroke-width="1.1"/>
<text transform="translate(28.01,432.96) scale(1.0143,1)" font-size="14.08" fill="#000" stroke="#000" stroke-width="0.1">250</text>
<line x1="55.20" y1="460.90" x2="57.50" y2="460.90" stroke="#111" stroke-width="1.1"/>
<text transform="translate(28.01,465.76) scale(1.0143,1)" font-size="14.08" fill="#000" stroke="#000" stroke-width="0.1">200</text>
<line x1="55.20" y1="493.70" x2="57.50" y2="493.70" stroke="#111" stroke-width="1.1"/>
<text transform="translate(28.01,498.56) scale(1.0143,1)" font-size="14.08" fill="#000" stroke="#000" stroke-width="0.1">150</text>
<line x1="55.20" y1="526.50" x2="57.50" y2="526.50" stroke="#111" stroke-width="1.1"/>
<text transform="translate(28.01,531.36) scale(1.0143,1)" font-size="14.08" fill="#000" stroke="#000" stroke-width="0.1">100</text>
<line x1="73.75" y1="526.75" x2="73.75" y2="528.80" stroke="#111" stroke-width="1.1"/>
<line x1="107.34" y1="526.75" x2="107.34" y2="528.80" stroke="#111" stroke-width="1.1"/>
<line x1="140.93" y1="526.75" x2="140.93" y2="528.80" stroke="#111" stroke-width="1.1"/>
<line x1="174.51" y1="526.75" x2="174.51" y2="528.80" stroke="#111" stroke-width="1.1"/>
<line x1="208.10" y1="526.75" x2="208.10" y2="528.80" stroke="#111" stroke-width="1.1"/>
<text transform="translate(70.33,543.55) scale(1.1489,1)" font-size="14.51" fill="#000" stroke="#000" stroke-width="0.1">0</text>
<text transform="translate(99.16,543.55) scale(1.0989,1)" font-size="14.51" fill="#000" stroke="#000" stroke-width="0.1">30</text>
<text transform="translate(132.31,543.55) scale(1.0827,1)" font-size="14.51" fill="#000" stroke="#000" stroke-width="0.1">60</text>
<text transform="translate(166.19,543.55) scale(1.0842,1)" font-size="14.51" fill="#000" stroke="#000" stroke-width="0.1">90</text>
<text transform="translate(200.22,543.55) scale(0.9930,1)" font-size="14.51" fill="#000" stroke="#000" stroke-width="0.1">120</text>
<text transform="translate(104.88,561.30) scale(1.1872,1)" font-size="13.52" fill="#000" stroke="#000" stroke-width="0.1">Time (min)</text>
<g transform="translate(18.7,505) rotate(-90)">
<text x="0" y="0" stroke="#000" stroke-width="0.1" font-size="15.2" textLength="89" lengthAdjust="spacingAndGlyphs">TER (Ω cm<tspan font-size="9.5" dy="-6">2</tspan><tspan dy="6">)</tspan></text>
</g>
<path d="M73.75,417.25 C79.36,417.09 96.21,415.93 107.40,416.30 C118.59,416.68 129.69,419.08 140.90,419.50 C152.11,419.92 163.45,418.00 174.65,418.80 C185.85,419.60 202.53,423.38 208.10,424.30" fill="none" stroke="#111" stroke-width="1.1"/>
<path d="M73.75,419.25 C79.36,419.59 96.21,420.36 107.40,421.30 C118.59,422.24 129.69,423.33 140.90,424.90 C152.11,426.47 163.45,428.93 174.65,430.70 C185.85,432.47 202.53,434.70 208.10,435.50" fill="none" stroke="#111" stroke-width="1.1"/>
<path d="M73.75,423.00 C79.36,423.80 96.21,425.18 107.40,427.80 C118.59,430.42 129.69,434.10 140.90,438.70 C152.11,443.30 163.45,448.65 174.65,455.40 C185.85,462.15 202.53,475.23 208.10,479.20" fill="none" stroke="#111" stroke-width="1.1"/>
<line x1="73.75" y1="409.25" x2="73.75" y2="425.25" stroke="#111" stroke-width="1.1"/>
<line x1="71.15" y1="409.25" x2="76.35" y2="409.25" stroke="#111" stroke-width="1.3"/>
<line x1="71.15" y1="425.25" x2="76.35" y2="425.25" stroke="#111" stroke-width="1.3"/>
<line x1="107.40" y1="410.30" x2="107.40" y2="422.30" stroke="#111" stroke-width="1.1"/>
<line x1="104.80" y1="410.30" x2="110.00" y2="410.30" stroke="#111" stroke-width="1.3"/>
<line x1="104.80" y1="422.30" x2="110.00" y2="422.30" stroke="#111" stroke-width="1.3"/>
<line x1="140.90" y1="414.50" x2="140.90" y2="424.50" stroke="#111" stroke-width="1.1"/>
<line x1="138.30" y1="414.50" x2="143.50" y2="414.50" stroke="#111" stroke-width="1.3"/>
<line x1="138.30" y1="424.50" x2="143.50" y2="424.50" stroke="#111" stroke-width="1.3"/>
<line x1="174.65" y1="410.80" x2="174.65" y2="426.80" stroke="#111" stroke-width="1.1"/>
<line x1="172.05" y1="410.80" x2="177.25" y2="410.80" stroke="#111" stroke-width="1.3"/>
<line x1="172.05" y1="426.80" x2="177.25" y2="426.80" stroke="#111" stroke-width="1.3"/>
<line x1="208.10" y1="415.60" x2="208.10" y2="433.00" stroke="#111" stroke-width="1.1"/>
<line x1="205.50" y1="415.60" x2="210.70" y2="415.60" stroke="#111" stroke-width="1.3"/>
<line x1="205.50" y1="433.00" x2="210.70" y2="433.00" stroke="#111" stroke-width="1.3"/>
<line x1="73.75" y1="412.25" x2="73.75" y2="426.25" stroke="#111" stroke-width="1.1"/>
<line x1="71.15" y1="412.25" x2="76.35" y2="412.25" stroke="#111" stroke-width="1.3"/>
<line x1="71.15" y1="426.25" x2="76.35" y2="426.25" stroke="#111" stroke-width="1.3"/>
<line x1="107.40" y1="412.90" x2="107.40" y2="429.70" stroke="#111" stroke-width="1.1"/>
<line x1="104.80" y1="412.90" x2="110.00" y2="412.90" stroke="#111" stroke-width="1.3"/>
<line x1="104.80" y1="429.70" x2="110.00" y2="429.70" stroke="#111" stroke-width="1.3"/>
<line x1="140.90" y1="417.90" x2="140.90" y2="431.90" stroke="#111" stroke-width="1.1"/>
<line x1="138.30" y1="417.90" x2="143.50" y2="417.90" stroke="#111" stroke-width="1.3"/>
<line x1="138.30" y1="431.90" x2="143.50" y2="431.90" stroke="#111" stroke-width="1.3"/>
<line x1="174.65" y1="421.10" x2="174.65" y2="440.30" stroke="#111" stroke-width="1.1"/>
<line x1="172.05" y1="421.10" x2="177.25" y2="421.10" stroke="#111" stroke-width="1.3"/>
<line x1="172.05" y1="440.30" x2="177.25" y2="440.30" stroke="#111" stroke-width="1.3"/>
<line x1="208.10" y1="429.50" x2="208.10" y2="441.50" stroke="#111" stroke-width="1.1"/>
<line x1="205.50" y1="429.50" x2="210.70" y2="429.50" stroke="#111" stroke-width="1.3"/>
<line x1="205.50" y1="441.50" x2="210.70" y2="441.50" stroke="#111" stroke-width="1.3"/>
<line x1="73.75" y1="413.50" x2="73.75" y2="432.50" stroke="#111" stroke-width="1.1"/>
<line x1="71.15" y1="413.50" x2="76.35" y2="413.50" stroke="#111" stroke-width="1.3"/>
<line x1="71.15" y1="432.50" x2="76.35" y2="432.50" stroke="#111" stroke-width="1.3"/>
<line x1="107.40" y1="419.80" x2="107.40" y2="435.80" stroke="#111" stroke-width="1.1"/>
<line x1="104.80" y1="419.80" x2="110.00" y2="419.80" stroke="#111" stroke-width="1.3"/>
<line x1="104.80" y1="435.80" x2="110.00" y2="435.80" stroke="#111" stroke-width="1.3"/>
<line x1="140.90" y1="432.00" x2="140.90" y2="445.40" stroke="#111" stroke-width="1.1"/>
<line x1="138.30" y1="432.00" x2="143.50" y2="432.00" stroke="#111" stroke-width="1.3"/>
<line x1="138.30" y1="445.40" x2="143.50" y2="445.40" stroke="#111" stroke-width="1.3"/>
<line x1="174.65" y1="450.40" x2="174.65" y2="460.40" stroke="#111" stroke-width="1.1"/>
<line x1="172.05" y1="450.40" x2="177.25" y2="450.40" stroke="#111" stroke-width="1.3"/>
<line x1="172.05" y1="460.40" x2="177.25" y2="460.40" stroke="#111" stroke-width="1.3"/>
<line x1="208.10" y1="473.70" x2="208.10" y2="484.70" stroke="#111" stroke-width="1.1"/>
<line x1="205.50" y1="473.70" x2="210.70" y2="473.70" stroke="#111" stroke-width="1.3"/>
<line x1="205.50" y1="484.70" x2="210.70" y2="484.70" stroke="#111" stroke-width="1.3"/>
<path d="M70.95,420.76 L76.55,420.76 L73.75,425.80 Z" fill="#111"/>
<path d="M104.60,425.56 L110.20,425.56 L107.40,430.60 Z" fill="#111"/>
<path d="M138.10,436.46 L143.70,436.46 L140.90,441.50 Z" fill="#111"/>
<path d="M171.85,453.16 L177.45,453.16 L174.65,458.20 Z" fill="#111"/>
<path d="M205.30,476.96 L210.90,476.96 L208.10,482.00 Z" fill="#111"/>
<circle cx="73.75" cy="417.25" r="2.0" fill="#111"/>
<circle cx="107.40" cy="416.30" r="2.0" fill="#111"/>
<circle cx="140.90" cy="419.50" r="2.0" fill="#111"/>
<circle cx="174.65" cy="418.80" r="2.0" fill="#111"/>
<circle cx="208.10" cy="424.30" r="2.0" fill="#111"/>
<circle cx="73.75" cy="419.25" r="1.9" fill="#fff" stroke="#111" stroke-width="1.2"/>
<circle cx="107.40" cy="421.30" r="1.9" fill="#fff" stroke="#111" stroke-width="1.2"/>
<circle cx="140.90" cy="424.90" r="1.9" fill="#fff" stroke="#111" stroke-width="1.2"/>
<circle cx="174.65" cy="430.70" r="1.9" fill="#fff" stroke="#111" stroke-width="1.2"/>
<circle cx="208.10" cy="435.50" r="1.9" fill="#fff" stroke="#111" stroke-width="1.2"/>
<text transform="translate(186.75,408.80) scale(1.0452,1)" font-size="12.55" fill="#000" stroke="#000" stroke-width="0.1">Normoxia</text>
<text x="215.54" y="448.38" font-size="12.39" letter-spacing="1.56" fill="#6ab262" stroke="#6ab262" stroke-width="0.1">OGD</text>
<text x="218.66" y="464.90" font-size="12.86" letter-spacing="1.15" fill="#6ab262" stroke="#6ab262" stroke-width="0.1">+PS</text>
<text x="107.09" y="461.86" font-size="13.66" letter-spacing="1.82" fill="#bf2238" stroke="#bf2238" stroke-width="0.1">OGD</text>
<line x1="111.50" y1="476.90" x2="118.20" y2="476.90" stroke="#bf2238" stroke-width="1.2"/>
<text x="121.21" y="480.30" font-size="13.57" letter-spacing="0.15" fill="#bf2238" stroke="#bf2238" stroke-width="0.1">PS</text>
<line x1="170.00" y1="469.80" x2="178.00" y2="469.80" stroke="#111" stroke-width="1.5"/>
<line x1="172.00" y1="466.34" x2="176.00" y2="473.26" stroke="#111" stroke-width="1.5"/>
<line x1="176.00" y1="466.34" x2="172.00" y2="473.26" stroke="#111" stroke-width="1.5"/>
<path d="M206.94,487.90L206.17,497.30M209.30,487.90L208.53,497.30M204.70,491.00H210.60M204.70,494.10H210.20" stroke="#111" stroke-width="1.0" fill="none"/>
<text transform="translate(271.74,380.13) scale(0.9062,1)" font-size="26.62" fill="#000" stroke="#000" stroke-width="0" font-weight="bold">C</text>
<line x1="325.50" y1="417.50" x2="325.50" y2="527.10" stroke="#111" stroke-width="1.5"/>
<line x1="323.20" y1="526.50" x2="502.00" y2="526.50" stroke="#111" stroke-width="1.3"/>
<line x1="323.00" y1="432.20" x2="325.50" y2="432.20" stroke="#111" stroke-width="1.1"/>
<line x1="323.00" y1="460.25" x2="325.50" y2="460.25" stroke="#111" stroke-width="1.1"/>
<line x1="323.00" y1="488.30" x2="325.50" y2="488.30" stroke="#111" stroke-width="1.1"/>
<text transform="translate(312.63,436.40) scale(0.9481,1)" font-size="14.20" fill="#000" stroke="#000" stroke-width="0.1">4</text>
<text transform="translate(312.64,464.55) scale(0.9448,1)" font-size="14.93" fill="#000" stroke="#000" stroke-width="0.1">3</text>
<text transform="translate(312.35,494.80) scale(0.9687,1)" font-size="15.43" fill="#000" stroke="#000" stroke-width="0.1">2</text>
<line x1="339.30" y1="526.50" x2="339.30" y2="528.60" stroke="#111" stroke-width="1.1"/>
<line x1="374.27" y1="526.50" x2="374.27" y2="528.60" stroke="#111" stroke-width="1.1"/>
<line x1="409.25" y1="526.50" x2="409.25" y2="528.60" stroke="#111" stroke-width="1.1"/>
<line x1="444.22" y1="526.50" x2="444.22" y2="528.60" stroke="#111" stroke-width="1.1"/>
<line x1="479.20" y1="526.50" x2="479.20" y2="528.60" stroke="#111" stroke-width="1.1"/>
<text transform="translate(335.77,543.86) scale(0.9660,1)" font-size="13.80" fill="#000" stroke="#000" stroke-width="0.1">0</text>
<text transform="translate(368.44,543.86) scale(1.0220,1)" font-size="13.80" fill="#000" stroke="#000" stroke-width="0.1">30</text>
<text transform="translate(402.58,543.86) scale(1.0461,1)" font-size="13.80" fill="#000" stroke="#000" stroke-width="0.1">60</text>
<text transform="translate(437.96,543.86) scale(1.0269,1)" font-size="13.80" fill="#000" stroke="#000" stroke-width="0.1">90</text>
<text transform="translate(469.86,543.86) scale(1.0064,1)" font-size="13.80" fill="#000" stroke="#000" stroke-width="0.1">120</text>
<text transform="translate(393.21,558.80) scale(1.0419,1)" font-size="13.79" fill="#000" stroke="#000" stroke-width="0.1">Time (min)</text>
<g transform="translate(297.7,518) rotate(-90)">
<text x="0" y="0" stroke="#000" stroke-width="0.1" font-size="14" textLength="96.5" lengthAdjust="spacingAndGlyphs">P (cm s<tspan font-size="8.5" dy="-6">-1</tspan><tspan dy="6"> x10</tspan><tspan font-size="8.5" dy="-6">-6</tspan><tspan dy="6">)</tspan></text>
</g>
<path d="M339.30,495.80 C345.10,495.28 362.43,493.42 374.10,492.70 C385.77,491.98 397.58,492.37 409.30,491.50 C421.02,490.63 432.73,488.32 444.40,487.50 C456.07,486.68 473.48,486.75 479.30,486.60" fill="none" stroke="#111" stroke-width="1.1"/>
<path d="M339.30,492.60 C345.10,491.95 362.43,489.98 374.10,488.70 C385.77,487.42 397.58,486.10 409.30,484.90 C421.02,483.70 432.73,482.73 444.40,481.50 C456.07,480.27 473.48,478.17 479.30,477.50" fill="none" stroke="#111" stroke-width="1.1"/>
<path d="M339.30,488.20 C345.10,486.93 362.43,483.07 374.10,480.60 C385.77,478.13 397.58,476.45 409.30,473.40 C421.02,470.35 432.73,467.98 444.40,462.30 C456.07,456.62 473.48,443.13 479.30,439.30" fill="none" stroke="#111" stroke-width="1.1"/>
<line x1="339.30" y1="492.30" x2="339.30" y2="499.30" stroke="#111" stroke-width="1.1"/>
<line x1="336.70" y1="492.30" x2="341.90" y2="492.30" stroke="#111" stroke-width="1.3"/>
<line x1="336.70" y1="499.30" x2="341.90" y2="499.30" stroke="#111" stroke-width="1.3"/>
<line x1="374.10" y1="490.50" x2="374.10" y2="494.90" stroke="#111" stroke-width="1.1"/>
<line x1="371.50" y1="490.50" x2="376.70" y2="490.50" stroke="#111" stroke-width="1.3"/>
<line x1="371.50" y1="494.90" x2="376.70" y2="494.90" stroke="#111" stroke-width="1.3"/>
<line x1="409.30" y1="488.40" x2="409.30" y2="494.60" stroke="#111" stroke-width="1.1"/>
<line x1="406.70" y1="488.40" x2="411.90" y2="488.40" stroke="#111" stroke-width="1.3"/>
<line x1="406.70" y1="494.60" x2="411.90" y2="494.60" stroke="#111" stroke-width="1.3"/>
<line x1="444.40" y1="483.50" x2="444.40" y2="491.50" stroke="#111" stroke-width="1.1"/>
<line x1="441.80" y1="483.50" x2="447.00" y2="483.50" stroke="#111" stroke-width="1.3"/>
<line x1="441.80" y1="491.50" x2="447.00" y2="491.50" stroke="#111" stroke-width="1.3"/>
<line x1="479.30" y1="482.80" x2="479.30" y2="490.40" stroke="#111" stroke-width="1.1"/>
<line x1="476.70" y1="482.80" x2="481.90" y2="482.80" stroke="#111" stroke-width="1.3"/>
<line x1="476.70" y1="490.40" x2="481.90" y2="490.40" stroke="#111" stroke-width="1.3"/>
<line x1="339.30" y1="488.60" x2="339.30" y2="496.60" stroke="#111" stroke-width="1.1"/>
<line x1="336.70" y1="488.60" x2="341.90" y2="488.60" stroke="#111" stroke-width="1.3"/>
<line x1="336.70" y1="496.60" x2="341.90" y2="496.60" stroke="#111" stroke-width="1.3"/>
<line x1="374.10" y1="484.70" x2="374.10" y2="492.70" stroke="#111" stroke-width="1.1"/>
<line x1="371.50" y1="484.70" x2="376.70" y2="484.70" stroke="#111" stroke-width="1.3"/>
<line x1="371.50" y1="492.70" x2="376.70" y2="492.70" stroke="#111" stroke-width="1.3"/>
<line x1="409.30" y1="480.90" x2="409.30" y2="488.90" stroke="#111" stroke-width="1.1"/>
<line x1="406.70" y1="480.90" x2="411.90" y2="480.90" stroke="#111" stroke-width="1.3"/>
<line x1="406.70" y1="488.90" x2="411.90" y2="488.90" stroke="#111" stroke-width="1.3"/>
<line x1="444.40" y1="477.50" x2="444.40" y2="485.50" stroke="#111" stroke-width="1.1"/>
<line x1="441.80" y1="477.50" x2="447.00" y2="477.50" stroke="#111" stroke-width="1.3"/>
<line x1="441.80" y1="485.50" x2="447.00" y2="485.50" stroke="#111" stroke-width="1.3"/>
<line x1="479.30" y1="471.50" x2="479.30" y2="483.50" stroke="#111" stroke-width="1.1"/>
<line x1="476.70" y1="471.50" x2="481.90" y2="471.50" stroke="#111" stroke-width="1.3"/>
<line x1="476.70" y1="483.50" x2="481.90" y2="483.50" stroke="#111" stroke-width="1.3"/>
<line x1="339.30" y1="484.70" x2="339.30" y2="491.70" stroke="#111" stroke-width="1.1"/>
<line x1="336.70" y1="484.70" x2="341.90" y2="484.70" stroke="#111" stroke-width="1.3"/>
<line x1="336.70" y1="491.70" x2="341.90" y2="491.70" stroke="#111" stroke-width="1.3"/>
<line x1="374.10" y1="477.40" x2="374.10" y2="483.80" stroke="#111" stroke-width="1.1"/>
<line x1="371.50" y1="477.40" x2="376.70" y2="477.40" stroke="#111" stroke-width="1.3"/>
<line x1="371.50" y1="483.80" x2="376.70" y2="483.80" stroke="#111" stroke-width="1.3"/>
<line x1="409.30" y1="465.90" x2="409.30" y2="480.90" stroke="#111" stroke-width="1.1"/>
<line x1="406.70" y1="465.90" x2="411.90" y2="465.90" stroke="#111" stroke-width="1.3"/>
<line x1="406.70" y1="480.90" x2="411.90" y2="480.90" stroke="#111" stroke-width="1.3"/>
<line x1="444.40" y1="454.80" x2="444.40" y2="469.80" stroke="#111" stroke-width="1.1"/>
<line x1="441.80" y1="454.80" x2="447.00" y2="454.80" stroke="#111" stroke-width="1.3"/>
<line x1="441.80" y1="469.80" x2="447.00" y2="469.80" stroke="#111" stroke-width="1.3"/>
<line x1="479.30" y1="431.00" x2="479.30" y2="447.60" stroke="#111" stroke-width="1.1"/>
<line x1="476.70" y1="431.00" x2="481.90" y2="431.00" stroke="#111" stroke-width="1.3"/>
<line x1="476.70" y1="447.60" x2="481.90" y2="447.60" stroke="#111" stroke-width="1.3"/>
<path d="M336.50,485.96 L342.10,485.96 L339.30,491.00 Z" fill="#111"/>
<path d="M371.30,478.36 L376.90,478.36 L374.10,483.40 Z" fill="#111"/>
<path d="M406.50,471.16 L412.10,471.16 L409.30,476.20 Z" fill="#111"/>
<path d="M441.60,460.06 L447.20,460.06 L444.40,465.10 Z" fill="#111"/>
<path d="M476.50,437.06 L482.10,437.06 L479.30,442.10 Z" fill="#111"/>
<circle cx="339.30" cy="495.80" r="2.0" fill="#111"/>
<circle cx="374.10" cy="492.70" r="2.0" fill="#111"/>
<circle cx="409.30" cy="491.50" r="2.0" fill="#111"/>
<circle cx="444.40" cy="487.50" r="2.0" fill="#111"/>
<circle cx="479.30" cy="486.60" r="2.0" fill="#111"/>
<circle cx="339.30" cy="492.60" r="1.9" fill="#fff" stroke="#111" stroke-width="1.2"/>
<circle cx="374.10" cy="488.70" r="1.9" fill="#fff" stroke="#111" stroke-width="1.2"/>
<circle cx="409.30" cy="484.90" r="1.9" fill="#fff" stroke="#111" stroke-width="1.2"/>
<circle cx="444.40" cy="481.50" r="1.9" fill="#fff" stroke="#111" stroke-width="1.2"/>
<circle cx="479.30" cy="477.50" r="1.9" fill="#fff" stroke="#111" stroke-width="1.2"/>
<text x="392.98" y="441.76" font-size="13.80" letter-spacing="1.47" fill="#bf2238" stroke="#bf2238" stroke-width="0.1">OGD</text>
<line x1="396.70" y1="456.30" x2="403.60" y2="456.30" stroke="#bf2238" stroke-width="1.2"/>
<text x="406.60" y="459.80" font-size="13.71" letter-spacing="-0.13" fill="#bf2238" stroke="#bf2238" stroke-width="0.1">PS</text>
<text x="484.02" y="466.37" font-size="12.96" letter-spacing="2.39" fill="#6ab262" stroke="#6ab262" stroke-width="0.1">OGD</text>
<text x="488.54" y="484.20" font-size="13.14" letter-spacing="1.14" fill="#6ab262" stroke="#6ab262" stroke-width="0.1">+PS</text>
<text transform="translate(450.04,509.90) scale(1.0992,1)" font-size="12.00" fill="#000" stroke="#000" stroke-width="0.1">Normoxia</text>
<line x1="440.20" y1="444.50" x2="448.20" y2="444.50" stroke="#111" stroke-width="1.5"/>
<line x1="442.20" y1="441.04" x2="446.20" y2="447.96" stroke="#111" stroke-width="1.5"/>
<line x1="446.20" y1="441.04" x2="442.20" y2="447.96" stroke="#111" stroke-width="1.5"/>
<path d="M478.97,416.20L478.23,424.90M481.25,416.20L480.50,424.90M476.80,419.07H482.50M476.80,421.94H482.10" stroke="#111" stroke-width="1.0" fill="none"/>
<text transform="translate(2.15,604.10) scale(0.9778,1)" font-size="25.94" fill="#000" stroke="#000" stroke-width="0" font-weight="bold">D</text>
<line x1="57.40" y1="622.20" x2="57.40" y2="760.00" stroke="#111" stroke-width="1.4"/>
<line x1="55.20" y1="759.35" x2="219.60" y2="759.35" stroke="#111" stroke-width="1.3"/>
<line x1="55.20" y1="639.55" x2="57.40" y2="639.55" stroke="#111" stroke-width="1.1"/>
<text transform="translate(26.05,642.40) scale(0.9953,1)" font-size="15.07" fill="#000" stroke="#000" stroke-width="0.1">250</text>
<line x1="55.20" y1="679.55" x2="57.40" y2="679.55" stroke="#111" stroke-width="1.1"/>
<text transform="translate(26.05,682.40) scale(0.9953,1)" font-size="15.07" fill="#000" stroke="#000" stroke-width="0.1">200</text>
<line x1="55.20" y1="719.55" x2="57.40" y2="719.55" stroke="#111" stroke-width="1.1"/>
<text transform="translate(25.66,722.40) scale(1.0113,1)" font-size="15.07" fill="#000" stroke="#000" stroke-width="0.1">150</text>
<line x1="55.20" y1="759.55" x2="57.40" y2="759.55" stroke="#111" stroke-width="1.1"/>
<text transform="translate(26.50,762.40) scale(0.9772,1)" font-size="15.07" fill="#000" stroke="#000" stroke-width="0.1">100</text>
<line x1="67.60" y1="759.35" x2="67.60" y2="761.70" stroke="#111" stroke-width="1.1"/>
<line x1="113.22" y1="759.35" x2="113.22" y2="761.70" stroke="#111" stroke-width="1.1"/>
<line x1="158.85" y1="759.35" x2="158.85" y2="761.70" stroke="#111" stroke-width="1.1"/>
<line x1="204.47" y1="759.35" x2="204.47" y2="761.70" stroke="#111" stroke-width="1.1"/>
<text transform="translate(64.94,777.66) scale(1.0217,1)" font-size="13.66" fill="#000" stroke="#000" stroke-width="0.1">0</text>
<text transform="translate(107.54,777.66) scale(1.0325,1)" font-size="13.66" fill="#000" stroke="#000" stroke-width="0.1">50</text>
<text transform="translate(150.42,777.66) scale(1.0544,1)" font-size="13.66" fill="#000" stroke="#000" stroke-width="0.1">100</text>
<text transform="translate(195.08,777.66) scale(0.9979,1)" font-size="13.66" fill="#000" stroke="#000" stroke-width="0.1">150</text>
<text transform="translate(126.59,796.50) scale(1.0489,1)" font-size="13.79" fill="#000" stroke="#000" stroke-width="0.1">PS (nM)</text>
<g transform="translate(15.7,736) rotate(-90)">
<text x="0" y="0" stroke="#000" stroke-width="0.1" font-size="15" textLength="86" lengthAdjust="spacingAndGlyphs">TER (Ω cm<tspan font-size="9.5" dy="-6">2</tspan><tspan dy="6">)</tspan></text>
</g>
<path d="M69.20,723.10 C70.75,719.45 74.73,708.43 78.50,701.20 C82.27,693.97 85.78,685.87 91.80,679.70 C97.82,673.53 103.28,668.63 114.60,664.20 C125.92,659.77 144.57,655.80 159.70,653.10 C174.83,650.40 197.78,648.85 205.40,648.00" fill="none" stroke="#111" stroke-width="1.1"/>
<line x1="69.20" y1="719.10" x2="69.20" y2="727.10" stroke="#111" stroke-width="1.1"/>
<line x1="66.80" y1="719.10" x2="71.60" y2="719.10" stroke="#111" stroke-width="1.3"/>
<line x1="66.80" y1="727.10" x2="71.60" y2="727.10" stroke="#111" stroke-width="1.3"/>
<ellipse cx="69.2" cy="723.1" rx="1.9" ry="2.4" fill="#111"/>
<line x1="78.50" y1="697.20" x2="78.50" y2="705.20" stroke="#111" stroke-width="1.1"/>
<line x1="76.10" y1="697.20" x2="80.90" y2="697.20" stroke="#111" stroke-width="1.3"/>
<line x1="76.10" y1="705.20" x2="80.90" y2="705.20" stroke="#111" stroke-width="1.3"/>
<ellipse cx="78.5" cy="701.2" rx="1.9" ry="2.4" fill="#111"/>
<line x1="91.80" y1="673.70" x2="91.80" y2="685.70" stroke="#111" stroke-width="1.1"/>
<line x1="89.40" y1="673.70" x2="94.20" y2="673.70" stroke="#111" stroke-width="1.3"/>
<line x1="89.40" y1="685.70" x2="94.20" y2="685.70" stroke="#111" stroke-width="1.3"/>
<ellipse cx="91.8" cy="679.7" rx="1.9" ry="2.4" fill="#111"/>
<line x1="114.60" y1="658.20" x2="114.60" y2="670.20" stroke="#111" stroke-width="1.1"/>
<line x1="112.20" y1="658.20" x2="117.00" y2="658.20" stroke="#111" stroke-width="1.3"/>
<line x1="112.20" y1="670.20" x2="117.00" y2="670.20" stroke="#111" stroke-width="1.3"/>
<ellipse cx="114.6" cy="664.2" rx="1.9" ry="2.4" fill="#111"/>
<line x1="159.70" y1="647.10" x2="159.70" y2="659.10" stroke="#111" stroke-width="1.1"/>
<line x1="157.30" y1="647.10" x2="162.10" y2="647.10" stroke="#111" stroke-width="1.3"/>
<line x1="157.30" y1="659.10" x2="162.10" y2="659.10" stroke="#111" stroke-width="1.3"/>
<ellipse cx="159.7" cy="653.1" rx="1.9" ry="2.4" fill="#111"/>
<line x1="205.40" y1="640.40" x2="205.40" y2="655.60" stroke="#111" stroke-width="1.1"/>
<line x1="203.00" y1="640.40" x2="207.80" y2="640.40" stroke="#111" stroke-width="1.3"/>
<line x1="203.00" y1="655.60" x2="207.80" y2="655.60" stroke="#111" stroke-width="1.3"/>
<ellipse cx="205.4" cy="648.0" rx="1.9" ry="2.4" fill="#111"/>
<line x1="68.75" y1="630.60" x2="68.75" y2="644.60" stroke="#111" stroke-width="1.1"/>
<line x1="66.35" y1="630.60" x2="71.15" y2="630.60" stroke="#111" stroke-width="1.3"/>
<line x1="66.35" y1="644.60" x2="71.15" y2="644.60" stroke="#111" stroke-width="1.3"/>
<path d="M65.65,635.32 L71.85,635.32 L68.75,640.90 Z" fill="#3a1010"/>
<text transform="translate(78.35,641.25) scale(0.9494,1)" font-size="13.79" fill="#c8182e" stroke="#c8182e" stroke-width="0.1">Normoxia</text>
<text transform="translate(132.49,687.96) scale(0.9553,1)" font-size="14.08" fill="#000" stroke="#000" stroke-width="0.1">OGD</text>
<text transform="translate(275.30,603.50) scale(0.9379,1)" font-size="26.23" fill="#000" stroke="#000" stroke-width="0" font-weight="bold">E</text>
<line x1="325.60" y1="619.40" x2="325.60" y2="759.50" stroke="#111" stroke-width="1.4"/>
<line x1="324.90" y1="758.85" x2="478.50" y2="758.85" stroke="#111" stroke-width="1.3"/>
<line x1="322.00" y1="633.70" x2="325.60" y2="633.70" stroke="#111" stroke-width="1.1"/>
<line x1="322.00" y1="675.45" x2="325.60" y2="675.45" stroke="#111" stroke-width="1.1"/>
<line x1="322.00" y1="717.20" x2="325.60" y2="717.20" stroke="#111" stroke-width="1.1"/>
<text transform="translate(311.22,638.70) scale(0.9470,1)" font-size="14.64" fill="#000" stroke="#000" stroke-width="0.1">4</text>
<text transform="translate(311.42,680.75) scale(0.9462,1)" font-size="15.35" fill="#000" stroke="#000" stroke-width="0.1">3</text>
<text transform="translate(311.29,723.90) scale(0.9174,1)" font-size="15.57" fill="#000" stroke="#000" stroke-width="0.1">2</text>
<line x1="341.50" y1="758.85" x2="341.50" y2="761.00" stroke="#111" stroke-width="1.1"/>
<line x1="384.06" y1="758.85" x2="384.06" y2="761.00" stroke="#111" stroke-width="1.1"/>
<line x1="426.63" y1="758.85" x2="426.63" y2="761.00" stroke="#111" stroke-width="1.1"/>
<line x1="469.19" y1="758.85" x2="469.19" y2="761.00" stroke="#111" stroke-width="1.1"/>
<text transform="translate(337.93,776.47) scale(1.0743,1)" font-size="13.38" fill="#000" stroke="#000" stroke-width="0.1">0</text>
<text transform="translate(377.12,776.47) scale(1.0904,1)" font-size="13.38" fill="#000" stroke="#000" stroke-width="0.1">50</text>
<text transform="translate(416.35,776.47) scale(1.0478,1)" font-size="13.38" fill="#000" stroke="#000" stroke-width="0.1">100</text>
<text transform="translate(458.96,776.47) scale(1.0333,1)" font-size="13.38" fill="#000" stroke="#000" stroke-width="0.1">150</text>
<text transform="translate(394.33,794.60) scale(1.1055,1)" font-size="13.24" fill="#000" stroke="#000" stroke-width="0.1">PS (nM)</text>
<g transform="translate(301,733) rotate(-90)">
<text x="0" y="0" stroke="#000" stroke-width="0.1" font-size="14.5" textLength="98" lengthAdjust="spacingAndGlyphs">P (cm s<tspan font-size="8.5" dy="-6">-1</tspan><tspan dy="6"> x10</tspan><tspan font-size="8.5" dy="-6">-6</tspan><tspan dy="6">)</tspan></text>
</g>
<path d="M342.30,631.50 C343.72,635.35 347.27,647.07 350.80,654.60 C354.33,662.13 357.95,670.00 363.50,676.70 C369.05,683.40 373.68,689.67 384.10,694.80 C394.52,699.93 411.97,704.33 426.00,707.50 C440.03,710.67 461.25,712.75 468.30,713.80" fill="none" stroke="#111" stroke-width="1.1"/>
<line x1="342.30" y1="627.50" x2="342.30" y2="635.50" stroke="#111" stroke-width="1.1"/>
<line x1="339.90" y1="627.50" x2="344.70" y2="627.50" stroke="#111" stroke-width="1.3"/>
<line x1="339.90" y1="635.50" x2="344.70" y2="635.50" stroke="#111" stroke-width="1.3"/>
<ellipse cx="342.3" cy="631.5" rx="1.9" ry="2.4" fill="#111"/>
<line x1="350.80" y1="649.60" x2="350.80" y2="659.60" stroke="#111" stroke-width="1.1"/>
<line x1="348.40" y1="649.60" x2="353.20" y2="649.60" stroke="#111" stroke-width="1.3"/>
<line x1="348.40" y1="659.60" x2="353.20" y2="659.60" stroke="#111" stroke-width="1.3"/>
<ellipse cx="350.8" cy="654.6" rx="1.9" ry="2.4" fill="#111"/>
<line x1="363.50" y1="673.20" x2="363.50" y2="680.20" stroke="#111" stroke-width="1.1"/>
<line x1="361.10" y1="673.20" x2="365.90" y2="673.20" stroke="#111" stroke-width="1.3"/>
<line x1="361.10" y1="680.20" x2="365.90" y2="680.20" stroke="#111" stroke-width="1.3"/>
<ellipse cx="363.5" cy="676.7" rx="1.9" ry="2.4" fill="#111"/>
<line x1="384.10" y1="689.00" x2="384.10" y2="700.60" stroke="#111" stroke-width="1.1"/>
<line x1="381.70" y1="689.00" x2="386.50" y2="689.00" stroke="#111" stroke-width="1.3"/>
<line x1="381.70" y1="700.60" x2="386.50" y2="700.60" stroke="#111" stroke-width="1.3"/>
<ellipse cx="384.1" cy="694.8" rx="1.9" ry="2.4" fill="#111"/>
<line x1="426.00" y1="702.80" x2="426.00" y2="712.20" stroke="#111" stroke-width="1.1"/>
<line x1="423.60" y1="702.80" x2="428.40" y2="702.80" stroke="#111" stroke-width="1.3"/>
<line x1="423.60" y1="712.20" x2="428.40" y2="712.20" stroke="#111" stroke-width="1.3"/>
<ellipse cx="426.0" cy="707.5" rx="1.9" ry="2.4" fill="#111"/>
<line x1="468.30" y1="709.60" x2="468.30" y2="718.00" stroke="#111" stroke-width="1.1"/>
<line x1="465.90" y1="709.60" x2="470.70" y2="709.60" stroke="#111" stroke-width="1.3"/>
<line x1="465.90" y1="718.00" x2="470.70" y2="718.00" stroke="#111" stroke-width="1.3"/>
<ellipse cx="468.3" cy="713.8" rx="1.9" ry="2.4" fill="#111"/>
<line x1="342.00" y1="716.90" x2="342.00" y2="725.40" stroke="#111" stroke-width="1.1"/>
<line x1="339.60" y1="716.90" x2="344.40" y2="716.90" stroke="#111" stroke-width="1.3"/>
<line x1="339.60" y1="725.40" x2="344.40" y2="725.40" stroke="#111" stroke-width="1.3"/>
<path d="M338.90,718.82 L345.10,718.82 L342.00,724.40 Z" fill="#3a1010"/>
<text transform="translate(352.45,730.30) scale(0.9688,1)" font-size="13.52" fill="#c8182e" stroke="#c8182e" stroke-width="0.1">Normoxia</text>
<text transform="translate(385.90,678.56) scale(0.9815,1)" font-size="13.66" fill="#000" stroke="#000" stroke-width="0.1">OGD</text>
</svg></body></html>
